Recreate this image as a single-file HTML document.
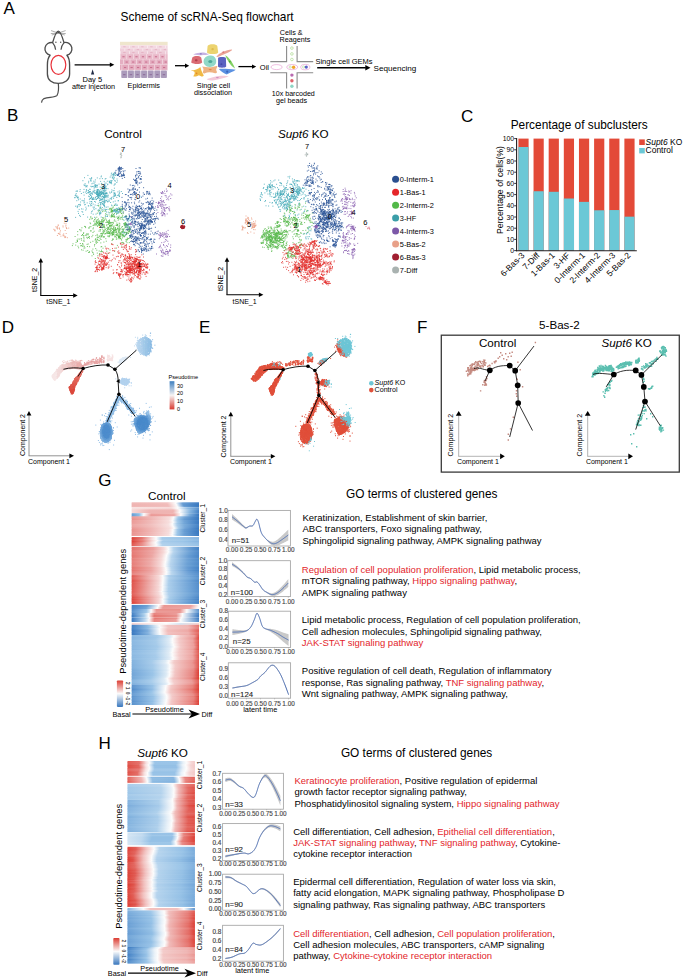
<!DOCTYPE html>
<html><head><meta charset="utf-8"><title>scRNA-Seq figure</title>
<style>html,body{margin:0;padding:0;background:#fff;overflow:hidden;}svg{display:block;}text{font-family:"Liberation Sans", sans-serif;}</style>
</head><body>
<svg width="685" height="980" viewBox="0 0 685 980" font-family='"Liberation Sans", sans-serif'>
<defs><clipPath id="epi"><rect x="120" y="41" width="47.8" height="38"/></clipPath><linearGradient id="h1"><stop offset="0.000" stop-color="#f0b8b6"/><stop offset="0.530" stop-color="#f1bfbe"/><stop offset="0.660" stop-color="#fcfcfc"/><stop offset="0.760" stop-color="#6da1d5"/><stop offset="1.000" stop-color="#3878c0"/></linearGradient><linearGradient id="h2"><stop offset="0.000" stop-color="#efb5b3"/><stop offset="0.523" stop-color="#f1bdbb"/><stop offset="0.653" stop-color="#fcfcfc"/><stop offset="0.753" stop-color="#679cd3"/><stop offset="1.000" stop-color="#3878c0"/></linearGradient><linearGradient id="h3"><stop offset="0.000" stop-color="#efb4b2"/><stop offset="0.533" stop-color="#f1bcba"/><stop offset="0.663" stop-color="#fcfcfc"/><stop offset="0.763" stop-color="#649bd2"/><stop offset="1.000" stop-color="#3878c0"/></linearGradient><linearGradient id="h4"><stop offset="0.000" stop-color="#efb3b1"/><stop offset="0.544" stop-color="#f0bbba"/><stop offset="0.674" stop-color="#fcfcfc"/><stop offset="0.774" stop-color="#639ad2"/><stop offset="1.000" stop-color="#3878c0"/></linearGradient><linearGradient id="h5"><stop offset="0.000" stop-color="#f1bcba"/><stop offset="0.554" stop-color="#f2c3c2"/><stop offset="0.684" stop-color="#fcfcfc"/><stop offset="0.784" stop-color="#76a8d9"/><stop offset="1.000" stop-color="#3e7cc2"/></linearGradient><linearGradient id="h6"><stop offset="0.000" stop-color="#f7e1e0"/><stop offset="0.584" stop-color="#f5d4d3"/><stop offset="0.684" stop-color="#fcfcfc"/><stop offset="0.834" stop-color="#8ebbe3"/><stop offset="1.000" stop-color="#5992ce"/></linearGradient><linearGradient id="h7"><stop offset="0.000" stop-color="#f7dfde"/><stop offset="0.584" stop-color="#f4d1d0"/><stop offset="0.684" stop-color="#fcfcfc"/><stop offset="0.834" stop-color="#86b5e0"/><stop offset="1.000" stop-color="#4d89c9"/></linearGradient><linearGradient id="h8"><stop offset="0.000" stop-color="#f6d9d8"/><stop offset="0.265" stop-color="#f0b7b5"/><stop offset="0.615" stop-color="#f0b7b5"/><stop offset="0.715" stop-color="#fcfcfc"/><stop offset="0.865" stop-color="#8bb9e2"/><stop offset="1.000" stop-color="#4b87c8"/></linearGradient><linearGradient id="h9"><stop offset="0.000" stop-color="#f6d8d7"/><stop offset="0.269" stop-color="#efb4b2"/><stop offset="0.619" stop-color="#efb4b2"/><stop offset="0.719" stop-color="#fcfcfc"/><stop offset="0.869" stop-color="#86b5e0"/><stop offset="1.000" stop-color="#4481c5"/></linearGradient><linearGradient id="h10"><stop offset="0.000" stop-color="#f6d8d7"/><stop offset="0.260" stop-color="#efb4b2"/><stop offset="0.610" stop-color="#efb4b2"/><stop offset="0.710" stop-color="#fcfcfc"/><stop offset="0.860" stop-color="#87b6e0"/><stop offset="1.000" stop-color="#4582c5"/></linearGradient><linearGradient id="h11"><stop offset="0.000" stop-color="#689ed4"/><stop offset="0.111" stop-color="#91bee4"/><stop offset="0.181" stop-color="#fcfcfc"/><stop offset="0.291" stop-color="#ec9e9b"/><stop offset="0.631" stop-color="#eeaba8"/><stop offset="0.731" stop-color="#fcfcfc"/><stop offset="0.861" stop-color="#7daedc"/><stop offset="1.000" stop-color="#3878c0"/></linearGradient><linearGradient id="h12"><stop offset="0.000" stop-color="#649bd2"/><stop offset="0.108" stop-color="#8ebce3"/><stop offset="0.178" stop-color="#fcfcfc"/><stop offset="0.288" stop-color="#eb9a97"/><stop offset="0.628" stop-color="#eda7a5"/><stop offset="0.728" stop-color="#fcfcfc"/><stop offset="0.858" stop-color="#79abdb"/><stop offset="1.000" stop-color="#3878c0"/></linearGradient><linearGradient id="h13"><stop offset="0.000" stop-color="#649ad2"/><stop offset="0.112" stop-color="#8ebbe3"/><stop offset="0.182" stop-color="#fcfcfc"/><stop offset="0.292" stop-color="#eb9a96"/><stop offset="0.632" stop-color="#eda7a4"/><stop offset="0.732" stop-color="#fcfcfc"/><stop offset="0.862" stop-color="#79abda"/><stop offset="1.000" stop-color="#3878c0"/></linearGradient><linearGradient id="h14"><stop offset="0.000" stop-color="#ea9793"/><stop offset="0.294" stop-color="#f0b8b6"/><stop offset="0.564" stop-color="#f7dedd"/><stop offset="0.624" stop-color="#fcfcfc"/><stop offset="0.694" stop-color="#9fc7e8"/><stop offset="0.794" stop-color="#6da1d6"/><stop offset="1.000" stop-color="#3878c0"/></linearGradient><linearGradient id="h15"><stop offset="0.000" stop-color="#eb9995"/><stop offset="0.291" stop-color="#f0b9b7"/><stop offset="0.561" stop-color="#f7dedd"/><stop offset="0.621" stop-color="#fcfcfc"/><stop offset="0.691" stop-color="#a0c8e9"/><stop offset="0.791" stop-color="#6fa3d6"/><stop offset="1.000" stop-color="#3878c0"/></linearGradient><linearGradient id="h16"><stop offset="0.000" stop-color="#e98e89"/><stop offset="0.284" stop-color="#efb4b2"/><stop offset="0.554" stop-color="#f6dcdb"/><stop offset="0.614" stop-color="#fcfcfc"/><stop offset="0.684" stop-color="#99c4e7"/><stop offset="0.784" stop-color="#649bd2"/><stop offset="1.000" stop-color="#3878c0"/></linearGradient><linearGradient id="h17"><stop offset="0.000" stop-color="#eb9995"/><stop offset="0.275" stop-color="#f0b9b7"/><stop offset="0.545" stop-color="#f7dedd"/><stop offset="0.605" stop-color="#fcfcfc"/><stop offset="0.675" stop-color="#a0c8e9"/><stop offset="0.775" stop-color="#6fa3d6"/><stop offset="1.000" stop-color="#3878c0"/></linearGradient><linearGradient id="h18"><stop offset="0.000" stop-color="#eb9995"/><stop offset="0.283" stop-color="#f0b9b7"/><stop offset="0.553" stop-color="#f7dedd"/><stop offset="0.613" stop-color="#fcfcfc"/><stop offset="0.683" stop-color="#a0c8e9"/><stop offset="0.783" stop-color="#6fa3d6"/><stop offset="1.000" stop-color="#3878c0"/></linearGradient><linearGradient id="h19"><stop offset="0.000" stop-color="#eb9c99"/><stop offset="0.286" stop-color="#f0bbb9"/><stop offset="0.556" stop-color="#f7dfde"/><stop offset="0.616" stop-color="#fcfcfc"/><stop offset="0.686" stop-color="#a2c9e9"/><stop offset="0.786" stop-color="#72a6d8"/><stop offset="1.000" stop-color="#3979c0"/></linearGradient><linearGradient id="h20"><stop offset="0.000" stop-color="#ec9e9a"/><stop offset="0.274" stop-color="#f0bbba"/><stop offset="0.544" stop-color="#f7dfde"/><stop offset="0.604" stop-color="#fcfcfc"/><stop offset="0.674" stop-color="#a3cae9"/><stop offset="0.774" stop-color="#74a7d8"/><stop offset="1.000" stop-color="#3b7ac1"/></linearGradient><linearGradient id="h21"><stop offset="0.000" stop-color="#eda6a3"/><stop offset="0.275" stop-color="#f1bfbd"/><stop offset="0.545" stop-color="#f7e1e0"/><stop offset="0.605" stop-color="#fcfcfc"/><stop offset="0.675" stop-color="#a9ccea"/><stop offset="0.775" stop-color="#7baddb"/><stop offset="1.000" stop-color="#4683c6"/></linearGradient><linearGradient id="h22"><stop offset="0.000" stop-color="#eca3a0"/><stop offset="0.287" stop-color="#f1bebc"/><stop offset="0.557" stop-color="#f7e0e0"/><stop offset="0.617" stop-color="#fcfcfc"/><stop offset="0.687" stop-color="#a7cbea"/><stop offset="0.787" stop-color="#78aada"/><stop offset="1.000" stop-color="#4280c4"/></linearGradient><linearGradient id="h23"><stop offset="0.000" stop-color="#ea9693"/><stop offset="0.300" stop-color="#f0b8b6"/><stop offset="0.570" stop-color="#f7dedd"/><stop offset="0.630" stop-color="#fcfcfc"/><stop offset="0.700" stop-color="#9fc7e8"/><stop offset="0.800" stop-color="#6da1d6"/><stop offset="1.000" stop-color="#3878c0"/></linearGradient><linearGradient id="h24"><stop offset="0.000" stop-color="#e98d88"/><stop offset="0.282" stop-color="#efb3b1"/><stop offset="0.552" stop-color="#f6dcdb"/><stop offset="0.612" stop-color="#fcfcfc"/><stop offset="0.682" stop-color="#99c3e7"/><stop offset="0.782" stop-color="#649ad2"/><stop offset="1.000" stop-color="#3878c0"/></linearGradient><linearGradient id="h25"><stop offset="0.000" stop-color="#e98f8a"/><stop offset="0.284" stop-color="#efb4b2"/><stop offset="0.554" stop-color="#f6dcdb"/><stop offset="0.614" stop-color="#fcfcfc"/><stop offset="0.684" stop-color="#9ac4e7"/><stop offset="0.784" stop-color="#669cd3"/><stop offset="1.000" stop-color="#3878c0"/></linearGradient><linearGradient id="h26"><stop offset="0.000" stop-color="#ea9692"/><stop offset="0.278" stop-color="#f0b8b6"/><stop offset="0.548" stop-color="#f7dedd"/><stop offset="0.608" stop-color="#fcfcfc"/><stop offset="0.678" stop-color="#9fc7e8"/><stop offset="0.778" stop-color="#6da1d5"/><stop offset="1.000" stop-color="#3878c0"/></linearGradient><linearGradient id="h27"><stop offset="0.000" stop-color="#ea938f"/><stop offset="0.280" stop-color="#f0b6b5"/><stop offset="0.550" stop-color="#f6dddc"/><stop offset="0.610" stop-color="#fcfcfc"/><stop offset="0.680" stop-color="#9dc6e8"/><stop offset="0.780" stop-color="#6a9fd4"/><stop offset="1.000" stop-color="#3878c0"/></linearGradient><linearGradient id="h28"><stop offset="0.000" stop-color="#ea928e"/><stop offset="0.271" stop-color="#f0b6b4"/><stop offset="0.541" stop-color="#f6dddc"/><stop offset="0.601" stop-color="#fcfcfc"/><stop offset="0.671" stop-color="#9cc5e8"/><stop offset="0.771" stop-color="#699ed4"/><stop offset="1.000" stop-color="#3878c0"/></linearGradient><linearGradient id="h29"><stop offset="0.000" stop-color="#eb9b97"/><stop offset="0.279" stop-color="#f0bab8"/><stop offset="0.549" stop-color="#f7dfde"/><stop offset="0.609" stop-color="#fcfcfc"/><stop offset="0.679" stop-color="#a2c9e9"/><stop offset="0.779" stop-color="#71a5d7"/><stop offset="1.000" stop-color="#3878c0"/></linearGradient><linearGradient id="h30"><stop offset="0.000" stop-color="#dc3d33"/><stop offset="0.154" stop-color="#e36b64"/><stop offset="0.304" stop-color="#f6dada"/><stop offset="0.364" stop-color="#fcfcfc"/><stop offset="0.454" stop-color="#a0c8e9"/><stop offset="0.754" stop-color="#95c0e6"/><stop offset="1.000" stop-color="#7fafdd"/></linearGradient><linearGradient id="h31"><stop offset="0.000" stop-color="#de473e"/><stop offset="0.152" stop-color="#e7827d"/><stop offset="0.302" stop-color="#f7dfde"/><stop offset="0.362" stop-color="#fcfcfc"/><stop offset="0.452" stop-color="#abceeb"/><stop offset="0.752" stop-color="#a1c8e9"/><stop offset="1.000" stop-color="#8ebbe3"/></linearGradient><linearGradient id="h32"><stop offset="0.000" stop-color="#de483f"/><stop offset="0.172" stop-color="#e7837e"/><stop offset="0.322" stop-color="#f7dfde"/><stop offset="0.382" stop-color="#fcfcfc"/><stop offset="0.472" stop-color="#acceeb"/><stop offset="0.772" stop-color="#a2c9e9"/><stop offset="1.000" stop-color="#8ebbe3"/></linearGradient><linearGradient id="h33"><stop offset="0.000" stop-color="#dc3d33"/><stop offset="0.156" stop-color="#e57771"/><stop offset="0.306" stop-color="#f6dddc"/><stop offset="0.366" stop-color="#fcfcfc"/><stop offset="0.456" stop-color="#a6cbea"/><stop offset="0.756" stop-color="#9bc5e8"/><stop offset="1.000" stop-color="#86b5e0"/></linearGradient><linearGradient id="h34"><stop offset="0.000" stop-color="#dd4339"/><stop offset="0.144" stop-color="#e77f7a"/><stop offset="0.294" stop-color="#f7dedd"/><stop offset="0.354" stop-color="#fcfcfc"/><stop offset="0.444" stop-color="#aacdeb"/><stop offset="0.744" stop-color="#a0c7e9"/><stop offset="1.000" stop-color="#8bb9e2"/></linearGradient><linearGradient id="h35"><stop offset="0.000" stop-color="#df4f46"/><stop offset="0.151" stop-color="#e88884"/><stop offset="0.301" stop-color="#f7e0df"/><stop offset="0.361" stop-color="#fcfcfc"/><stop offset="0.451" stop-color="#aed0ec"/><stop offset="0.751" stop-color="#a5caea"/><stop offset="1.000" stop-color="#91bee4"/></linearGradient><linearGradient id="h36"><stop offset="0.000" stop-color="#e15951"/><stop offset="0.160" stop-color="#e9908c"/><stop offset="0.310" stop-color="#f7e1e0"/><stop offset="0.370" stop-color="#fcfcfc"/><stop offset="0.460" stop-color="#b2d2ec"/><stop offset="0.760" stop-color="#a9cdeb"/><stop offset="1.000" stop-color="#96c2e6"/></linearGradient><linearGradient id="h37"><stop offset="0.000" stop-color="#df524a"/><stop offset="0.153" stop-color="#e98b86"/><stop offset="0.303" stop-color="#f7e0df"/><stop offset="0.363" stop-color="#fcfcfc"/><stop offset="0.453" stop-color="#afd0ec"/><stop offset="0.753" stop-color="#a6cbea"/><stop offset="1.000" stop-color="#93bfe5"/></linearGradient><linearGradient id="h38"><stop offset="0.000" stop-color="#e4716b"/><stop offset="0.320" stop-color="#eca29f"/><stop offset="0.470" stop-color="#f5d6d5"/><stop offset="0.540" stop-color="#fcfcfc"/><stop offset="0.620" stop-color="#b3d3ed"/><stop offset="0.870" stop-color="#6399d1"/><stop offset="1.000" stop-color="#4582c5"/></linearGradient><linearGradient id="h39"><stop offset="0.000" stop-color="#e4716a"/><stop offset="0.326" stop-color="#eca29f"/><stop offset="0.476" stop-color="#f5d6d5"/><stop offset="0.546" stop-color="#fcfcfc"/><stop offset="0.626" stop-color="#b3d2ed"/><stop offset="0.876" stop-color="#6299d1"/><stop offset="1.000" stop-color="#4482c5"/></linearGradient><linearGradient id="h40"><stop offset="0.000" stop-color="#e57771"/><stop offset="0.317" stop-color="#eda6a3"/><stop offset="0.467" stop-color="#f5d7d6"/><stop offset="0.537" stop-color="#fcfcfc"/><stop offset="0.617" stop-color="#b5d4ed"/><stop offset="0.867" stop-color="#679dd3"/><stop offset="1.000" stop-color="#4a86c7"/></linearGradient><linearGradient id="h41"><stop offset="0.000" stop-color="#e67a74"/><stop offset="0.324" stop-color="#eda8a6"/><stop offset="0.474" stop-color="#f6d8d7"/><stop offset="0.544" stop-color="#fcfcfc"/><stop offset="0.624" stop-color="#b7d4ed"/><stop offset="0.874" stop-color="#699ed4"/><stop offset="1.000" stop-color="#4d88c8"/></linearGradient><linearGradient id="h42"><stop offset="0.000" stop-color="#e67a74"/><stop offset="0.313" stop-color="#eda8a6"/><stop offset="0.463" stop-color="#f6d8d7"/><stop offset="0.533" stop-color="#fcfcfc"/><stop offset="0.613" stop-color="#b7d4ed"/><stop offset="0.863" stop-color="#699fd4"/><stop offset="1.000" stop-color="#4d88c8"/></linearGradient><linearGradient id="h43"><stop offset="0.000" stop-color="#e67a74"/><stop offset="0.297" stop-color="#eda9a6"/><stop offset="0.447" stop-color="#f6d8d7"/><stop offset="0.517" stop-color="#fcfcfc"/><stop offset="0.597" stop-color="#b7d5ed"/><stop offset="0.847" stop-color="#699fd4"/><stop offset="1.000" stop-color="#4d88c9"/></linearGradient><linearGradient id="h44"><stop offset="0.000" stop-color="#e5726c"/><stop offset="0.298" stop-color="#eca3a0"/><stop offset="0.448" stop-color="#f5d6d5"/><stop offset="0.518" stop-color="#fcfcfc"/><stop offset="0.598" stop-color="#b4d3ed"/><stop offset="0.848" stop-color="#639ad2"/><stop offset="1.000" stop-color="#4683c5"/></linearGradient><linearGradient id="h45"><stop offset="0.000" stop-color="#e67973"/><stop offset="0.292" stop-color="#eda8a5"/><stop offset="0.442" stop-color="#f6d8d7"/><stop offset="0.512" stop-color="#fcfcfc"/><stop offset="0.592" stop-color="#b6d4ed"/><stop offset="0.842" stop-color="#699ed4"/><stop offset="1.000" stop-color="#4c87c8"/></linearGradient><linearGradient id="h46"><stop offset="0.000" stop-color="#e7807a"/><stop offset="0.289" stop-color="#eeadaa"/><stop offset="0.439" stop-color="#f6d9d8"/><stop offset="0.509" stop-color="#fcfcfc"/><stop offset="0.589" stop-color="#b9d6ee"/><stop offset="0.839" stop-color="#6ea2d6"/><stop offset="1.000" stop-color="#538dcb"/></linearGradient><linearGradient id="h47"><stop offset="0.000" stop-color="#e67b75"/><stop offset="0.290" stop-color="#eda9a6"/><stop offset="0.440" stop-color="#f6d8d7"/><stop offset="0.510" stop-color="#fcfcfc"/><stop offset="0.590" stop-color="#b7d5ee"/><stop offset="0.840" stop-color="#6a9fd4"/><stop offset="1.000" stop-color="#4e89c9"/></linearGradient><linearGradient id="h48"><stop offset="0.000" stop-color="#e7837e"/><stop offset="0.282" stop-color="#eeb0ad"/><stop offset="0.432" stop-color="#f6dad9"/><stop offset="0.502" stop-color="#fcfcfc"/><stop offset="0.582" stop-color="#bad7ee"/><stop offset="0.832" stop-color="#71a5d7"/><stop offset="1.000" stop-color="#5690cc"/></linearGradient><linearGradient id="h49"><stop offset="0.000" stop-color="#e77f7a"/><stop offset="0.280" stop-color="#eeacaa"/><stop offset="0.430" stop-color="#f6d9d8"/><stop offset="0.500" stop-color="#fcfcfc"/><stop offset="0.580" stop-color="#b9d6ee"/><stop offset="0.830" stop-color="#6ea2d6"/><stop offset="1.000" stop-color="#528ccb"/></linearGradient><linearGradient id="h50"><stop offset="0.000" stop-color="#e67c76"/><stop offset="0.275" stop-color="#eeaaa8"/><stop offset="0.425" stop-color="#f6d8d7"/><stop offset="0.495" stop-color="#fcfcfc"/><stop offset="0.575" stop-color="#b8d5ee"/><stop offset="0.825" stop-color="#6ba0d5"/><stop offset="1.000" stop-color="#4f8ac9"/></linearGradient><linearGradient id="h51"><stop offset="0.000" stop-color="#e7827d"/><stop offset="0.277" stop-color="#eeafac"/><stop offset="0.427" stop-color="#f6dad9"/><stop offset="0.497" stop-color="#fcfcfc"/><stop offset="0.577" stop-color="#bad6ee"/><stop offset="0.827" stop-color="#70a4d7"/><stop offset="1.000" stop-color="#558fcc"/></linearGradient><linearGradient id="h52"><stop offset="0.000" stop-color="#e67e78"/><stop offset="0.274" stop-color="#eeaca9"/><stop offset="0.424" stop-color="#f6d9d8"/><stop offset="0.494" stop-color="#fcfcfc"/><stop offset="0.574" stop-color="#b8d5ee"/><stop offset="0.824" stop-color="#6da1d5"/><stop offset="1.000" stop-color="#518cca"/></linearGradient><linearGradient id="h53"><stop offset="0.000" stop-color="#e5736d"/><stop offset="0.288" stop-color="#eda4a0"/><stop offset="0.438" stop-color="#f5d6d5"/><stop offset="0.508" stop-color="#fcfcfc"/><stop offset="0.588" stop-color="#b4d3ed"/><stop offset="0.838" stop-color="#649ad2"/><stop offset="1.000" stop-color="#4683c6"/></linearGradient><linearGradient id="h54"><stop offset="0.000" stop-color="#e67c77"/><stop offset="0.294" stop-color="#eeaaa8"/><stop offset="0.444" stop-color="#f6d8d7"/><stop offset="0.514" stop-color="#fcfcfc"/><stop offset="0.594" stop-color="#b8d5ee"/><stop offset="0.844" stop-color="#6ca0d5"/><stop offset="1.000" stop-color="#508aca"/></linearGradient><linearGradient id="h55"><stop offset="0.000" stop-color="#e46f69"/><stop offset="0.287" stop-color="#eca19e"/><stop offset="0.437" stop-color="#f5d6d5"/><stop offset="0.507" stop-color="#fcfcfc"/><stop offset="0.587" stop-color="#b3d2ed"/><stop offset="0.837" stop-color="#6198d1"/><stop offset="1.000" stop-color="#4380c4"/></linearGradient><linearGradient id="h56"><stop offset="0.000" stop-color="#e67b75"/><stop offset="0.296" stop-color="#eda9a7"/><stop offset="0.446" stop-color="#f6d8d7"/><stop offset="0.516" stop-color="#fcfcfc"/><stop offset="0.596" stop-color="#b7d5ee"/><stop offset="0.846" stop-color="#6b9fd5"/><stop offset="1.000" stop-color="#4e89c9"/></linearGradient><linearGradient id="h57"><stop offset="0.000" stop-color="#e7847f"/><stop offset="0.291" stop-color="#efb0ae"/><stop offset="0.441" stop-color="#f6dad9"/><stop offset="0.511" stop-color="#fcfcfc"/><stop offset="0.591" stop-color="#bbd7ee"/><stop offset="0.841" stop-color="#72a5d8"/><stop offset="1.000" stop-color="#5790cd"/></linearGradient><linearGradient id="h58"><stop offset="0.000" stop-color="#e88883"/><stop offset="0.296" stop-color="#efb3b1"/><stop offset="0.446" stop-color="#f6dbda"/><stop offset="0.516" stop-color="#fcfcfc"/><stop offset="0.596" stop-color="#bcd8ef"/><stop offset="0.846" stop-color="#75a8d9"/><stop offset="1.000" stop-color="#5b93ce"/></linearGradient><linearGradient id="h59"><stop offset="0.000" stop-color="#e2615a"/><stop offset="0.249" stop-color="#eeafad"/><stop offset="0.399" stop-color="#f6dad9"/><stop offset="0.459" stop-color="#fcfcfc"/><stop offset="0.549" stop-color="#b1d1ec"/><stop offset="0.849" stop-color="#7aabdb"/><stop offset="1.000" stop-color="#5f96d0"/></linearGradient><linearGradient id="h60"><stop offset="0.000" stop-color="#e0574f"/><stop offset="0.250" stop-color="#eda9a6"/><stop offset="0.400" stop-color="#f6d8d7"/><stop offset="0.460" stop-color="#fcfcfc"/><stop offset="0.550" stop-color="#adcfeb"/><stop offset="0.850" stop-color="#73a6d8"/><stop offset="1.000" stop-color="#5790cc"/></linearGradient><linearGradient id="h61"><stop offset="0.000" stop-color="#e2615a"/><stop offset="0.257" stop-color="#eeafad"/><stop offset="0.407" stop-color="#f6dad9"/><stop offset="0.467" stop-color="#fcfcfc"/><stop offset="0.557" stop-color="#b1d1ec"/><stop offset="0.857" stop-color="#7aabdb"/><stop offset="1.000" stop-color="#5e96d0"/></linearGradient><linearGradient id="h62"><stop offset="0.000" stop-color="#e26058"/><stop offset="0.254" stop-color="#eeaeac"/><stop offset="0.404" stop-color="#f6d9d9"/><stop offset="0.464" stop-color="#fcfcfc"/><stop offset="0.554" stop-color="#b0d1ec"/><stop offset="0.854" stop-color="#79abda"/><stop offset="1.000" stop-color="#5e95cf"/></linearGradient><linearGradient id="h63"><stop offset="0.000" stop-color="#df4d44"/><stop offset="0.254" stop-color="#eca3a0"/><stop offset="0.404" stop-color="#f5d6d5"/><stop offset="0.464" stop-color="#fcfcfc"/><stop offset="0.554" stop-color="#a9cdeb"/><stop offset="0.854" stop-color="#6da1d6"/><stop offset="1.000" stop-color="#4f8ac9"/></linearGradient><linearGradient id="h64"><stop offset="0.000" stop-color="#df4e46"/><stop offset="0.253" stop-color="#eca3a0"/><stop offset="0.403" stop-color="#f5d6d5"/><stop offset="0.463" stop-color="#fcfcfc"/><stop offset="0.553" stop-color="#aacdeb"/><stop offset="0.853" stop-color="#6ea2d6"/><stop offset="1.000" stop-color="#508bca"/></linearGradient><linearGradient id="h65"><stop offset="0.000" stop-color="#df5249"/><stop offset="0.250" stop-color="#eda5a2"/><stop offset="0.400" stop-color="#f5d7d6"/><stop offset="0.460" stop-color="#fcfcfc"/><stop offset="0.550" stop-color="#abceeb"/><stop offset="0.850" stop-color="#70a4d7"/><stop offset="1.000" stop-color="#538dcb"/></linearGradient><linearGradient id="h66"><stop offset="0.000" stop-color="#e0554c"/><stop offset="0.249" stop-color="#eda7a4"/><stop offset="0.399" stop-color="#f6d8d7"/><stop offset="0.459" stop-color="#fcfcfc"/><stop offset="0.549" stop-color="#acceeb"/><stop offset="0.849" stop-color="#72a5d7"/><stop offset="1.000" stop-color="#558fcc"/></linearGradient><linearGradient id="h67"><stop offset="0.000" stop-color="#e0554d"/><stop offset="0.244" stop-color="#eda7a5"/><stop offset="0.394" stop-color="#f6d8d7"/><stop offset="0.454" stop-color="#fcfcfc"/><stop offset="0.544" stop-color="#acceeb"/><stop offset="0.844" stop-color="#72a5d7"/><stop offset="1.000" stop-color="#558fcc"/></linearGradient><linearGradient id="h68"><stop offset="0.000" stop-color="#e0554d"/><stop offset="0.252" stop-color="#eda8a5"/><stop offset="0.402" stop-color="#f6d8d7"/><stop offset="0.462" stop-color="#fcfcfc"/><stop offset="0.552" stop-color="#accfeb"/><stop offset="0.852" stop-color="#72a5d8"/><stop offset="1.000" stop-color="#558fcc"/></linearGradient><linearGradient id="h69"><stop offset="0.000" stop-color="#e0564d"/><stop offset="0.246" stop-color="#eda8a5"/><stop offset="0.396" stop-color="#f6d8d7"/><stop offset="0.456" stop-color="#fcfcfc"/><stop offset="0.546" stop-color="#accfeb"/><stop offset="0.846" stop-color="#72a6d8"/><stop offset="1.000" stop-color="#568fcc"/></linearGradient><linearGradient id="h70"><stop offset="0.000" stop-color="#e15951"/><stop offset="0.247" stop-color="#eeaaa7"/><stop offset="0.397" stop-color="#f6d8d7"/><stop offset="0.457" stop-color="#fcfcfc"/><stop offset="0.547" stop-color="#aecfec"/><stop offset="0.847" stop-color="#74a7d9"/><stop offset="1.000" stop-color="#5891cd"/></linearGradient><linearGradient id="h71"><stop offset="0.000" stop-color="#e0564e"/><stop offset="0.236" stop-color="#eda8a5"/><stop offset="0.386" stop-color="#f6d8d7"/><stop offset="0.446" stop-color="#fcfcfc"/><stop offset="0.536" stop-color="#adcfeb"/><stop offset="0.836" stop-color="#73a6d8"/><stop offset="1.000" stop-color="#568fcc"/></linearGradient><linearGradient id="h72"><stop offset="0.000" stop-color="#e0544b"/><stop offset="0.252" stop-color="#eda7a4"/><stop offset="0.402" stop-color="#f5d7d6"/><stop offset="0.462" stop-color="#fcfcfc"/><stop offset="0.552" stop-color="#acceeb"/><stop offset="0.852" stop-color="#71a5d7"/><stop offset="1.000" stop-color="#548ecb"/></linearGradient><linearGradient id="h73"><stop offset="0.000" stop-color="#e15c54"/><stop offset="0.249" stop-color="#eeaca9"/><stop offset="0.399" stop-color="#f6d9d8"/><stop offset="0.459" stop-color="#fcfcfc"/><stop offset="0.549" stop-color="#afd0ec"/><stop offset="0.849" stop-color="#76a9d9"/><stop offset="1.000" stop-color="#5b93ce"/></linearGradient><linearGradient id="h74"><stop offset="0.000" stop-color="#e05951"/><stop offset="0.257" stop-color="#eeaaa7"/><stop offset="0.407" stop-color="#f6d8d7"/><stop offset="0.467" stop-color="#fcfcfc"/><stop offset="0.557" stop-color="#aecfec"/><stop offset="0.857" stop-color="#74a7d8"/><stop offset="1.000" stop-color="#5891cd"/></linearGradient><linearGradient id="h75"><stop offset="0.000" stop-color="#de483f"/><stop offset="0.265" stop-color="#ec9f9c"/><stop offset="0.415" stop-color="#f5d5d4"/><stop offset="0.475" stop-color="#fcfcfc"/><stop offset="0.565" stop-color="#a7ccea"/><stop offset="0.865" stop-color="#6a9fd4"/><stop offset="1.000" stop-color="#4b87c8"/></linearGradient><linearGradient id="h76"><stop offset="0.000" stop-color="#de473e"/><stop offset="0.251" stop-color="#ec9f9c"/><stop offset="0.401" stop-color="#f5d5d4"/><stop offset="0.461" stop-color="#fcfcfc"/><stop offset="0.551" stop-color="#a7ccea"/><stop offset="0.851" stop-color="#699fd4"/><stop offset="1.000" stop-color="#4b87c8"/></linearGradient><linearGradient id="h77"><stop offset="0.000" stop-color="#dc3d33"/><stop offset="0.250" stop-color="#eb9794"/><stop offset="0.400" stop-color="#f5d3d2"/><stop offset="0.460" stop-color="#fcfcfc"/><stop offset="0.550" stop-color="#a2c9e9"/><stop offset="0.850" stop-color="#6198d1"/><stop offset="1.000" stop-color="#417fc4"/></linearGradient><linearGradient id="h78"><stop offset="0.000" stop-color="#de473e"/><stop offset="0.259" stop-color="#ec9f9b"/><stop offset="0.409" stop-color="#f5d5d4"/><stop offset="0.469" stop-color="#fcfcfc"/><stop offset="0.559" stop-color="#a7cbea"/><stop offset="0.859" stop-color="#699ed4"/><stop offset="1.000" stop-color="#4a86c7"/></linearGradient><linearGradient id="h79"><stop offset="0.000" stop-color="#dd4137"/><stop offset="0.253" stop-color="#eb9b98"/><stop offset="0.403" stop-color="#f5d4d3"/><stop offset="0.463" stop-color="#fcfcfc"/><stop offset="0.553" stop-color="#a5caea"/><stop offset="0.853" stop-color="#659bd2"/><stop offset="1.000" stop-color="#4683c6"/></linearGradient><linearGradient id="h80"><stop offset="0.000" stop-color="#de4c43"/><stop offset="0.258" stop-color="#eca29f"/><stop offset="0.408" stop-color="#f5d6d5"/><stop offset="0.468" stop-color="#fcfcfc"/><stop offset="0.558" stop-color="#a9ccea"/><stop offset="0.858" stop-color="#6ca1d5"/><stop offset="1.000" stop-color="#4e89c9"/></linearGradient><linearGradient id="h81"><stop offset="0.000" stop-color="#4582c5"/><stop offset="0.231" stop-color="#6ca1d5"/><stop offset="0.401" stop-color="#fcfcfc"/><stop offset="0.481" stop-color="#ea9692"/><stop offset="0.881" stop-color="#eca29f"/><stop offset="0.981" stop-color="#f9edec"/><stop offset="1.000" stop-color="#fcfcfc"/></linearGradient><linearGradient id="h82"><stop offset="0.000" stop-color="#4985c7"/><stop offset="0.214" stop-color="#70a4d7"/><stop offset="0.384" stop-color="#fcfcfc"/><stop offset="0.464" stop-color="#eb9a96"/><stop offset="0.864" stop-color="#eda6a3"/><stop offset="0.964" stop-color="#f9eded"/><stop offset="1.000" stop-color="#fcfcfc"/></linearGradient><linearGradient id="h83"><stop offset="0.000" stop-color="#508bca"/><stop offset="0.206" stop-color="#75a8d9"/><stop offset="0.376" stop-color="#fcfcfc"/><stop offset="0.456" stop-color="#ec9f9c"/><stop offset="0.856" stop-color="#eeaba8"/><stop offset="0.956" stop-color="#f9eeed"/><stop offset="1.000" stop-color="#fcfcfc"/></linearGradient><linearGradient id="h84"><stop offset="0.000" stop-color="#4d88c8"/><stop offset="0.219" stop-color="#99c3e7"/><stop offset="0.289" stop-color="#fcfcfc"/><stop offset="0.369" stop-color="#e9918c"/><stop offset="0.719" stop-color="#e9918c"/><stop offset="0.819" stop-color="#fcfcfc"/><stop offset="1.000" stop-color="#568fcc"/></linearGradient><linearGradient id="h85"><stop offset="0.000" stop-color="#5891cd"/><stop offset="0.219" stop-color="#9fc7e9"/><stop offset="0.289" stop-color="#fcfcfc"/><stop offset="0.369" stop-color="#eb9b97"/><stop offset="0.719" stop-color="#eb9b97"/><stop offset="0.819" stop-color="#fcfcfc"/><stop offset="1.000" stop-color="#6198d1"/></linearGradient><linearGradient id="h86"><stop offset="0.000" stop-color="#4f8ac9"/><stop offset="0.215" stop-color="#9ac4e7"/><stop offset="0.285" stop-color="#fcfcfc"/><stop offset="0.365" stop-color="#ea938f"/><stop offset="0.715" stop-color="#ea938f"/><stop offset="0.815" stop-color="#fcfcfc"/><stop offset="1.000" stop-color="#5891cd"/></linearGradient><linearGradient id="h87"><stop offset="0.000" stop-color="#4380c4"/><stop offset="0.183" stop-color="#accfeb"/><stop offset="0.253" stop-color="#fcfcfc"/><stop offset="0.333" stop-color="#e88580"/><stop offset="0.663" stop-color="#eb9c99"/><stop offset="0.753" stop-color="#fcfcfc"/><stop offset="1.000" stop-color="#4380c4"/></linearGradient><linearGradient id="h88"><stop offset="0.000" stop-color="#3878c0"/><stop offset="0.184" stop-color="#a5cbea"/><stop offset="0.254" stop-color="#fcfcfc"/><stop offset="0.334" stop-color="#e57670"/><stop offset="0.664" stop-color="#e9908b"/><stop offset="0.754" stop-color="#fcfcfc"/><stop offset="1.000" stop-color="#3878c0"/></linearGradient><linearGradient id="h89"><stop offset="0.000" stop-color="#3878c0"/><stop offset="0.182" stop-color="#a6cbea"/><stop offset="0.252" stop-color="#fcfcfc"/><stop offset="0.332" stop-color="#e57771"/><stop offset="0.662" stop-color="#e9918c"/><stop offset="0.752" stop-color="#fcfcfc"/><stop offset="1.000" stop-color="#3878c0"/></linearGradient><linearGradient id="h90"><stop offset="0.000" stop-color="#3878c0"/><stop offset="0.205" stop-color="#b5d4ed"/><stop offset="0.265" stop-color="#fcfcfc"/><stop offset="0.345" stop-color="#e5746e"/><stop offset="0.665" stop-color="#e9908c"/><stop offset="0.735" stop-color="#fcfcfc"/><stop offset="1.000" stop-color="#3878c0"/></linearGradient><linearGradient id="h91"><stop offset="0.000" stop-color="#3878c0"/><stop offset="0.196" stop-color="#bcd8ef"/><stop offset="0.256" stop-color="#fcfcfc"/><stop offset="0.336" stop-color="#e88580"/><stop offset="0.656" stop-color="#ec9e9b"/><stop offset="0.726" stop-color="#fcfcfc"/><stop offset="1.000" stop-color="#4a86c7"/></linearGradient><linearGradient id="h92"><stop offset="0.000" stop-color="#3878c0"/><stop offset="0.198" stop-color="#bdd8ef"/><stop offset="0.258" stop-color="#fcfcfc"/><stop offset="0.338" stop-color="#e88883"/><stop offset="0.658" stop-color="#eca19d"/><stop offset="0.728" stop-color="#fcfcfc"/><stop offset="1.000" stop-color="#4c88c8"/></linearGradient><linearGradient id="h93"><stop offset="0.000" stop-color="#f5d2d1"/><stop offset="0.319" stop-color="#faeeee"/><stop offset="0.519" stop-color="#fcfcfc"/><stop offset="0.719" stop-color="#d6e6f4"/><stop offset="1.000" stop-color="#f5d2d1"/></linearGradient><linearGradient id="h94"><stop offset="0.000" stop-color="#f5d7d6"/><stop offset="0.322" stop-color="#faf0ef"/><stop offset="0.522" stop-color="#fcfcfc"/><stop offset="0.722" stop-color="#dae9f5"/><stop offset="1.000" stop-color="#f5d7d6"/></linearGradient><linearGradient id="h95"><stop offset="0.000" stop-color="#417fc3"/><stop offset="0.231" stop-color="#8ab8e1"/><stop offset="0.411" stop-color="#fcfcfc"/><stop offset="0.531" stop-color="#f2c4c3"/><stop offset="0.831" stop-color="#f0b6b4"/><stop offset="1.000" stop-color="#e5756e"/></linearGradient><linearGradient id="h96"><stop offset="0.000" stop-color="#4582c5"/><stop offset="0.248" stop-color="#8cbae2"/><stop offset="0.428" stop-color="#fcfcfc"/><stop offset="0.548" stop-color="#f2c5c4"/><stop offset="0.848" stop-color="#f0b8b6"/><stop offset="1.000" stop-color="#e67973"/></linearGradient><linearGradient id="h97"><stop offset="0.000" stop-color="#3b7bc1"/><stop offset="0.230" stop-color="#87b6e0"/><stop offset="0.410" stop-color="#fcfcfc"/><stop offset="0.530" stop-color="#f2c3c1"/><stop offset="0.830" stop-color="#efb4b2"/><stop offset="1.000" stop-color="#e47069"/></linearGradient><linearGradient id="h98"><stop offset="0.000" stop-color="#3878c0"/><stop offset="0.233" stop-color="#7bacdb"/><stop offset="0.413" stop-color="#fcfcfc"/><stop offset="0.533" stop-color="#f1bdbb"/><stop offset="0.833" stop-color="#eda9a6"/><stop offset="1.000" stop-color="#e15c55"/></linearGradient><linearGradient id="h99"><stop offset="0.000" stop-color="#3878c0"/><stop offset="0.236" stop-color="#7caddc"/><stop offset="0.416" stop-color="#fcfcfc"/><stop offset="0.536" stop-color="#f1bdbb"/><stop offset="0.836" stop-color="#eeaaa7"/><stop offset="1.000" stop-color="#e15e56"/></linearGradient><linearGradient id="h100"><stop offset="0.000" stop-color="#3878c0"/><stop offset="0.240" stop-color="#84b3df"/><stop offset="0.420" stop-color="#fcfcfc"/><stop offset="0.540" stop-color="#f2c1c0"/><stop offset="0.840" stop-color="#efb2b0"/><stop offset="1.000" stop-color="#e36b64"/></linearGradient><linearGradient id="h101"><stop offset="0.000" stop-color="#3878c0"/><stop offset="0.244" stop-color="#7daedc"/><stop offset="0.424" stop-color="#fcfcfc"/><stop offset="0.544" stop-color="#f1bebc"/><stop offset="0.844" stop-color="#eeaba9"/><stop offset="1.000" stop-color="#e26058"/></linearGradient><linearGradient id="h102"><stop offset="0.000" stop-color="#8ab8e1"/><stop offset="0.377" stop-color="#a6cbea"/><stop offset="0.577" stop-color="#dfecf6"/><stop offset="0.627" stop-color="#fcfcfc"/><stop offset="0.727" stop-color="#f3cbca"/><stop offset="0.927" stop-color="#eca29f"/><stop offset="1.000" stop-color="#e0534a"/></linearGradient><linearGradient id="h103"><stop offset="0.000" stop-color="#84b3df"/><stop offset="0.375" stop-color="#a1c8e9"/><stop offset="0.575" stop-color="#deebf6"/><stop offset="0.625" stop-color="#fcfcfc"/><stop offset="0.725" stop-color="#f3c9c7"/><stop offset="0.925" stop-color="#eb9a97"/><stop offset="1.000" stop-color="#de473e"/></linearGradient><linearGradient id="h104"><stop offset="0.000" stop-color="#85b4df"/><stop offset="0.356" stop-color="#a2c9e9"/><stop offset="0.556" stop-color="#deebf6"/><stop offset="0.606" stop-color="#fcfcfc"/><stop offset="0.706" stop-color="#f3c9c7"/><stop offset="0.906" stop-color="#eb9b98"/><stop offset="1.000" stop-color="#de4940"/></linearGradient><linearGradient id="h105"><stop offset="0.000" stop-color="#87b6e0"/><stop offset="0.356" stop-color="#a4cae9"/><stop offset="0.556" stop-color="#dfebf6"/><stop offset="0.606" stop-color="#fcfcfc"/><stop offset="0.706" stop-color="#f3cac9"/><stop offset="0.906" stop-color="#ec9e9b"/><stop offset="1.000" stop-color="#df4d44"/></linearGradient><linearGradient id="h106"><stop offset="0.000" stop-color="#8dbae2"/><stop offset="0.356" stop-color="#a8ccea"/><stop offset="0.556" stop-color="#e0ecf6"/><stop offset="0.606" stop-color="#fcfcfc"/><stop offset="0.706" stop-color="#f4cccb"/><stop offset="0.906" stop-color="#eda5a2"/><stop offset="1.000" stop-color="#e05850"/></linearGradient><linearGradient id="h107"><stop offset="0.000" stop-color="#8cb9e2"/><stop offset="0.362" stop-color="#a7ccea"/><stop offset="0.562" stop-color="#e0ecf6"/><stop offset="0.612" stop-color="#fcfcfc"/><stop offset="0.712" stop-color="#f3cccb"/><stop offset="0.912" stop-color="#eda4a1"/><stop offset="1.000" stop-color="#e0564e"/></linearGradient><linearGradient id="h108"><stop offset="0.000" stop-color="#8ab8e1"/><stop offset="0.356" stop-color="#a6cbea"/><stop offset="0.556" stop-color="#dfecf6"/><stop offset="0.606" stop-color="#fcfcfc"/><stop offset="0.706" stop-color="#f3cbca"/><stop offset="0.906" stop-color="#eca19e"/><stop offset="1.000" stop-color="#df524a"/></linearGradient><linearGradient id="h109"><stop offset="0.000" stop-color="#86b5e0"/><stop offset="0.365" stop-color="#a3c9e9"/><stop offset="0.565" stop-color="#deebf6"/><stop offset="0.615" stop-color="#fcfcfc"/><stop offset="0.715" stop-color="#f3c9c8"/><stop offset="0.915" stop-color="#eb9d99"/><stop offset="1.000" stop-color="#de4b42"/></linearGradient><linearGradient id="h110"><stop offset="0.000" stop-color="#87b6e0"/><stop offset="0.369" stop-color="#a4cae9"/><stop offset="0.569" stop-color="#dfebf6"/><stop offset="0.619" stop-color="#fcfcfc"/><stop offset="0.719" stop-color="#f3cac9"/><stop offset="0.919" stop-color="#ec9e9b"/><stop offset="1.000" stop-color="#df4d45"/></linearGradient><linearGradient id="h111"><stop offset="0.000" stop-color="#88b6e0"/><stop offset="0.380" stop-color="#a4caea"/><stop offset="0.580" stop-color="#dfebf6"/><stop offset="0.630" stop-color="#fcfcfc"/><stop offset="0.730" stop-color="#f3cac9"/><stop offset="0.930" stop-color="#ec9f9c"/><stop offset="1.000" stop-color="#df4f46"/></linearGradient><linearGradient id="h112"><stop offset="0.000" stop-color="#8bb9e2"/><stop offset="0.364" stop-color="#a7ccea"/><stop offset="0.564" stop-color="#e0ecf6"/><stop offset="0.614" stop-color="#fcfcfc"/><stop offset="0.714" stop-color="#f3ccca"/><stop offset="0.914" stop-color="#eca3a0"/><stop offset="1.000" stop-color="#e0554d"/></linearGradient><linearGradient id="h113"><stop offset="0.000" stop-color="#85b4df"/><stop offset="0.361" stop-color="#a2c9e9"/><stop offset="0.561" stop-color="#deebf6"/><stop offset="0.611" stop-color="#fcfcfc"/><stop offset="0.711" stop-color="#f3c9c8"/><stop offset="0.911" stop-color="#eb9c98"/><stop offset="1.000" stop-color="#de4a40"/></linearGradient><linearGradient id="h114"><stop offset="0.000" stop-color="#8cb9e2"/><stop offset="0.358" stop-color="#a7ccea"/><stop offset="0.558" stop-color="#e0ecf6"/><stop offset="0.608" stop-color="#fcfcfc"/><stop offset="0.708" stop-color="#f3cccb"/><stop offset="0.908" stop-color="#eda4a1"/><stop offset="1.000" stop-color="#e0564e"/></linearGradient><linearGradient id="h115"><stop offset="0.000" stop-color="#8ebbe3"/><stop offset="0.347" stop-color="#a9cdeb"/><stop offset="0.547" stop-color="#e0ecf6"/><stop offset="0.597" stop-color="#fcfcfc"/><stop offset="0.697" stop-color="#f4cdcc"/><stop offset="0.897" stop-color="#eda7a4"/><stop offset="1.000" stop-color="#e15b53"/></linearGradient><linearGradient id="h116"><stop offset="0.000" stop-color="#92bee4"/><stop offset="0.359" stop-color="#acceeb"/><stop offset="0.559" stop-color="#e1edf6"/><stop offset="0.609" stop-color="#fcfcfc"/><stop offset="0.709" stop-color="#f4cfcd"/><stop offset="0.909" stop-color="#eeaba9"/><stop offset="1.000" stop-color="#e2625a"/></linearGradient><linearGradient id="h117"><stop offset="0.000" stop-color="#8ab8e1"/><stop offset="0.351" stop-color="#a6cbea"/><stop offset="0.551" stop-color="#dfecf6"/><stop offset="0.601" stop-color="#fcfcfc"/><stop offset="0.701" stop-color="#f3cbca"/><stop offset="0.901" stop-color="#eca29f"/><stop offset="1.000" stop-color="#e0534a"/></linearGradient><linearGradient id="h118"><stop offset="0.000" stop-color="#8cb9e2"/><stop offset="0.357" stop-color="#a7ccea"/><stop offset="0.557" stop-color="#e0ecf6"/><stop offset="0.607" stop-color="#fcfcfc"/><stop offset="0.707" stop-color="#f3cccb"/><stop offset="0.907" stop-color="#eda4a1"/><stop offset="1.000" stop-color="#e0564e"/></linearGradient><linearGradient id="h119"><stop offset="0.000" stop-color="#87b6e0"/><stop offset="0.365" stop-color="#a4caea"/><stop offset="0.565" stop-color="#dfebf6"/><stop offset="0.615" stop-color="#fcfcfc"/><stop offset="0.715" stop-color="#f3cac9"/><stop offset="0.915" stop-color="#ec9e9b"/><stop offset="1.000" stop-color="#df4e45"/></linearGradient><linearGradient id="h120"><stop offset="0.000" stop-color="#8cbae2"/><stop offset="0.359" stop-color="#a8ccea"/><stop offset="0.559" stop-color="#e0ecf6"/><stop offset="0.609" stop-color="#fcfcfc"/><stop offset="0.709" stop-color="#f3cccb"/><stop offset="0.909" stop-color="#eda4a1"/><stop offset="1.000" stop-color="#e0574f"/></linearGradient><linearGradient id="h121"><stop offset="0.000" stop-color="#87b6e0"/><stop offset="0.356" stop-color="#a4cae9"/><stop offset="0.556" stop-color="#dfebf6"/><stop offset="0.606" stop-color="#fcfcfc"/><stop offset="0.706" stop-color="#f3cac8"/><stop offset="0.906" stop-color="#ec9e9a"/><stop offset="1.000" stop-color="#df4d44"/></linearGradient><linearGradient id="h122"><stop offset="0.000" stop-color="#83b2de"/><stop offset="0.303" stop-color="#a7ccea"/><stop offset="0.503" stop-color="#e0ecf6"/><stop offset="0.553" stop-color="#fcfcfc"/><stop offset="0.633" stop-color="#f3cccb"/><stop offset="0.903" stop-color="#eb9995"/><stop offset="1.000" stop-color="#e0564e"/></linearGradient><linearGradient id="h123"><stop offset="0.000" stop-color="#82b2de"/><stop offset="0.295" stop-color="#a7cbea"/><stop offset="0.495" stop-color="#e0ecf6"/><stop offset="0.545" stop-color="#fcfcfc"/><stop offset="0.625" stop-color="#f3ccca"/><stop offset="0.895" stop-color="#eb9894"/><stop offset="1.000" stop-color="#e0554d"/></linearGradient><linearGradient id="h124"><stop offset="0.000" stop-color="#82b1de"/><stop offset="0.311" stop-color="#a7cbea"/><stop offset="0.511" stop-color="#e0ecf6"/><stop offset="0.561" stop-color="#fcfcfc"/><stop offset="0.641" stop-color="#f3ccca"/><stop offset="0.911" stop-color="#eb9794"/><stop offset="1.000" stop-color="#e0544c"/></linearGradient><linearGradient id="h125"><stop offset="0.000" stop-color="#80b0dd"/><stop offset="0.318" stop-color="#a5caea"/><stop offset="0.518" stop-color="#dfebf6"/><stop offset="0.568" stop-color="#fcfcfc"/><stop offset="0.648" stop-color="#f3cbc9"/><stop offset="0.918" stop-color="#ea9591"/><stop offset="1.000" stop-color="#df5148"/></linearGradient><linearGradient id="h126"><stop offset="0.000" stop-color="#81b1de"/><stop offset="0.318" stop-color="#a6cbea"/><stop offset="0.518" stop-color="#dfecf6"/><stop offset="0.568" stop-color="#fcfcfc"/><stop offset="0.648" stop-color="#f3cbca"/><stop offset="0.918" stop-color="#ea9793"/><stop offset="1.000" stop-color="#e0534b"/></linearGradient><linearGradient id="h127"><stop offset="0.000" stop-color="#7daedc"/><stop offset="0.311" stop-color="#a3cae9"/><stop offset="0.511" stop-color="#deebf6"/><stop offset="0.561" stop-color="#fcfcfc"/><stop offset="0.641" stop-color="#f3cac8"/><stop offset="0.911" stop-color="#ea928e"/><stop offset="1.000" stop-color="#de4c43"/></linearGradient><linearGradient id="h128"><stop offset="0.000" stop-color="#74a7d8"/><stop offset="0.319" stop-color="#9dc6e8"/><stop offset="0.519" stop-color="#dceaf5"/><stop offset="0.569" stop-color="#fcfcfc"/><stop offset="0.649" stop-color="#f2c6c4"/><stop offset="0.919" stop-color="#e88681"/><stop offset="1.000" stop-color="#dc3d33"/></linearGradient><linearGradient id="h129"><stop offset="0.000" stop-color="#73a6d8"/><stop offset="0.310" stop-color="#9cc5e8"/><stop offset="0.510" stop-color="#dceaf5"/><stop offset="0.560" stop-color="#fcfcfc"/><stop offset="0.640" stop-color="#f2c6c4"/><stop offset="0.910" stop-color="#e88681"/><stop offset="1.000" stop-color="#dc3d33"/></linearGradient><linearGradient id="h130"><stop offset="0.000" stop-color="#72a5d8"/><stop offset="0.316" stop-color="#9bc5e8"/><stop offset="0.516" stop-color="#dceaf5"/><stop offset="0.566" stop-color="#fcfcfc"/><stop offset="0.646" stop-color="#f2c5c4"/><stop offset="0.916" stop-color="#e7847f"/><stop offset="1.000" stop-color="#dc3d33"/></linearGradient><linearGradient id="h131"><stop offset="0.000" stop-color="#72a5d7"/><stop offset="0.310" stop-color="#9bc5e8"/><stop offset="0.510" stop-color="#dceaf5"/><stop offset="0.560" stop-color="#fcfcfc"/><stop offset="0.640" stop-color="#f2c5c3"/><stop offset="0.910" stop-color="#e7847f"/><stop offset="1.000" stop-color="#dc3d33"/></linearGradient><linearGradient id="h132"><stop offset="0.000" stop-color="#74a7d8"/><stop offset="0.303" stop-color="#9dc6e8"/><stop offset="0.503" stop-color="#dceaf5"/><stop offset="0.553" stop-color="#fcfcfc"/><stop offset="0.633" stop-color="#f2c6c5"/><stop offset="0.903" stop-color="#e88782"/><stop offset="1.000" stop-color="#dc3d33"/></linearGradient><linearGradient id="h133"><stop offset="0.000" stop-color="#74a7d8"/><stop offset="0.279" stop-color="#9dc6e8"/><stop offset="0.479" stop-color="#dceaf5"/><stop offset="0.529" stop-color="#fcfcfc"/><stop offset="0.609" stop-color="#f2c6c5"/><stop offset="0.879" stop-color="#e88782"/><stop offset="1.000" stop-color="#dc3d33"/></linearGradient><linearGradient id="h134"><stop offset="0.000" stop-color="#7caddc"/><stop offset="0.284" stop-color="#a3c9e9"/><stop offset="0.484" stop-color="#deebf6"/><stop offset="0.534" stop-color="#fcfcfc"/><stop offset="0.614" stop-color="#f3c9c8"/><stop offset="0.884" stop-color="#ea918d"/><stop offset="1.000" stop-color="#de4b42"/></linearGradient><linearGradient id="h135"><stop offset="0.000" stop-color="#85b4df"/><stop offset="0.289" stop-color="#a9cdeb"/><stop offset="0.489" stop-color="#e0ecf6"/><stop offset="0.539" stop-color="#fcfcfc"/><stop offset="0.619" stop-color="#f4cdcc"/><stop offset="0.889" stop-color="#eb9c99"/><stop offset="1.000" stop-color="#e15b53"/></linearGradient><linearGradient id="h136"><stop offset="0.000" stop-color="#88b6e0"/><stop offset="0.296" stop-color="#abceeb"/><stop offset="0.496" stop-color="#e1edf6"/><stop offset="0.546" stop-color="#fcfcfc"/><stop offset="0.626" stop-color="#f4cecd"/><stop offset="0.896" stop-color="#ec9f9c"/><stop offset="1.000" stop-color="#e26058"/></linearGradient><linearGradient id="h137"><stop offset="0.000" stop-color="#80b0dd"/><stop offset="0.308" stop-color="#a6cbea"/><stop offset="0.508" stop-color="#dfecf6"/><stop offset="0.558" stop-color="#fcfcfc"/><stop offset="0.638" stop-color="#f3cbca"/><stop offset="0.908" stop-color="#ea9692"/><stop offset="1.000" stop-color="#df5249"/></linearGradient><linearGradient id="h138"><stop offset="0.000" stop-color="#77a9da"/><stop offset="0.301" stop-color="#9fc7e9"/><stop offset="0.501" stop-color="#ddeaf6"/><stop offset="0.551" stop-color="#fcfcfc"/><stop offset="0.631" stop-color="#f3c7c6"/><stop offset="0.901" stop-color="#e98b86"/><stop offset="1.000" stop-color="#dd4238"/></linearGradient><linearGradient id="h139"><stop offset="0.000" stop-color="#5b93ce"/><stop offset="0.310" stop-color="#96c1e6"/><stop offset="0.470" stop-color="#e8f0f8"/><stop offset="0.510" stop-color="#fcfcfc"/><stop offset="0.590" stop-color="#f3c8c6"/><stop offset="0.910" stop-color="#e7807a"/><stop offset="1.000" stop-color="#dd433a"/></linearGradient><linearGradient id="h140"><stop offset="0.000" stop-color="#5d95cf"/><stop offset="0.305" stop-color="#97c2e7"/><stop offset="0.465" stop-color="#e8f1f8"/><stop offset="0.505" stop-color="#fcfcfc"/><stop offset="0.585" stop-color="#f3c9c7"/><stop offset="0.905" stop-color="#e7837d"/><stop offset="1.000" stop-color="#de473e"/></linearGradient><linearGradient id="h141"><stop offset="0.000" stop-color="#5b93ce"/><stop offset="0.303" stop-color="#96c1e6"/><stop offset="0.463" stop-color="#e8f0f8"/><stop offset="0.503" stop-color="#fcfcfc"/><stop offset="0.583" stop-color="#f3c8c6"/><stop offset="0.903" stop-color="#e7807a"/><stop offset="1.000" stop-color="#dd443a"/></linearGradient><linearGradient id="h142"><stop offset="0.000" stop-color="#4f8ac9"/><stop offset="0.301" stop-color="#8ebbe3"/><stop offset="0.461" stop-color="#e6eff7"/><stop offset="0.501" stop-color="#fcfcfc"/><stop offset="0.581" stop-color="#f2c4c2"/><stop offset="0.901" stop-color="#e5736c"/><stop offset="1.000" stop-color="#dc3d33"/></linearGradient><linearGradient id="h143"><stop offset="0.000" stop-color="#5d95cf"/><stop offset="0.295" stop-color="#97c2e7"/><stop offset="0.455" stop-color="#e8f1f8"/><stop offset="0.495" stop-color="#fcfcfc"/><stop offset="0.575" stop-color="#f3c9c7"/><stop offset="0.895" stop-color="#e7837d"/><stop offset="1.000" stop-color="#de473e"/></linearGradient><linearGradient id="h144"><stop offset="0.000" stop-color="#6097d0"/><stop offset="0.292" stop-color="#99c4e7"/><stop offset="0.452" stop-color="#e8f1f8"/><stop offset="0.492" stop-color="#fcfcfc"/><stop offset="0.572" stop-color="#f3c9c8"/><stop offset="0.892" stop-color="#e88580"/><stop offset="1.000" stop-color="#de4b42"/></linearGradient><linearGradient id="h145"><stop offset="0.000" stop-color="#679dd3"/><stop offset="0.305" stop-color="#9ec6e8"/><stop offset="0.465" stop-color="#e9f1f8"/><stop offset="0.505" stop-color="#fcfcfc"/><stop offset="0.585" stop-color="#f3ccca"/><stop offset="0.905" stop-color="#e98d88"/><stop offset="1.000" stop-color="#e0554d"/></linearGradient><linearGradient id="h146"><stop offset="0.000" stop-color="#689dd3"/><stop offset="0.317" stop-color="#9ec7e8"/><stop offset="0.477" stop-color="#e9f1f8"/><stop offset="0.517" stop-color="#fcfcfc"/><stop offset="0.597" stop-color="#f3cccb"/><stop offset="0.917" stop-color="#e98e8a"/><stop offset="1.000" stop-color="#e0574f"/></linearGradient><linearGradient id="h147"><stop offset="0.000" stop-color="#5690cc"/><stop offset="0.322" stop-color="#93bfe5"/><stop offset="0.482" stop-color="#e7f0f8"/><stop offset="0.522" stop-color="#fcfcfc"/><stop offset="0.602" stop-color="#f2c6c5"/><stop offset="0.922" stop-color="#e67b75"/><stop offset="1.000" stop-color="#dc3d33"/></linearGradient><linearGradient id="h148"><stop offset="0.000" stop-color="#5e96d0"/><stop offset="0.322" stop-color="#98c3e7"/><stop offset="0.482" stop-color="#e8f1f8"/><stop offset="0.522" stop-color="#fcfcfc"/><stop offset="0.602" stop-color="#f3c9c8"/><stop offset="0.922" stop-color="#e7847f"/><stop offset="1.000" stop-color="#de4940"/></linearGradient><linearGradient id="h149"><stop offset="0.000" stop-color="#5b93ce"/><stop offset="0.316" stop-color="#96c1e6"/><stop offset="0.476" stop-color="#e8f0f8"/><stop offset="0.516" stop-color="#fcfcfc"/><stop offset="0.596" stop-color="#f3c8c6"/><stop offset="0.916" stop-color="#e7807b"/><stop offset="1.000" stop-color="#dd443a"/></linearGradient><linearGradient id="h150"><stop offset="0.000" stop-color="#558fcc"/><stop offset="0.313" stop-color="#92bfe5"/><stop offset="0.473" stop-color="#e7f0f8"/><stop offset="0.513" stop-color="#fcfcfc"/><stop offset="0.593" stop-color="#f2c6c4"/><stop offset="0.913" stop-color="#e67a74"/><stop offset="1.000" stop-color="#dc3d33"/></linearGradient><linearGradient id="h151"><stop offset="0.000" stop-color="#5992cd"/><stop offset="0.307" stop-color="#94c0e6"/><stop offset="0.467" stop-color="#e7f0f8"/><stop offset="0.507" stop-color="#fcfcfc"/><stop offset="0.587" stop-color="#f3c7c6"/><stop offset="0.907" stop-color="#e67e78"/><stop offset="1.000" stop-color="#dd4037"/></linearGradient><linearGradient id="h152"><stop offset="0.000" stop-color="#5992cd"/><stop offset="0.304" stop-color="#95c0e6"/><stop offset="0.464" stop-color="#e7f0f8"/><stop offset="0.504" stop-color="#fcfcfc"/><stop offset="0.584" stop-color="#f3c7c6"/><stop offset="0.904" stop-color="#e67e79"/><stop offset="1.000" stop-color="#dd4137"/></linearGradient><linearGradient id="cl153" x1="0" y1="0" x2="0" y2="1"><stop offset="0" stop-color="#dc3d33"/><stop offset="0.5" stop-color="#fbfbfb"/><stop offset="1" stop-color="#3a78be"/></linearGradient><linearGradient id="h154"><stop offset="0.000" stop-color="#e15951"/><stop offset="0.170" stop-color="#e4706a"/><stop offset="0.270" stop-color="#f7dfdf"/><stop offset="0.320" stop-color="#fcfcfc"/><stop offset="0.400" stop-color="#9ac4e7"/><stop offset="0.720" stop-color="#9ac4e7"/><stop offset="0.820" stop-color="#e8f1f8"/><stop offset="0.870" stop-color="#fcfcfc"/><stop offset="0.940" stop-color="#f6d8d7"/><stop offset="1.000" stop-color="#f3cac9"/></linearGradient><linearGradient id="h155"><stop offset="0.000" stop-color="#e15a52"/><stop offset="0.179" stop-color="#e4716a"/><stop offset="0.279" stop-color="#f7e0df"/><stop offset="0.329" stop-color="#fcfcfc"/><stop offset="0.409" stop-color="#9ac4e8"/><stop offset="0.729" stop-color="#9ac4e8"/><stop offset="0.829" stop-color="#e8f1f8"/><stop offset="0.879" stop-color="#fcfcfc"/><stop offset="0.949" stop-color="#f6d8d7"/><stop offset="1.000" stop-color="#f3cac9"/></linearGradient><linearGradient id="h156"><stop offset="0.000" stop-color="#e05850"/><stop offset="0.165" stop-color="#e47069"/><stop offset="0.265" stop-color="#f7dfdf"/><stop offset="0.315" stop-color="#fcfcfc"/><stop offset="0.395" stop-color="#9ac4e7"/><stop offset="0.715" stop-color="#9ac4e7"/><stop offset="0.815" stop-color="#e8f1f8"/><stop offset="0.865" stop-color="#fcfcfc"/><stop offset="0.935" stop-color="#f6d8d7"/><stop offset="1.000" stop-color="#f3cac8"/></linearGradient><linearGradient id="h157"><stop offset="0.000" stop-color="#de4c43"/><stop offset="0.164" stop-color="#e2655d"/><stop offset="0.264" stop-color="#f7dedd"/><stop offset="0.314" stop-color="#fcfcfc"/><stop offset="0.394" stop-color="#94c0e5"/><stop offset="0.714" stop-color="#94c0e5"/><stop offset="0.814" stop-color="#e7f0f8"/><stop offset="0.864" stop-color="#fcfcfc"/><stop offset="0.934" stop-color="#f5d6d5"/><stop offset="1.000" stop-color="#f3c7c5"/></linearGradient><linearGradient id="h158"><stop offset="0.000" stop-color="#df4d44"/><stop offset="0.174" stop-color="#e3665f"/><stop offset="0.274" stop-color="#f7dedd"/><stop offset="0.324" stop-color="#fcfcfc"/><stop offset="0.404" stop-color="#95c0e6"/><stop offset="0.724" stop-color="#95c0e6"/><stop offset="0.824" stop-color="#e7f0f8"/><stop offset="0.874" stop-color="#fcfcfc"/><stop offset="0.944" stop-color="#f5d6d5"/><stop offset="1.000" stop-color="#f3c7c6"/></linearGradient><linearGradient id="h159"><stop offset="0.000" stop-color="#e05850"/><stop offset="0.173" stop-color="#e46f69"/><stop offset="0.273" stop-color="#f7dfdf"/><stop offset="0.323" stop-color="#fcfcfc"/><stop offset="0.403" stop-color="#9ac4e7"/><stop offset="0.723" stop-color="#9ac4e7"/><stop offset="0.823" stop-color="#e8f1f8"/><stop offset="0.873" stop-color="#fcfcfc"/><stop offset="0.943" stop-color="#f6d8d7"/><stop offset="1.000" stop-color="#f3cac8"/></linearGradient><linearGradient id="h160"><stop offset="0.000" stop-color="#e2655e"/><stop offset="0.169" stop-color="#e67b75"/><stop offset="0.269" stop-color="#f7e1e0"/><stop offset="0.319" stop-color="#fcfcfc"/><stop offset="0.399" stop-color="#a0c7e9"/><stop offset="0.719" stop-color="#a0c7e9"/><stop offset="0.819" stop-color="#eaf1f8"/><stop offset="0.869" stop-color="#fcfcfc"/><stop offset="0.939" stop-color="#f6dad9"/><stop offset="1.000" stop-color="#f4cdcc"/></linearGradient><linearGradient id="h161"><stop offset="0.000" stop-color="#e15c54"/><stop offset="0.163" stop-color="#e5736d"/><stop offset="0.263" stop-color="#f7e0df"/><stop offset="0.313" stop-color="#fcfcfc"/><stop offset="0.393" stop-color="#9cc5e8"/><stop offset="0.713" stop-color="#9cc5e8"/><stop offset="0.813" stop-color="#e9f1f8"/><stop offset="0.863" stop-color="#fcfcfc"/><stop offset="0.933" stop-color="#f6d9d8"/><stop offset="1.000" stop-color="#f3cbc9"/></linearGradient><linearGradient id="h162"><stop offset="0.000" stop-color="#df5047"/><stop offset="0.146" stop-color="#e36861"/><stop offset="0.246" stop-color="#f7dedd"/><stop offset="0.296" stop-color="#fcfcfc"/><stop offset="0.376" stop-color="#96c1e6"/><stop offset="0.696" stop-color="#96c1e6"/><stop offset="0.796" stop-color="#e8f0f8"/><stop offset="0.846" stop-color="#fcfcfc"/><stop offset="0.916" stop-color="#f5d7d6"/><stop offset="1.000" stop-color="#f3c8c6"/></linearGradient><linearGradient id="h163"><stop offset="0.000" stop-color="#e0564d"/><stop offset="0.147" stop-color="#e46d66"/><stop offset="0.247" stop-color="#f7dfde"/><stop offset="0.297" stop-color="#fcfcfc"/><stop offset="0.377" stop-color="#99c3e7"/><stop offset="0.697" stop-color="#99c3e7"/><stop offset="0.797" stop-color="#e8f1f8"/><stop offset="0.847" stop-color="#fcfcfc"/><stop offset="0.917" stop-color="#f6d8d7"/><stop offset="1.000" stop-color="#f3c9c8"/></linearGradient><linearGradient id="h164"><stop offset="0.000" stop-color="#e0554d"/><stop offset="0.151" stop-color="#e46d66"/><stop offset="0.251" stop-color="#f7dfde"/><stop offset="0.301" stop-color="#fcfcfc"/><stop offset="0.381" stop-color="#98c3e7"/><stop offset="0.701" stop-color="#98c3e7"/><stop offset="0.801" stop-color="#e8f1f8"/><stop offset="0.851" stop-color="#fcfcfc"/><stop offset="0.921" stop-color="#f6d8d7"/><stop offset="1.000" stop-color="#f3c9c8"/></linearGradient><linearGradient id="h165"><stop offset="0.000" stop-color="#e15f57"/><stop offset="0.198" stop-color="#efb2b0"/><stop offset="0.278" stop-color="#fcfcfc"/><stop offset="0.358" stop-color="#8dbbe3"/><stop offset="0.678" stop-color="#84b3df"/><stop offset="0.758" stop-color="#fcfcfc"/><stop offset="0.848" stop-color="#e7827d"/><stop offset="1.000" stop-color="#e15f57"/></linearGradient><linearGradient id="h166"><stop offset="0.000" stop-color="#e2625a"/><stop offset="0.207" stop-color="#efb3b1"/><stop offset="0.287" stop-color="#fcfcfc"/><stop offset="0.367" stop-color="#8fbce3"/><stop offset="0.687" stop-color="#85b5df"/><stop offset="0.767" stop-color="#fcfcfc"/><stop offset="0.857" stop-color="#e88580"/><stop offset="1.000" stop-color="#e2625a"/></linearGradient><linearGradient id="h167"><stop offset="0.000" stop-color="#e3665e"/><stop offset="0.213" stop-color="#efb5b3"/><stop offset="0.293" stop-color="#fcfcfc"/><stop offset="0.373" stop-color="#91bee4"/><stop offset="0.693" stop-color="#88b6e0"/><stop offset="0.773" stop-color="#fcfcfc"/><stop offset="0.863" stop-color="#e88883"/><stop offset="1.000" stop-color="#e3665e"/></linearGradient><linearGradient id="h168"><stop offset="0.000" stop-color="#e15c55"/><stop offset="0.215" stop-color="#efb1af"/><stop offset="0.295" stop-color="#fcfcfc"/><stop offset="0.375" stop-color="#8cbae2"/><stop offset="0.695" stop-color="#83b2de"/><stop offset="0.775" stop-color="#fcfcfc"/><stop offset="0.865" stop-color="#e7817b"/><stop offset="1.000" stop-color="#e15c55"/></linearGradient><linearGradient id="h169"><stop offset="0.000" stop-color="#e3665f"/><stop offset="0.201" stop-color="#efb5b3"/><stop offset="0.281" stop-color="#fcfcfc"/><stop offset="0.361" stop-color="#91bee4"/><stop offset="0.681" stop-color="#88b6e0"/><stop offset="0.761" stop-color="#fcfcfc"/><stop offset="0.851" stop-color="#e88883"/><stop offset="1.000" stop-color="#e3665f"/></linearGradient><linearGradient id="h170"><stop offset="0.000" stop-color="#aacdeb"/><stop offset="0.483" stop-color="#bcd7ef"/><stop offset="0.633" stop-color="#eaf2f8"/><stop offset="0.673" stop-color="#fcfcfc"/><stop offset="0.743" stop-color="#f1c0be"/><stop offset="0.883" stop-color="#e67c76"/><stop offset="1.000" stop-color="#e3665f"/></linearGradient><linearGradient id="h171"><stop offset="0.000" stop-color="#a9ccea"/><stop offset="0.483" stop-color="#bbd7ee"/><stop offset="0.633" stop-color="#e9f1f8"/><stop offset="0.673" stop-color="#fcfcfc"/><stop offset="0.743" stop-color="#f1bfbd"/><stop offset="0.883" stop-color="#e67a74"/><stop offset="1.000" stop-color="#e2645d"/></linearGradient><linearGradient id="h172"><stop offset="0.000" stop-color="#a1c8e9"/><stop offset="0.495" stop-color="#b5d4ed"/><stop offset="0.645" stop-color="#e8f0f8"/><stop offset="0.685" stop-color="#fcfcfc"/><stop offset="0.755" stop-color="#f0bab8"/><stop offset="0.895" stop-color="#e36a63"/><stop offset="1.000" stop-color="#df524a"/></linearGradient><linearGradient id="h173"><stop offset="0.000" stop-color="#a2c9e9"/><stop offset="0.501" stop-color="#b6d4ed"/><stop offset="0.651" stop-color="#e8f1f8"/><stop offset="0.691" stop-color="#fcfcfc"/><stop offset="0.761" stop-color="#f0bbb9"/><stop offset="0.901" stop-color="#e46d66"/><stop offset="1.000" stop-color="#e0564d"/></linearGradient><linearGradient id="h174"><stop offset="0.000" stop-color="#a2c9e9"/><stop offset="0.498" stop-color="#b6d4ed"/><stop offset="0.648" stop-color="#e8f1f8"/><stop offset="0.688" stop-color="#fcfcfc"/><stop offset="0.758" stop-color="#f0bab9"/><stop offset="0.898" stop-color="#e46c65"/><stop offset="1.000" stop-color="#e0554c"/></linearGradient><linearGradient id="h175"><stop offset="0.000" stop-color="#9cc5e8"/><stop offset="0.496" stop-color="#b1d1ec"/><stop offset="0.646" stop-color="#e7f0f8"/><stop offset="0.686" stop-color="#fcfcfc"/><stop offset="0.756" stop-color="#f0b6b4"/><stop offset="0.896" stop-color="#e25f58"/><stop offset="1.000" stop-color="#dd463d"/></linearGradient><linearGradient id="h176"><stop offset="0.000" stop-color="#a7ccea"/><stop offset="0.500" stop-color="#bad6ee"/><stop offset="0.650" stop-color="#e9f1f8"/><stop offset="0.690" stop-color="#fcfcfc"/><stop offset="0.760" stop-color="#f1bebc"/><stop offset="0.900" stop-color="#e57771"/><stop offset="1.000" stop-color="#e26159"/></linearGradient><linearGradient id="h177"><stop offset="0.000" stop-color="#a1c8e9"/><stop offset="0.497" stop-color="#b5d4ed"/><stop offset="0.647" stop-color="#e8f0f8"/><stop offset="0.687" stop-color="#fcfcfc"/><stop offset="0.757" stop-color="#f0b9b8"/><stop offset="0.897" stop-color="#e36962"/><stop offset="1.000" stop-color="#df5149"/></linearGradient><linearGradient id="h178"><stop offset="0.000" stop-color="#a0c7e9"/><stop offset="0.496" stop-color="#b4d3ed"/><stop offset="0.646" stop-color="#e8f0f8"/><stop offset="0.686" stop-color="#fcfcfc"/><stop offset="0.756" stop-color="#f0b9b7"/><stop offset="0.896" stop-color="#e36861"/><stop offset="1.000" stop-color="#df5047"/></linearGradient><linearGradient id="h179"><stop offset="0.000" stop-color="#9fc7e8"/><stop offset="0.480" stop-color="#b4d3ed"/><stop offset="0.630" stop-color="#e7f0f8"/><stop offset="0.670" stop-color="#fcfcfc"/><stop offset="0.740" stop-color="#f0b8b6"/><stop offset="0.880" stop-color="#e3665e"/><stop offset="1.000" stop-color="#df4d44"/></linearGradient><linearGradient id="h180"><stop offset="0.000" stop-color="#a6cbea"/><stop offset="0.478" stop-color="#b9d6ee"/><stop offset="0.628" stop-color="#e9f1f8"/><stop offset="0.668" stop-color="#fcfcfc"/><stop offset="0.738" stop-color="#f1bdbb"/><stop offset="0.878" stop-color="#e5746d"/><stop offset="1.000" stop-color="#e15d55"/></linearGradient><linearGradient id="h181"><stop offset="0.000" stop-color="#84b3df"/><stop offset="0.458" stop-color="#abceeb"/><stop offset="0.608" stop-color="#e8f1f8"/><stop offset="0.668" stop-color="#fcfcfc"/><stop offset="0.728" stop-color="#f0bab8"/><stop offset="0.908" stop-color="#e15f57"/><stop offset="1.000" stop-color="#e0534a"/></linearGradient><linearGradient id="h182"><stop offset="0.000" stop-color="#88b7e1"/><stop offset="0.463" stop-color="#aed0ec"/><stop offset="0.613" stop-color="#e9f1f8"/><stop offset="0.673" stop-color="#fcfcfc"/><stop offset="0.733" stop-color="#f1bcba"/><stop offset="0.913" stop-color="#e3665f"/><stop offset="1.000" stop-color="#e15b53"/></linearGradient><linearGradient id="h183"><stop offset="0.000" stop-color="#84b3df"/><stop offset="0.465" stop-color="#abceeb"/><stop offset="0.615" stop-color="#e8f0f8"/><stop offset="0.675" stop-color="#fcfcfc"/><stop offset="0.735" stop-color="#f0bab8"/><stop offset="0.915" stop-color="#e15e57"/><stop offset="1.000" stop-color="#df524a"/></linearGradient><linearGradient id="h184"><stop offset="0.000" stop-color="#7bacdb"/><stop offset="0.464" stop-color="#a5caea"/><stop offset="0.614" stop-color="#e6f0f7"/><stop offset="0.674" stop-color="#fcfcfc"/><stop offset="0.734" stop-color="#efb5b3"/><stop offset="0.914" stop-color="#df4f46"/><stop offset="1.000" stop-color="#dd4238"/></linearGradient><linearGradient id="h185"><stop offset="0.000" stop-color="#82b2de"/><stop offset="0.467" stop-color="#aacdeb"/><stop offset="0.617" stop-color="#e8f0f8"/><stop offset="0.677" stop-color="#fcfcfc"/><stop offset="0.737" stop-color="#f0b9b7"/><stop offset="0.917" stop-color="#e15c54"/><stop offset="1.000" stop-color="#df5047"/></linearGradient><linearGradient id="h186"><stop offset="0.000" stop-color="#84b3df"/><stop offset="0.464" stop-color="#abceeb"/><stop offset="0.614" stop-color="#e8f0f8"/><stop offset="0.674" stop-color="#fcfcfc"/><stop offset="0.734" stop-color="#f0bab8"/><stop offset="0.914" stop-color="#e15e57"/><stop offset="1.000" stop-color="#df524a"/></linearGradient><linearGradient id="h187"><stop offset="0.000" stop-color="#85b4df"/><stop offset="0.454" stop-color="#accfeb"/><stop offset="0.604" stop-color="#e8f1f8"/><stop offset="0.664" stop-color="#fcfcfc"/><stop offset="0.724" stop-color="#f0bbb9"/><stop offset="0.904" stop-color="#e2615a"/><stop offset="1.000" stop-color="#e0564d"/></linearGradient><linearGradient id="h188"><stop offset="0.000" stop-color="#88b6e0"/><stop offset="0.439" stop-color="#aed0ec"/><stop offset="0.589" stop-color="#e9f1f8"/><stop offset="0.649" stop-color="#fcfcfc"/><stop offset="0.709" stop-color="#f1bcba"/><stop offset="0.889" stop-color="#e3665e"/><stop offset="1.000" stop-color="#e15a52"/></linearGradient><linearGradient id="h189"><stop offset="0.000" stop-color="#90bde4"/><stop offset="0.423" stop-color="#b4d3ed"/><stop offset="0.573" stop-color="#eaf2f8"/><stop offset="0.633" stop-color="#fcfcfc"/><stop offset="0.693" stop-color="#f1c1bf"/><stop offset="0.873" stop-color="#e5746e"/><stop offset="1.000" stop-color="#e36962"/></linearGradient><linearGradient id="h190"><stop offset="0.000" stop-color="#8bb9e2"/><stop offset="0.438" stop-color="#b0d1ec"/><stop offset="0.588" stop-color="#e9f1f8"/><stop offset="0.648" stop-color="#fcfcfc"/><stop offset="0.708" stop-color="#f1bebc"/><stop offset="0.888" stop-color="#e36a64"/><stop offset="1.000" stop-color="#e25f58"/></linearGradient><linearGradient id="h191"><stop offset="0.000" stop-color="#80b1dd"/><stop offset="0.446" stop-color="#a9cdeb"/><stop offset="0.596" stop-color="#e7f0f8"/><stop offset="0.656" stop-color="#fcfcfc"/><stop offset="0.716" stop-color="#f0b8b6"/><stop offset="0.896" stop-color="#e05950"/><stop offset="1.000" stop-color="#de4c43"/></linearGradient><linearGradient id="h192"><stop offset="0.000" stop-color="#7eafdd"/><stop offset="0.447" stop-color="#a8ccea"/><stop offset="0.597" stop-color="#e7f0f8"/><stop offset="0.657" stop-color="#fcfcfc"/><stop offset="0.717" stop-color="#f0b7b5"/><stop offset="0.897" stop-color="#e0554d"/><stop offset="1.000" stop-color="#de4940"/></linearGradient><linearGradient id="h193"><stop offset="0.000" stop-color="#86b5e0"/><stop offset="0.447" stop-color="#adcfeb"/><stop offset="0.597" stop-color="#e8f1f8"/><stop offset="0.657" stop-color="#fcfcfc"/><stop offset="0.717" stop-color="#f0bbb9"/><stop offset="0.897" stop-color="#e2635c"/><stop offset="1.000" stop-color="#e05850"/></linearGradient><linearGradient id="h194"><stop offset="0.000" stop-color="#83b3df"/><stop offset="0.455" stop-color="#abceeb"/><stop offset="0.605" stop-color="#e8f0f8"/><stop offset="0.665" stop-color="#fcfcfc"/><stop offset="0.725" stop-color="#f0bab8"/><stop offset="0.905" stop-color="#e15e56"/><stop offset="1.000" stop-color="#df5249"/></linearGradient><linearGradient id="h195"><stop offset="0.000" stop-color="#88b7e1"/><stop offset="0.449" stop-color="#aed0ec"/><stop offset="0.599" stop-color="#e9f1f8"/><stop offset="0.659" stop-color="#fcfcfc"/><stop offset="0.719" stop-color="#f1bcbb"/><stop offset="0.899" stop-color="#e3675f"/><stop offset="1.000" stop-color="#e15b53"/></linearGradient><linearGradient id="h196"><stop offset="0.000" stop-color="#82b2de"/><stop offset="0.443" stop-color="#aacdeb"/><stop offset="0.593" stop-color="#e7f0f8"/><stop offset="0.653" stop-color="#fcfcfc"/><stop offset="0.713" stop-color="#f0b8b7"/><stop offset="0.893" stop-color="#e15b53"/><stop offset="1.000" stop-color="#df4f46"/></linearGradient><linearGradient id="h197"><stop offset="0.000" stop-color="#85b4df"/><stop offset="0.444" stop-color="#acceeb"/><stop offset="0.594" stop-color="#e8f1f8"/><stop offset="0.654" stop-color="#fcfcfc"/><stop offset="0.714" stop-color="#f0bab9"/><stop offset="0.894" stop-color="#e26159"/><stop offset="1.000" stop-color="#e0554c"/></linearGradient><linearGradient id="h198"><stop offset="0.000" stop-color="#8bb9e2"/><stop offset="0.443" stop-color="#b1d1ec"/><stop offset="0.593" stop-color="#e9f1f8"/><stop offset="0.653" stop-color="#fcfcfc"/><stop offset="0.713" stop-color="#f1bebc"/><stop offset="0.893" stop-color="#e46c65"/><stop offset="1.000" stop-color="#e26159"/></linearGradient><linearGradient id="h199"><stop offset="0.000" stop-color="#86b5e0"/><stop offset="0.438" stop-color="#adcfeb"/><stop offset="0.588" stop-color="#e8f1f8"/><stop offset="0.648" stop-color="#fcfcfc"/><stop offset="0.708" stop-color="#f0bbb9"/><stop offset="0.888" stop-color="#e2635b"/><stop offset="1.000" stop-color="#e0574f"/></linearGradient><linearGradient id="h200"><stop offset="0.000" stop-color="#87b5e0"/><stop offset="0.434" stop-color="#adcfeb"/><stop offset="0.584" stop-color="#e8f1f8"/><stop offset="0.644" stop-color="#fcfcfc"/><stop offset="0.704" stop-color="#f0bbba"/><stop offset="0.884" stop-color="#e2645c"/><stop offset="1.000" stop-color="#e05850"/></linearGradient><linearGradient id="h201"><stop offset="0.000" stop-color="#7eafdc"/><stop offset="0.433" stop-color="#a7ccea"/><stop offset="0.583" stop-color="#e7f0f8"/><stop offset="0.643" stop-color="#fcfcfc"/><stop offset="0.703" stop-color="#f0b7b5"/><stop offset="0.883" stop-color="#e0554c"/><stop offset="1.000" stop-color="#de483f"/></linearGradient><linearGradient id="h202"><stop offset="0.000" stop-color="#82b2de"/><stop offset="0.444" stop-color="#aacdeb"/><stop offset="0.594" stop-color="#e8f0f8"/><stop offset="0.654" stop-color="#fcfcfc"/><stop offset="0.714" stop-color="#f0b9b7"/><stop offset="0.894" stop-color="#e15c54"/><stop offset="1.000" stop-color="#df5047"/></linearGradient><linearGradient id="h203"><stop offset="0.000" stop-color="#d4e5f4"/><stop offset="0.213" stop-color="#c0daef"/><stop offset="0.363" stop-color="#99c3e7"/><stop offset="0.663" stop-color="#99c3e7"/><stop offset="0.743" stop-color="#fcfcfc"/><stop offset="0.833" stop-color="#e88580"/><stop offset="1.000" stop-color="#de4b41"/></linearGradient><linearGradient id="h204"><stop offset="0.000" stop-color="#d3e5f3"/><stop offset="0.216" stop-color="#bfd9ef"/><stop offset="0.366" stop-color="#96c1e6"/><stop offset="0.666" stop-color="#96c1e6"/><stop offset="0.746" stop-color="#fcfcfc"/><stop offset="0.836" stop-color="#e7807a"/><stop offset="1.000" stop-color="#dd433a"/></linearGradient><linearGradient id="h205"><stop offset="0.000" stop-color="#d6e6f4"/><stop offset="0.208" stop-color="#c3dbf0"/><stop offset="0.358" stop-color="#9dc6e8"/><stop offset="0.658" stop-color="#9dc6e8"/><stop offset="0.738" stop-color="#fcfcfc"/><stop offset="0.828" stop-color="#e98c87"/><stop offset="1.000" stop-color="#e0544b"/></linearGradient><linearGradient id="h206"><stop offset="0.000" stop-color="#d3e5f3"/><stop offset="0.220" stop-color="#bfd9ef"/><stop offset="0.370" stop-color="#97c2e6"/><stop offset="0.670" stop-color="#97c2e6"/><stop offset="0.750" stop-color="#fcfcfc"/><stop offset="0.840" stop-color="#e7817c"/><stop offset="1.000" stop-color="#dd453c"/></linearGradient><linearGradient id="h207"><stop offset="0.000" stop-color="#d2e4f3"/><stop offset="0.213" stop-color="#bdd8ef"/><stop offset="0.363" stop-color="#94c0e5"/><stop offset="0.663" stop-color="#94c0e5"/><stop offset="0.743" stop-color="#fcfcfc"/><stop offset="0.833" stop-color="#e67c76"/><stop offset="1.000" stop-color="#dc3e35"/></linearGradient><linearGradient id="h208"><stop offset="0.000" stop-color="#d3e4f3"/><stop offset="0.206" stop-color="#bed9ef"/><stop offset="0.356" stop-color="#94c0e6"/><stop offset="0.656" stop-color="#94c0e6"/><stop offset="0.736" stop-color="#fcfcfc"/><stop offset="0.826" stop-color="#e67e78"/><stop offset="1.000" stop-color="#dd4137"/></linearGradient><linearGradient id="h209"><stop offset="0.000" stop-color="#d3e5f3"/><stop offset="0.199" stop-color="#bed9ef"/><stop offset="0.349" stop-color="#95c1e6"/><stop offset="0.649" stop-color="#95c1e6"/><stop offset="0.729" stop-color="#fcfcfc"/><stop offset="0.819" stop-color="#e77f7a"/><stop offset="1.000" stop-color="#dd4339"/></linearGradient><linearGradient id="h210"><stop offset="0.000" stop-color="#d3e5f3"/><stop offset="0.185" stop-color="#bfd9ef"/><stop offset="0.335" stop-color="#96c1e6"/><stop offset="0.635" stop-color="#96c1e6"/><stop offset="0.715" stop-color="#fcfcfc"/><stop offset="0.805" stop-color="#e7807a"/><stop offset="1.000" stop-color="#dd433a"/></linearGradient><linearGradient id="h211"><stop offset="0.000" stop-color="#d6e6f4"/><stop offset="0.190" stop-color="#c3dcf0"/><stop offset="0.340" stop-color="#9dc6e8"/><stop offset="0.640" stop-color="#9dc6e8"/><stop offset="0.720" stop-color="#fcfcfc"/><stop offset="0.810" stop-color="#e98c87"/><stop offset="1.000" stop-color="#e0544c"/></linearGradient><linearGradient id="h212"><stop offset="0.000" stop-color="#d7e7f4"/><stop offset="0.193" stop-color="#c4dcf0"/><stop offset="0.343" stop-color="#9ec7e8"/><stop offset="0.643" stop-color="#9ec7e8"/><stop offset="0.723" stop-color="#fcfcfc"/><stop offset="0.813" stop-color="#e98e8a"/><stop offset="1.000" stop-color="#e0574f"/></linearGradient><linearGradient id="h213"><stop offset="0.000" stop-color="#de493f"/><stop offset="0.122" stop-color="#e26059"/><stop offset="0.272" stop-color="#f2c2c0"/><stop offset="0.392" stop-color="#fcfcfc"/><stop offset="0.472" stop-color="#b6d4ed"/><stop offset="0.822" stop-color="#98c3e7"/><stop offset="1.000" stop-color="#7bacdb"/></linearGradient><linearGradient id="h214"><stop offset="0.000" stop-color="#dd443b"/><stop offset="0.128" stop-color="#e15c54"/><stop offset="0.278" stop-color="#f1c0bf"/><stop offset="0.398" stop-color="#fcfcfc"/><stop offset="0.478" stop-color="#b5d3ed"/><stop offset="0.828" stop-color="#96c1e6"/><stop offset="1.000" stop-color="#79aada"/></linearGradient><linearGradient id="h215"><stop offset="0.000" stop-color="#de473d"/><stop offset="0.116" stop-color="#e15e57"/><stop offset="0.266" stop-color="#f1c1bf"/><stop offset="0.386" stop-color="#fcfcfc"/><stop offset="0.466" stop-color="#b5d4ed"/><stop offset="0.816" stop-color="#97c2e7"/><stop offset="1.000" stop-color="#7aacdb"/></linearGradient><linearGradient id="h216"><stop offset="0.000" stop-color="#de473e"/><stop offset="0.114" stop-color="#e15f57"/><stop offset="0.264" stop-color="#f2c1c0"/><stop offset="0.384" stop-color="#fcfcfc"/><stop offset="0.464" stop-color="#b6d4ed"/><stop offset="0.814" stop-color="#97c3e7"/><stop offset="1.000" stop-color="#7aacdb"/></linearGradient><linearGradient id="h217"><stop offset="0.000" stop-color="#de483e"/><stop offset="0.109" stop-color="#e25f58"/><stop offset="0.259" stop-color="#f2c1c0"/><stop offset="0.379" stop-color="#fcfcfc"/><stop offset="0.459" stop-color="#b6d4ed"/><stop offset="0.809" stop-color="#98c3e7"/><stop offset="1.000" stop-color="#7bacdb"/></linearGradient><linearGradient id="h218"><stop offset="0.000" stop-color="#df4d44"/><stop offset="0.099" stop-color="#e2645d"/><stop offset="0.249" stop-color="#f2c3c1"/><stop offset="0.369" stop-color="#fcfcfc"/><stop offset="0.449" stop-color="#b7d5ee"/><stop offset="0.799" stop-color="#9ac4e7"/><stop offset="1.000" stop-color="#7eaedc"/></linearGradient><linearGradient id="h219"><stop offset="0.000" stop-color="#df4f46"/><stop offset="0.088" stop-color="#e3665f"/><stop offset="0.238" stop-color="#f2c3c2"/><stop offset="0.358" stop-color="#fcfcfc"/><stop offset="0.438" stop-color="#b8d5ee"/><stop offset="0.788" stop-color="#9bc5e8"/><stop offset="1.000" stop-color="#7fafdd"/></linearGradient><linearGradient id="h220"><stop offset="0.000" stop-color="#dc3f35"/><stop offset="0.086" stop-color="#e0574f"/><stop offset="0.236" stop-color="#f1bfbd"/><stop offset="0.356" stop-color="#fcfcfc"/><stop offset="0.436" stop-color="#b3d2ed"/><stop offset="0.786" stop-color="#94c0e5"/><stop offset="1.000" stop-color="#75a8d9"/></linearGradient><linearGradient id="h221"><stop offset="0.000" stop-color="#dc3d33"/><stop offset="0.080" stop-color="#de4c43"/><stop offset="0.230" stop-color="#f1bcba"/><stop offset="0.350" stop-color="#fcfcfc"/><stop offset="0.430" stop-color="#afd0ec"/><stop offset="0.780" stop-color="#8ebbe3"/><stop offset="1.000" stop-color="#6ea2d6"/></linearGradient><linearGradient id="h222"><stop offset="0.000" stop-color="#dc3d33"/><stop offset="0.086" stop-color="#df524a"/><stop offset="0.236" stop-color="#f1bebc"/><stop offset="0.356" stop-color="#fcfcfc"/><stop offset="0.436" stop-color="#b1d1ec"/><stop offset="0.786" stop-color="#91bee4"/><stop offset="1.000" stop-color="#73a6d8"/></linearGradient><linearGradient id="h223"><stop offset="0.000" stop-color="#dc3d33"/><stop offset="0.079" stop-color="#de483f"/><stop offset="0.229" stop-color="#f0bbb9"/><stop offset="0.349" stop-color="#fcfcfc"/><stop offset="0.429" stop-color="#aecfec"/><stop offset="0.779" stop-color="#8cbae2"/><stop offset="1.000" stop-color="#6ca1d5"/></linearGradient><linearGradient id="h224"><stop offset="0.000" stop-color="#df4d44"/><stop offset="0.092" stop-color="#e2645d"/><stop offset="0.242" stop-color="#f2c3c1"/><stop offset="0.362" stop-color="#fcfcfc"/><stop offset="0.442" stop-color="#b7d5ee"/><stop offset="0.792" stop-color="#9ac4e7"/><stop offset="1.000" stop-color="#7daedc"/></linearGradient><linearGradient id="h225"><stop offset="0.000" stop-color="#df534a"/><stop offset="0.100" stop-color="#e36962"/><stop offset="0.250" stop-color="#f2c4c3"/><stop offset="0.370" stop-color="#fcfcfc"/><stop offset="0.450" stop-color="#b9d6ee"/><stop offset="0.800" stop-color="#9cc6e8"/><stop offset="1.000" stop-color="#81b1de"/></linearGradient><linearGradient id="h226"><stop offset="0.000" stop-color="#df4e46"/><stop offset="0.108" stop-color="#e3655e"/><stop offset="0.258" stop-color="#f2c3c1"/><stop offset="0.378" stop-color="#fcfcfc"/><stop offset="0.458" stop-color="#b8d5ee"/><stop offset="0.808" stop-color="#9ac4e8"/><stop offset="1.000" stop-color="#7eafdd"/></linearGradient><linearGradient id="h227"><stop offset="0.000" stop-color="#e0544c"/><stop offset="0.101" stop-color="#e36b64"/><stop offset="0.251" stop-color="#f2c5c3"/><stop offset="0.371" stop-color="#fcfcfc"/><stop offset="0.451" stop-color="#bad6ee"/><stop offset="0.801" stop-color="#9dc6e8"/><stop offset="1.000" stop-color="#82b1de"/></linearGradient><linearGradient id="h228"><stop offset="0.000" stop-color="#df4e45"/><stop offset="0.111" stop-color="#e2655e"/><stop offset="0.261" stop-color="#f2c3c1"/><stop offset="0.381" stop-color="#fcfcfc"/><stop offset="0.461" stop-color="#b8d5ee"/><stop offset="0.811" stop-color="#9ac4e7"/><stop offset="1.000" stop-color="#7eafdc"/></linearGradient><linearGradient id="h229"><stop offset="0.000" stop-color="#df4f46"/><stop offset="0.115" stop-color="#e3665f"/><stop offset="0.265" stop-color="#f2c3c2"/><stop offset="0.385" stop-color="#fcfcfc"/><stop offset="0.465" stop-color="#b8d5ee"/><stop offset="0.815" stop-color="#9bc5e8"/><stop offset="1.000" stop-color="#7fafdd"/></linearGradient><linearGradient id="h230"><stop offset="0.000" stop-color="#dc4036"/><stop offset="0.115" stop-color="#e05850"/><stop offset="0.265" stop-color="#f1bfbe"/><stop offset="0.385" stop-color="#fcfcfc"/><stop offset="0.465" stop-color="#b3d2ed"/><stop offset="0.815" stop-color="#94c0e5"/><stop offset="1.000" stop-color="#76a8d9"/></linearGradient><linearGradient id="h231"><stop offset="0.000" stop-color="#dd463c"/><stop offset="0.108" stop-color="#e15e56"/><stop offset="0.258" stop-color="#f1c1bf"/><stop offset="0.378" stop-color="#fcfcfc"/><stop offset="0.458" stop-color="#b5d4ed"/><stop offset="0.808" stop-color="#97c2e6"/><stop offset="1.000" stop-color="#79abdb"/></linearGradient><linearGradient id="h232"><stop offset="0.000" stop-color="#dc4036"/><stop offset="0.115" stop-color="#e05850"/><stop offset="0.265" stop-color="#f1bfbe"/><stop offset="0.385" stop-color="#fcfcfc"/><stop offset="0.465" stop-color="#b3d3ed"/><stop offset="0.815" stop-color="#94c0e5"/><stop offset="1.000" stop-color="#76a9d9"/></linearGradient><linearGradient id="h233"><stop offset="0.000" stop-color="#dc4036"/><stop offset="0.111" stop-color="#e05850"/><stop offset="0.261" stop-color="#f1bfbe"/><stop offset="0.381" stop-color="#fcfcfc"/><stop offset="0.461" stop-color="#b3d2ed"/><stop offset="0.811" stop-color="#94c0e5"/><stop offset="1.000" stop-color="#76a9d9"/></linearGradient><linearGradient id="h234"><stop offset="0.000" stop-color="#dd4238"/><stop offset="0.111" stop-color="#e15a52"/><stop offset="0.261" stop-color="#f1c0be"/><stop offset="0.381" stop-color="#fcfcfc"/><stop offset="0.461" stop-color="#b4d3ed"/><stop offset="0.811" stop-color="#95c1e6"/><stop offset="1.000" stop-color="#77aada"/></linearGradient><linearGradient id="h235"><stop offset="0.000" stop-color="#dd4339"/><stop offset="0.097" stop-color="#e15b53"/><stop offset="0.247" stop-color="#f1c0be"/><stop offset="0.367" stop-color="#fcfcfc"/><stop offset="0.447" stop-color="#b4d3ed"/><stop offset="0.797" stop-color="#95c1e6"/><stop offset="1.000" stop-color="#78aada"/></linearGradient><linearGradient id="h236"><stop offset="0.000" stop-color="#de483f"/><stop offset="0.105" stop-color="#e26058"/><stop offset="0.255" stop-color="#f2c1c0"/><stop offset="0.375" stop-color="#fcfcfc"/><stop offset="0.455" stop-color="#b6d4ed"/><stop offset="0.805" stop-color="#98c3e7"/><stop offset="1.000" stop-color="#7bacdb"/></linearGradient><linearGradient id="h237"><stop offset="0.000" stop-color="#dc3d33"/><stop offset="0.090" stop-color="#df5047"/><stop offset="0.240" stop-color="#f1bdbb"/><stop offset="0.360" stop-color="#fcfcfc"/><stop offset="0.440" stop-color="#b0d1ec"/><stop offset="0.790" stop-color="#90bde4"/><stop offset="1.000" stop-color="#71a5d7"/></linearGradient><linearGradient id="h238"><stop offset="0.000" stop-color="#df5149"/><stop offset="0.087" stop-color="#e36861"/><stop offset="0.237" stop-color="#f2c4c2"/><stop offset="0.357" stop-color="#fcfcfc"/><stop offset="0.437" stop-color="#b9d6ee"/><stop offset="0.787" stop-color="#9cc5e8"/><stop offset="1.000" stop-color="#80b0dd"/></linearGradient><linearGradient id="h239"><stop offset="0.000" stop-color="#dd463c"/><stop offset="0.097" stop-color="#e15d56"/><stop offset="0.247" stop-color="#f1c1bf"/><stop offset="0.367" stop-color="#fcfcfc"/><stop offset="0.447" stop-color="#b5d4ed"/><stop offset="0.797" stop-color="#97c2e6"/><stop offset="1.000" stop-color="#79abdb"/></linearGradient><linearGradient id="h240"><stop offset="0.000" stop-color="#df4e45"/><stop offset="0.099" stop-color="#e2655e"/><stop offset="0.249" stop-color="#f2c3c1"/><stop offset="0.369" stop-color="#fcfcfc"/><stop offset="0.449" stop-color="#b8d5ee"/><stop offset="0.799" stop-color="#9ac4e7"/><stop offset="1.000" stop-color="#7eafdc"/></linearGradient><linearGradient id="h241"><stop offset="0.000" stop-color="#dc3d33"/><stop offset="0.092" stop-color="#df5149"/><stop offset="0.242" stop-color="#f1bdbc"/><stop offset="0.362" stop-color="#fcfcfc"/><stop offset="0.442" stop-color="#b1d1ec"/><stop offset="0.792" stop-color="#91bde4"/><stop offset="1.000" stop-color="#72a5d8"/></linearGradient><linearGradient id="h242"><stop offset="0.000" stop-color="#dc3d33"/><stop offset="0.094" stop-color="#e0564d"/><stop offset="0.244" stop-color="#f1bebd"/><stop offset="0.364" stop-color="#fcfcfc"/><stop offset="0.444" stop-color="#b2d2ed"/><stop offset="0.794" stop-color="#93bfe5"/><stop offset="1.000" stop-color="#74a7d9"/></linearGradient><linearGradient id="h243"><stop offset="0.000" stop-color="#dd4239"/><stop offset="0.091" stop-color="#e15a52"/><stop offset="0.241" stop-color="#f1c0be"/><stop offset="0.361" stop-color="#fcfcfc"/><stop offset="0.441" stop-color="#b4d3ed"/><stop offset="0.791" stop-color="#95c1e6"/><stop offset="1.000" stop-color="#78aada"/></linearGradient><linearGradient id="h244"><stop offset="0.000" stop-color="#dd4339"/><stop offset="0.100" stop-color="#e15b53"/><stop offset="0.250" stop-color="#f1c0be"/><stop offset="0.370" stop-color="#fcfcfc"/><stop offset="0.450" stop-color="#b4d3ed"/><stop offset="0.800" stop-color="#95c1e6"/><stop offset="1.000" stop-color="#78aada"/></linearGradient><linearGradient id="h245"><stop offset="0.000" stop-color="#dc4036"/><stop offset="0.091" stop-color="#e05850"/><stop offset="0.241" stop-color="#f1bfbe"/><stop offset="0.361" stop-color="#fcfcfc"/><stop offset="0.441" stop-color="#b3d2ed"/><stop offset="0.791" stop-color="#94c0e5"/><stop offset="1.000" stop-color="#76a9d9"/></linearGradient><linearGradient id="h246"><stop offset="0.000" stop-color="#de483f"/><stop offset="0.104" stop-color="#e26058"/><stop offset="0.254" stop-color="#f2c1c0"/><stop offset="0.374" stop-color="#fcfcfc"/><stop offset="0.454" stop-color="#b6d4ed"/><stop offset="0.804" stop-color="#98c3e7"/><stop offset="1.000" stop-color="#7bacdb"/></linearGradient><linearGradient id="h247"><stop offset="0.000" stop-color="#df4d44"/><stop offset="0.111" stop-color="#e2645d"/><stop offset="0.261" stop-color="#f2c3c1"/><stop offset="0.381" stop-color="#fcfcfc"/><stop offset="0.461" stop-color="#b7d5ee"/><stop offset="0.811" stop-color="#9ac4e7"/><stop offset="1.000" stop-color="#7daedc"/></linearGradient><linearGradient id="h248"><stop offset="0.000" stop-color="#dd4339"/><stop offset="0.091" stop-color="#e15b53"/><stop offset="0.241" stop-color="#f1c0be"/><stop offset="0.361" stop-color="#fcfcfc"/><stop offset="0.441" stop-color="#b4d3ed"/><stop offset="0.791" stop-color="#95c1e6"/><stop offset="1.000" stop-color="#78aada"/></linearGradient><linearGradient id="h249"><stop offset="0.000" stop-color="#df4d44"/><stop offset="0.084" stop-color="#e2645d"/><stop offset="0.234" stop-color="#f2c3c1"/><stop offset="0.354" stop-color="#fcfcfc"/><stop offset="0.434" stop-color="#b7d5ee"/><stop offset="0.784" stop-color="#9ac4e7"/><stop offset="1.000" stop-color="#7eaedc"/></linearGradient><linearGradient id="h250"><stop offset="0.000" stop-color="#dd453b"/><stop offset="0.085" stop-color="#e15d55"/><stop offset="0.235" stop-color="#f1c1bf"/><stop offset="0.355" stop-color="#fcfcfc"/><stop offset="0.435" stop-color="#b5d3ed"/><stop offset="0.785" stop-color="#96c2e6"/><stop offset="1.000" stop-color="#79abda"/></linearGradient><linearGradient id="h251"><stop offset="0.000" stop-color="#dd433a"/><stop offset="0.085" stop-color="#e15b53"/><stop offset="0.235" stop-color="#f1c0bf"/><stop offset="0.355" stop-color="#fcfcfc"/><stop offset="0.435" stop-color="#b4d3ed"/><stop offset="0.785" stop-color="#96c1e6"/><stop offset="1.000" stop-color="#78aada"/></linearGradient><linearGradient id="h252"><stop offset="0.000" stop-color="#dd463c"/><stop offset="0.096" stop-color="#e15e56"/><stop offset="0.246" stop-color="#f1c1bf"/><stop offset="0.366" stop-color="#fcfcfc"/><stop offset="0.446" stop-color="#b5d4ed"/><stop offset="0.796" stop-color="#97c2e6"/><stop offset="1.000" stop-color="#79abdb"/></linearGradient><linearGradient id="h253"><stop offset="0.000" stop-color="#dc3d33"/><stop offset="0.111" stop-color="#e0544b"/><stop offset="0.261" stop-color="#f1bebc"/><stop offset="0.381" stop-color="#fcfcfc"/><stop offset="0.461" stop-color="#b2d2ec"/><stop offset="0.811" stop-color="#92bee4"/><stop offset="1.000" stop-color="#73a6d8"/></linearGradient><linearGradient id="h254"><stop offset="0.000" stop-color="#dd443b"/><stop offset="0.116" stop-color="#e15c54"/><stop offset="0.266" stop-color="#f1c0bf"/><stop offset="0.386" stop-color="#fcfcfc"/><stop offset="0.466" stop-color="#b5d3ed"/><stop offset="0.816" stop-color="#96c1e6"/><stop offset="1.000" stop-color="#79abda"/></linearGradient><linearGradient id="h255"><stop offset="0.000" stop-color="#dd453c"/><stop offset="0.118" stop-color="#e15d56"/><stop offset="0.268" stop-color="#f1c1bf"/><stop offset="0.388" stop-color="#fcfcfc"/><stop offset="0.468" stop-color="#b5d4ed"/><stop offset="0.818" stop-color="#97c2e6"/><stop offset="1.000" stop-color="#79abdb"/></linearGradient><linearGradient id="h256"><stop offset="0.000" stop-color="#dc3d33"/><stop offset="0.119" stop-color="#df524a"/><stop offset="0.269" stop-color="#f1bdbc"/><stop offset="0.389" stop-color="#fcfcfc"/><stop offset="0.469" stop-color="#b1d1ec"/><stop offset="0.819" stop-color="#91bee4"/><stop offset="1.000" stop-color="#72a6d8"/></linearGradient><linearGradient id="h257"><stop offset="0.000" stop-color="#dd4239"/><stop offset="0.112" stop-color="#e15b53"/><stop offset="0.262" stop-color="#f1c0be"/><stop offset="0.382" stop-color="#fcfcfc"/><stop offset="0.462" stop-color="#b4d3ed"/><stop offset="0.812" stop-color="#95c1e6"/><stop offset="1.000" stop-color="#78aada"/></linearGradient><linearGradient id="h258"><stop offset="0.000" stop-color="#de4940"/><stop offset="0.109" stop-color="#e26059"/><stop offset="0.259" stop-color="#f2c2c0"/><stop offset="0.379" stop-color="#fcfcfc"/><stop offset="0.459" stop-color="#b6d4ed"/><stop offset="0.809" stop-color="#98c3e7"/><stop offset="1.000" stop-color="#7baddb"/></linearGradient><linearGradient id="h259"><stop offset="0.000" stop-color="#84b3df"/><stop offset="0.235" stop-color="#fcfcfc"/><stop offset="0.335" stop-color="#f2c1bf"/><stop offset="0.735" stop-color="#f2c1bf"/><stop offset="0.835" stop-color="#fcfcfc"/><stop offset="1.000" stop-color="#5d95cf"/></linearGradient><linearGradient id="h260"><stop offset="0.000" stop-color="#83b2de"/><stop offset="0.243" stop-color="#fcfcfc"/><stop offset="0.343" stop-color="#f1c1bf"/><stop offset="0.743" stop-color="#f1c1bf"/><stop offset="0.843" stop-color="#fcfcfc"/><stop offset="1.000" stop-color="#5c94cf"/></linearGradient><linearGradient id="h261"><stop offset="0.000" stop-color="#7daedc"/><stop offset="0.344" stop-color="#a0c8e9"/><stop offset="0.494" stop-color="#eaf2f8"/><stop offset="0.544" stop-color="#fcfcfc"/><stop offset="0.614" stop-color="#f1c0be"/><stop offset="0.894" stop-color="#e88782"/><stop offset="1.000" stop-color="#e15b53"/></linearGradient><linearGradient id="h262"><stop offset="0.000" stop-color="#7caddc"/><stop offset="0.347" stop-color="#a0c7e9"/><stop offset="0.497" stop-color="#eaf1f8"/><stop offset="0.547" stop-color="#fcfcfc"/><stop offset="0.617" stop-color="#f1bfbe"/><stop offset="0.897" stop-color="#e88580"/><stop offset="1.000" stop-color="#e15a52"/></linearGradient><linearGradient id="h263"><stop offset="0.000" stop-color="#76a9d9"/><stop offset="0.345" stop-color="#9bc5e8"/><stop offset="0.495" stop-color="#e9f1f8"/><stop offset="0.545" stop-color="#fcfcfc"/><stop offset="0.615" stop-color="#f1bdbb"/><stop offset="0.895" stop-color="#e67e79"/><stop offset="1.000" stop-color="#df5148"/></linearGradient><linearGradient id="h264"><stop offset="0.000" stop-color="#72a6d8"/><stop offset="0.354" stop-color="#99c3e7"/><stop offset="0.504" stop-color="#e8f1f8"/><stop offset="0.554" stop-color="#fcfcfc"/><stop offset="0.624" stop-color="#f0bbb9"/><stop offset="0.904" stop-color="#e67973"/><stop offset="1.000" stop-color="#de4a41"/></linearGradient><linearGradient id="h265"><stop offset="0.000" stop-color="#71a4d7"/><stop offset="0.365" stop-color="#97c3e7"/><stop offset="0.515" stop-color="#e8f1f8"/><stop offset="0.565" stop-color="#fcfcfc"/><stop offset="0.635" stop-color="#f0bab8"/><stop offset="0.915" stop-color="#e57771"/><stop offset="1.000" stop-color="#de483e"/></linearGradient><linearGradient id="h266"><stop offset="0.000" stop-color="#74a7d8"/><stop offset="0.343" stop-color="#9ac4e7"/><stop offset="0.493" stop-color="#e8f1f8"/><stop offset="0.543" stop-color="#fcfcfc"/><stop offset="0.613" stop-color="#f0bbba"/><stop offset="0.893" stop-color="#e67b75"/><stop offset="1.000" stop-color="#df4d44"/></linearGradient><linearGradient id="h267"><stop offset="0.000" stop-color="#71a4d7"/><stop offset="0.351" stop-color="#97c2e7"/><stop offset="0.501" stop-color="#e8f1f8"/><stop offset="0.551" stop-color="#fcfcfc"/><stop offset="0.621" stop-color="#f0bab8"/><stop offset="0.901" stop-color="#e57771"/><stop offset="1.000" stop-color="#de473e"/></linearGradient><linearGradient id="h268"><stop offset="0.000" stop-color="#6da2d6"/><stop offset="0.354" stop-color="#95c1e6"/><stop offset="0.504" stop-color="#e7f0f8"/><stop offset="0.554" stop-color="#fcfcfc"/><stop offset="0.624" stop-color="#f0b8b6"/><stop offset="0.904" stop-color="#e5726c"/><stop offset="1.000" stop-color="#dd4138"/></linearGradient><linearGradient id="h269"><stop offset="0.000" stop-color="#74a6d8"/><stop offset="0.359" stop-color="#99c4e7"/><stop offset="0.509" stop-color="#e8f1f8"/><stop offset="0.559" stop-color="#fcfcfc"/><stop offset="0.629" stop-color="#f0bbb9"/><stop offset="0.909" stop-color="#e67b75"/><stop offset="1.000" stop-color="#de4c43"/></linearGradient><linearGradient id="h270"><stop offset="0.000" stop-color="#71a4d7"/><stop offset="0.356" stop-color="#97c2e7"/><stop offset="0.506" stop-color="#e8f1f8"/><stop offset="0.556" stop-color="#fcfcfc"/><stop offset="0.626" stop-color="#f0bab8"/><stop offset="0.906" stop-color="#e57771"/><stop offset="1.000" stop-color="#de473e"/></linearGradient><linearGradient id="h271"><stop offset="0.000" stop-color="#6a9fd4"/><stop offset="0.356" stop-color="#92bfe5"/><stop offset="0.506" stop-color="#e7f0f8"/><stop offset="0.556" stop-color="#fcfcfc"/><stop offset="0.626" stop-color="#f0b7b5"/><stop offset="0.906" stop-color="#e46e67"/><stop offset="1.000" stop-color="#dc3d33"/></linearGradient><linearGradient id="h272"><stop offset="0.000" stop-color="#6da1d6"/><stop offset="0.350" stop-color="#95c0e6"/><stop offset="0.500" stop-color="#e7f0f8"/><stop offset="0.550" stop-color="#fcfcfc"/><stop offset="0.620" stop-color="#f0b8b6"/><stop offset="0.900" stop-color="#e5726c"/><stop offset="1.000" stop-color="#dd4137"/></linearGradient><linearGradient id="h273"><stop offset="0.000" stop-color="#699ed4"/><stop offset="0.347" stop-color="#92bee4"/><stop offset="0.497" stop-color="#e7f0f8"/><stop offset="0.547" stop-color="#fcfcfc"/><stop offset="0.617" stop-color="#f0b6b4"/><stop offset="0.897" stop-color="#e46c65"/><stop offset="1.000" stop-color="#dc3d33"/></linearGradient><linearGradient id="h274"><stop offset="0.000" stop-color="#6fa3d6"/><stop offset="0.351" stop-color="#96c2e6"/><stop offset="0.501" stop-color="#e8f0f8"/><stop offset="0.551" stop-color="#fcfcfc"/><stop offset="0.621" stop-color="#f0b9b7"/><stop offset="0.901" stop-color="#e5756f"/><stop offset="1.000" stop-color="#dd453b"/></linearGradient><linearGradient id="h275"><stop offset="0.000" stop-color="#72a5d8"/><stop offset="0.354" stop-color="#98c3e7"/><stop offset="0.504" stop-color="#e8f1f8"/><stop offset="0.554" stop-color="#fcfcfc"/><stop offset="0.624" stop-color="#f0bab9"/><stop offset="0.904" stop-color="#e67872"/><stop offset="1.000" stop-color="#de4940"/></linearGradient><linearGradient id="h276"><stop offset="0.000" stop-color="#6ca0d5"/><stop offset="0.352" stop-color="#94c0e5"/><stop offset="0.502" stop-color="#e7f0f8"/><stop offset="0.552" stop-color="#fcfcfc"/><stop offset="0.622" stop-color="#f0b7b6"/><stop offset="0.902" stop-color="#e4706a"/><stop offset="1.000" stop-color="#dc3f35"/></linearGradient><linearGradient id="h277"><stop offset="0.000" stop-color="#699ed4"/><stop offset="0.365" stop-color="#92bee4"/><stop offset="0.515" stop-color="#e7f0f8"/><stop offset="0.565" stop-color="#fcfcfc"/><stop offset="0.635" stop-color="#f0b6b4"/><stop offset="0.915" stop-color="#e46c65"/><stop offset="1.000" stop-color="#dc3d33"/></linearGradient><linearGradient id="h278"><stop offset="0.000" stop-color="#669cd3"/><stop offset="0.365" stop-color="#8fbce4"/><stop offset="0.515" stop-color="#e6f0f7"/><stop offset="0.565" stop-color="#fcfcfc"/><stop offset="0.635" stop-color="#efb4b2"/><stop offset="0.915" stop-color="#e36861"/><stop offset="1.000" stop-color="#dc3d33"/></linearGradient><linearGradient id="h279"><stop offset="0.000" stop-color="#689ed4"/><stop offset="0.365" stop-color="#91bee4"/><stop offset="0.515" stop-color="#e7f0f8"/><stop offset="0.565" stop-color="#fcfcfc"/><stop offset="0.635" stop-color="#efb6b4"/><stop offset="0.915" stop-color="#e36c65"/><stop offset="1.000" stop-color="#dc3d33"/></linearGradient><linearGradient id="h280"><stop offset="0.000" stop-color="#73a6d8"/><stop offset="0.362" stop-color="#99c4e7"/><stop offset="0.512" stop-color="#e8f1f8"/><stop offset="0.562" stop-color="#fcfcfc"/><stop offset="0.632" stop-color="#f0bbb9"/><stop offset="0.912" stop-color="#e67a74"/><stop offset="1.000" stop-color="#de4b42"/></linearGradient><linearGradient id="h281"><stop offset="0.000" stop-color="#74a7d8"/><stop offset="0.351" stop-color="#9ac4e7"/><stop offset="0.501" stop-color="#e8f1f8"/><stop offset="0.551" stop-color="#fcfcfc"/><stop offset="0.621" stop-color="#f0bbba"/><stop offset="0.901" stop-color="#e67b75"/><stop offset="1.000" stop-color="#de4c43"/></linearGradient><linearGradient id="h282"><stop offset="0.000" stop-color="#73a6d8"/><stop offset="0.345" stop-color="#99c4e7"/><stop offset="0.495" stop-color="#e8f1f8"/><stop offset="0.545" stop-color="#fcfcfc"/><stop offset="0.615" stop-color="#f0bbb9"/><stop offset="0.895" stop-color="#e67a74"/><stop offset="1.000" stop-color="#de4b42"/></linearGradient><linearGradient id="h283"><stop offset="0.000" stop-color="#6ea2d6"/><stop offset="0.341" stop-color="#95c1e6"/><stop offset="0.491" stop-color="#e7f0f8"/><stop offset="0.541" stop-color="#fcfcfc"/><stop offset="0.611" stop-color="#f0b9b7"/><stop offset="0.891" stop-color="#e5736d"/><stop offset="1.000" stop-color="#dd4339"/></linearGradient><linearGradient id="h284"><stop offset="0.000" stop-color="#6ea2d6"/><stop offset="0.347" stop-color="#95c1e6"/><stop offset="0.497" stop-color="#e7f0f8"/><stop offset="0.547" stop-color="#fcfcfc"/><stop offset="0.617" stop-color="#f0b8b6"/><stop offset="0.897" stop-color="#e5736c"/><stop offset="1.000" stop-color="#dd4239"/></linearGradient><linearGradient id="h285"><stop offset="0.000" stop-color="#659bd2"/><stop offset="0.357" stop-color="#8fbce3"/><stop offset="0.507" stop-color="#e6f0f7"/><stop offset="0.557" stop-color="#fcfcfc"/><stop offset="0.627" stop-color="#efb4b2"/><stop offset="0.907" stop-color="#e36760"/><stop offset="1.000" stop-color="#dc3d33"/></linearGradient><linearGradient id="h286"><stop offset="0.000" stop-color="#6ea2d6"/><stop offset="0.358" stop-color="#95c1e6"/><stop offset="0.508" stop-color="#e7f0f8"/><stop offset="0.558" stop-color="#fcfcfc"/><stop offset="0.628" stop-color="#f0b9b7"/><stop offset="0.908" stop-color="#e5736d"/><stop offset="1.000" stop-color="#dd4339"/></linearGradient><linearGradient id="h287"><stop offset="0.000" stop-color="#73a6d8"/><stop offset="0.350" stop-color="#99c3e7"/><stop offset="0.500" stop-color="#e8f1f8"/><stop offset="0.550" stop-color="#fcfcfc"/><stop offset="0.620" stop-color="#f0bbb9"/><stop offset="0.900" stop-color="#e67973"/><stop offset="1.000" stop-color="#de4a41"/></linearGradient><linearGradient id="h288"><stop offset="0.000" stop-color="#72a5d7"/><stop offset="0.349" stop-color="#98c3e7"/><stop offset="0.499" stop-color="#e8f1f8"/><stop offset="0.549" stop-color="#fcfcfc"/><stop offset="0.619" stop-color="#f0bab9"/><stop offset="0.899" stop-color="#e67872"/><stop offset="1.000" stop-color="#de4940"/></linearGradient><linearGradient id="h289"><stop offset="0.000" stop-color="#72a5d7"/><stop offset="0.337" stop-color="#98c3e7"/><stop offset="0.487" stop-color="#e8f1f8"/><stop offset="0.537" stop-color="#fcfcfc"/><stop offset="0.607" stop-color="#f0bab9"/><stop offset="0.887" stop-color="#e67872"/><stop offset="1.000" stop-color="#de4940"/></linearGradient><linearGradient id="h290"><stop offset="0.000" stop-color="#3b7ac1"/><stop offset="0.304" stop-color="#8fbce3"/><stop offset="0.424" stop-color="#e6f0f7"/><stop offset="0.474" stop-color="#fcfcfc"/><stop offset="0.554" stop-color="#f2c4c3"/><stop offset="0.904" stop-color="#eda8a5"/><stop offset="1.000" stop-color="#e98e8a"/></linearGradient><linearGradient id="h291"><stop offset="0.000" stop-color="#4885c7"/><stop offset="0.291" stop-color="#96c2e6"/><stop offset="0.411" stop-color="#e8f0f8"/><stop offset="0.461" stop-color="#fcfcfc"/><stop offset="0.541" stop-color="#f3c8c7"/><stop offset="0.891" stop-color="#efb1af"/><stop offset="1.000" stop-color="#eb9995"/></linearGradient><linearGradient id="h292"><stop offset="0.000" stop-color="#4985c7"/><stop offset="0.274" stop-color="#97c2e7"/><stop offset="0.394" stop-color="#e8f0f8"/><stop offset="0.444" stop-color="#fcfcfc"/><stop offset="0.524" stop-color="#f3c8c7"/><stop offset="0.874" stop-color="#efb2af"/><stop offset="1.000" stop-color="#eb9a96"/></linearGradient><linearGradient id="h293"><stop offset="0.000" stop-color="#528cca"/><stop offset="0.278" stop-color="#9cc5e8"/><stop offset="0.398" stop-color="#e9f1f8"/><stop offset="0.448" stop-color="#fcfcfc"/><stop offset="0.528" stop-color="#f3cbca"/><stop offset="0.878" stop-color="#efb6b4"/><stop offset="1.000" stop-color="#eca19e"/></linearGradient><linearGradient id="h294"><stop offset="0.000" stop-color="#528cca"/><stop offset="0.282" stop-color="#9cc5e8"/><stop offset="0.402" stop-color="#e9f1f8"/><stop offset="0.452" stop-color="#fcfcfc"/><stop offset="0.532" stop-color="#f3cbc9"/><stop offset="0.882" stop-color="#efb6b4"/><stop offset="1.000" stop-color="#eca19d"/></linearGradient><linearGradient id="h295"><stop offset="0.000" stop-color="#4381c5"/><stop offset="0.275" stop-color="#94c0e5"/><stop offset="0.395" stop-color="#e7f0f8"/><stop offset="0.445" stop-color="#fcfcfc"/><stop offset="0.525" stop-color="#f2c7c5"/><stop offset="0.875" stop-color="#eeaeab"/><stop offset="1.000" stop-color="#ea9591"/></linearGradient><linearGradient id="h296"><stop offset="0.000" stop-color="#4a86c7"/><stop offset="0.279" stop-color="#97c2e7"/><stop offset="0.399" stop-color="#e8f1f8"/><stop offset="0.449" stop-color="#fcfcfc"/><stop offset="0.529" stop-color="#f3c8c7"/><stop offset="0.879" stop-color="#efb2b0"/><stop offset="1.000" stop-color="#eb9a97"/></linearGradient><linearGradient id="h297"><stop offset="0.000" stop-color="#528cca"/><stop offset="0.275" stop-color="#9cc5e8"/><stop offset="0.395" stop-color="#e9f1f8"/><stop offset="0.445" stop-color="#fcfcfc"/><stop offset="0.525" stop-color="#f3cbc9"/><stop offset="0.875" stop-color="#efb6b4"/><stop offset="1.000" stop-color="#eca19d"/></linearGradient><linearGradient id="h298"><stop offset="0.000" stop-color="#4280c4"/><stop offset="0.277" stop-color="#93bfe5"/><stop offset="0.397" stop-color="#e7f0f8"/><stop offset="0.447" stop-color="#fcfcfc"/><stop offset="0.527" stop-color="#f2c6c5"/><stop offset="0.877" stop-color="#eeadaa"/><stop offset="1.000" stop-color="#ea9490"/></linearGradient><linearGradient id="h299"><stop offset="0.000" stop-color="#4884c6"/><stop offset="0.277" stop-color="#96c2e6"/><stop offset="0.397" stop-color="#e8f0f8"/><stop offset="0.447" stop-color="#fcfcfc"/><stop offset="0.527" stop-color="#f3c8c7"/><stop offset="0.877" stop-color="#efb1af"/><stop offset="1.000" stop-color="#eb9995"/></linearGradient><linearGradient id="h300"><stop offset="0.000" stop-color="#548ecb"/><stop offset="0.287" stop-color="#9dc6e8"/><stop offset="0.407" stop-color="#e9f1f8"/><stop offset="0.457" stop-color="#fcfcfc"/><stop offset="0.537" stop-color="#f3ccca"/><stop offset="0.887" stop-color="#f0b7b5"/><stop offset="1.000" stop-color="#eca3a0"/></linearGradient><linearGradient id="h301"><stop offset="0.000" stop-color="#558fcc"/><stop offset="0.294" stop-color="#9ec6e8"/><stop offset="0.414" stop-color="#e9f1f8"/><stop offset="0.464" stop-color="#fcfcfc"/><stop offset="0.544" stop-color="#f3ccca"/><stop offset="0.894" stop-color="#f0b7b5"/><stop offset="1.000" stop-color="#eca3a0"/></linearGradient><linearGradient id="cl302" x1="0" y1="0" x2="0" y2="1"><stop offset="0" stop-color="#dc3d33"/><stop offset="0.5" stop-color="#fbfbfb"/><stop offset="1" stop-color="#3a78be"/></linearGradient></defs>
<rect width="685" height="980" fill="#fff"/>
<text x="3.60" y="14.00" font-size="17.0" fill="#000">A</text>
<text x="120.50" y="21.00" font-size="11.9">Scheme of scRNA-Seq flowchart</text>
<path d="M58.3 31.1 C56.6 31.1 53.8 38.5 52.6 42.6 A6.4 6.4 0 1 0 50.1 55.2 C48.5 57 47.4 60 47.4 65 L47.4 74 C47.4 80 52 83.4 58.3 83.4 C64.6 83.4 69.6 80 69.6 74 L69.6 65 C69.6 60 68.5 57 66.9 55.2 A6.4 6.4 0 1 0 64.0 42.6 C62.8 38.5 60.0 31.1 58.3 31.1 Z" fill="#fff" stroke="#4d4d4d" stroke-width="1.35" stroke-linejoin="round"/>
<path d="M52.6 42.6 C54.2 44.5 55.6 46.5 55.6 49.8 M64.0 42.6 C62.4 44.5 61.0 46.5 61.0 49.8" fill="none" stroke="#4d4d4d" stroke-width="1.2"/>
<path d="M58.3 83.4 C58.7 87 58.9 92 57.1 95.3 C55 97.5 49 97 44 98.6 C42.5 99.5 41.6 101 41.5 102.6" fill="none" stroke="#4d4d4d" stroke-width="1.2"/>
<g stroke="#4d4d4d" stroke-width="0.45" fill="none"><path d="M57 32.6 L51.0 30.6 M57 33.2 L50.8 33.6 M57.2 33.6 L51.8 35.0 M59.6 32.6 L65.6 30.6 M59.6 33.2 L65.8 33.6 M59.4 33.6 L64.8 35.0"/></g>
<path d="M56.6 33.6 C57 31.6 59.6 31.6 60.0 33.6 Z" fill="#4d4d4d"/>
<circle cx="55.9" cy="42.2" r="0.7" fill="#4d4d4d"/><circle cx="60.7" cy="42.2" r="0.7" fill="#4d4d4d"/>
<ellipse cx="58.4" cy="64.8" rx="7.4" ry="9.5" fill="none" stroke="#e8323a" stroke-width="1.2"/>
<line x1="74.60" y1="64.80" x2="110.30" y2="64.80" stroke="#000" stroke-width="1.3"/>
<path d="M114.30 64.80L109.80 62.50L109.80 67.10Z" fill="#000"/>
<path d="M92.6 69.2 L91.0 74.4 L94.2 74.4 Z" fill="#1f2a44"/>
<text x="92.30" y="81.50" font-size="7.5" text-anchor="middle">Day 5</text>
<text x="93.50" y="88.60" font-size="7.25" text-anchor="middle">after injection</text>
<g clip-path="url(#epi)">
<rect x="120.0" y="41.8" width="47.8" height="3.6" fill="#efe6cd"/>
<rect x="120.0" y="45.4" width="47.8" height="2.90" fill="#f3d8e1"/>
<rect x="120.00" y="45.60" width="0.7" height="2.50" fill="#fbf0f4"/>
<rect x="123.20" y="46.50" width="2.4" height="0.7" fill="#e2a9bd"/>
<rect x="129.00" y="45.60" width="0.7" height="2.50" fill="#fbf0f4"/>
<rect x="132.20" y="46.50" width="2.4" height="0.7" fill="#e2a9bd"/>
<rect x="138.00" y="45.60" width="0.7" height="2.50" fill="#fbf0f4"/>
<rect x="141.20" y="46.50" width="2.4" height="0.7" fill="#e2a9bd"/>
<rect x="147.00" y="45.60" width="0.7" height="2.50" fill="#fbf0f4"/>
<rect x="150.20" y="46.50" width="2.4" height="0.7" fill="#e2a9bd"/>
<rect x="156.00" y="45.60" width="0.7" height="2.50" fill="#fbf0f4"/>
<rect x="159.20" y="46.50" width="2.4" height="0.7" fill="#e2a9bd"/>
<rect x="165.00" y="45.60" width="0.7" height="2.50" fill="#fbf0f4"/>
<rect x="168.20" y="46.50" width="2.4" height="0.7" fill="#e2a9bd"/>
<rect x="120.0" y="48.3" width="47.8" height="2.80" fill="#f0d0dc"/>
<rect x="124.50" y="48.50" width="0.7" height="2.40" fill="#fbf0f4"/>
<rect x="127.70" y="49.35" width="2.4" height="0.7" fill="#e2a9bd"/>
<rect x="133.50" y="48.50" width="0.7" height="2.40" fill="#fbf0f4"/>
<rect x="136.70" y="49.35" width="2.4" height="0.7" fill="#e2a9bd"/>
<rect x="142.50" y="48.50" width="0.7" height="2.40" fill="#fbf0f4"/>
<rect x="145.70" y="49.35" width="2.4" height="0.7" fill="#e2a9bd"/>
<rect x="151.50" y="48.50" width="0.7" height="2.40" fill="#fbf0f4"/>
<rect x="154.70" y="49.35" width="2.4" height="0.7" fill="#e2a9bd"/>
<rect x="160.50" y="48.50" width="0.7" height="2.40" fill="#fbf0f4"/>
<rect x="163.70" y="49.35" width="2.4" height="0.7" fill="#e2a9bd"/>
<rect x="120.0" y="51.1" width="47.8" height="2.90" fill="#eecbd8"/>
<rect x="120.00" y="51.30" width="0.7" height="2.50" fill="#fbf0f4"/>
<rect x="123.20" y="52.20" width="2.4" height="0.7" fill="#e2a9bd"/>
<rect x="129.00" y="51.30" width="0.7" height="2.50" fill="#fbf0f4"/>
<rect x="132.20" y="52.20" width="2.4" height="0.7" fill="#e2a9bd"/>
<rect x="138.00" y="51.30" width="0.7" height="2.50" fill="#fbf0f4"/>
<rect x="141.20" y="52.20" width="2.4" height="0.7" fill="#e2a9bd"/>
<rect x="147.00" y="51.30" width="0.7" height="2.50" fill="#fbf0f4"/>
<rect x="150.20" y="52.20" width="2.4" height="0.7" fill="#e2a9bd"/>
<rect x="156.00" y="51.30" width="0.7" height="2.50" fill="#fbf0f4"/>
<rect x="159.20" y="52.20" width="2.4" height="0.7" fill="#e2a9bd"/>
<rect x="165.00" y="51.30" width="0.7" height="2.50" fill="#fbf0f4"/>
<rect x="168.20" y="52.20" width="2.4" height="0.7" fill="#e2a9bd"/>
<rect x="120.0" y="54.1" width="47.8" height="5.20" fill="#e9b8c9"/>
<rect x="120.00" y="54.10" width="0.6" height="5.20" fill="#f7e6ec"/>
<rect x="122.40" y="56.20" width="2.2" height="1.1" fill="#c9708e"/>
<rect x="126.50" y="54.10" width="0.6" height="5.20" fill="#f7e6ec"/>
<rect x="128.90" y="56.20" width="2.2" height="1.1" fill="#c9708e"/>
<rect x="133.00" y="54.10" width="0.6" height="5.20" fill="#f7e6ec"/>
<rect x="135.40" y="56.20" width="2.2" height="1.1" fill="#c9708e"/>
<rect x="139.50" y="54.10" width="0.6" height="5.20" fill="#f7e6ec"/>
<rect x="141.90" y="56.20" width="2.2" height="1.1" fill="#c9708e"/>
<rect x="146.00" y="54.10" width="0.6" height="5.20" fill="#f7e6ec"/>
<rect x="148.40" y="56.20" width="2.2" height="1.1" fill="#c9708e"/>
<rect x="152.50" y="54.10" width="0.6" height="5.20" fill="#f7e6ec"/>
<rect x="154.90" y="56.20" width="2.2" height="1.1" fill="#c9708e"/>
<rect x="159.00" y="54.10" width="0.6" height="5.20" fill="#f7e6ec"/>
<rect x="161.40" y="56.20" width="2.2" height="1.1" fill="#c9708e"/>
<rect x="165.50" y="54.10" width="0.6" height="5.20" fill="#f7e6ec"/>
<rect x="120.0" y="58.95" width="47.8" height="0.5" fill="#f5e4ea"/>
<rect x="120.0" y="59.3" width="47.8" height="5.40" fill="#e5afc2"/>
<rect x="123.20" y="59.30" width="0.6" height="5.40" fill="#f7e6ec"/>
<rect x="125.60" y="61.50" width="2.2" height="1.1" fill="#c9708e"/>
<rect x="129.70" y="59.30" width="0.6" height="5.40" fill="#f7e6ec"/>
<rect x="132.10" y="61.50" width="2.2" height="1.1" fill="#c9708e"/>
<rect x="136.20" y="59.30" width="0.6" height="5.40" fill="#f7e6ec"/>
<rect x="138.60" y="61.50" width="2.2" height="1.1" fill="#c9708e"/>
<rect x="142.70" y="59.30" width="0.6" height="5.40" fill="#f7e6ec"/>
<rect x="145.10" y="61.50" width="2.2" height="1.1" fill="#c9708e"/>
<rect x="149.20" y="59.30" width="0.6" height="5.40" fill="#f7e6ec"/>
<rect x="151.60" y="61.50" width="2.2" height="1.1" fill="#c9708e"/>
<rect x="155.70" y="59.30" width="0.6" height="5.40" fill="#f7e6ec"/>
<rect x="158.10" y="61.50" width="2.2" height="1.1" fill="#c9708e"/>
<rect x="162.20" y="59.30" width="0.6" height="5.40" fill="#f7e6ec"/>
<rect x="164.60" y="61.50" width="2.2" height="1.1" fill="#c9708e"/>
<rect x="120.0" y="64.35" width="47.8" height="0.5" fill="#f5e4ea"/>
<rect x="120.0" y="64.7" width="47.8" height="5.50" fill="#e3a9bd"/>
<rect x="121.60" y="64.70" width="0.6" height="5.50" fill="#f7e6ec"/>
<rect x="124.00" y="66.95" width="2.2" height="1.1" fill="#c9708e"/>
<rect x="128.10" y="64.70" width="0.6" height="5.50" fill="#f7e6ec"/>
<rect x="130.50" y="66.95" width="2.2" height="1.1" fill="#c9708e"/>
<rect x="134.60" y="64.70" width="0.6" height="5.50" fill="#f7e6ec"/>
<rect x="137.00" y="66.95" width="2.2" height="1.1" fill="#c9708e"/>
<rect x="141.10" y="64.70" width="0.6" height="5.50" fill="#f7e6ec"/>
<rect x="143.50" y="66.95" width="2.2" height="1.1" fill="#c9708e"/>
<rect x="147.60" y="64.70" width="0.6" height="5.50" fill="#f7e6ec"/>
<rect x="150.00" y="66.95" width="2.2" height="1.1" fill="#c9708e"/>
<rect x="154.10" y="64.70" width="0.6" height="5.50" fill="#f7e6ec"/>
<rect x="156.50" y="66.95" width="2.2" height="1.1" fill="#c9708e"/>
<rect x="160.60" y="64.70" width="0.6" height="5.50" fill="#f7e6ec"/>
<rect x="163.00" y="66.95" width="2.2" height="1.1" fill="#c9708e"/>
<rect x="167.10" y="64.70" width="0.6" height="5.50" fill="#f7e6ec"/>
<rect x="120.0" y="69.85" width="47.8" height="0.5" fill="#f5e4ea"/>
<rect x="121.30" y="70.6" width="6.0" height="7.5" rx="0.8" fill="#ab9bbb"/>
<rect x="123.10" y="74.2" width="2.4" height="1.0" fill="#8a6c98"/>
<rect x="127.90" y="70.6" width="6.0" height="7.5" rx="0.8" fill="#ab9bbb"/>
<rect x="129.70" y="74.2" width="2.4" height="1.0" fill="#8a6c98"/>
<rect x="134.50" y="70.6" width="6.0" height="7.5" rx="0.8" fill="#ab9bbb"/>
<rect x="136.30" y="74.2" width="2.4" height="1.0" fill="#8a6c98"/>
<rect x="141.10" y="70.6" width="6.0" height="7.5" rx="0.8" fill="#ab9bbb"/>
<rect x="142.90" y="74.2" width="2.4" height="1.0" fill="#8a6c98"/>
<rect x="147.70" y="70.6" width="6.0" height="7.5" rx="0.8" fill="#ab9bbb"/>
<rect x="149.50" y="74.2" width="2.4" height="1.0" fill="#8a6c98"/>
<rect x="154.30" y="70.6" width="6.0" height="7.5" rx="0.8" fill="#ab9bbb"/>
<rect x="156.10" y="74.2" width="2.4" height="1.0" fill="#8a6c98"/>
<rect x="160.90" y="70.6" width="6.0" height="7.5" rx="0.8" fill="#ab9bbb"/>
<rect x="162.70" y="74.2" width="2.4" height="1.0" fill="#8a6c98"/>
</g>
<text x="143.80" y="88.40" font-size="7.3" text-anchor="middle">Epidermis</text>
<line x1="175.00" y1="65.70" x2="185.50" y2="65.70" stroke="#000" stroke-width="1.3"/>
<path d="M189.20 65.70L185.00 63.50L185.00 67.90Z" fill="#000"/>
<path d="M207.6 46 C208.5 43.8 216.5 43.8 217.3 46 L218.2 52.5 C217.5 54.6 208 54.6 207 52.5 Z" fill="#ecd36f"/>
<ellipse cx="212.6" cy="49.2" rx="1.2" ry="1.1" fill="#dbb545" fill-opacity="0.8"/>
<path d="M216.3 57 C219 53 226 50 232 49.6 C232.8 50.6 228 53 223 54.8 C220 56 218 57.5 216.3 57 Z" fill="#eaa496"/>
<ellipse cx="223.3" cy="52.0" rx="1.0" ry="0.6" fill="#c84050" fill-opacity="0.8"/>
<path d="M193.2 54.4 C197 52.6 202 52 205 52.7 C207 53.2 208.8 54.3 208.8 54.6 C205 55.4 198 55.5 193.2 54.4 Z" fill="#c7b3e2"/>
<ellipse cx="200.8" cy="53.8" rx="1.1" ry="0.6" fill="#6c60b8" fill-opacity="0.8"/>
<path d="M192.3 57.5 C195 55.5 199 55.6 201.2 57.5 L202.2 62.5 C200 64.6 194 64.6 191.2 62.6 Z" fill="#da6b73"/>
<ellipse cx="196.2" cy="60.3" rx="1.4" ry="1.1" fill="#a93040" fill-opacity="0.8"/>
<path d="M203.6 61 C204 57 208 55.4 211 55.6 C214.5 55.8 216.4 58.6 216.2 61.8 C216 65.2 213 67.2 209.6 67 C205.6 66.8 203.4 64.2 203.6 61 Z" fill="#92d8c8"/>
<ellipse cx="210.3" cy="61.4" rx="2.0" ry="1.5" fill="#3a9c8c" fill-opacity="0.8"/>
<path d="M218.1 58 C218.3 56.8 225.3 56.6 225.9 58 L226.2 66.6 C225.4 68.2 218.6 68.2 218 66.6 Z" fill="#5a62c0"/>
<ellipse cx="221.4" cy="64.2" rx="1.0" ry="0.9" fill="#3d44a0" fill-opacity="0.8"/>
<path d="M225.2 55 C228.5 57 232.5 62 235 68.4 C231.5 66.5 227.8 62 225.2 55 Z" fill="#82d163"/>
<ellipse cx="229.8" cy="61.6" rx="0.9" ry="0.9" fill="#3d9a35" fill-opacity="0.8"/>
<path d="M202 66.5 C205 66.5 208 67.6 211 67.3 C214 67 216.2 65.6 217.5 66.3 C216.8 68 215.5 69.4 216.5 71 C217.5 72.4 216.8 73.6 215 73.2 C212 72.4 208 71.6 205 73.2 C203.4 74 202.2 72.6 203.2 71 C204 69.6 203.2 67.8 202 66.5 Z" fill="#eeb383"/>
<ellipse cx="210.2" cy="69.6" rx="1.6" ry="0.6" fill="#d97a3a" fill-opacity="0.8"/>
<path d="M200.4 67 C201 70 201.8 72 203.8 75.5 C202.6 77.6 200.6 76 199 75.2 C196.8 76.6 194.6 76.8 193.2 76.2 C194.6 74.8 195.2 73 194.2 71.6 C193 71.2 191.6 71.4 191.2 70.6 C194.5 70.2 198 69.4 200.4 67 Z" fill="#f0b944"/>
<ellipse cx="196.6" cy="73.4" rx="0.8" ry="0.8" fill="#e07a20" fill-opacity="0.8"/>
<path d="M218.8 69 C223 68.6 230 69.2 235.8 69.8 C233 71.8 229 73.2 226.6 74.4 C224 73.2 221 71.6 218.8 69 Z" fill="#5b91e1"/>
<ellipse cx="227.2" cy="71.6" rx="1.0" ry="1.2" fill="#2f58b0" fill-opacity="0.8"/>
<path d="M206.6 79.6 C210 77.8 215 76.4 221 75.8 C224.5 75.6 227.5 76 228.8 76.6 C225 78 219 79.4 214 80.2 C210.8 80.6 208 80.4 206.6 79.6 Z" fill="#f3cad9"/>
<ellipse cx="217.4" cy="77.6" rx="1.5" ry="0.6" fill="#c880b8" fill-opacity="0.8"/>
<text x="213.40" y="87.90" font-size="7.3" text-anchor="middle">Single cell</text>
<text x="213.00" y="95.30" font-size="7.3" text-anchor="middle">dissociation</text>
<line x1="238.40" y1="66.60" x2="252.50" y2="66.60" stroke="#000" stroke-width="1.3"/>
<path d="M256.20 66.60L252.00 64.40L252.00 68.80Z" fill="#000"/>
<text x="259.80" y="70.00" font-size="7.5">Oil</text>
<g stroke="#8a8a8a" stroke-width="1.1" fill="none">
<path d="M286.6 46 V61.6 H270.3 M297.1 46 V61.6 H313.2 M286.6 88.6 V72.8 H270.3 M297.1 88.6 V72.8 H313.2"/>
</g>
<circle cx="291.9" cy="48.1" r="1.3" fill="none" stroke="#9ed37e" stroke-width="0.6"/>
<circle cx="291.9" cy="53.9" r="1.3" fill="none" stroke="#9ed37e" stroke-width="0.6"/>
<circle cx="291.9" cy="59.5" r="1.3" fill="none" stroke="#9ed37e" stroke-width="0.6"/>
<ellipse cx="276.6" cy="67.1" rx="5.6" ry="2.5" fill="none" stroke="#e28ac8" stroke-width="0.55"/>
<ellipse cx="292.2" cy="67.1" rx="5.5" ry="2.6" fill="none" stroke="#e28ac8" stroke-width="0.55"/>
<ellipse cx="305.3" cy="67.1" rx="4.6" ry="2.7" fill="none" stroke="#e28ac8" stroke-width="0.55"/>
<circle cx="290.2" cy="67.1" r="1.1" fill="none" stroke="#9ed37e" stroke-width="0.5"/>
<circle cx="293.6" cy="67.2" r="1.7" fill="#f0a62a"/>
<circle cx="303.6" cy="67.0" r="1.1" fill="none" stroke="#9ed37e" stroke-width="0.5"/>
<circle cx="306.3" cy="67.1" r="1.6" fill="#5a62c8"/>
<circle cx="291.9" cy="75.1" r="1.7" fill="#b96ab0"/>
<circle cx="291.9" cy="80.7" r="1.7" fill="#e06068"/>
<circle cx="291.9" cy="86.2" r="1.7" fill="#8fd5c4"/>
<text x="291.20" y="35.00" font-size="7.2" text-anchor="middle">Cells &amp;</text>
<text x="294.90" y="42.40" font-size="7.2" text-anchor="middle">Reagents</text>
<text x="293.30" y="96.30" font-size="7.1" text-anchor="middle">10x barcoded</text>
<text x="291.60" y="103.20" font-size="7.2" text-anchor="middle">gel beads</text>
<text x="315.40" y="64.00" font-size="7.5">Single cell GEMs</text>
<line x1="317.20" y1="67.70" x2="365.80" y2="67.70" stroke="#000" stroke-width="1.4"/>
<path d="M370.50 67.70L365.30 64.90L365.30 70.50Z" fill="#000"/>
<text x="373.60" y="71.30" font-size="8.1">Sequencing</text>
<text x="7.00" y="121.40" font-size="17.0" fill="#000">B</text>
<text x="123.00" y="138.20" font-size="11.7" text-anchor="middle">Control</text>
<text x="303.30" y="137.50" font-size="11.7" text-anchor="middle"><tspan font-style="italic">Supt6</tspan><tspan> KO</tspan></text>
<path transform="scale(.1)" stroke="#a8b2b0" stroke-width="8.5" stroke-linecap="square" d="M1204 1541h0m0 6h0m4 31h0m1-50h0m2 39h0m1-31h0m0 7h0m1 29h0m4-71h0m0 54h0"/>
<path transform="scale(.1)" stroke="#eb9f85" stroke-width="8.5" stroke-linecap="square" d="M538 2293h0m7 8h0m5 8h0m2-8h0m6-33h0m11 7h0m2 10h0m1-19h0m2 89h0m1-66h0m2-17h0m3-21h0m3 85h0m2-84h0m1 82h0m4 3h0m2-52h0m3-5h0m1 12h0m3 50h0m0 1h0m1-22h0m5-13h0m4 54h0m21-103h0m0 91h0m1-80h0m1 89h0m5-20h0m0 14h0m6-121h0m1-53h0m3 182h0m1 8h0m1-175h0m0 182h0m3-71h0m4 65h0m0 1h0m2-110h0m1-10h0m1-17h0m2 101h0m1-60h0m2 9h0m3 2h0m6 91h0m13-96h0"/>
<path transform="scale(.1)" stroke="#49acbb" stroke-width="8.5" stroke-linecap="square" d="M748 1977h0m2-1h0m2-20h0m4 106h0m0 112h0m1-225h0m2 9h0m2-45h0m1 23h0m5 27h0m1 44h0m1-97h0m2 51h0m1 13h0m1 88h0m0 14h0m1-14h0m1-151h0m0 64h0m5 11h0m1 128h0m4-142h0m0 26h0m0 136h0m2-88h0m4 16h0m1-16h0m0 48h0m4 60h0m4-240h0m2-18h0m0 94h0m0 53h0m2 121h0m1-112h0m1-32h0m8-85h0m1 154h0m5 27h0m1-112h0m6 117h0m2-314h0m1 284h0m2-82h0m1 136h0m1-222h0m6-29h0m0 135h0m1-181h0m0 103h0m0 56h0m3-151h0m1-79h0m0 212h0m1 32h0m1 27h0m4-211h0m2 84h0m0 123h0m4-191h0m0 15h0m0 233h0m2-29h0m5-173h0m0 13h0m0 22h0m0 155h0m1-226h0m0 36h0m5-31h0m1-13h0m1 174h0m4-101h0m0 243h0m3-417h0m4 150h0m0 2h0m0 152h0m2-130h0m1-100h0m0 134h0m1-149h0m0 109h0m0 137h0m3-140h0m2 8h0m2 40h0m0 29h0m2-81h0m0 28h0m2-51h0m0 141h0m1-247h0m0 198h0m1-89h0m1 121h0m2-97h0m0 28h0m1-31h0m1 70h0m1-31h0m0 93h0m1-114h0m1-133h0m0 2h0m0 255h0m1-268h0m0 73h0m0 92h0m1-143h0m1 170h0m1-5h0m1 154h0m2-116h0m1-238h0m0 6h0m0 182h0m0 71h0m1-168h0m0 62h0m0 45h0m0 79h0m0 62h0m2-278h0m0 94h0m1 8h0m0 81h0m2-26h0m1 1h0m1 113h0m1-115h0m1-53h0m1-76h0m0 122h0m2-2h0m1-153h0m0 81h0m1 11h0m0 147h0m1-208h0m0 178h0m0 101h0m1-166h0m1-63h0m1 79h0m3-180h0m0 181h0m0 89h0m3 14h0m1-265h0m0 50h0m0 20h0m1-30h0m1 200h0m2-219h0m0 68h0m0 9h0m0 86h0m0 158h0m3-267h0m1 86h0m1-172h0m0 230h0m1-70h0m1-133h0m0 17h0m0 67h0m1-132h0m0 65h0m1-6h0m0 116h0m0 47h0m4-146h0m0 57h0m0 155h0m1-236h0m0 9h0m0 281h0m1-211h0m1 66h0m1-31h0m2 28h0m2-69h0m0 20h0m0 2h0m2-47h0m0 18h0m0 16h0m0 10h0m1-89h0m0 5h0m0 72h0m1-22h0m0 5h0m0 8h0m1-51h0m0 43h0m0 27h0m0 114h0m1-276h0m0 73h0m0 61h0m0 14h0m0 1h0m0 21h0m0 35h0m1-19h0m0 19h0m1-86h0m0 28h0m0 20h0m1-46h0m0 26h0m0 32h0m2-27h0m0 22h0m1-58h0m0 16h0m0 71h0m1-36h0m0 3h0m0 1h0m1-55h0m0 36h0m0 173h0m1-186h0m0 59h0m1-12h0m0 73h0m1-136h0m0 31h0m0 19h0m0 147h0m1-150h0m0 26h0m2-23h0m0 5h0m1-18h0m0 37h0m1-40h0m0 11h0m0 1h0m1-107h0m1 84h0m0 33h0m0 4h0m1 166h0m1-182h0m0 10h0m1-43h0m0 109h0m1-112h0m0 22h0m0 1h0m0 72h0m1-22h0m0 118h0m1 47h0m1-11h0m1-350h0m0 124h0m0 16h0m0 6h0m0 21h0m1 132h0m0 40h0m0 10h0m0 1h0m1-204h0m0 21h0m0 44h0m1-127h0m0 207h0m0 38h0m1-220h0m0 71h0m0 105h0m0 6h0m1-156h0m0 35h0m0 87h0m2-230h0m0 107h0m0 69h0m0 36h0m0 14h0m1-115h0m0 22h0m0 113h0m0 71h0m1-126h0m1-84h0m0 18h0m0 92h0m1-89h0m0 50h0m0 137h0m1-360h0m0 175h0m1 227h0m1-226h0m0 52h0m0 29h0m1-266h0m0 78h0m0 79h0m1 14h0m0 7h0m0 55h0m1-120h0m0 97h0m1-136h0m1 84h0m0 16h0m2-35h0m0 205h0m1-171h0m0 86h0m1-109h0m0 14h0m0 120h0m0 50h0m1-216h0m0 53h0m0 144h0m1-289h0m0 174h0m1-89h0m0 12h0m0 113h0m0 39h0m1-51h0m1-97h0m0 39h0m0 39h0m1-83h0m0 6h0m0 124h0m1-144h0m1 75h0m0 73h0m1-140h0m0 52h0m0 6h0m0 33h0m2-32h0m1-63h0m0 174h0m1-144h0m0 26h0m1-19h0m0 24h0m0 42h0m0 63h0m0 16h0m1-123h0m0 12h0m0 26h0m1-117h0m0 60h0m0 33h0m0 77h0m1 69h0m1-142h0m0 24h0m1-106h0m0 108h0m0 16h0m0 27h0m0 28h0m1-232h0m0 168h0m0 15h0m1 8h0m0 10h0m1-38h0m0 87h0m1-172h0m0 17h0m0 123h0m0 23h0m1-100h0m0 7h0m1 3h0m0 61h0m1-155h0m0 11h0m0 30h0m0 17h0m0 21h0m0 3h0m1-122h0m0 239h0m1-221h0m0 86h0m1-46h0m0 19h0m0 185h0m0 20h0m1-323h0m0 230h0m1-141h0m0 55h0m1-3h0m0 6h0m0 39h0m0 190h0m1-202h0m2 39h0m1-137h0m1-81h0m0 75h0m0 47h0m0 31h0m0 14h0m0 1h0m1 58h0m0 85h0m1-265h0m0 51h0m0 7h0m1 44h0m0 30h0m0 132h0m1-209h0m0 47h0m1 139h0m1-143h0m0 31h0m0 44h0m0 116h0m1-187h0m1 213h0m2-169h0m1 187h0m3-352h0m0 120h0m0 31h0m1 202h0m2-318h0m0 169h0m2-175h0m0 178h0m1-66h0m1-66h0m0 113h0m0 69h0m0 25h0m1-142h0m1 18h0m1 152h0m7-107h0m2-204h0m0 192h0m0 137h0m2-316h0m1-8h0m2 105h0m3 68h0m1-164h0m0 106h0m1-160h0m0 61h0m4 193h0m2-217h0m0 17h0m2-6h0m0 167h0m1-228h0m0 224h0m1-175h0m0 20h0m1-87h0m1 80h0m2 17h0m0 82h0m0 3h0m0 70h0m0 59h0m0 105h0m1-425h0m0 243h0m1-75h0m2 159h0m1-251h0m2 312h0m1-343h0m0 4h0m4-32h0m2 18h0m0 339h0m1-198h0m0 62h0m1-225h0m0 4h0m1 271h0m1-266h0m0 36h0m0 327h0m2-133h0m1-248h0m0 11h0m0 194h0m0 168h0m1-317h0m0 354h0m1-187h0m0 136h0m1 14h0m1-336h0m0 80h0m0 54h0m0 19h0m1-146h0m0 185h0m2-240h0m0 158h0m0 227h0m1-368h0m0 194h0m0 170h0m1-147h0m1 96h0m0 53h0m1-301h0m0 36h0m1 100h0m0 162h0m1-350h0m0 177h0m0 20h0m0 100h0m1 44h0m0 11h0m1-267h0m0 172h0m0 81h0m1-281h0m0 230h0m0 77h0m0 2h0m1-178h0m1 11h0m2-200h0m0 367h0m1-161h0m3 82h0m1 70h0m1-368h0m0 360h0m1-19h0m1 59h0m1-21h0m1-68h0m0 59h0m1-288h0m0 150h0m2-185h0m1-40h0m1 348h0m1-14h0m1-275h0m1 242h0m0 50h0m1-147h0m0 154h0m1-12h0m1-3h0m0 34h0m1-208h0m0 196h0m0 20h0m1-127h0m1 90h0m1 23h0m0 50h0m1-76h0m2-88h0m1 112h0m1-177h0m0 10h0m0 126h0m2 49h0m2-171h0m2-46h0m1 53h0m0 3h0m1-28h0m1-11h0m2 174h0m0 14h0m9-26h0m3-24h0m3-150h0m1 183h0m5 15h0m6-178h0m0 392h0m3-32h0m2-120h0m2 139h0m6 13h0m1 23h0m1-147h0m0 35h0m0 93h0m4-160h0m4 149h0m1-155h0m1 7h0m4 61h0m0 43h0m0 80h0m4-57h0m1-108h0m1 72h0m2 9h0m0 54h0m2 19h0m1-161h0m0 63h0m3-80h0m0 72h0m3-30h0m0 39h0m1-57h0m3 58h0m0 3h0m0 26h0m1-23h0m3 12h0m1-70h0m1 94h0m1-74h0m1 17h0m1 17h0m1-6h0m2-48h0m1-8h0m1 87h0m0 7h0m3-18h0m1-98h0m0 8h0m1 109h0m6-77h0m1 59h0m4-64h0m3 89h0m7-96h0"/>
<path transform="scale(.1)" stroke="#59b94d" stroke-width="8.5" stroke-linecap="square" d="M724 2456h0m6-18h0m21-73h0m6 86h0m4-27h0m11-22h0m2 6h0m0 5h0m1 3h0m2-100h0m0 32h0m3 42h0m0 72h0m6 16h0m9-181h0m2 94h0m6 44h0m6-136h0m0 160h0m1-150h0m1 145h0m2-69h0m2 16h0m0 97h0m2-143h0m2-77h0m0 178h0m6-110h0m1 2h0m0 90h0m1-1h0m1 28h0m3 37h0m1-52h0m2-41h0m1-76h0m2-5h0m0 32h0m1-4h0m0 20h0m2 13h0m0 92h0m3-70h0m0 52h0m3-199h0m3 215h0m5-213h0m2 10h0m0 76h0m5 160h0m3-161h0m4-12h0m0 34h0m3 71h0m1-103h0m2 41h0m0 83h0m3 41h0m4-157h0m1 91h0m1-101h0m1 36h0m2-3h0m1 152h0m2-245h0m1 2h0m1 244h0m4-159h0m0 16h0m0 135h0m1-50h0m1-274h0m0 76h0m4-40h0m4 80h0m1-72h0m0 186h0m2-256h0m0 11h0m1 88h0m4 43h0m5-120h0m1 178h0m1 143h0m0 48h0m5-375h0m0 340h0m3-170h0m1 60h0m0 78h0m1-202h0m0 36h0m1-70h0m2 275h0m1-251h0m1-68h0m1 333h0m5-295h0m0 2h0m0 62h0m4-115h0m0 261h0m2-14h0m2-249h0m0 23h0m2 14h0m0 3h0m1 9h0m0 155h0m1 185h0m1-403h0m2 206h0m1 8h0m0 90h0m2-130h0m1-100h0m0 166h0m2-4h0m1-209h0m0 224h0m1-189h0m0 165h0m3-192h0m0 2h0m0 3h0m0 15h0m1-65h0m0 330h0m1-301h0m0 21h0m3 122h0m0 32h0m0 15h0m1-259h0m0 399h0m1-295h0m1-10h0m0 171h0m1-199h0m0 66h0m0 159h0m1-65h0m1-104h0m0 304h0m1-186h0m3-139h0m1 170h0m1-346h0m0 55h0m1 78h0m1 29h0m0 28h0m1 129h0m1-317h0m0 190h0m1-33h0m1 95h0m1-106h0m0 22h0m0 4h0m0 16h0m1 263h0m2-292h0m0 37h0m0 109h0m0 42h0m1-151h0m0 283h0m2-434h0m0 125h0m0 4h0m1-1h0m0 13h0m0 294h0m2-182h0m1 30h0m1-91h0m0 1h0m1 13h0m3 28h0m1-121h0m0 42h0m0 111h0m1 59h0m0 87h0m2-272h0m0 151h0m1-175h0m0 249h0m1-381h0m1 153h0m1 93h0m0 25h0m1-148h0m0 20h0m0 271h0m0 14h0m1-150h0m1 99h0m1-264h0m2-5h0m0 25h0m0 47h0m0 71h0m0 14h0m0 15h0m1-156h0m0 122h0m0 19h0m2-61h0m1-176h0m0 102h0m0 298h0m2-339h0m0 164h0m1-94h0m1 65h0m1-38h0m1-84h0m0 62h0m0 230h0m1-255h0m0 101h0m1-118h0m0 53h0m1-55h0m2-28h0m1 123h0m0 63h0m1-153h0m0 35h0m0 81h0m1-220h0m0 205h0m0 16h0m0 43h0m1-101h0m0 149h0m1-218h0m1 59h0m0 9h0m1-3h0m2-18h0m1-50h0m0 168h0m1-56h0m2-36h0m0 32h0m0 32h0m3-160h0m0 110h0m1 5h0m0 168h0m2-311h0m2-45h0m0 227h0m1-197h0m1 54h0m0 146h0m0 50h0m2-162h0m3 187h0m2-210h0m2 55h0m0 50h0m0 23h0m1-46h0m0 37h0m0 191h0m1-290h0m1 24h0m1-27h0m2 92h0m1 16h0m3-176h0m0 144h0m0 66h0m1-148h0m0 78h0m0 45h0m1-111h0m1 47h0m0 6h0m0 55h0m2-108h0m0 49h0m1 10h0m0 8h0m0 23h0m1-71h0m0 290h0m2-206h0m0 33h0m1-149h0m0 123h0m1-102h0m0 79h0m1-86h0m0 52h0m1-73h0m1 30h0m0 133h0m2-138h0m0 95h0m2-125h0m0 12h0m0 8h0m0 32h0m0 84h0m0 26h0m1-105h0m0 9h0m0 71h0m1-240h0m0 196h0m0 35h0m1-6h0m0 13h0m0 19h0m1-269h0m0 40h0m0 132h0m1-97h0m0 63h0m0 12h0m0 57h0m0 208h0m1-417h0m0 239h0m2-71h0m0 18h0m1 44h0m1 27h0m1-113h0m1 64h0m2-35h0m0 4h0m0 24h0m0 20h0m1-209h0m0 133h0m0 25h0m1-169h0m0 24h0m1 6h0m0 4h0m0 54h0m0 131h0m2-75h0m0 42h0m1-127h0m1-49h0m0 25h0m1-19h0m0 64h0m0 89h0m1-92h0m0 91h0m0 79h0m0 9h0m1-236h0m0 10h0m0 46h0m0 125h0m0 46h0m0 108h0m1-356h0m0 76h0m1 161h0m0 3h0m0 7h0m0 26h0m0 49h0m1-294h0m1 46h0m0 67h0m1-120h0m0 13h0m0 130h0m0 96h0m1-52h0m0 52h0m1-238h0m0 60h0m0 154h0m0 29h0m1-210h0m1 202h0m0 4h0m1-266h0m0 264h0m0 49h0m0 3h0m1-226h0m0 223h0m1-128h0m0 30h0m1-148h0m0 80h0m0 11h0m0 81h0m0 26h0m1-273h0m0 219h0m0 58h0m1-57h0m0 35h0m1-51h0m1 33h0m0 4h0m1 33h0m1-37h0m0 20h0m1-168h0m0 2h0m0 172h0m1-29h0m1 19h0m1-153h0m0 40h0m0 51h0m0 45h0m1-252h0m0 109h0m2-27h0m0 376h0m1-313h0m0 169h0m1-67h0m1-1h0m0 12h0m0 39h0m1-254h0m0 75h0m2 107h0m1 5h0m0 5h0m1-13h0m0 21h0m3 69h0m2-154h0m0 86h0m0 8h0m0 42h0m1-54h0m0 30h0m1-71h0m1 40h0m0 28h0m2 7h0m0 45h0m0 19h0m1-79h0m0 168h0m1-133h0m0 2h0m2-245h0m0 148h0m1-118h0m0 117h0m0 45h0m1-128h0m0 62h0m0 158h0m2-294h0m1 257h0m1-105h0m0 86h0m0 16h0m1 105h0m1-203h0m0 35h0m2-101h0m0 60h0m0 9h0m1 33h0m1-104h0m0 89h0m2 82h0m0 7h0m1-159h0m0 96h0m0 44h0m1-169h0m1 3h0m0 131h0m0 10h0m2-140h0m0 188h0m1-38h0m0 43h0m0 3h0m0 3h0m1-14h0m1-170h0m0 96h0m1 83h0m0 9h0m1-116h0m0 124h0m1-227h0m0 71h0m0 52h0m0 11h0m0 19h0m0 52h0m1-40h0m0 37h0m0 1h0m1-279h0m0 187h0m0 89h0m0 13h0m1-74h0m0 69h0m2-115h0m0 49h0m0 46h0m0 15h0m1-125h0m0 129h0m1-187h0m0 197h0m1-298h0m0 17h0m0 234h0m0 4h0m1-213h0m0 224h0m1-233h0m1 175h0m1-188h0m0 282h0m1-21h0m0 25h0m2-265h0m0 70h0m0 150h0m1-168h0m1 157h0m0 6h0m0 7h0m0 17h0m1-37h0m1-218h0m0 186h0m2-208h0m0 50h0m0 259h0m1-120h0m1-136h0m0 293h0m1-28h0m0 60h0m1-286h0m1 143h0m3 2h0m1-234h0m0 258h0m0 8h0m1-189h0m0 27h0m1 121h0m0 33h0m0 15h0m0 20h0m0 45h0m1-158h0m1-188h0m1 17h0m0 6h0m0 51h0m0 138h0m2 65h0m1-159h0m0 119h0m2-182h0m0 163h0m0 51h0m0 14h0m1-56h0m0 122h0m1-136h0m2-173h0m0 239h0m2 77h0m1-199h0m0 132h0m2-118h0m0 78h0m2-38h0m1 78h0m1-135h0m0 16h0m0 76h0m2-70h0m0 106h0m3-89h0m1-31h0m1 5h0m0 14h0m2-34h0m0 16h0m1 7h0m3-83h0m0 73h0m0 106h0m1-20h0m1-92h0m0 115h0m1-190h0m0 119h0m0 120h0m0 19h0m1-15h0m1-70h0m4-71h0m1-12h0m1 154h0m1-155h0m0 50h0m0 33h0m0 8h0m0 90h0m1-104h0m2 58h0m1 14h0m2-92h0m4-41h0m1 123h0m2-66h0m0 68h0m2-52h0m1-36h0m0 19h0m5-35h0m0 11h0m2 9h0m0 123h0m1-111h0m1-40h0m0 27h0m2-12h0m1 93h0m1-66h0m2-29h0m0 9h0m2 28h0"/>
<path transform="scale(.1)" stroke="#8c63b2" stroke-width="8.5" stroke-linecap="square" d="M1271 2198h0m5 80h0m5-29h0m4-6h0m6 49h0m7-49h0m6-7h0m1-3h0m2 14h0m3-8h0m1-9h0m1-58h0m0 72h0m6-77h0m237-99h0m7-43h0m3 515h0m6-223h0m4-246h0m2-15h0m2 69h0m3-91h0m0 36h0m0 4h0m3-44h0m1 9h0m1-19h0m0 3h0m0 8h0m1 313h0m2 133h0m2-125h0m1 35h0m2 82h0m1-444h0m3 11h0m0 19h0m0 298h0m1-28h0m2 140h0m1-128h0m0 30h0m0 7h0m1-369h0m0 57h0m0 390h0m2-468h0m0 62h0m2 304h0m0 154h0m1-577h0m0 410h0m0 23h0m2-334h0m0 110h0m0 219h0m1-1h0m0 125h0m1-419h0m0 497h0m1-541h0m0 500h0m1-581h0m0 67h0m1 78h0m0 446h0m1-597h0m0 38h0m0 460h0m0 84h0m1-428h0m0 44h0m1-18h0m0 233h0m1-303h0m0 5h0m0 107h0m1 7h0m0 405h0m1-500h0m0 57h0m3-205h0m0 413h0m0 36h0m2-210h0m0 339h0m1-568h0m0 12h0m0 211h0m0 195h0m1-331h0m0 9h0m0 484h0m1-458h0m0 493h0m0 21h0m1-631h0m0 84h0m0 84h0m0 426h0m1-466h0m0 301h0m1-228h0m0 219h0m0 172h0m2-398h0m0 321h0m1-439h0m0 68h0m0 64h0m2 317h0m2-371h0m0 247h0m0 92h0m1-45h0m0 151h0m0 6h0m2-509h0m0 305h0m1-194h0m0 210h0m1-436h0m0 167h0m0 20h0m0 37h0m2-34h0m1 9h0m0 429h0m1-395h0m1-208h0m0 115h0m0 59h0m0 49h0m1 312h0m1-515h0m0 457h0m0 117h0m2-181h0m2-11h0m0 28h0m0 29h0m0 118h0m0 33h0m1-464h0m2-35h0m2-90h0m1 417h0m0 143h0m1-546h0m0 348h0m1-429h0m0 461h0m0 143h0m1-413h0m1 321h0m1-486h0m0 539h0m0 60h0m1-519h0m1 80h0m0 259h0m1 33h0m0 172h0m1-632h0m1 231h0m0 222h0m1-286h0m0 292h0m1 98h0m1-98h0m0 145h0m0 4h0m3-532h0m0 429h0m0 122h0m3-231h0m0 220h0m0 6h0m1-184h0m0 206h0m2-582h0m1 470h0m1-353h0m1-89h0m2 517h0m3-446h0m0 31h0m4-10h0m0 275h0m0 138h0m1-542h0m1 147h0m1 390h0m0 16h0m4-8h0m3-33h0m1-534h0m0 46h0m0 465h0m12-500h0"/>
<path transform="scale(.1)" stroke="#2c5597" stroke-width="8.5" stroke-linecap="square" d="M1153 1734h0m3-12h0m4-18h0m15 51h0m2-7h0m5-59h0m1-6h0m0 8h0m0 9h0m0 44h0m0 6h0m1-9h0m2 11h0m1-31h0m0 13h0m1-54h0m0 21h0m2 390h0m1-373h0m1-39h0m2-3h0m0 10h0m0 79h0m1-97h0m0 31h0m0 39h0m2-35h0m0 395h0m1-386h0m1-27h0m0 4h0m0 4h0m1 405h0m1-422h0m1 6h0m4 42h0m1 12h0m1-45h0m2 71h0m1-47h0m1-36h0m0 11h0m1 0h0m1-16h0m1 73h0m2 13h0m1 0h0m2 214h0m2-224h0m0 4h0m0 341h0m1-311h0m0 259h0m0 18h0m1-44h0m0 46h0m1 17h0m3-395h0m1 74h0m2-50h0m0 47h0m0 372h0m1-43h0m1-336h0m2-16h0m1 20h0m1-36h0m1 27h0m2 5h0m1 5h0m1 328h0m1-324h0m0 333h0m1-65h0m2-251h0m2 241h0m2-309h0m1 314h0m0 37h0m1 41h0m2-153h0m0 123h0m2-43h0m3 77h0m0 66h0m0 90h0m1-219h0m0 120h0m1-215h0m0 113h0m0 112h0m1-134h0m0 11h0m2 40h0m0 155h0m2-195h0m1-17h0m1 307h0m1-44h0m2-105h0m0 110h0m1-110h0m5-188h0m0 203h0m2-313h0m0 134h0m1 274h0m2-342h0m2-34h0m0 38h0m0 226h0m1-188h0m0 188h0m2-135h0m0 21h0m3-154h0m0 264h0m1-154h0m0 85h0m0 28h0m0 157h0m2-399h0m0 170h0m1 87h0m1-91h0m0 30h0m0 145h0m1 118h0m1-455h0m0 192h0m1-195h0m0 265h0m1-191h0m0 191h0m0 193h0m0 16h0m1-303h0m1 15h0m1 269h0m1-505h0m1 96h0m0 152h0m0 183h0m1 85h0m1-390h0m1 99h0m0 224h0m0 69h0m1 47h0m1-65h0m0 21h0m1-428h0m0 424h0m1-467h0m0 45h0m0 396h0m0 14h0m2-85h0m1-279h0m0 132h0m1 197h0m0 89h0m1-381h0m0 146h0m0 211h0m1-411h0m0 163h0m0 181h0m1-99h0m0 7h0m1 133h0m1-15h0m1-260h0m1 96h0m0 9h0m0 52h0m0 63h0m1-138h0m0 36h0m0 26h0m0 141h0m0 46h0m1-559h0m0 36h0m0 324h0m0 145h0m1-57h0m1-365h0m0 476h0m2-286h0m0 15h0m0 106h0m1-300h0m0 113h0m0 311h0m1-492h0m0 16h0m1 289h0m0 131h0m0 93h0m1-529h0m0 17h0m0 195h0m0 36h0m0 130h0m0 62h0m0 42h0m0 35h0m1-545h0m0 569h0m1-315h0m0 197h0m0 34h0m1-546h0m0 602h0m0 21h0m2 30h0m1-567h0m0 46h0m1-3h0m0 18h0m0 217h0m0 73h0m1-49h0m0 53h0m0 207h0m1-328h0m0 84h0m0 71h0m0 8h0m0 59h0m0 52h0m1-462h0m1 293h0m0 196h0m0 32h0m1-531h0m0 107h0m0 189h0m0 48h0m1 127h0m1-580h0m0 113h0m0 23h0m0 95h0m0 334h0m1-511h0m0 82h0m0 289h0m0 184h0m1-422h0m0 165h0m0 31h0m0 105h0m1-492h0m0 136h0m1-138h0m0 313h0m0 101h0m0 17h0m0 81h0m0 75h0m0 21h0m1-514h0m0 28h0m0 176h0m0 49h0m0 160h0m0 150h0m1-329h0m1-236h0m0 179h0m1-181h0m0 83h0m0 187h0m0 87h0m0 122h0m1-560h0m0 132h0m0 271h0m0 4h0m0 3h0m0 202h0m1-668h0m0 16h0m0 328h0m0 57h0m0 171h0m1-567h0m0 69h0m0 125h0m0 45h0m0 101h0m0 21h0m0 124h0m0 74h0m0 83h0m1-592h0m0 274h0m0 283h0m0 39h0m1-607h0m0 583h0m0 50h0m1-745h0m0 414h0m0 120h0m0 29h0m1-412h0m0 94h0m0 3h0m0 144h0m0 10h0m0 287h0m0 21h0m1-590h0m0 8h0m0 294h0m0 187h0m0 104h0m0 3h0m1-610h0m0 36h0m0 226h0m0 18h0m0 332h0m1-470h0m1-149h0m0 47h0m0 322h0m1-368h0m1-66h0m0 22h0m0 82h0m0 323h0m0 40h0m0 106h0m0 223h0m1-439h0m0 332h0m1-219h0m1-438h0m0 622h0m0 12h0m0 35h0m1-516h0m0 408h0m0 72h0m1-555h0m0 392h0m0 109h0m1-28h0m0 29h0m0 104h0m1-623h0m0 252h0m0 1h0m0 18h0m0 45h0m0 8h0m0 112h0m0 142h0m1-216h0m0 214h0m1-490h0m0 256h0m1-305h0m0 134h0m0 181h0m1 64h0m0 150h0m1-597h0m0 324h0m0 236h0m1-625h0m0 377h0m0 15h0m0 36h0m0 121h0m1-136h0m0 114h0m0 40h0m0 119h0m1-314h0m0 24h0m0 387h0m1-396h0m0 19h0m0 63h0m0 185h0m0 70h0m0 60h0m1-365h0m0 84h0m1-486h0m1 34h0m0 6h0m1 463h0m0 91h0m0 60h0m1-672h0m0 437h0m1-438h0m0 307h0m0 42h0m0 30h0m0 26h0m0 199h0m1-220h0m0 28h0m0 26h0m0 10h0m0 232h0m1-716h0m0 614h0m0 151h0m1-613h0m0 233h0m0 62h0m0 29h0m0 19h0m0 11h0m0 48h0m0 241h0m1-718h0m0 121h0m0 276h0m0 230h0m0 135h0m1-457h0m0 7h0m0 260h0m0 187h0m1-593h0m0 321h0m0 64h0m1-179h0m0 278h0m1-668h0m0 271h0m0 52h0m0 58h0m0 136h0m0 49h0m0 37h0m1-200h0m0 29h0m0 87h0m0 26h0m0 171h0m1-774h0m0 152h0m0 313h0m0 108h0m0 38h0m1 8h0m0 3h0m1-581h0m0 603h0m0 28h0m1-620h0m0 56h0m0 6h0m0 273h0m0 216h0m1-21h0m0 164h0m0 6h0m1-345h0m0 300h0m0 81h0m1-786h0m0 105h0m0 349h0m0 151h0m0 60h0m0 9h0m0 3h0m1-618h0m0 494h0m1-116h0m0 313h0m1-350h0m0 56h0m0 32h0m0 92h0m0 15h0m1-483h0m0 470h0m0 13h0m0 87h0m0 126h0m1-405h0m0 60h0m0 33h0m0 93h0m0 20h0m1-28h0m0 11h0m1-140h0m0 223h0m0 73h0m1-664h0m0 57h0m0 264h0m0 35h0m0 6h0m0 148h0m0 82h0m0 135h0m1-460h0m0 67h0m0 119h0m0 17h0m0 10h0m0 37h0m0 6h0m0 202h0m1-700h0m0 182h0m0 107h0m0 401h0m0 17h0m0 29h0m1-259h0m0 15h0m0 53h0m0 171h0m1-348h0m0 97h0m0 259h0m1-456h0m0 197h0m0 24h0m0 56h0m0 54h0m1-142h0m0 15h0m0 67h0m1 98h0m1-308h0m0 39h0m0 305h0m0 40h0m1-374h0m0 262h0m1-295h0m0 25h0m0 74h0m0 57h0m0 252h0m1-127h0m0 126h0m1-341h0m0 81h0m0 14h0m1-25h0m1 37h0m1 59h0m1-367h0m0 82h0m0 286h0m1-214h0m0 17h0m0 119h0m0 129h0m0 105h0m1-205h0m1-244h0m0 100h0m0 4h0m0 1h0m0 157h0m0 132h0m0 76h0m1-577h0m0 152h0m0 27h0m0 222h0m0 210h0m1-419h0m0 30h0m0 24h0m1 78h0m0 18h0m0 5h0m0 9h0m0 42h0m0 27h0m1-477h0m0 410h0m0 85h0m1 40h0m0 12h0m0 69h0m1-367h0m0 43h0m0 48h0m1-57h0m0 108h0m0 92h0m1-243h0m0 52h0m0 81h0m0 246h0m1-553h0m0 397h0m0 55h0m0 21h0m0 59h0m1-188h0m1-129h0m0 93h0m0 239h0m1-205h0m0 30h0m0 191h0m1-562h0m0 184h0m0 129h0m0 6h0m0 103h0m0 89h0m1-295h0m0 60h0m0 47h0m0 15h0m0 157h0m1-305h0m0 258h0m0 14h0m1-306h0m0 103h0m0 47h0m0 80h0m0 10h0m1-188h0m0 30h0m0 33h0m0 100h0m0 10h0m1 168h0m1-349h0m0 114h0m1-108h0m0 43h0m0 16h0m0 99h0m0 7h0m1-230h0m0 100h0m0 182h0m0 117h0m1-291h0m0 64h0m0 183h0m1-166h0m1-7h0m0 61h0m0 122h0m1-290h0m0 142h0m0 48h0m0 137h0m1-401h0m0 51h0m0 26h0m0 46h0m0 9h0m0 184h0m1-412h0m0 143h0m0 15h0m1-18h0m0 30h0m0 88h0m1-224h0m0 116h0m0 197h0m0 132h0m0 1h0m0 22h0m0 19h0m1-422h0m0 120h0m0 73h0m0 38h0m1-85h0m0 225h0m1 6h0m1-546h0m0 20h0m0 238h0m0 197h0m1-243h0m0 285h0m1-172h0m0 4h0m0 145h0m0 98h0m1-465h0m0 475h0m0 10h0m1-598h0m0 277h0m0 197h0m1-200h0m0 256h0m1-308h0m0 65h0m1-125h0m0 94h0m0 213h0m0 3h0m1-455h0m0 285h0m0 4h0m0 159h0m0 53h0m2-449h0m0 200h0m1-267h0m0 297h0m1-199h0m0 93h0m0 22h0m0 43h0m0 60h0m1-312h0m0 308h0m1-111h0m0 17h0m0 40h0m1-151h0m0 119h0m0 13h0m1 21h0m0 54h0m0 57h0m1 84h0m0 119h0m1-403h0m0 53h0m0 65h0m0 137h0m0 161h0m1-560h0m0 264h0m0 254h0m1-414h0m0 392h0m1-373h0m0 148h0m0 5h0m0 24h0m0 6h0m1-174h0m0 13h0m1-67h0m0 208h0m0 66h0m1-362h0m0 96h0m0 67h0m0 175h0m0 236h0m1-309h0m0 16h0m1-74h0m0 10h0m0 17h0m0 229h0m1-351h0m0 33h0m0 214h0m1-259h0m0 8h0m0 39h0m0 12h0m0 59h0m0 79h0m1-310h0m0 14h0m0 99h0m0 254h0m1 146h0m1-303h0m0 21h0m1-66h0m1 397h0m1-544h0m0 266h0m1-257h0m0 290h0m1-153h0m0 90h0m0 33h0m0 4h0m0 11h0m0 20h0m1-158h0m0 127h0m0 189h0m1-361h0m0 43h0m0 20h0m0 47h0m0 46h0m0 292h0m1-474h0m0 9h0m0 178h0m0 141h0m1-223h0m0 45h0m0 54h0m0 174h0m1-343h0m1 121h0m0 225h0m1-227h0m0 119h0m0 213h0m1-457h0m0 104h0m1-47h0m1-4h0m0 120h0m0 12h0m0 84h0m0 85h0m1-248h0m1-64h0m0 104h0m0 203h0m0 27h0m1-339h0m0 99h0m0 212h0m1-356h0m0 27h0m0 22h0m0 124h0m0 7h0m0 251h0m0 20h0m1-425h0m0 10h0m0 140h0m0 72h0m0 188h0m0 13h0m2-421h0m1 160h0m1-218h0m0 73h0m0 386h0m1-423h0m0 20h0m0 378h0m1-457h0m0 180h0m0 54h0m0 4h0m0 1h0m1-149h0m0 152h0m1-84h0m2-66h0m0 257h0m1-288h0m1-7h0m0 48h0m0 399h0m1-455h0m0 165h0m1-125h0m1 9h0m0 119h0m1-55h0m0 6h0m1-15h0m0 57h0m1 233h0m2-409h0m0 79h0m0 319h0m1-271h0m0 104h0m3 103h0m1 46h0m3-267h0m0 299h0m1-236h0m0 29h0m1-52h0m0 45h0m1-105h0m1 226h0m1-248h0m0 311h0m1-209h0m2 16h0m0 29h0m2 43h0m0 51h0m1-135h0m2-1h0m5-6h0m0 156h0m2-200h0m1 25h0m3-63h0m3 84h0m1 152h0m6-154h0m4 129h0m1-119h0"/>
<path transform="scale(.1)" stroke="#e3312f" stroke-width="8.5" stroke-linecap="square" d="M950 2716h0m1-75h0m1-24h0m3-9h0m2 68h0m0 40h0m2-92h0m0 80h0m1-79h0m6 47h0m0 5h0m1-2h0m0 20h0m1-4h0m1-28h0m1 19h0m0 8h0m2-16h0m2-16h0m0 58h0m1-16h0m2-3h0m2-120h0m5 54h0m0 17h0m1 47h0m2-112h0m1 31h0m2 78h0m2-48h0m0 30h0m2-126h0m0 63h0m1 91h0m1-29h0m2-113h0m0 53h0m0 33h0m0 1h0m1-33h0m0 39h0m2-54h0m2 64h0m2-76h0m2 32h0m0 41h0m2-22h0m2-90h0m0 82h0m0 63h0m1-153h0m2 80h0m0 51h0m1-72h0m1 22h0m1 53h0m0 17h0m0 9h0m1-103h0m0 2h0m0 60h0m0 32h0m2-125h0m0 75h0m0 60h0m2-96h0m0 13h0m0 63h0m0 5h0m0 1h0m1-140h0m1 94h0m1-23h0m2 75h0m1-17h0m0 13h0m1-126h0m0 112h0m2 9h0m1-38h0m0 38h0m0 6h0m1-168h0m0 44h0m0 24h0m0 18h0m1 77h0m1-111h0m0 91h0m1-57h0m0 3h0m1 26h0m0 21h0m0 17h0m0 6h0m0 1h0m1-12h0m1-139h0m0 25h0m0 94h0m1 12h0m0 30h0m1-32h0m0 1h0m1-38h0m1-62h0m0 65h0m0 13h0m1-70h0m0 50h0m1 22h0m2-83h0m1 50h0m0 25h0m2-46h0m1-14h0m0 39h0m1-32h0m0 10h0m1 18h0m1 24h0m1-101h0m0 53h0m1-12h0m0 5h0m2-96h0m0 164h0m0 3h0m1-79h0m0 13h0m0 71h0m1-84h0m0 12h0m1-48h0m0 45h0m0 4h0m0 3h0m0 67h0m0 24h0m1-106h0m0 12h0m1-18h0m0 7h0m0 19h0m1-99h0m0 84h0m0 4h0m1 71h0m2-75h0m1-4h0m0 57h0m1-87h0m1 40h0m0 62h0m1-160h0m0 78h0m0 77h0m1-85h0m0 84h0m2-55h0m1-10h0m0 4h0m7-45h0m1 91h0m0 48h0m0 12h0m3-194h0m3 96h0m1 65h0m1 22h0m6-143h0m2 78h0m14 57h0m1-54h0m2-170h0m5 6h0m2 152h0m2-111h0m3 21h0m2-60h0m0 104h0m2-45h0m0 194h0m1 36h0m5-10h0m2-145h0m7-72h0m3-27h0m4 108h0m10-23h0m0 158h0m3-26h0m2 35h0m1-8h0m1-30h0m4-48h0m2-1h0m1-129h0m2 44h0m2 4h0m1-38h0m1-57h0m0 273h0m1 5h0m2-240h0m0 116h0m0 107h0m1 22h0m1-219h0m0 73h0m2 127h0m2-68h0m1 80h0m1 18h0m1-14h0m1 28h0m1-251h0m1 229h0m1-150h0m1 136h0m1-65h0m0 67h0m1 4h0m1-316h0m2 0h0m0 121h0m0 22h0m0 140h0m0 23h0m2 45h0m2-339h0m0 120h0m0 65h0m1 67h0m2 13h0m1-161h0m0 192h0m1-81h0m1-29h0m0 66h0m1-47h0m0 67h0m2-242h0m1 62h0m0 166h0m1 12h0m1 6h0m4-279h0m2 105h0m1 206h0m1-205h0m1-79h0m0 231h0m0 69h0m1-157h0m0 134h0m1 0h0m1-252h0m1 71h0m0 34h0m3-159h0m2 246h0m2-61h0m1-149h0m1 183h0m1-79h0m0 73h0m1-192h0m0 162h0m0 63h0m1-90h0m0 77h0m1-73h0m0 83h0m0 33h0m1-131h0m0 100h0m0 54h0m1-180h0m0 118h0m0 7h0m2-202h0m1 65h0m0 52h0m1-142h0m0 170h0m1 119h0m1-192h0m0 4h0m1 102h0m1-31h0m0 1h0m1-58h0m0 19h0m0 133h0m1 13h0m0 6h0m1-292h0m0 190h0m0 40h0m0 12h0m0 35h0m0 14h0m0 10h0m1-146h0m0 70h0m0 22h0m1-222h0m0 18h0m0 245h0m1-277h0m0 122h0m0 28h0m0 69h0m0 3h0m0 1h0m1-236h0m0 244h0m0 31h0m0 1h0m1-32h0m1-194h0m0 148h0m1 154h0m1-136h0m1 43h0m0 35h0m1-55h0m0 32h0m0 1h0m1-212h0m0 139h0m0 57h0m1-138h0m0 24h0m0 25h0m0 63h0m0 81h0m1-243h0m0 194h0m1-138h0m0 39h0m0 26h0m0 32h0m0 72h0m0 2h0m1-177h0m1 55h0m1-15h0m0 102h0m0 10h0m1-34h0m2-98h0m0 92h0m0 6h0m0 23h0m0 13h0m1 26h0m1-143h0m0 105h0m1-195h0m0 65h0m0 49h0m0 23h0m0 68h0m0 72h0m1-145h0m0 100h0m1-72h0m1-136h0m0 126h0m1-31h0m0 50h0m0 9h0m0 9h0m0 19h0m1-76h0m0 126h0m1-185h0m0 68h0m0 20h0m0 49h0m1-139h0m0 93h0m0 9h0m1-121h0m1-73h0m0 90h0m0 81h0m1-197h0m0 78h0m0 19h0m0 77h0m0 43h0m0 23h0m0 102h0m1-326h0m0 76h0m0 16h0m0 16h0m0 25h0m0 79h0m0 33h0m1-160h0m1 33h0m0 46h0m0 28h0m0 24h0m0 21h0m0 5h0m1-154h0m0 152h0m0 19h0m1-113h0m0 71h0m1-18h0m0 23h0m1-2h0m0 24h0m0 26h0m0 39h0m0 12h0m1-226h0m0 91h0m0 13h0m0 14h0m0 7h0m0 2h0m0 10h0m0 5h0m1-136h0m0 6h0m0 77h0m0 2h0m0 23h0m0 16h0m1-71h0m0 55h0m0 11h0m1-21h0m0 3h0m1-98h0m0 115h0m1-49h0m0 138h0m0 31h0m1-328h0m0 112h0m0 109h0m0 100h0m1-251h0m0 13h0m0 69h0m0 62h0m0 27h0m0 59h0m1-164h0m0 68h0m0 28h0m1-127h0m0 90h0m1-141h0m0 62h0m0 186h0m1-317h0m0 180h0m0 152h0m1-143h0m0 59h0m0 93h0m1-131h0m1-115h0m0 133h0m0 86h0m1-158h0m0 13h0m0 57h0m0 70h0m1-76h0m0 3h0m1-58h0m0 37h0m1 19h0m0 109h0m1-153h0m0 24h0m0 45h0m0 55h0m1-197h0m0 102h0m1-68h0m0 51h0m1-92h0m0 154h0m1-64h0m1-88h0m0 113h0m1-73h0m0 89h0m0 23h0m1-140h0m0 45h0m0 16h0m0 15h0m0 5h0m0 41h0m1-97h0m0 74h0m0 54h0m1-111h0m0 4h0m0 12h0m1 17h0m0 11h0m0 5h0m0 39h0m2-82h0m0 57h0m0 95h0m1-191h0m1 24h0m1 73h0m0 3h0m0 40h0m1-46h0m2-69h0m1-9h0m0 3h0m1-4h0m0 99h0m0 59h0m1-198h0m0 40h0m0 6h0m0 1h0m0 14h0m0 57h0m0 41h0m1-88h0m1 55h0m0 11h0m1-64h0m0 6h0m0 11h0m0 6h0m0 38h0m0 3h0m0 31h0m0 10h0m1-123h0m0 56h0m1-87h0m0 11h0m0 24h0m0 84h0m0 9h0m1-143h0m0 80h0m0 71h0m3-145h0m0 19h0m0 48h0m1-70h0m0 60h0m1-28h0m0 26h0m1-55h0m0 36h0m0 58h0m1-185h0m0 89h0m0 1h0m0 141h0m0 27h0m1-208h0m0 95h0m0 47h0m1-166h0m0 99h0m1-15h0m0 7h0m0 17h0m0 42h0m0 18h0m3-175h0m0 76h0m0 99h0m1-93h0m0 8h0m0 5h0m0 5h0m0 41h0m0 2h0m0 19h0m0 46h0m1-154h0m0 22h0m0 21h0m0 3h0m1-113h0m0 149h0m0 62h0m1 3h0m0 7h0m1-129h0m0 54h0m0 60h0m1-27h0m0 36h0m0 10h0m0 40h0m1-179h0m0 6h0m0 19h0m1-23h0m0 2h0m0 48h0m0 2h0m0 17h0m0 7h0m0 22h0m1-42h0m0 2h0m1-57h0m0 68h0m0 12h0m1 37h0m0 30h0m0 38h0m1-127h0m0 24h0m0 5h0m0 22h0m2-104h0m0 51h0m0 23h0m1-99h0m0 63h0m0 37h0m1-3h0m0 95h0m1-104h0m0 49h0m0 40h0m1-120h0m0 39h0m0 8h0m0 13h0m1-56h0m0 44h0m0 7h0m0 93h0m0 2h0m1-108h0m0 14h0m0 59h0m1-105h0m0 7h0m0 10h0m0 110h0m1-165h0m0 7h0m0 61h0m0 14h0m1-38h0m0 7h0m0 13h0m0 1h0m0 5h0m0 32h0m1-61h0m0 26h0m0 93h0m1-128h0m0 16h0m0 8h0m0 8h0m0 1h0m0 59h0m0 5h0m1-132h0m0 50h0m0 14h0m0 1h0m0 84h0m1-109h0m0 16h0m0 11h0m0 46h0m0 3h0m0 26h0m0 6h0m1-170h0m0 67h0m0 37h0m0 104h0m1-168h0m0 17h0m0 14h0m0 24h0m0 7h0m1-104h0m0 77h0m0 16h0m0 15h0m0 27h0m0 17h0m0 30h0m1-104h0m0 11h0m0 54h0m0 11h0m1-74h0m0 13h0m0 49h0m0 5h0m1-109h0m0 52h0m1-26h0m0 7h0m0 46h0m0 28h0m0 71h0m1-138h0m1-34h0m0 17h0m0 17h0m0 24h0m0 12h0m0 9h0m0 10h0m0 2h0m1-62h0m1-52h0m0 11h0m0 39h0m0 25h0m0 70h0m1-96h0m0 41h0m0 24h0m0 5h0m1-143h0m0 71h0m0 13h0m1-20h0m0 2h0m0 50h0m0 7h0m0 3h0m1-55h0m0 27h0m0 67h0m1-28h0m0 31h0m0 21h0m0 30h0m1-179h0m0 4h0m0 48h0m1-21h0m0 27h0m0 5h0m0 17h0m0 30h0m1-119h0m0 94h0m0 21h0m1-81h0m0 5h0m0 6h0m0 18h0m1-28h0m0 75h0m0 12h0m0 49h0m2-125h0m2-46h0m0 79h0m1-45h0m0 55h0m1 10h0m1-37h0m1 7h0m1-122h0m0 124h0m1-21h0m1-12h0m0 6h0m0 19h0m1 77h0m2-111h0m2-26h0m0 101h0m5-57h0m0 16h0m2 57h0m3-151h0m0 37h0m1 27h0m0 57h0m1 4h0m0 7h0m1-63h0m1 23h0m1 38h0m0 27h0m1-61h0m2-20h0m1-30h0m0 44h0m2-8h0m1 89h0m2-77h0m6 13h0m1-45h0m0 109h0m3-92h0m0 23h0m1 46h0m1-74h0m0 120h0m1-102h0m0 64h0m1-10h0m0 11h0m3-51h0m0 2h0m1-24h0m3-10h0m2 27h0m0 49h0m1-37h0m3-13h0m1-31h0m0 32h0m1 60h0m1-88h0m16 56h0"/>
<path transform="scale(.1)" stroke="#a3202e" stroke-width="10" stroke-linecap="square" d="M1806 2271h0m1 1h0m3 4h0m1-13h0m1-6h0m0 10h0m0 7h0m1-5h0m2-12h0m2 5h0m0 10h0m1 1h0m1 6h0m1-3h0m0 5h0m0 1h0m1-3h0m0 2h0m1-21h0m0 4h0m0 9h0m0 3h0m0 1h0m0 8h0m0 2h0m1-35h0m1 16h0m0 6h0m0 1h0m0 6h0m1-19h0m0 8h0m1-1h0m0 3h0m0 8h0m0 3h0m1-29h0m0 25h0m1-13h0m3 2h0m1-16h0m0 13h0m2 12h0m0 8h0m1-14h0m0 4h0m1 7h0m1-3h0m0 2h0m1-6h0m2-5h0m1-2h0m0 12h0m1-20h0m0 6h0m2 11h0m1-15h0m0 2h0m2 1h0m0 4h0"/>
<text x="123.00" y="152.00" font-size="7.5" text-anchor="middle">7</text>
<text x="103.00" y="188.50" font-size="7.5" text-anchor="middle">3</text>
<text x="138.00" y="199.00" font-size="7.5" text-anchor="middle">0</text>
<text x="169.60" y="187.50" font-size="7.5" text-anchor="middle">4</text>
<text x="66.00" y="222.00" font-size="7.5" text-anchor="middle">5</text>
<text x="101.00" y="228.00" font-size="7.5" text-anchor="middle">2</text>
<text x="183.00" y="223.50" font-size="7.5" text-anchor="middle">6</text>
<text x="139.30" y="267.00" font-size="7.5" text-anchor="middle">1</text>
<path transform="scale(.1)" stroke="#a8b2b0" stroke-width="8.5" stroke-linecap="square" d="M3052 1548h0m11-11h0m0 11h0m1-21h0m0 34h0m2-3h0m4-19h0m4 5h0m2 3h0m2-6h0"/>
<path transform="scale(.1)" stroke="#eb9f85" stroke-width="8.5" stroke-linecap="square" d="M2419 2299h0m2-37h0m3 0h0m1 30h0m2-17h0m0 6h0m1 2h0m1 16h0m3-24h0m4-4h0m13 10h0m3-5h0m1-47h0m0 1h0m2-28h0m0 1h0m2 17h0m1-30h0m2-30h0m0 59h0m3-26h0m1 15h0m0 36h0m4-36h0m1 3h0m2 8h0m2-33h0m2 51h0m0 89h0m1-110h0m1-43h0m0 37h0m1 3h0m1 3h0m1 119h0m5-157h0m0 13h0m1 34h0m1-34h0m2 30h0m8-16h0m1 26h0m10 89h0m4-69h0m3-71h0m3 48h0m0 57h0m1-93h0m0 45h0m0 8h0m2 27h0m1-3h0m3-19h0m0 22h0m3-10h0m3-29h0m0 36h0m1-18h0m0 21h0m2 5h0m1-36h0m1-25h0m0 80h0m3-57h0m1 16h0m1-2h0m0 78h0m2-66h0m1 1h0m1 9h0m1-33h0m1-9h0m1 22h0m2 11h0m1-35h0m0 66h0m5-87h0m0 48h0m2-9h0m0 7h0"/>
<path transform="scale(.1)" stroke="#49acbb" stroke-width="8.5" stroke-linecap="square" d="M2600 1989h0m3-27h0m2 37h0m0 6h0m4-42h0m1-19h0m4-19h0m1 13h0m4 38h0m6-27h0m8-64h0m4-10h0m6-33h0m6 87h0m0 86h0m6-10h0m3-110h0m2 163h0m3-163h0m2 5h0m4 16h0m4-41h0m1-15h0m2 9h0m0 6h0m0 14h0m1 13h0m1-15h0m1 53h0m7 120h0m2-191h0m1-25h0m2 17h0m3 48h0m2 4h0m1-54h0m0 70h0m0 10h0m1-91h0m0 6h0m0 21h0m1-31h0m0 180h0m1-123h0m0 4h0m1-35h0m0 4h0m0 86h0m1-16h0m1-80h0m1 4h0m1-37h0m1-24h0m0 72h0m3 43h0m1 5h0m2-54h0m6 18h0m0 76h0m1-110h0m1-37h0m0 33h0m0 178h0m2-185h0m2 12h0m1 168h0m1-157h0m3 193h0m2-172h0m2-25h0m1 74h0m2 35h0m2-165h0m5 164h0m0 29h0m3-134h0m0 141h0m1-35h0m0 33h0m3-207h0m1 171h0m2-94h0m1 63h0m1 19h0m1-12h0m1-17h0m0 93h0m1-56h0m1 29h0m0 32h0m1 10h0m3-79h0m2 69h0m1-185h0m0 168h0m5-76h0m2-16h0m0 18h0m1-4h0m0 60h0m1-116h0m0 51h0m1 12h0m0 61h0m1 47h0m0 1h0m1-110h0m0 9h0m1-6h0m0 14h0m1-45h0m4 64h0m0 93h0m2-174h0m1-93h0m0 92h0m0 97h0m1-23h0m0 109h0m1-145h0m0 61h0m0 28h0m1 17h0m5-84h0m2 143h0m1-269h0m0 95h0m0 84h0m0 6h0m1-156h0m0 78h0m0 36h0m2 95h0m1-116h0m0 25h0m0 141h0m1-172h0m0 10h0m0 28h0m1-34h0m0 45h0m1-45h0m0 69h0m1-108h0m0 12h0m0 31h0m0 148h0m1-270h0m0 108h0m0 3h0m0 95h0m0 16h0m1-219h0m0 78h0m0 19h0m2 90h0m0 17h0m1-116h0m0 19h0m1-20h0m0 18h0m1 8h0m2-110h0m0 109h0m0 103h0m1-66h0m0 13h0m1-143h0m0 113h0m0 63h0m0 24h0m4-53h0m2-93h0m0 26h0m1-17h0m0 120h0m1-83h0m0 69h0m0 58h0m2-135h0m3-24h0m1 28h0m0 118h0m3-128h0m0 3h0m0 1h0m1 84h0m0 3h0m1-132h0m1-35h0m0 76h0m0 2h0m0 73h0m0 32h0m3-70h0m0 90h0m0 25h0m1-217h0m0 31h0m0 151h0m1-135h0m0 135h0m1-137h0m1 160h0m0 77h0m1-266h0m0 127h0m1-116h0m0 27h0m1 26h0m0 48h0m1 48h0m1-7h0m1-24h0m0 145h0m1-82h0m0 10h0m1-110h0m0 15h0m0 48h0m0 3h0m1-162h0m2 127h0m1-135h0m1 22h0m0 108h0m3-93h0m0 95h0m0 23h0m2 27h0m0 12h0m1-97h0m1 41h0m0 61h0m0 9h0m1-208h0m0 57h0m0 32h0m0 142h0m1-253h0m1 197h0m1-215h0m0 57h0m2 58h0m0 98h0m0 22h0m1-97h0m0 118h0m1-63h0m0 16h0m1-66h0m0 25h0m1-182h0m0 214h0m0 49h0m1-134h0m0 141h0m1-195h0m0 51h0m0 37h0m0 76h0m1-100h0m0 134h0m1-287h0m1 189h0m1 72h0m1-301h0m0 125h0m1 149h0m1-95h0m1 9h0m1-23h0m0 15h0m0 53h0m0 18h0m3 1h0m0 29h0m1 10h0m2 126h0m1-32h0m0 20h0m1-180h0m0 21h0m0 47h0m2-281h0m0 185h0m0 124h0m0 76h0m1-197h0m0 60h0m0 46h0m1-66h0m1-245h0m0 79h0m0 146h0m0 64h0m1-58h0m0 48h0m1-166h0m0 116h0m0 27h0m0 12h0m4-158h0m0 114h0m0 150h0m3-295h0m0 151h0m0 29h0m0 31h0m2-97h0m1-40h0m0 55h0m1 9h0m0 6h0m1-91h0m0 4h0m1-56h0m0 123h0m1-17h0m0 20h0m0 117h0m1-134h0m1-107h0m0 180h0m1-179h0m0 70h0m4 147h0m1-44h0m1-133h0m0 80h0m1-177h0m0 179h0m2-8h0m1-102h0m0 101h0m1-75h0m0 102h0m1-176h0m0 117h0m0 11h0m0 30h0m1-101h0m0 18h0m0 62h0m1-131h0m0 108h0m1-98h0m2 143h0m2-3h0m0 13h0m1-104h0m0 117h0m0 11h0m1-171h0m0 59h0m0 27h0m2 23h0m0 42h0m1-78h0m1 209h0m2-318h0m0 54h0m0 102h0m0 35h0m1-177h0m0 28h0m0 116h0m1-113h0m0 52h0m0 75h0m0 32h0m2-103h0m1 16h0m1 52h0m0 25h0m1-137h0m0 84h0m1 45h0m0 167h0m1-340h0m0 161h0m0 180h0m1-236h0m0 74h0m2-106h0m0 169h0m1-76h0m2-144h0m1 39h0m1 89h0m1-45h0m0 6h0m1-12h0m1 83h0m1-181h0m0 111h0m0 46h0m1-70h0m0 16h0m2-107h0m1 103h0m1-34h0m0 51h0m0 44h0m1-27h0m0 156h0m1-246h0m0 75h0m0 21h0m1-104h0m0 85h0m1-39h0m2-83h0m0 86h0m0 18h0m0 6h0m1-109h0m0 124h0m0 43h0m0 30h0m0 145h0m1-288h0m0 24h0m0 45h0m1 2h0m1-28h0m0 43h0m2-140h0m0 87h0m0 57h0m1-31h0m0 11h0m0 242h0m2-257h0m0 25h0m1-61h0m0 33h0m3-47h0m0 82h0m0 93h0m0 98h0m1-104h0m0 23h0m1-161h0m1-28h0m1 20h0m0 114h0m0 25h0m1-219h0m0 93h0m0 7h0m0 16h0m0 7h0m1-13h0m1-20h0m3-24h0m1 8h0m0 19h0m0 29h0m4-24h0m1 87h0m3-101h0m1-3h0m2 10h0m0 48h0m2-36h0m0 179h0m3-108h0m5 147h0m2-210h0m3-47h0m1 10h0m1 57h0m5-57h0m0 456h0m2-412h0m2 133h0m2-80h0m1 9h0m2-15h0m0 139h0m1-235h0m0 32h0m0 422h0m3-225h0m5-162h0m6 67h0m0 365h0m1-416h0m0 104h0m2-175h0m0 476h0m1-412h0m1 433h0m1-52h0m3 2h0m11-14h0m1-323h0m0 105h0m1-121h0m0 121h0m0 221h0m0 40h0m3-79h0m1 99h0m4-482h0m0 365h0m0 18h0m6 77h0m4-25h0m2-73h0m0 35h0m3-34h0m7 39h0m1 80h0m7 3h0"/>
<path transform="scale(.1)" stroke="#59b94d" stroke-width="8.5" stroke-linecap="square" d="M2608 2380h0m1 49h0m6 5h0m1-71h0m1 61h0m0 11h0m2-59h0m2-21h0m0 14h0m0 2h0m4 100h0m1-42h0m1-66h0m0 18h0m1-10h0m1-7h0m1 68h0m1-109h0m0 26h0m0 60h0m0 15h0m1-82h0m1 87h0m1-120h0m0 33h0m1-33h0m2 36h0m0 64h0m2-75h0m1 39h0m0 23h0m1-39h0m1-5h0m0 122h0m2-182h0m1 46h0m1 9h0m0 12h0m1 3h0m1-35h0m1 65h0m3-69h0m1-36h0m1 76h0m0 18h0m2-42h0m1 59h0m0 48h0m1-97h0m1-15h0m0 68h0m1-92h0m0 30h0m1-35h0m2 71h0m0 19h0m3-70h0m0 33h0m0 3h0m0 26h0m0 4h0m0 13h0m1-63h0m0 45h0m0 38h0m0 13h0m0 18h0m1-147h0m0 65h0m0 43h0m1-119h0m1 84h0m1-46h0m0 100h0m1-116h0m1 67h0m0 90h0m1-11h0m2-153h0m0 95h0m1-84h0m0 7h0m0 37h0m0 4h0m2 37h0m1-36h0m1-36h0m0 60h0m0 56h0m1-182h0m0 198h0m0 11h0m1-165h0m0 76h0m0 104h0m1-145h0m0 53h0m0 76h0m1-194h0m1 92h0m1 7h0m0 9h0m0 53h0m1-123h0m0 35h0m1-37h0m1 26h0m1-1h0m0 19h0m0 3h0m0 3h0m0 13h0m1-44h0m0 10h0m0 27h0m1-8h0m0 1h0m0 7h0m0 80h0m1-97h0m1-53h0m0 8h0m0 8h0m0 138h0m1-141h0m0 74h0m0 11h0m2-38h0m0 19h0m0 43h0m1-118h0m0 86h0m0 54h0m1-139h0m0 105h0m0 8h0m1-57h0m0 32h0m0 33h0m0 43h0m2-205h0m0 10h0m1 75h0m0 40h0m0 6h0m0 14h0m0 41h0m0 1h0m1-121h0m0 30h0m0 2h0m0 4h0m1 92h0m1-106h0m0 35h0m0 11h0m0 13h0m0 3h0m0 23h0m0 23h0m1-70h0m0 15h0m1-109h0m0 24h0m0 12h0m1 94h0m0 30h0m1-60h0m0 5h0m1-2h0m1-64h0m0 26h0m0 20h0m0 63h0m1-121h0m0 24h0m0 60h0m0 24h0m0 51h0m1-216h0m0 104h0m0 34h0m1-122h0m0 80h0m0 30h0m0 13h0m0 103h0m1-228h0m0 83h0m1-42h0m1 79h0m0 14h0m0 23h0m0 65h0m1-156h0m0 28h0m0 1h0m0 87h0m1-98h0m0 50h0m3-19h0m0 24h0m1-39h0m0 7h0m1 54h0m0 32h0m1-152h0m0 58h0m0 41h0m0 22h0m1-79h0m0 8h0m1-78h0m0 32h0m0 51h0m0 36h0m1 10h0m0 15h0m0 9h0m1-143h0m0 111h0m1 31h0m1-129h0m0 104h0m0 38h0m2-122h0m1 70h0m0 7h0m1-97h0m1-14h0m0 163h0m1-124h0m0 20h0m0 2h0m0 8h0m0 25h0m1-73h0m0 41h0m0 51h0m1-142h0m1 66h0m1 25h0m1-80h0m1 52h0m0 47h0m0 40h0m1-105h0m2-17h0m0 9h0m0 18h0m0 22h0m0 62h0m0 41h0m1-157h0m0 102h0m0 21h0m1-154h0m0 114h0m0 4h0m0 87h0m1-97h0m0 2h0m0 10h0m0 32h0m0 45h0m2 0h0m1-231h0m0 160h0m0 24h0m1-43h0m0 24h0m1-63h0m0 7h0m0 11h0m0 33h0m0 78h0m1-112h0m0 3h0m0 12h0m0 23h0m0 77h0m1-136h0m0 4h0m0 6h0m0 39h0m1-108h0m0 52h0m1 36h0m0 13h0m0 31h0m0 27h0m1-90h0m0 29h0m0 7h0m0 5h0m0 11h0m2-63h0m0 27h0m0 47h0m0 18h0m1-93h0m1-75h0m0 220h0m1-151h0m0 31h0m1-137h0m0 184h0m1-62h0m0 14h0m0 8h0m0 52h0m1-75h0m0 15h0m0 16h0m0 95h0m0 4h0m1-178h0m0 135h0m0 37h0m1-190h0m0 46h0m0 85h0m0 11h0m0 71h0m1-253h0m0 22h0m0 16h0m0 59h0m0 53h0m0 15h0m1-168h0m0 31h0m0 219h0m1-265h0m0 119h0m0 106h0m1-185h0m0 46h0m0 29h0m0 34h0m1-138h0m0 119h0m0 45h0m0 13h0m1-184h0m0 83h0m0 52h0m0 48h0m0 61h0m1-88h0m0 91h0m1-244h0m0 105h0m1-116h0m0 152h0m0 86h0m1-116h0m0 21h0m0 28h0m0 49h0m1-113h0m0 60h0m1-61h0m1-56h0m0 50h0m0 139h0m0 25h0m1-210h0m0 57h0m1-2h0m0 8h0m0 9h0m0 2h0m0 114h0m1-42h0m1-193h0m0 107h0m0 54h0m0 32h0m1-164h0m0 78h0m1-60h0m0 52h0m0 62h0m0 24h0m1-23h0m1-10h0m0 70h0m1-194h0m0 7h0m0 148h0m0 15h0m1-43h0m0 2h0m0 29h0m1-145h0m0 129h0m2-26h0m1-42h0m0 20h0m1-83h0m0 76h0m0 9h0m0 2h0m0 35h0m0 16h0m0 44h0m1-100h0m1 1h0m0 119h0m1-276h0m0 145h0m0 94h0m1-171h0m0 168h0m1-29h0m1-4h0m1-56h0m0 93h0m1-36h0m1-165h0m1 158h0m0 21h0m1-84h0m0 77h0m1-107h0m1 85h0m0 25h0m1-205h0m0 112h0m0 32h0m0 60h0m1 27h0m1-83h0m2-9h0m0 125h0m1-90h0m0 94h0m1-11h0m1-113h0m0 54h0m1-8h0m1-63h0m0 40h0m0 26h0m0 68h0m1-107h0m1-15h0m0 137h0m2-109h0m0 43h0m0 20h0m1 44h0m1-143h0m0 99h0m2-73h0m2-190h0m0 148h0m1 140h0m1-128h0m0 109h0m0 49h0m1-263h0m0 165h0m0 32h0m0 5h0m1-257h0m1 21h0m0 2h0m0 165h0m0 27h0m0 65h0m0 9h0m1-250h0m0 211h0m1-98h0m0 72h0m1-169h0m0 288h0m1-304h0m0 212h0m2-282h0m0 194h0m1-130h0m0 18h0m1 159h0m0 104h0m1-171h0m0 40h0m0 121h0m2-327h0m0 79h0m0 88h0m2-122h0m0 216h0m1-201h0m0 52h0m0 50h0m1-126h0m0 59h0m1-61h0m0 145h0m1-107h0m0 287h0m1-181h0m0 158h0m1-273h0m0 149h0m0 13h0m1 124h0m1-107h0m0 73h0m1-107h0m1-124h0m2 234h0m1-25h0m1-180h0m0 10h0m0 57h0m0 26h0m0 88h0m1-254h0m0 39h0m0 85h0m1-194h0m0 423h0m2-216h0m0 38h0m1-136h0m0 230h0m1-223h0m0 91h0m0 104h0m0 68h0m1-277h0m0 2h0m0 115h0m0 41h0m1-270h0m0 118h0m0 326h0m3-315h0m0 31h0m0 295h0m1-3h0m1-23h0m0 2h0m0 28h0m1-238h0m0 242h0m0 15h0m1-387h0m0 67h0m0 311h0m1-359h0m2 343h0m1-337h0m0 33h0m0 94h0m0 187h0m2-290h0m0 2h0m0 310h0m1-374h0m0 45h0m0 342h0m1-328h0m0 292h0m1-488h0m0 475h0m1 63h0m1-508h0m0 178h0m0 254h0m1-195h0m1-112h0m0 376h0m2-448h0m1 103h0m4-148h0m0 457h0m2-431h0m0 9h0m0 96h0m0 307h0m1-420h0m0 9h0m0 201h0m1-249h0m0 41h0m0 454h0m2-312h0m2-145h0m0 176h0m0 263h0m1-343h0m0 373h0m1-55h0m1-320h0m2-111h0m0 412h0m1-382h0m0 465h0m1-398h0m1 382h0m3-329h0m0 250h0m0 67h0m1-52h0m0 58h0m3-330h0m0 98h0m0 225h0m1-460h0m0 403h0m0 95h0m1-467h0m2 448h0m1-380h0m0 16h0m0 3h0m0 323h0m1-157h0m1-253h0m0 86h0m0 40h0m0 282h0m1-96h0m0 124h0m3-74h0m1-89h0m2-216h0m0 390h0m1-425h0m0 36h0m0 3h0m0 25h0m0 51h0m1 58h0m1-61h0m1 94h0m0 213h0m1-366h0m0 57h0m1-73h0m0 382h0m1-432h0m0 57h0m1 71h0m0 312h0m1-386h0m0 301h0m1-285h0m0 296h0m1-251h0m0 61h0m1-175h0m0 89h0m0 337h0m1-308h0m1-196h0m0 24h0m0 266h0m0 230h0m1-485h0m0 454h0m1-293h0m1-66h0m1 23h0m0 8h0m0 31h0m1 53h0m0 70h0m1-203h0m0 44h0m0 50h0m1-173h0m0 102h0m1 69h0m1 12h0m1-77h0m0 51h0m0 218h0m0 63h0m1-290h0m0 9h0m0 34h0m1-72h0m0 3h0m0 40h0m1-13h0m0 9h0m0 10h0m0 190h0m2-182h0m0 80h0m1 3h0m1-150h0m0 80h0m0 22h0m1-97h0m0 45h0m0 111h0m1-118h0m0 338h0m1-378h0m0 25h0m1 56h0m0 90h0m2-50h0m0 23h0m3-248h0m0 109h0m0 11h0m0 53h0m0 41h0m1-65h0m0 111h0m1 196h0m1-249h0m0 11h0m1-244h0m0 247h0m0 217h0m2-452h0m0 189h0m0 45h0m1-55h0m1 49h0m0 125h0m1-188h0m2 68h0m2 65h0m1-27h0m0 126h0m3-431h0m1 34h0m0 396h0m1-77h0m3-339h0m0 142h0m1 18h0m0 212h0m2-384h0m0 57h0m0 311h0m0 50h0m1-97h0m6-125h0m0 88h0m1-83h0m0 199h0m2-107h0m0 60h0m0 52h0m1-208h0m0 167h0m1-182h0m2 223h0m2-297h0m0 32h0m0 41h0m4-154h0m1 175h0m1 209h0m7-148h0m4-149h0m0 23h0m4-50h0m0 2h0m3 208h0m5-113h0m2-34h0m2-99h0m2 77h0m1 6h0m2-145h0m2 112h0m1 160h0m2-136h0m1 19h0m2-17h0m1-2h0m1-14h0m2-37h0m0 38h0m0 44h0m3-94h0m0 70h0m2 149h0m2-165h0m0 119h0m4-124h0m0 23h0m0 107h0m1-133h0m0 25h0m3-15h0m1 4h0m0 19h0m4 128h0m1-157h0m1 43h0m3-38h0m0 114h0m1-68h0m2-53h0m3-8h0m3 69h0m2-30h0m0 43h0m4-25h0m5 89h0m5-68h0m3 34h0m3-126h0m0 93h0m9 12h0"/>
<path transform="scale(.1)" stroke="#2c5597" stroke-width="8.5" stroke-linecap="square" d="M3033 1852h0m12-15h0m5-39h0m2 59h0m1-31h0m4 14h0m1-19h0m4 15h0m2 16h0m2-71h0m2 16h0m1 10h0m0 19h0m1-16h0m0 45h0m0 156h0m2-192h0m1-109h0m1 99h0m1-38h0m0 44h0m0 15h0m3-62h0m2-111h0m1 157h0m0 140h0m1-102h0m1 162h0m0 12h0m1-355h0m2 122h0m1-91h0m0 305h0m1-195h0m1-43h0m2 96h0m0 71h0m2-11h0m1-72h0m1-198h0m1-21h0m0 302h0m0 92h0m3-225h0m0 59h0m1-12h0m1-49h0m0 60h0m0 64h0m1 22h0m2-190h0m0 238h0m1-280h0m0 77h0m1 142h0m1-111h0m1-66h0m0 310h0m1-262h0m1-140h0m0 111h0m2 84h0m1 65h0m1-93h0m0 211h0m1-391h0m0 272h0m1-27h0m1-63h0m1-165h0m0 377h0m2-239h0m1 296h0m1-387h0m0 78h0m0 23h0m1-136h0m0 100h0m0 46h0m0 8h0m1-16h0m0 4h0m1 134h0m1-185h0m0 235h0m1-297h0m0 460h0m1-362h0m0 319h0m0 61h0m2-222h0m2-141h0m0 161h0m0 92h0m1-247h0m0 211h0m0 82h0m1-470h0m0 128h0m0 214h0m1-247h0m1-43h0m0 32h0m0 73h0m0 30h0m1-160h0m0 29h0m1 339h0m0 184h0m1-281h0m1 92h0m0 90h0m0 30h0m0 31h0m1-518h0m0 208h0m0 63h0m0 149h0m0 26h0m1-172h0m1-234h0m0 241h0m0 2h0m0 14h0m1-342h0m0 7h0m1 68h0m0 217h0m0 189h0m0 179h0m0 10h0m1-302h0m1-303h0m1-14h0m0 46h0m0 434h0m1 58h0m0 91h0m2-219h0m1 143h0m1-216h0m1 272h0m0 35h0m1-389h0m1-197h0m0 81h0m0 164h0m0 141h0m0 56h0m1 99h0m0 24h0m1-205h0m0 156h0m1-191h0m0 246h0m1-521h0m0 198h0m1-263h0m0 532h0m0 92h0m1-267h0m0 3h0m0 132h0m0 74h0m0 18h0m1-47h0m0 4h0m2-220h0m0 45h0m0 41h0m1 113h0m0 76h0m1-231h0m0 8h0m0 173h0m0 54h0m0 34h0m1-681h0m0 6h0m0 239h0m0 72h0m0 331h0m1-657h0m1 307h0m0 2h0m0 258h0m1-544h0m0 115h0m0 475h0m3-49h0m0 81h0m1-555h0m0 589h0m0 27h0m2-470h0m0 147h0m0 56h0m0 146h0m0 55h0m0 2h0m1-654h0m0 329h0m0 269h0m0 39h0m1-569h0m0 129h0m0 8h0m0 319h0m0 58h0m1-320h0m0 199h0m0 253h0m1-503h0m0 385h0m1-335h0m0 430h0m0 9h0m2-159h0m0 37h0m0 17h0m0 59h0m1-63h0m0 63h0m1-130h0m0 9h0m1-422h0m0 379h0m0 108h0m0 27h0m0 43h0m1-358h0m0 113h0m0 77h0m0 103h0m0 26h0m1-122h0m0 142h0m0 17h0m1-558h0m0 297h0m0 99h0m0 65h0m0 6h0m1-525h0m1 463h0m0 20h0m1 232h0m1-421h0m0 166h0m0 61h0m1-286h0m0 94h0m0 138h0m0 1h0m0 37h0m0 214h0m1-428h0m0 232h0m0 83h0m0 12h0m1-459h0m1-86h0m0 305h0m0 167h0m0 20h0m0 11h0m0 5h0m0 79h0m1-285h0m0 42h0m0 19h0m0 106h0m0 90h0m0 15h0m1-127h0m1-45h0m0 28h0m0 151h0m1-169h0m0 69h0m1-462h0m0 267h0m0 1h0m0 100h0m1-30h0m0 77h0m0 51h0m1-175h0m0 77h0m0 18h0m0 18h0m1-125h0m0 135h0m0 204h0m1-363h0m0 130h0m0 30h0m0 153h0m1-623h0m0 347h0m0 18h0m0 4h0m0 154h0m1-173h0m0 33h0m0 67h0m1-140h0m0 259h0m1-211h0m0 69h0m0 29h0m1-376h0m0 368h0m1-474h0m0 155h0m0 240h0m0 102h0m0 119h0m1-542h0m0 228h0m0 408h0m1-316h0m0 98h0m0 170h0m1-433h0m0 12h0m0 148h0m0 172h0m1 0h0m0 60h0m0 50h0m1-196h0m0 14h0m0 98h0m1-176h0m0 19h0m1-110h0m0 93h0m0 15h0m1-41h0m0 20h0m0 16h0m0 48h0m0 35h0m0 34h0m0 53h0m1-215h0m0 3h0m0 101h0m1-467h0m0 326h0m0 15h0m0 110h0m0 58h0m0 69h0m1-495h0m0 326h0m0 77h0m0 70h0m1-294h0m0 247h0m0 45h0m1-149h0m0 42h0m0 7h0m1-96h0m0 45h0m0 35h0m0 131h0m0 22h0m1-507h0m0 126h0m0 328h0m1-122h0m0 281h0m1-316h0m0 10h0m0 52h0m0 10h0m0 58h0m1-133h0m0 161h0m1-341h0m0 382h0m0 54h0m0 26h0m1-360h0m0 17h0m0 177h0m0 89h0m0 36h0m1-235h0m0 12h0m0 29h0m0 65h0m0 18h0m0 10h0m1-205h0m0 88h0m0 78h0m0 20h0m0 60h0m1-263h0m0 130h0m0 108h0m0 9h0m0 21h0m1-203h0m0 4h0m0 20h0m0 19h0m0 56h0m0 49h0m0 35h0m1-222h0m0 83h0m0 2h0m0 7h0m0 10h0m0 90h0m0 31h0m1-305h0m0 193h0m0 188h0m0 67h0m1-289h0m0 116h0m1-211h0m0 142h0m0 11h0m1-76h0m0 15h0m0 11h0m0 51h0m0 44h0m0 8h0m1-212h0m0 91h0m0 51h0m0 31h0m1-277h0m0 114h0m0 243h0m0 122h0m1-294h0m0 10h0m0 35h0m0 40h0m0 24h0m0 180h0m1-511h0m0 310h0m1-318h0m0 80h0m0 473h0m1-395h0m0 64h0m0 34h0m0 59h0m0 31h0m0 25h0m0 37h0m1-177h0m0 39h0m0 51h0m0 19h0m1-149h0m0 1h0m0 61h0m0 46h0m0 71h0m0 27h0m1-155h0m0 51h0m1-218h0m1 1h0m0 98h0m0 124h0m0 50h0m1-96h0m0 92h0m0 61h0m0 3h0m1-466h0m0 161h0m0 9h0m0 115h0m0 33h0m0 55h0m0 36h0m1-55h0m0 136h0m1-165h0m0 88h0m0 1h0m0 56h0m1-434h0m0 73h0m0 331h0m1-303h0m0 168h0m1-299h0m0 70h0m0 236h0m0 22h0m0 156h0m1-370h0m0 242h0m0 117h0m0 128h0m1-587h0m0 311h0m0 22h0m0 20h0m0 61h0m0 20h0m1-248h0m0 87h0m0 58h0m0 3h0m0 121h0m1-173h0m0 45h0m0 11h0m0 5h0m1-184h0m0 9h0m0 29h0m0 118h0m0 54h0m1-209h0m0 173h0m0 11h0m0 39h0m0 41h0m0 135h0m1-373h0m0 23h0m0 178h0m1-205h0m0 198h0m0 38h0m0 7h0m1-440h0m0 189h0m0 162h0m0 61h0m0 30h0m0 4h0m0 104h0m0 17h0m1-528h0m0 159h0m0 119h0m0 69h0m0 4h0m0 92h0m1-352h0m0 90h0m1-160h0m0 273h0m0 112h0m1-248h0m0 93h0m0 56h0m0 59h0m1-103h0m0 64h0m0 209h0m0 3h0m1-220h0m0 57h0m0 16h0m0 151h0m1-539h0m0 276h0m0 52h0m1-299h0m0 272h0m0 1h0m0 4h0m0 46h0m0 5h0m0 8h0m1-120h0m0 108h0m0 37h0m1-167h0m0 154h0m1-84h0m0 56h0m1-355h0m0 145h0m1-131h0m0 8h0m0 119h0m0 177h0m0 11h0m0 56h0m1-247h0m0 19h0m0 84h0m0 17h0m0 288h0m1-275h0m0 34h0m0 17h0m1-295h0m0 61h0m0 237h0m0 117h0m0 25h0m1-447h0m0 126h0m0 24h0m0 30h0m0 67h0m0 23h0m0 112h0m1-264h0m0 24h0m0 43h0m0 95h0m0 7h0m0 1h0m0 13h0m0 170h0m1-490h0m0 129h0m0 61h0m0 71h0m0 79h0m0 9h0m0 26h0m1-99h0m1-300h0m0 1h0m0 192h0m0 19h0m0 92h0m0 4h0m0 110h0m0 18h0m0 132h0m1-273h0m0 20h0m0 9h0m1-290h0m0 132h0m0 13h0m0 130h0m0 66h0m1-308h0m0 277h0m0 180h0m1-274h0m0 96h0m1-346h0m0 22h0m0 52h0m0 227h0m1-168h0m0 162h0m0 30h0m0 6h0m0 23h0m0 90h0m1-302h0m0 12h0m0 115h0m0 7h0m0 207h0m1-111h0m1-321h0m0 33h0m0 5h0m0 76h0m0 106h0m0 7h0m0 21h0m1-113h0m0 92h0m0 39h0m1-222h0m0 529h0m1-577h0m0 27h0m0 57h0m0 35h0m0 10h0m0 152h0m0 215h0m1-539h0m0 330h0m0 86h0m0 22h0m1-164h0m1-213h0m0 17h0m0 7h0m0 196h0m0 36h0m0 74h0m1-126h0m0 64h0m1-285h0m0 331h0m0 13h0m1-84h0m0 106h0m1-389h0m0 71h0m0 113h0m1 88h0m0 11h0m1-154h0m0 245h0m1-318h0m0 97h0m0 160h0m0 70h0m0 23h0m1-266h0m0 28h0m0 206h0m0 34h0m1-418h0m0 322h0m1-41h0m0 13h0m0 12h0m2 27h0m0 2h0m0 7h0m1-95h0m0 117h0m1-325h0m0 157h0m0 194h0m1-391h0m0 50h0m0 51h0m0 280h0m1-105h0m0 92h0m0 14h0m0 136h0m1-474h0m0 92h0m0 115h0m0 17h0m0 14h0m0 49h0m1-16h0m0 146h0m1-80h0m0 23h0m1-357h0m0 93h0m0 139h0m0 262h0m1-354h0m0 125h0m0 125h0m0 106h0m1-401h0m0 92h0m0 55h0m0 27h0m0 93h0m0 42h0m0 24h0m1-299h0m0 77h0m0 39h0m1-83h0m0 335h0m0 14h0m1-476h0m0 59h0m0 95h0m0 172h0m0 183h0m0 7h0m0 1h0m1-571h0m0 175h0m0 222h0m0 123h0m1-362h0m0 169h0m0 199h0m1-306h0m0 3h0m0 145h0m0 10h0m1-325h0m0 248h0m0 264h0m1-346h0m0 62h0m1-46h0m0 17h0m0 64h0m0 210h0m0 34h0m0 14h0m1-316h0m0 101h0m0 28h0m1-156h0m0 47h0m1 275h0m1-202h0m0 56h0m1-167h0m0 15h0m0 23h0m0 3h0m0 249h0m0 27h0m1-522h0m0 29h0m0 2h0m0 205h0m0 289h0m1-196h0m0 6h0m1-58h0m0 28h0m0 2h0m1-260h0m0 191h0m0 57h0m0 86h0m1 147h0m1-219h0m0 6h0m0 1h0m0 205h0m0 11h0m0 14h0m1-80h0m1-414h0m0 45h0m0 113h0m0 104h0m0 17h0m1-3h0m0 185h0m1-346h0m0 207h0m1-174h0m0 27h0m0 94h0m0 212h0m1-508h0m0 350h0m0 119h0m0 40h0m0 16h0m1-353h0m0 59h0m0 21h0m0 49h0m0 29h0m0 154h0m2-221h0m0 54h0m0 130h0m1-219h0m0 267h0m0 18h0m1-204h0m1-150h0m0 123h0m0 62h0m0 130h0m1-367h0m0 83h0m0 24h0m0 120h0m1-44h0m0 167h0m0 17h0m0 6h0m0 32h0m1-218h0m1-300h0m0 71h0m0 127h0m0 81h0m0 90h0m0 20h0m0 94h0m1-28h0m0 57h0m1-323h0m0 313h0m1-327h0m0 150h0m1 16h0m1-177h0m1-55h0m0 159h0m0 56h0m1-143h0m2 141h0m1-169h0m0 160h0m0 160h0m1-10h0m1-11h0m2-130h0m1-175h0m2 153h0m0 70h0m1-232h0m0 52h0m0 139h0m0 9h0m0 112h0m1-272h0m2 12h0m0 232h0m0 28h0m1-89h0m1-67h0m0 28h0m0 31h0m2-76h0m0 80h0m0 62h0m1-263h0m0 84h0m0 84h0m1-45h0m1-146h0m1 211h0m0 49h0m1-227h0m0 163h0m1-159h0m0 73h0m0 35h0m1 36h0m1 109h0m1-252h0m1 129h0m1-138h0m1 153h0m0 43h0m1-66h0m1 25h0m1 2h0m0 112h0m2-173h0m3 56h0m0 24h0m3-170h0m0 17h0m0 141h0m0 6h0m0 31h0m2-74h0m0 73h0m4-71h0m0 12h0m0 22h0m3 0h0m1-5h0m2-144h0m4 113h0m5 48h0"/>
<path transform="scale(.1)" stroke="#8c63b2" stroke-width="8.5" stroke-linecap="square" d="M3401 2361h0m7-350h0m7-14h0m2 5h0m0 430h0m2 28h0m3-449h0m0 396h0m1-417h0m1-5h0m0 49h0m0 35h0m2 336h0m1-33h0m1-279h0m0 308h0m2-32h0m0 47h0m1-501h0m0 421h0m1-441h0m0 168h0m1-120h0m0 427h0m1-44h0m0 24h0m0 2h0m1-264h0m0 283h0m0 156h0m1-443h0m0 321h0m0 24h0m0 89h0m2-435h0m2 299h0m1-389h0m1-58h0m0 208h0m0 218h0m1-290h0m0 337h0m1-326h0m0 396h0m1 27h0m1-556h0m1 93h0m0 76h0m2-104h0m0 4h0m0 27h0m0 380h0m1 30h0m1-573h0m0 32h0m0 458h0m0 85h0m1-545h0m0 478h0m0 38h0m1-460h0m0 147h0m0 284h0m0 62h0m3-562h0m0 46h0m0 36h0m0 1h0m0 103h0m0 58h0m0 225h0m0 7h0m0 131h0m1-433h0m0 297h0m1 43h0m0 38h0m1-486h0m0 26h0m1 50h0m1-17h0m0 23h0m1 346h0m0 109h0m1-505h0m0 345h0m0 163h0m1-509h0m0 3h0m0 279h0m0 65h0m1-257h0m0 250h0m1-358h0m0 11h0m0 89h0m0 189h0m1-352h0m3 108h0m0 47h0m0 18h0m0 278h0m0 65h0m1-442h0m0 143h0m0 207h0m0 137h0m2-497h0m1 283h0m0 195h0m0 58h0m2-520h0m0 123h0m0 342h0m0 75h0m1-483h0m0 272h0m0 81h0m0 44h0m1-419h0m1-82h0m0 31h0m1 279h0m0 46h0m2-139h0m0 177h0m2-393h0m0 557h0m1 32h0m2-628h0m1 105h0m0 238h0m0 210h0m1 48h0m1-588h0m0 161h0m0 237h0m0 120h0m0 11h0m1-300h0m0 93h0m0 65h0m2 65h0m0 16h0m1-405h0m0 158h0m1-188h0m1 40h0m0 433h0m1-515h0m0 627h0m3-549h0m0 445h0m2-322h0m0 151h0m4 174h0m2-417h0m1-91h0m0 64h0m0 90h0m0 60h0m0 19h0m0 123h0m1-229h0m0 230h0m0 52h0m1-434h0m0 341h0m0 38h0m0 98h0m1-252h0m1 10h0m0 127h0m2-91h0m0 363h0m1-431h0m0 161h0m2-156h0m0 21h0m1-11h0m0 182h0m0 190h0m1-368h0m0 1h0m0 14h0m0 125h0m0 253h0m1 6h0m1-263h0m0 1h0m0 283h0m1-49h0m1-517h0m0 277h0m1 12h0m0 63h0m0 159h0m1 34h0m1-469h0m0 61h0m0 162h0m1-286h0m0 139h0m0 378h0m1-227h0m0 1h0m0 3h0m0 218h0m0 78h0m1-558h0m0 6h0m0 19h0m0 68h0m0 431h0m0 6h0m0 12h0m0 2h0m1-46h0m1-245h0m0 212h0m1-360h0m0 48h0m0 88h0m2 12h0m0 218h0m1-229h0m0 26h0m1-2h0m1-271h0m0 44h0m0 193h0m0 180h0m0 47h0m1-420h0m0 427h0m0 58h0m1-257h0m1-234h0m0 330h0m0 108h0m1-203h0m1 189h0m1-561h0m0 379h0m0 46h0m0 106h0m1-408h0m0 249h0m0 94h0m0 103h0m0 21h0m1-496h0m0 278h0m0 84h0m0 3h0m1-445h0m0 345h0m1-285h0m0 56h0m0 487h0m2-491h0m0 402h0m1-141h0m1-279h0m0 333h0m0 135h0m1-540h0m1 314h0m9-296h0m14 456h0"/>
<path transform="scale(.1)" stroke="#e3312f" stroke-width="8.5" stroke-linecap="square" d="M2815 2627h0m9-39h0m1 28h0m4 15h0m1-105h0m2 47h0m4 100h0m4-124h0m6-42h0m1 87h0m3-54h0m5 33h0m2 97h0m3-139h0m3 2h0m0 56h0m1 25h0m2 79h0m2-194h0m2 87h0m2-50h0m4 138h0m4-60h0m2-125h0m4 151h0m0 66h0m2-224h0m1-4h0m3 147h0m1-122h0m1-5h0m1-40h0m1 17h0m4 4h0m1 185h0m1 63h0m1-244h0m1 8h0m0 4h0m0 4h0m4-27h0m1 8h0m0 13h0m0 75h0m1-61h0m2-25h0m2 13h0m1-20h0m0 65h0m2-51h0m0 29h0m0 195h0m1-234h0m0 1h0m1 21h0m0 122h0m2 103h0m2-237h0m0 224h0m1-239h0m2 217h0m0 14h0m2-185h0m1-36h0m0 60h0m0 109h0m2-180h0m1-27h0m0 134h0m2-113h0m0 8h0m0 45h0m1 228h0m1-49h0m3-228h0m1 169h0m1-203h0m0 255h0m2-12h0m0 17h0m1-203h0m1 151h0m1-27h0m1 55h0m1-225h0m0 87h0m0 111h0m1-160h0m0 176h0m0 21h0m2-183h0m0 45h0m0 110h0m1-207h0m0 21h0m0 196h0m1 58h0m1-220h0m0 181h0m1-180h0m0 68h0m0 58h0m0 40h0m1-146h0m0 134h0m2-171h0m0 75h0m0 65h0m0 19h0m1-196h0m0 137h0m0 72h0m0 37h0m0 23h0m1-96h0m0 50h0m1-207h0m0 67h0m0 169h0m1-160h0m0 41h0m0 84h0m0 9h0m1-198h0m1 29h0m1-36h0m0 29h0m0 32h0m0 152h0m0 15h0m1-87h0m0 73h0m0 43h0m0 1h0m1-195h0m0 147h0m0 18h0m1-213h0m0 54h0m1-25h0m0 135h0m0 28h0m0 46h0m1-261h0m0 63h0m0 147h0m0 13h0m0 2h0m0 22h0m1-201h0m0 171h0m2-192h0m0 53h0m0 129h0m1-208h0m0 227h0m0 66h0m1-248h0m0 30h0m1 165h0m1-231h0m0 69h0m0 159h0m1-16h0m1-39h0m0 26h0m0 17h0m1-211h0m0 16h0m0 16h0m1-7h0m0 127h0m1-88h0m1 225h0m1-299h0m0 35h0m0 8h0m0 81h0m1-114h0m0 61h0m0 97h0m1-153h0m0 289h0m1-112h0m1 17h0m0 36h0m1-179h0m0 37h0m1-62h0m0 23h0m0 107h0m0 10h0m0 63h0m2-165h0m1-39h0m0 101h0m0 53h0m0 6h0m1-106h0m1-65h0m0 20h0m0 207h0m1-189h0m0 106h0m0 66h0m1-251h0m0 221h0m1-96h0m1-127h0m0 243h0m1-176h0m0 176h0m1-241h0m0 197h0m1-47h0m0 66h0m0 39h0m1-260h0m0 206h0m2-176h0m0 209h0m0 40h0m1-193h0m0 26h0m2 55h0m0 11h0m0 177h0m1-251h0m0 144h0m0 28h0m1-249h0m0 116h0m0 7h0m1-74h0m0 134h0m0 30h0m1-70h0m0 121h0m0 15h0m1 0h0m1-184h0m0 26h0m0 26h0m0 134h0m1-204h0m0 116h0m1-107h0m0 6h0m0 10h0m0 16h0m1-156h0m0 210h0m0 56h0m1-39h0m0 47h0m0 71h0m1-157h0m0 24h0m1-36h0m0 18h0m0 36h0m1-69h0m0 72h0m0 8h0m0 17h0m1-169h0m0 47h0m0 88h0m1-210h0m0 163h0m0 10h0m1-22h0m0 57h0m1-16h0m0 6h0m0 30h0m1-119h0m0 8h0m0 15h0m0 10h0m0 1h0m0 171h0m1-224h0m0 89h0m0 61h0m1-22h0m2-35h0m1-182h0m0 7h0m0 40h0m0 77h0m0 29h0m1-55h0m0 26h0m0 21h0m1 59h0m0 135h0m1-209h0m0 2h0m0 63h0m1-62h0m1-45h0m0 56h0m2 126h0m0 47h0m1-142h0m0 32h0m1-213h0m0 16h0m0 130h0m0 2h0m0 33h0m0 7h0m0 12h0m0 44h0m0 55h0m0 24h0m1-214h0m1-72h0m0 112h0m0 27h0m0 41h0m1-226h0m0 115h0m0 22h0m0 21h0m0 48h0m0 24h0m0 6h0m1-107h0m0 96h0m0 29h0m2-24h0m1-137h0m0 31h0m0 52h0m0 37h0m0 14h0m0 42h0m0 59h0m0 13h0m1-230h0m0 55h0m0 78h0m1-191h0m0 50h0m0 43h0m0 116h0m1-48h0m0 5h0m0 3h0m1-187h0m0 142h0m0 10h0m0 158h0m1-173h0m0 44h0m0 30h0m0 11h0m1-161h0m0 108h0m1-133h0m0 92h0m0 56h0m0 113h0m1-201h0m0 34h0m0 103h0m0 74h0m1-104h0m0 146h0m1-248h0m0 5h0m0 51h0m1-18h0m0 40h0m0 75h0m1-270h0m0 68h0m0 126h0m0 23h0m0 9h0m0 39h0m1-273h0m0 41h0m0 117h0m0 42h0m1-133h0m0 162h0m0 4h0m0 122h0m1-178h0m0 37h0m0 28h0m1-132h0m0 8h0m0 41h0m0 18h0m0 40h0m1-100h0m0 35h0m0 45h0m1-138h0m0 71h0m0 112h0m1-72h0m0 59h0m0 26h0m1-122h0m0 35h0m0 36h0m1-191h0m0 114h0m0 15h0m0 96h0m0 59h0m0 32h0m1-181h0m0 27h0m0 118h0m0 60h0m1-234h0m0 23h0m0 31h0m1-157h0m0 164h0m0 114h0m0 39h0m1-288h0m1 45h0m0 139h0m0 9h0m1-117h0m0 57h0m0 104h0m0 63h0m1-218h0m0 36h0m1-78h0m1-22h0m0 33h0m0 60h0m0 106h0m1-198h0m0 4h0m0 58h0m0 93h0m0 76h0m0 73h0m1-305h0m0 216h0m0 7h0m0 32h0m1-334h0m0 215h0m0 5h0m0 16h0m1-143h0m0 44h0m0 40h0m1-66h0m0 36h0m0 17h0m0 31h0m0 51h0m1-159h0m0 26h0m1-47h0m1-52h0m0 83h0m0 14h0m0 33h0m1 1h0m0 83h0m0 16h0m0 114h0m1-218h0m0 71h0m0 22h0m1-76h0m0 154h0m1-217h0m0 175h0m1-147h0m1-64h0m0 12h0m0 112h0m0 12h0m0 78h0m1-141h0m0 34h0m0 22h0m0 51h0m0 45h0m1-138h0m0 66h0m0 78h0m0 39h0m1-239h0m0 53h0m0 9h0m0 3h0m1-106h0m0 11h0m0 59h0m0 38h0m0 51h0m1-179h0m0 65h0m0 140h0m1-243h0m0 44h0m0 114h0m0 46h0m0 18h0m0 69h0m0 14h0m0 24h0m1-305h0m0 226h0m0 139h0m1-301h0m0 155h0m0 14h0m0 88h0m1-191h0m0 35h0m1-174h0m0 12h0m1 95h0m0 30h0m0 50h0m0 67h0m1-169h0m0 45h0m0 5h0m0 28h0m0 20h0m0 27h0m0 51h0m1-130h0m0 2h0m0 12h0m0 13h0m0 8h0m0 13h0m0 18h0m0 24h0m0 2h0m0 68h0m0 11h0m1-202h0m0 78h0m0 111h0m1-206h0m0 67h0m0 119h0m0 19h0m1-301h0m0 11h0m0 138h0m0 85h0m0 77h0m1-297h0m0 146h0m0 58h0m0 83h0m1-129h0m0 10h0m0 3h0m0 6h0m0 66h0m0 45h0m1-219h0m0 11h0m0 45h0m0 99h0m0 66h0m1-288h0m0 170h0m0 74h0m0 99h0m1-200h0m0 11h0m0 62h0m0 5h0m0 47h0m1-28h0m1-156h0m0 77h0m0 2h0m0 98h0m1-270h0m0 100h0m0 49h0m0 70h0m0 5h0m1-78h0m0 23h0m0 15h0m0 19h0m0 84h0m1-135h0m0 32h0m0 36h0m0 122h0m1-345h0m0 159h0m0 144h0m1-319h0m1 9h0m0 148h0m0 38h0m0 108h0m1-83h0m0 1h0m1-84h0m0 46h0m0 7h0m0 34h0m1-213h0m0 69h0m0 58h0m0 174h0m0 18h0m1-241h0m0 223h0m2-157h0m0 5h0m0 60h0m0 9h0m1-225h0m0 135h0m0 54h0m0 122h0m0 21h0m1-337h0m0 35h0m0 70h0m0 8h0m0 46h0m0 1h0m0 68h0m0 47h0m0 16h0m1-151h0m0 24h0m0 60h0m1-166h0m1-48h0m0 38h0m0 66h0m0 79h0m0 2h0m0 11h0m0 69h0m0 44h0m0 45h0m1-326h0m0 154h0m0 1h0m1-1h0m0 9h0m0 32h0m0 65h0m1-296h0m0 268h0m0 28h0m1-238h0m0 217h0m0 56h0m1-326h0m0 68h0m0 275h0m1-44h0m1-248h0m1-17h0m0 8h0m0 94h0m0 82h0m1-224h0m0 18h0m0 215h0m1 29h0m1-257h0m0 169h0m0 14h0m0 46h0m0 7h0m0 60h0m1-285h0m0 52h0m0 72h0m1-138h0m0 155h0m0 49h0m1-178h0m0 156h0m0 107h0m1-269h0m0 169h0m0 197h0m1-386h0m0 272h0m0 82h0m0 32h0m1-396h0m0 50h0m0 126h0m0 8h0m0 36h0m0 14h0m0 72h0m0 39h0m1-345h0m0 20h0m0 19h0m0 110h0m1 27h0m0 119h0m1-262h0m0 158h0m1-27h0m1-104h0m0 215h0m1-243h0m0 313h0m0 14h0m1-166h0m0 47h0m0 160h0m1-144h0m0 57h0m1-93h0m0 24h0m1-152h0m0 132h0m0 19h0m0 7h0m2-244h0m1 238h0m0 44h0m1-278h0m0 320h0m1-168h0m0 13h0m0 66h0m0 146h0m1-335h0m0 95h0m0 17h0m0 41h0m1-157h0m0 117h0m0 89h0m1-210h0m1 120h0m0 48h0m0 157h0m1-200h0m0 106h0m1-158h0m0 11h0m0 69h0m0 104h0m1-300h0m0 172h0m0 25h0m1-115h0m0 134h0m0 68h0m0 45h0m0 4h0m1-240h0m0 82h0m0 7h0m1 19h0m1-37h0m0 97h0m0 9h0m1-85h0m0 15h0m0 9h0m0 10h0m0 30h0m1-56h0m0 23h0m0 16h0m0 28h0m0 63h0m1-231h0m0 62h0m0 85h0m0 45h0m2-230h0m0 177h0m1-85h0m0 7h0m0 47h0m0 183h0m1-216h0m0 40h0m0 38h0m0 46h0m1-72h0m0 33h0m0 12h0m3-205h0m0 176h0m0 6h0m2-123h0m0 57h0m1 43h0m0 1h0m0 48h0m0 106h0m1-231h0m0 240h0m1-190h0m0 54h0m0 7h0m0 73h0m1-173h0m1-97h0m0 152h0m0 163h0m1-206h0m0 17h0m0 5h0m0 50h0m1-119h0m0 27h0m0 54h0m0 188h0m1-228h0m0 20h0m0 10h0m0 190h0m1-329h0m0 194h0m0 132h0m2-251h0m0 120h0m0 6h0m0 9h0m0 123h0m1-194h0m0 47h0m0 156h0m1-202h0m0 37h0m0 29h0m0 11h0m0 44h0m1-74h0m0 126h0m0 8h0m1-294h0m0 125h0m0 93h0m0 86h0m1-140h0m0 138h0m1-173h0m0 58h0m0 98h0m1-136h0m0 21h0m0 119h0m1-285h0m0 75h0m0 233h0m2-288h0m0 271h0m1-125h0m4 3h0m0 89h0m1-186h0m0 218h0m1-221h0m0 39h0m0 147h0m0 1h0m0 31h0m1 8h0m0 12h0m1-225h0m0 49h0m0 42h0m1-139h0m0 196h0m1 13h0m1-192h0m0 45h0m0 191h0m0 3h0m0 16h0m1-272h0m1 29h0m0 229h0m1-136h0m0 5h0m0 101h0m1-41h0m0 68h0m0 25h0m0 35h0m2-119h0m0 40h0m1-68h0m1-44h0m1 66h0m1-181h0m0 256h0m0 55h0m2-205h0m0 113h0m0 7h0m0 31h0m1-287h0m0 22h0m0 95h0m1-121h0m0 105h0m2 40h0m0 67h0m1 89h0m1-313h0m0 141h0m0 95h0m0 57h0m0 44h0m1-190h0m1-118h0m0 5h0m0 225h0m0 44h0m1-159h0m0 175h0m1-291h0m0 61h0m2 118h0m1-65h0m0 197h0m1-190h0m1-86h0m0 2h0m0 198h0m2-28h0m0 97h0m1-203h0m0 212h0m1-297h0m1-39h0m0 175h0m0 150h0m0 10h0m2-337h0m0 78h0m0 64h0m0 177h0m1 5h0m0 11h0m1-272h0m1 100h0m0 177h0m0 5h0m3-265h0m0 70h0m0 191h0m3-2h0m1-268h0m0 259h0m0 16h0m1-341h0m0 224h0m1-159h0m0 63h0m1-79h0m0 200h0m0 101h0m1-191h0m0 148h0m1-251h0m1 280h0m1-138h0m0 15h0m1 21h0m1-94h0m0 204h0m1-123h0m1-224h0m0 72h0m1-46h0m0 299h0m1-177h0m0 199h0m1-124h0m0 9h0m1-149h0m2 55h0m1 22h0m0 186h0m0 15h0m2-223h0m3 190h0m2 11h0m1-128h0m1-166h0m0 114h0m0 21h0m0 166h0m1-267h0m0 108h0m0 160h0m1-275h0m0 256h0m1-254h0m1 159h0m1-12h0m2-202h0m0 111h0m0 68h0m0 5h0m2-5h0m1-53h0m0 31h0m1-17h0m1-21h0m1-119h0m0 326h0m1-199h0m1-85h0m1 123h0m1-144h0m1 105h0m0 51h0m0 4h0m1 17h0m2-88h0m2-76h0m2 105h0m2-88h0m3 0h0m1 129h0m2-12h0m1-138h0m0 127h0m7-125h0m9 79h0m2-10h0"/>
<path transform="scale(.1)" stroke="#e08090" stroke-width="8.5" stroke-linecap="square" d="M3660 2265h0m15 22h0m5-9h0m10-7h0m0 11h0m2 2h0m2-2h0m3 10h0"/>
<path transform="scale(.1)" stroke="#8c63b2" stroke-width="10" stroke-linecap="square" d="M3142 2264h0m0 5h0m9-2h0m3-11h0m1 16h0m2-14h0m0 18h0m1-10h0m0 7h0m1 0h0m1-11h0m0 13h0m0 2h0m1-14h0m2 10h0m1 3h0m0 1h0m1-21h0m0 22h0m1-2h0m2-14h0m2 0h0m0 2h0m3 7h0m2-9h0"/>
<text x="307.00" y="148.50" font-size="7.5" text-anchor="middle">7</text>
<text x="292.00" y="193.00" font-size="7.5" text-anchor="middle">3</text>
<text x="329.80" y="218.50" font-size="7.5" text-anchor="middle">0</text>
<text x="353.60" y="214.50" font-size="7.5" text-anchor="middle">4</text>
<text x="365.30" y="224.50" font-size="7.5" text-anchor="middle">6</text>
<text x="249.20" y="227.00" font-size="7.5" text-anchor="middle">5</text>
<text x="295.50" y="228.00" font-size="7.5" text-anchor="middle">2</text>
<text x="299.00" y="272.00" font-size="7.5" text-anchor="middle">1</text>
<line x1="40.80" y1="295.50" x2="40.80" y2="262.00" stroke="#000" stroke-width="1.1"/>
<path d="M40.80 258.00L38.50 262.50L43.10 262.50Z" fill="#000"/>
<line x1="40.25" y1="295.50" x2="73.70" y2="295.50" stroke="#000" stroke-width="1.1"/>
<path d="M77.70 295.50L73.20 293.20L73.20 297.80Z" fill="#000"/>
<line x1="227.00" y1="294.80" x2="227.00" y2="261.30" stroke="#000" stroke-width="1.1"/>
<path d="M227.00 257.30L224.70 261.80L229.30 261.80Z" fill="#000"/>
<line x1="226.45" y1="294.80" x2="259.40" y2="294.80" stroke="#000" stroke-width="1.1"/>
<path d="M263.40 294.80L258.90 292.50L258.90 297.10Z" fill="#000"/>
<text x="37.20" y="279.80" font-size="7.0" text-anchor="middle" transform="rotate(-90 37.20 279.80)">tSNE_2</text>
<text x="58.30" y="304.30" font-size="7.0" text-anchor="middle">tSNE_1</text>
<text x="223.40" y="279.00" font-size="7.0" text-anchor="middle" transform="rotate(-90 223.40 279.00)">tSNE_2</text>
<text x="244.60" y="303.60" font-size="7.0" text-anchor="middle">tSNE_1</text>
<circle cx="395.6" cy="179.30" r="3.5" fill="#2a4f8f"/>
<text x="399.80" y="182.00" font-size="7.4">0-Interm-1</text>
<circle cx="395.6" cy="192.24" r="3.5" fill="#e5262a"/>
<text x="399.80" y="194.94" font-size="7.4">1-Bas-1</text>
<circle cx="395.6" cy="205.18" r="3.5" fill="#52b848"/>
<text x="399.80" y="207.88" font-size="7.4">2-Interm-2</text>
<circle cx="395.6" cy="218.12" r="3.5" fill="#3b9ea8"/>
<text x="399.80" y="220.82" font-size="7.4">3-HF</text>
<circle cx="395.6" cy="231.06" r="3.5" fill="#7c58a8"/>
<text x="399.80" y="233.76" font-size="7.4">4-Interm-3</text>
<circle cx="395.6" cy="244.00" r="3.5" fill="#e8a088"/>
<text x="399.80" y="246.70" font-size="7.4">5-Bas-2</text>
<circle cx="395.6" cy="256.94" r="3.5" fill="#a01e30"/>
<text x="399.80" y="259.64" font-size="7.4">6-Bas-3</text>
<circle cx="395.6" cy="269.88" r="3.5" fill="#a9b2b0"/>
<text x="399.80" y="272.58" font-size="7.4">7-Diff</text>
<text x="460.90" y="121.50" font-size="17.0" fill="#000">C</text>
<text x="510.70" y="128.90" font-size="11.85">Percentage of subclusters</text>
<rect x="518.40" y="138.60" width="10.2" height="112.00" fill="#e34a38"/>
<rect x="518.40" y="147.00" width="10.2" height="103.60" fill="#6bc8d6"/>
<text x="525.00" y="256.00" font-size="8.5" text-anchor="end" transform="rotate(-45 525.00 256.00)">6-Bas-3</text>
<rect x="533.54" y="138.60" width="10.2" height="112.00" fill="#e34a38"/>
<rect x="533.54" y="191.24" width="10.2" height="59.36" fill="#6bc8d6"/>
<text x="540.14" y="256.00" font-size="8.5" text-anchor="end" transform="rotate(-45 540.14 256.00)">7-Diff</text>
<rect x="548.68" y="138.60" width="10.2" height="112.00" fill="#e34a38"/>
<rect x="548.68" y="191.80" width="10.2" height="58.80" fill="#6bc8d6"/>
<text x="555.28" y="256.00" font-size="8.5" text-anchor="end" transform="rotate(-45 555.28 256.00)">1-Bas-1</text>
<rect x="563.82" y="138.60" width="10.2" height="112.00" fill="#e34a38"/>
<rect x="563.82" y="198.52" width="10.2" height="52.08" fill="#6bc8d6"/>
<text x="570.42" y="256.00" font-size="8.5" text-anchor="end" transform="rotate(-45 570.42 256.00)">3-HF</text>
<rect x="578.96" y="138.60" width="10.2" height="112.00" fill="#e34a38"/>
<rect x="578.96" y="201.88" width="10.2" height="48.72" fill="#6bc8d6"/>
<text x="585.56" y="256.00" font-size="8.5" text-anchor="end" transform="rotate(-45 585.56 256.00)">0-Interm-1</text>
<rect x="594.10" y="138.60" width="10.2" height="112.00" fill="#e34a38"/>
<rect x="594.10" y="210.28" width="10.2" height="40.32" fill="#6bc8d6"/>
<text x="600.70" y="256.00" font-size="8.5" text-anchor="end" transform="rotate(-45 600.70 256.00)">2-Interm-2</text>
<rect x="609.24" y="138.60" width="10.2" height="112.00" fill="#e34a38"/>
<rect x="609.24" y="210.06" width="10.2" height="40.54" fill="#6bc8d6"/>
<text x="615.84" y="256.00" font-size="8.5" text-anchor="end" transform="rotate(-45 615.84 256.00)">4-Interm-3</text>
<rect x="624.38" y="138.60" width="10.2" height="112.00" fill="#e34a38"/>
<rect x="624.38" y="216.66" width="10.2" height="33.94" fill="#6bc8d6"/>
<text x="630.98" y="256.00" font-size="8.5" text-anchor="end" transform="rotate(-45 630.98 256.00)">5-Bas-2</text>
<line x1="516.60" y1="138.10" x2="516.60" y2="251.20" stroke="#231f20" stroke-width="1.1"/>
<line x1="516.10" y1="250.70" x2="636.80" y2="250.70" stroke="#231f20" stroke-width="1.1"/>
<line x1="514.20" y1="250.60" x2="516.60" y2="250.60" stroke="#231f20" stroke-width="0.9"/>
<text x="514.00" y="253.10" font-size="6.8" text-anchor="end">0</text>
<line x1="514.20" y1="239.40" x2="516.60" y2="239.40" stroke="#231f20" stroke-width="0.9"/>
<text x="514.00" y="241.90" font-size="6.8" text-anchor="end">10</text>
<line x1="514.20" y1="228.20" x2="516.60" y2="228.20" stroke="#231f20" stroke-width="0.9"/>
<text x="514.00" y="230.70" font-size="6.8" text-anchor="end">20</text>
<line x1="514.20" y1="217.00" x2="516.60" y2="217.00" stroke="#231f20" stroke-width="0.9"/>
<text x="514.00" y="219.50" font-size="6.8" text-anchor="end">30</text>
<line x1="514.20" y1="205.80" x2="516.60" y2="205.80" stroke="#231f20" stroke-width="0.9"/>
<text x="514.00" y="208.30" font-size="6.8" text-anchor="end">40</text>
<line x1="514.20" y1="194.60" x2="516.60" y2="194.60" stroke="#231f20" stroke-width="0.9"/>
<text x="514.00" y="197.10" font-size="6.8" text-anchor="end">50</text>
<line x1="514.20" y1="183.40" x2="516.60" y2="183.40" stroke="#231f20" stroke-width="0.9"/>
<text x="514.00" y="185.90" font-size="6.8" text-anchor="end">60</text>
<line x1="514.20" y1="172.20" x2="516.60" y2="172.20" stroke="#231f20" stroke-width="0.9"/>
<text x="514.00" y="174.70" font-size="6.8" text-anchor="end">70</text>
<line x1="514.20" y1="161.00" x2="516.60" y2="161.00" stroke="#231f20" stroke-width="0.9"/>
<text x="514.00" y="163.50" font-size="6.8" text-anchor="end">80</text>
<line x1="514.20" y1="149.80" x2="516.60" y2="149.80" stroke="#231f20" stroke-width="0.9"/>
<text x="514.00" y="152.30" font-size="6.8" text-anchor="end">90</text>
<line x1="514.20" y1="138.60" x2="516.60" y2="138.60" stroke="#231f20" stroke-width="0.9"/>
<text x="514.00" y="141.10" font-size="6.8" text-anchor="end">100</text>
<text x="502.70" y="190.00" font-size="8.75" text-anchor="middle" transform="rotate(-90 502.70 190.00)">Percentage of cells(%)</text>
<rect x="639.2" y="139.4" width="5.6" height="5.6" fill="#e34a38"/>
<rect x="639.2" y="148.0" width="5.6" height="5.4" fill="#6bc8d6"/>
<text x="645.60" y="145.00" font-size="8.45"><tspan font-style="italic">Supt6</tspan><tspan> KO</tspan></text>
<text x="645.60" y="153.40" font-size="8.45">Control</text>
<text x="1.80" y="332.60" font-size="17.0" fill="#000">D</text>
<text x="198.90" y="332.70" font-size="17.0" fill="#000">E</text>
<text x="416.90" y="332.70" font-size="17.0" fill="#000">F</text>
<path transform="scale(.1)" stroke="#f6e6e6" stroke-width="10" stroke-linecap="square" d="M521 3760h0m1-3h0m1 7h0m0 3h0m1 5h0m0 2h0m1-13h0m0 14h0m1-21h0m0 18h0m0 4h0m2-30h0m0 7h0m0 1h0m0 6h0m0 18h0m1-2h0m2-17h0m0 14h0m1 7h0m1-31h0m0 19h0m0 14h0m1-35h0m0 38h0m0 7h0m1-26h0m0 8h0m1 14h0m1-48h0m0 5h0m0 22h0m0 12h0m0 3h0m1-38h0m0 1h0m0 31h0m0 11h0m1-46h0m0 11h0m0 35h0m1-38h0m0 22h0m0 8h0m0 9h0m1-35h0m0 31h0m1-5h0m0 14h0m1-57h0m0 1h0m0 7h0m0 6h0m0 51h0m1-70h0m0 20h0m0 24h0m1-36h0m0 1h0m0 6h0m0 21h0m0 33h0m1-72h0m0 5h0m0 49h0m0 11h0m1-12h0m0 13h0m1-68h0m0 2h0m0 1h0m0 18h0m0 8h0m1-31h0m0 38h0m2 2h0m0 31h0m0 6h0m1-65h0m0 64h0m1-32h0m1 7h0m0 4h0m1-59h0m0 7h0m0 15h0m0 20h0m0 10h0m0 8h0m0 10h0m1-73h0m0 71h0m1-58h0m0 7h0m0 7h0m0 49h0m1-67h0m0 31h0m1-28h0m0 8h0m0 27h0m1-37h0m0 1h0m0 5h0m0 12h0m0 15h0m0 5h0m1-50h0m0 13h0m1-19h0m0 77h0m0 2h0m1-77h0m0 1h0m0 2h0m0 24h0m1-37h0m0 23h0m0 61h0m1-69h0m0 52h0m1-67h0m0 18h0m0 44h0m1-48h0m0 3h0m0 4h0m1 20h0m0 15h0m0 14h0m0 10h0m1-13h0m0 4h0m1-75h0m0 22h0m0 6h0m0 36h0"/>
<path transform="scale(.1)" stroke="#f3dbdb" stroke-width="10" stroke-linecap="square" d="M571 3691h0m0 7h0m0 16h0m0 56h0m1-60h0m0 33h0m0 23h0m1-71h0m0 5h0m0 11h0m0 38h0m0 35h0m1-70h0m0 49h0m0 12h0m1-56h0m0 16h0m0 6h0m1 21h0m1-19h0m1-22h0m0 20h0m0 1h0m1-17h0m0 30h0m0 5h0m1-65h0m0 50h0m0 22h0m0 6h0m1-74h0m0 6h0m0 36h0m1-1h0m1 2h0m0 11h0m1-74h0m1 4h0m0 28h0m1-4h0m0 61h0m1-86h0m0 37h0m0 1h0m0 3h0m0 8h0m0 19h0m0 2h0m0 10h0m1-80h0m0 12h0m0 7h0m0 40h0m0 5h0m1-36h0m0 8h0m0 12h0m0 13h0m0 9h0m0 8h0m0 2h0m1-69h0m0 4h0m0 5h0m1 9h0m0 44h0m1-64h0m0 12h0m0 34h0m0 2h0m1-57h0m0 14h0m0 24h0m0 14h0m0 2h0m0 8h0m0 8h0m2-78h0m0 7h0m0 43h0m1-33h0m0 39h0m0 7h0m1-66h0m0 24h0m0 12h0m0 5h0m1-40h0m0 47h0m0 4h0m0 20h0m1-36h0m0 3h0m0 2h0m1-28h0m0 4h0m0 4h0m0 5h0m0 34h0m1-68h0m0 58h0m1-45h0m1-18h0m0 12h0m0 18h0m1-24h0m0 7h0m0 57h0m1-27h0m0 10h0m0 1h0m1 4h0m0 5h0m1-43h0m0 4h0m0 4h0m0 40h0m1 3h0m1-73h0m0 12h0m0 5h0m0 18h0m0 8h0m0 1h0m0 14h0m0 4h0m1-19h0m0 26h0m1-38h0m0 27h0m0 1h0m0 2h0m1-16h0m1-49h0m0 43h0m0 22h0m1-64h0m0 32h0m0 4h0m0 23h0m1-55h0m0 38h0m0 22h0m1-51h0m0 12h0m0 11h0m0 15h0m1-19h0m1-17h0m0 34h0m0 12h0m1-63h0m0 2h0m1 30h0"/>
<path transform="scale(.1)" stroke="#f1d0cf" stroke-width="10" stroke-linecap="square" d="M620 3667h0m0 23h0m1-40h0m0 22h0m0 6h0m0 10h0m0 1h0m0 3h0m0 18h0m1-56h0m0 34h0m1-13h0m0 1h0m1-1h0m0 17h0m1-2h0m0 18h0m1-94h0m0 36h0m0 2h0m0 8h0m0 27h0m0 16h0m1-52h0m0 14h0m0 21h0m0 20h0m1-22h0m0 17h0m2-50h0m0 4h0m0 42h0m1-32h0m0 5h0m0 6h0m1-47h0m0 18h0m0 3h0m0 13h0m0 7h0m0 15h0m1 12h0m1-42h0m0 26h0m0 2h0m0 6h0m1-62h0m1 49h0m1-17h0m0 38h0m2-91h0m0 48h0m0 35h0m0 8h0m1-72h0m1 51h0m0 7h0m0 5h0m2-11h0m0 7h0m1-6h0m0 17h0m0 1h0m1-41h0m1 32h0m1-43h0m1 39h0m0 5h0m0 5h0m1-39h0m0 12h0m1-46h0m0 38h0m1 1h0m0 3h0m0 4h0m0 21h0m1-42h0m0 19h0m0 4h0m0 3h0m0 3h0m0 9h0m1-63h0m0 29h0m0 42h0m1-48h0m0 16h0m2 17h0m0 1h0m1 11h0m1 3h0m1 0h0m1-53h0m0 7h0m0 2h0m0 6h0m0 11h0m0 4h0m0 14h0m0 5h0m2-35h0m0 22h0m1-28h0m0 7h0m0 11h0m0 1h0m0 17h0m3-47h0m0 24h0m0 5h0m1-36h0m0 54h0m1-37h0m0 5h0m0 28h0m0 13h0m1-51h0m0 17h0m0 2h0m0 11h0m0 1h0m1-19h0"/>
<path transform="scale(.1)" stroke="#eec5c4" stroke-width="10" stroke-linecap="square" d="M670 3634h0m0 54h0m1-73h0m0 13h0m1 8h0m0 5h0m1 22h0m1 3h0m1-30h0m0 30h0m1-29h0m0 31h0m0 14h0m1-70h0m1 70h0m1-28h0m0 30h0m1-39h0m0 20h0m0 7h0m0 11h0m0 1h0m1-52h0m1 10h0m0 47h0m1-15h0m1-17h0m0 18h0m0 5h0m1-48h0m0 28h0m0 6h0m0 2h0m0 15h0m1-51h0m0 7h0m1 36h0m1-32h0m1-4h0m1 4h0m0 12h0m0 20h0m1-40h0m0 18h0m2-45h0m0 34h0m0 38h0m0 8h0m1-17h0m0 4h0m1-11h0m0 11h0m0 5h0m1-20h0m1-18h0m0 2h0m0 31h0m0 5h0m1-11h0m1-9h0m0 17h0m0 3h0m1-51h0m0 2h0m0 3h0m0 53h0m1-51h0m1-3h0m0 17h0m0 18h0m0 11h0m0 4h0m1-2h0m1-41h0m0 19h0m0 8h0m0 10h0m1-47h0m0 3h0m1 54h0m1-62h0m0 21h0m0 18h0m0 3h0m0 19h0m1-51h0m0 11h0m0 16h0m0 7h0m0 3h0m0 13h0m1-60h0m0 18h0m0 35h0m1-72h0m0 49h0m0 7h0m1-61h0m0 21h0m0 2h0m0 48h0m1-18h0m1-19h0m1-13h0m0 4h0m0 10h0m0 12h0m1 10h0m0 23h0m1 0h0m1-53h0m0 20h0m0 16h0m0 5h0m1-3h0m1-61h0m0 19h0m0 13h0m0 13h0m1-46h0m0 61h0"/>
<path transform="scale(.1)" stroke="#ebbab9" stroke-width="10" stroke-linecap="square" d="M720 3685h0m1-60h0m0 7h0m0 10h0m1-18h0m0 15h0m1-39h0m0 30h0m0 6h0m0 11h0m1-7h0m0 1h0m0 13h0m0 21h0m1-49h0m0 43h0m0 10h0m1-54h0m0 16h0m0 4h0m0 20h0m1-43h0m0 4h0m0 4h0m0 13h0m0 3h0m0 19h0m1-46h0m0 45h0m0 16h0m1-49h0m1-26h0m0 21h0m0 12h0m0 1h0m0 6h0m0 18h0m1 20h0m1-65h0m0 2h0m0 37h0m0 13h0m0 10h0m0 2h0m1-15h0m0 2h0m0 1h0m1-54h0m0 3h0m0 41h0m0 14h0m1-57h0m0 4h0m0 33h0m1 5h0m0 15h0m1-51h0m0 3h0m0 10h0m1-6h0m0 41h0m0 5h0m0 5h0m1-69h0m0 57h0m1-47h0m0 2h0m0 57h0m1-10h0m0 11h0m1-61h0m0 5h0m0 24h0m0 19h0m1-47h0m0 10h0m0 46h0m1-29h0m0 30h0m1-62h0m0 37h0m0 3h0m0 6h0m1-15h0m0 16h0m1 3h0m1-44h0m0 19h0m0 1h0m0 12h0m0 4h0m1-27h0m0 7h0m0 7h0m1 4h0m0 29h0m1-59h0m1 13h0m0 45h0m0 3h0m1-61h0m0 33h0m0 9h0m0 4h0m0 17h0m1-81h0m0 68h0m1 14h0m2-55h0m0 26h0m0 29h0m1-54h0m0 52h0m1-11h0m1-54h0m0 4h0m0 57h0m0 2h0m1-56h0m0 16h0m0 17h0m1-53h0m0 78h0m0 4h0m1-17h0m0 6h0m1-41h0m0 32h0m0 9h0m0 6h0m1-19h0m0 24h0m1-62h0m0 16h0m0 42h0m1-17h0m0 8h0m1-39h0m0 21h0m1-9h0m0 38h0m1-37h0"/>
<path transform="scale(.1)" stroke="#e9afad" stroke-width="10" stroke-linecap="square" d="M770 3655h0m1-29h0m0 1h0m0 15h0m0 18h0m1-46h0m0 31h0m0 41h0m2-47h0m0 13h0m0 19h0m1 0h0m0 6h0m1-31h0m0 20h0m1-26h0m0 11h0m0 7h0m1-15h0m0 36h0m1-45h0m0 17h0m0 30h0m0 5h0m1-49h0m0 40h0m1-48h0m0 11h0m1-28h0m0 41h0m0 12h0m0 22h0m0 1h0m1-57h0m0 21h0m0 17h0m0 18h0m1-51h0m1 3h0m0 14h0m0 4h0m1-18h0m0 25h0m1-18h0m0 11h0m0 1h0m1-37h0m0 13h0m0 10h0m1 4h0m0 6h0m0 7h0m1-29h0m0 38h0m1-15h0m0 9h0m1-31h0m0 52h0m1-56h0m0 26h0m1-26h0m0 1h0m1 1h0m0 11h0m1-31h0m0 35h0m0 42h0m1-1h0m1-30h0m1-3h0m0 35h0m1-52h0m0 4h0m0 4h0m0 7h0m1-28h0m0 17h0m0 2h0m1-2h0m0 3h0m0 16h0m1-22h0m0 9h0m0 5h0m0 5h0m0 4h0m0 10h0m0 5h0m1-70h0m0 6h0m0 26h0m0 27h0m0 5h0m3-43h0m0 12h0m1 0h0m0 22h0m0 2h0m0 16h0m1-27h0m1-10h0m0 32h0m0 13h0m1-22h0m0 5h0m0 18h0m1-84h0m0 41h0m1 7h0m1-9h0m1 29h0m1-1h0m0 12h0m1-29h0m1 28h0m0 8h0m1-83h0m0 62h0m1-13h0m0 5h0m0 8h0"/>
<path transform="scale(.1)" stroke="#e6a4a2" stroke-width="10" stroke-linecap="square" d="M820 3677h0m1-23h0m1 6h0m1 28h0m1-16h0m0 17h0m1-27h0m0 18h0m1 9h0m1-15h0m0 8h0m0 4h0m1 0h0m0 3h0m1-13h0m0 1h0m3-23h0m2 4h0m0 18h0m1-10h0m0 17h0m0 5h0m0 6h0m1-33h0m0 12h0m1-5h0m0 14h0m3 5h0m0 3h0"/>
<path transform="scale(.1)" stroke="#dc4a3e" stroke-width="10" stroke-linecap="square" d="M695 3890h0m4 2h0m0 7h0m1 3h0m1 2h0m1-6h0m2 11h0m0 3h0m1-20h0m0 20h0m0 3h0m1-2h0m1 4h0m0 3h0m1-28h0m0 1h0m0 2h0m0 20h0m0 4h0m2-24h0m0 8h0m0 1h0m0 1h0m1 19h0m1-28h0m0 2h0m0 7h0m0 1h0m0 6h0m0 28h0m1-38h0m0 10h0m0 16h0m0 4h0m1-9h0m1-16h0m0 2h0m1-12h0m0 2h0m0 4h0m0 15h0m0 9h0m0 6h0m1-33h0m0 14h0m0 13h0m1-31h0m0 6h0m0 29h0m0 5h0m1-44h0m0 25h0m0 3h0m0 11h0m0 2h0m1-37h0m0 9h0m0 2h0m1-6h0m1 10h0m0 4h0m0 1h0m0 6h0m0 19h0m2-51h0m0 17h0m0 10h0m0 14h0m1-39h0m0 8h0m0 10h0m0 16h0m0 12h0m1-46h0m0 16h0m2-15h0m0 28h0m0 4h0m0 2h0m0 2h0m1-32h0m1 20h0m1-23h0m0 13h0m0 23h0m0 4h0m1-20h0m0 16h0m1-35h0m0 3h0m0 10h0m0 14h0m1-7h0m0 10h0m1-32h0m0 5h0m1-7h0m0 9h0m0 17h0m1-28h0m0 22h0m0 2h0m1-17h0m0 23h0m3-29h0m1-2h0m0 2h0m0 1h0m0 10h0m1 2h0m0 6h0m1-19h0m0 2h0m0 5h0m2-6h0"/>
<path transform="scale(.1)" stroke="#dd5246" stroke-width="10" stroke-linecap="square" d="M692 3872h0m0 2h0m1 0h0m0 8h0m0 1h0m1-12h0m1-3h0m1 0h0m1 1h0m1-3h0m1 2h0m0 8h0m0 12h0m2-1h0m0 1h0m1-7h0m2-20h0m0 6h0m0 3h0m0 13h0m0 5h0m1-27h0m0 10h0m1-11h0m1 23h0m1 0h0m1-23h0m0 4h0m0 19h0m2-27h0m0 19h0m1-3h0m1-16h0m0 20h0m0 2h0m0 9h0m1-27h0m0 25h0m0 1h0m1-30h0m0 4h0m0 21h0m5-21h0m0 23h0m0 4h0m1-2h0m1-23h0m0 1h0m1-1h0m0 4h0m2 3h0m0 12h0m1-9h0m0 16h0m2-13h0m0 8h0m2-16h0m0 3h0m0 4h0m1-14h0m1 7h0m1-11h0m1 2h0m0 7h0m0 19h0m2-16h0m1-7h0m0 22h0m1-21h0m0 9h0m0 5h0m0 3h0m1-20h0m0 20h0m2-8h0m0 8h0m0 1h0m1-12h0m0 10h0m1-21h0m0 4h0m0 11h0m1-13h0m0 6h0m0 11h0m0 2h0m2-12h0m1-5h0m1 9h0m2 0h0m2-11h0"/>
<path transform="scale(.1)" stroke="#df594e" stroke-width="10" stroke-linecap="square" d="M709 3851h0m0 3h0m1-6h0m2 6h0m2-4h0m0 2h0m1-8h0m1 1h0m2 2h0m0 6h0m2-3h0m3-3h0m0 4h0m0 3h0m1-12h0m0 5h0m1-12h0m0 13h0m1 2h0m0 1h0m1-8h0m2-8h0m0 14h0m0 5h0m1-26h0m0 1h0m0 4h0m0 12h0m1 5h0m1-15h0m0 2h0m0 11h0m1-26h0m0 11h0m0 13h0m1-24h0m0 8h0m1-5h0m0 3h0m0 1h0m0 6h0m0 1h0m0 9h0m0 6h0m3-5h0m1 7h0m1-26h0m0 17h0m1-16h0m0 23h0m1-4h0m1-24h0m0 5h0m0 14h0m0 4h0m0 6h0m0 2h0m1-20h0m0 17h0m1-25h0m0 17h0m1 0h0m0 11h0m1-7h0m2-24h0m1 7h0m0 1h0m0 22h0m2-27h0m0 25h0m2-24h0m1 0h0m0 27h0m1-17h0m0 8h0m0 4h0m0 2h0m1-14h0m0 13h0m1-25h0m0 2h0m0 10h0m0 4h0m1-10h0m0 6h0m1-12h0m0 10h0m0 11h0m1-14h0m0 8h0m0 4h0m1-11h0m1-11h0m0 7h0m0 1h0m1-7h0m0 16h0m1-16h0m0 6h0m2-2h0m1 3h0m1-2h0"/>
<path transform="scale(.1)" stroke="#e06156" stroke-width="10" stroke-linecap="square" d="M731 3818h0m0 4h0m4-11h0m1 5h0m0 5h0m3-12h0m0 12h0m2-14h0m1 9h0m1 3h0m1-29h0m1 16h0m0 9h0m0 1h0m1-23h0m0 24h0m1-23h0m0 25h0m3-2h0m1-13h0m0 13h0m1-23h0m0 22h0m2-19h0m0 14h0m0 2h0m1-13h0m0 6h0m1-17h0m0 8h0m0 9h0m1-5h0m0 13h0m0 8h0m1-32h0m1 8h0m0 16h0m1-24h0m0 3h0m0 16h0m0 11h0m1-16h0m0 1h0m0 4h0m0 2h0m1-12h0m0 4h0m0 10h0m0 7h0m1-2h0m1-22h0m1-4h0m0 9h0m0 12h0m1-15h0m0 20h0m1-24h0m0 4h0m0 6h0m3-5h0m0 11h0m1-20h0m0 25h0m1-1h0m1-18h0m0 12h0m2-17h0m1-2h0m1 7h0m0 22h0m2-16h0m0 9h0m1 0h0m1-8h0m3-6h0m0 5h0m6-10h0"/>
<path transform="scale(.1)" stroke="#e1695e" stroke-width="10" stroke-linecap="square" d="M748 3785h0m1 3h0m3-3h0m2-3h0m4-6h0m0 6h0m0 5h0m1-10h0m0 10h0m1-12h0m1 6h0m1-7h0m1-2h0m1 8h0m1 0h0m3-3h0m0 11h0m1-19h0m0 3h0m2-7h0m0 12h0m2 3h0m0 2h0m1-8h0m1 4h0m1-6h0m1-16h0m0 27h0m1-13h0m1 10h0m0 4h0m1 3h0m2-16h0m1 17h0m1-30h0m0 7h0m1 21h0m2-5h0m1-8h0m1-11h0m0 9h0m0 17h0m1-12h0m0 5h0m1-16h0m1 9h0m1-18h0m0 11h0m0 10h0m1-2h0m1-5h0m0 4h0m4-13h0m1 2h0m2-3h0m1-2h0m0 1h0m0 6h0m2-9h0"/>
<path transform="scale(.1)" stroke="#e37066" stroke-width="10" stroke-linecap="square" d="M781 3752h0m0 2h0m5-9h0m4-6h0m0 3h0m4-1h0m0 10h0m0 1h0m1-5h0m1-10h0m1 5h0m0 1h0m1-14h0m0 4h0m0 3h0m0 5h0m1-8h0m0 1h0m0 2h0m0 10h0m3-18h0m0 19h0m1-18h0m0 14h0m0 8h0m1-9h0m1-19h0m0 9h0m0 11h0m2-21h0m0 14h0m0 14h0m1-19h0m0 19h0m1-12h0m2 10h0m1-9h0m0 2h0m0 1h0m1-8h0m2 2h0m5-14h0m3 1h0"/>
<path transform="scale(.1)" stroke="#e4786e" stroke-width="10" stroke-linecap="square" d="M807 3718h0m1-1h0m1 1h0m1 3h0m3-10h0m1 7h0m1-3h0m2-5h0m1-4h0m0 10h0m1 1h0m2-2h0m0 1h0m1-13h0m2 8h0m0 6h0m0 4h0m1-11h0m1 0h0m3 0h0"/>
<path transform="scale(.1)" stroke="#e6a0a0" stroke-width="8" stroke-linecap="square" d="M843 3644h0m0 2h0m1 4h0m1-25h0m0 22h0m0 1h0m1-18h0m1 4h0m1 20h0m8-12h0m0 10h0m1-13h0m0 8h0m1 5h0m1-2h0m1-6h0m2-9h0m0 3h0m6 11h0m1-24h0m0 17h0m1 9h0m1-31h0m0 17h0m0 7h0m1-20h0m5 7h0m3 11h0m1-8h0m1-14h0m0 8h0m0 1h0m0 8h0m0 7h0m0 5h0m1-14h0m1-30h0m0 19h0m1 0h0m12 0h0m1 14h0m1-1h0m1-12h0m0 18h0m0 4h0m1-36h0m0 2h0m1 0h0m0 8h0m1 4h0m10 8h0m1 7h0m1-29h0m0 6h0m1 1h0m1-5h0m0 7h0m0 7h0m1-29h0m0 13h0m1 7h0m0 23h0m2-31h0m7 6h0m1 17h0m1-38h0m0 20h0m0 3h0m0 15h0m1-40h0m0 8h0m1-4h0m0 25h0m1-30h0m0 2h0m0 26h0m1-25h0m0 23h0m12 9h0m1-5h0m0 7h0m0 7h0m1-20h0m0 3h0m0 5h0m0 4h0m1-8h0m0 15h0m0 1h0m1-42h0m3 7h0m6-4h0m0 9h0m0 14h0m1-6h0m0 1h0m0 11h0m0 6h0m1 3h0m1-25h0m0 19h0m0 3h0m1-49h0m0 34h0m0 9h0m1-48h0m0 34h0m2-35h0m0 5h0m5 47h0m1-13h0m0 19h0m1-32h0m0 20h0m0 10h0m0 3h0m1-23h0m1-15h0m0 19h0m0 14h0m2-34h0m1-1h0m10 32h0m1 0h0m1-11h0m0 4h0m0 4h0m0 3h0m1-32h0m0 18h0m1-4h0m1-17h0m0 9h0m0 3h0m0 9h0m0 7h0m0 12h0m1-49h0m0 24h0m1-29h0m9 42h0m1-10h0m0 6h0m1-30h0m1-2h0m0 2h0m0 1h0m0 1h0m0 10h0m0 6h0m0 3h0m1-11h0m0 15h0m0 3h0m1-14h0m1 8h0m1-22h0m1-8h0m2 41h0m0 8h0m2-27h0m0 15h0m0 10h0m1-57h0m0 47h0m1-55h0m0 9h0m0 3h0m0 20h0m1-35h0m0 7h0m0 45h0m0 14h0m1-66h0m0 15h0m0 23h0m0 2h0m2-24h0m8 45h0m3 5h0m1-8h0m2-12h0m1 11h0m1-41h0m0 7h0m0 35h0m0 4h0m0 4h0m0 3h0m1-56h0m0 11h0m0 4h0m0 18h0m1-14h0m0 22h0"/>
<path transform="scale(.1)" stroke="#f6e2e2" stroke-width="10" stroke-linecap="square" d="M1072 3594h0m2-33h0m0 7h0m0 23h0m0 7h0m0 1h0m1 8h0m2-57h0m0 10h0m0 16h0m0 22h0m1-17h0m1-24h0m0 44h0m0 8h0m0 1h0m1-43h0m0 22h0m5-31h0m1 18h0m0 28h0m1-48h0m0 47h0m0 4h0m1-49h0m0 1h0m0 15h0m0 22h0m0 8h0m2-36h0m0 21h0m0 5h0m1-25h0m1 20h0m1-36h0m0 12h0m6 16h0m0 6h0m0 3h0m0 2h0m0 8h0m1 1h0m1-14h0m0 1h0m1 15h0m2-13h0m1 0h0m0 12h0m2-32h0m7 14h0m0 5h0m0 6h0m1-15h0m1 2h0m0 20h0m1 4h0m1-23h0m0 20h0m2-22h0m1-32h0m0 50h0m0 9h0m2-43h0m0 18h0m1 18h0m0 3h0m1-31h0m0 12h0m1-24h0m0 1h0m0 17h0m0 8h0m0 12h0m0 3h0m1-51h0m0 10h0m1 3h0m1 10h0"/>
<path transform="scale(.1)" stroke="#dfeaf5" stroke-width="10" stroke-linecap="square" d="M1179 3622h0m9 5h0m3-5h0m1-8h0m0 10h0m2-13h0m0 1h0m2-2h0m0 5h0m1 15h0m1-17h0m0 12h0m2-23h0m1-5h0m0 3h0m0 6h0m0 23h0m1-15h0m0 11h0m1-21h0m0 4h0m0 3h0m1 12h0m0 2h0m0 3h0m1-32h0m0 19h0m3-19h0m0 11h0m1-1h0m0 21h0m1 9h0m1-35h0m0 30h0m1-45h0m2 20h0m0 33h0m1-45h0m0 27h0m0 11h0m1-37h0m0 28h0m1-21h0m0 5h0m0 10h0m1-23h0m0 4h0m1 19h0m1-11h0m1-22h0m1 31h0m0 5h0m1-26h0m3-11h0m0 5h0m1-4h0m0 12h0m0 12h0m0 17h0m1-31h0m1-17h0m0 7h0m0 7h0m0 3h0m0 17h0m2-12h0m1-22h0m0 37h0m1-34h0m1 15h0m1-8h0m0 17h0m1-19h0m0 9h0m1-15h0m1 5h0m0 24h0m0 10h0m1-31h0m2-5h0m0 5h0m0 20h0m1-17h0m1 1h0m1 2h0m0 16h0m0 4h0m1-16h0m0 13h0m1-36h0m0 16h0m1-9h0m0 9h0m3-16h0m0 17h0m1-1h0m1-16h0m0 29h0m2-21h0m1-10h0m0 1h0m0 20h0m0 3h0m1-2h0m0 3h0m1-18h0m0 13h0m0 10h0m1-28h0m1 24h0m1-2h0m1-1h0m1-19h0m2 15h0m2-14h0m1 8h0m4-15h0m0 1h0"/>
<path transform="scale(.1)" stroke="#bcd8ef" stroke-width="10" stroke-linecap="square" d="M1306 3573h0m40-114h0m8-86h0m1 127h0m1-58h0m11 17h0m1-2h0m1-7h0m1-25h0m0 16h0m1 11h0m1-26h0m0 14h0m0 13h0m0 12h0m0 12h0m1-70h0m0 20h0m0 1h0m0 21h0m1-15h0m0 4h0m0 16h0m0 4h0m0 24h0m1-16h0m1-19h0m0 35h0m1-109h0m0 13h0m0 16h0m0 29h0m0 5h0m0 1h0m0 1h0m0 16h0m1-19h0m0 6h0m0 2h0m0 2h0m0 33h0m0 7h0m0 4h0m1-39h0m0 12h0m0 7h0m0 10h0m1-72h0m0 39h0m0 3h0m0 16h0m0 11h0m0 1h0m0 23h0m1-85h0m0 11h0m0 12h0m0 6h0m0 17h0m0 19h0m1-51h0m0 27h0m0 1h0m0 11h0m1-59h0m0 34h0m0 1h0m0 21h0m1-36h0m0 25h0m0 13h0m0 33h0m1-68h0m1-24h0m0 11h0m0 59h0m0 17h0m1-88h0"/>
<path transform="scale(.1)" stroke="#b4d3ed" stroke-width="10" stroke-linecap="square" d="M1387 3489h0m0 4h0m0 7h0m1-93h0m0 15h0m0 2h0m0 5h0m1 25h0m0 8h0m0 7h0m0 17h0m0 14h0m1-79h0m0 21h0m0 11h0m0 5h0m0 22h0m0 5h0m0 5h0m0 7h0m0 9h0m1-79h0m0 29h0m0 5h0m0 19h0m0 33h0m1-103h0m0 6h0m0 12h0m0 49h0m0 17h0m1-97h0m0 17h0m0 61h0m0 14h0m0 7h0m0 12h0m1-89h0m0 57h0m0 35h0m0 2h0m1-118h0m0 4h0m0 53h0m0 17h0m0 17h0m1-83h0m0 4h0m0 1h0m0 27h0m0 45h0m0 23h0m1-107h0m0 10h0m0 30h0m0 18h0m0 17h0m0 58h0m1-81h0m0 3h0m0 14h0m0 30h0m0 10h0m1-104h0m0 42h0m0 41h0m0 7h0m0 30h0m1-119h0m0 55h0m0 40h0m0 16h0m1-121h0m0 70h0m1-38h0m0 9h0m0 29h0m0 1h0m0 50h0m1-119h0m0 12h0m0 17h0m0 43h0m0 4h0m0 31h0m0 2h0m0 5h0m0 12h0m0 2h0m0 2h0m1-51h0m0 1h0m0 20h0m0 5h0m0 7h0m1-110h0m0 30h0m0 39h0m0 4h0m0 19h0m0 31h0m0 26h0m1-145h0m0 68h0m0 8h0m0 45h0m0 6h0m1-120h0m0 16h0m0 63h0m0 12h0m0 6h0m1-122h0m0 42h0m0 7h0m0 20h0m0 4h0m1-2h0m0 38h0m0 8h0m0 34h0m1-142h0m0 102h0m0 19h0"/>
<path transform="scale(.1)" stroke="#acceeb" stroke-width="10" stroke-linecap="square" d="M1411 3385h0m0 10h0m0 10h0m0 15h0m0 65h0m0 24h0m1-79h0m0 48h0m0 31h0m0 12h0m1-123h0m0 40h0m1-39h0m0 20h0m0 20h0m0 31h0m1-55h0m0 89h0m0 13h0m0 15h0m1-92h0m0 23h0m1-41h0m0 14h0m0 30h0m0 23h0m0 7h0m0 6h0m1-113h0m0 38h0m0 35h0m0 1h0m0 2h0m0 41h0m0 1h0m1-89h0m0 21h0m0 40h0m0 9h0m0 48h0m1-145h0m0 21h0m0 24h0m0 35h0m0 56h0m1-132h0m0 54h0m0 8h0m0 78h0m0 10h0m1-116h0m0 7h0m0 13h0m0 71h0m0 17h0m1-144h0m0 4h0m0 39h0m0 64h0m0 8h0m0 3h0m1-110h0m0 9h0m0 12h0m0 35h0m0 2h0m0 5h0m0 60h0m0 3h0m1-124h0m0 14h0m0 40h0m0 42h0m0 7h0m0 1h0m1-128h0m0 1h0m0 56h0m0 13h0m0 16h0m0 19h0m0 49h0m1-182h0m0 26h0m0 19h0m0 2h0m0 17h0m0 64h0m0 29h0m0 32h0m1-158h0m0 6h0m0 49h0m0 13h0m0 1h0m0 81h0m0 1h0m1-154h0m0 42h0m0 60h0m0 2h0m0 8h0m0 8h0m0 17h0m1-86h0m0 10h0m0 12h0m0 20h0m0 71h0m1-107h0m0 11h0m0 7h0m0 4h0m0 9h0m0 7h0m0 28h0m0 2h0m0 21h0m0 8h0m1-143h0m0 3h0m0 13h0m0 9h0m0 8h0m0 17h0m0 24h0m0 22h0m0 21h0m0 24h0m1-124h0m0 15h0m0 4h0m0 4h0m0 18h0m0 4h0m0 13h0m0 14h0m0 9h0m0 10h0m0 29h0"/>
<path transform="scale(.1)" stroke="#a4cae9" stroke-width="10" stroke-linecap="square" d="M1434 3379h0m0 2h0m0 15h0m0 7h0m0 5h0m0 3h0m0 21h0m0 25h0m0 26h0m0 8h0m1-79h0m0 13h0m0 12h0m0 2h0m0 35h0m0 9h0m0 12h0m0 20h0m0 12h0m1-103h0m0 12h0m0 44h0m0 13h0m0 33h0m1-54h0m0 55h0m1-129h0m0 21h0m0 31h0m0 3h0m0 30h0m0 12h0m0 4h0m0 1h0m0 29h0m0 16h0m0 6h0m1-148h0m0 32h0m0 49h0m0 25h0m0 18h0m0 7h0m1-119h0m0 29h0m0 1h0m0 4h0m0 12h0m0 3h0m0 17h0m0 43h0m1-135h0m0 17h0m0 19h0m0 24h0m0 6h0m0 13h0m0 9h0m0 72h0m1-134h0m0 9h0m0 2h0m0 44h0m0 1h0m0 2h0m0 20h0m0 8h0m0 26h0m1-147h0m0 32h0m0 5h0m0 34h0m0 8h0m0 1h0m0 18h0m0 3h0m0 53h0m0 10h0m1-167h0m0 38h0m0 26h0m0 10h0m0 34h0m0 2h0m1-111h0m0 37h0m0 6h0m0 7h0m0 15h0m0 4h0m0 24h0m0 18h0m0 45h0m0 4h0m0 9h0m1-174h0m0 3h0m0 92h0m0 1h0m0 6h0m0 9h0m0 1h0m0 1h0m0 8h0m0 6h0m0 22h0m0 4h0m0 12h0m1-154h0m0 3h0m0 3h0m0 28h0m0 33h0m0 4h0m0 3h0m0 1h0m0 34h0m0 5h0m0 2h0m0 1h0m0 10h0m0 11h0m0 16h0m0 10h0m1-169h0m0 64h0m0 19h0m0 13h0m0 2h0m0 13h0m0 6h0m0 8h0m0 11h0m0 2h0m1-62h0m0 11h0m0 13h0m0 5h0m0 1h0m0 1h0m0 1h0m0 12h0m0 35h0m1-126h0m0 2h0m0 48h0m0 6h0m0 7h0m0 1h0m0 2h0m0 21h0m0 3h0m0 16h0m0 1h0m0 8h0m1-149h0m0 12h0m0 39h0m0 26h0m0 5h0m0 4h0m0 24h0m0 18h0m0 9h0m0 15h0m1-158h0m0 22h0m0 66h0m0 21h0m0 46h0m1-172h0m0 73h0m0 1h0m0 19h0m0 52h0m0 3h0m0 36h0m0 5h0m0 6h0m0 6h0m1-160h0m0 21h0m0 3h0m0 3h0m0 5h0m0 20h0m0 23h0m0 20h0m0 22h0m0 46h0m1-154h0m0 35h0m0 9h0m0 1h0m0 6h0m0 12h0m0 25h0m0 10h0m0 24h0m1-149h0m0 20h0m0 29h0m0 4h0m0 26h0m0 3h0m0 34h0m0 5h0m0 4h0m0 58h0m1-74h0"/>
<path transform="scale(.1)" stroke="#9cc5e7" stroke-width="10" stroke-linecap="square" d="M1457 3434h0m0 2h0m0 14h0m0 34h0m0 8h0m0 39h0m1-153h0m0 49h0m0 8h0m0 44h0m0 65h0m0 8h0m1-175h0m0 4h0m0 18h0m0 2h0m0 17h0m0 20h0m0 95h0m0 9h0m1-118h0m0 2h0m0 1h0m0 4h0m0 50h0m0 2h0m0 17h0m0 11h0m0 8h0m0 1h0m0 23h0m0 2h0m1-188h0m0 19h0m0 17h0m0 20h0m0 13h0m0 12h0m0 21h0m0 6h0m0 32h0m0 21h0m0 27h0m0 14h0m1-151h0m0 10h0m0 15h0m0 2h0m0 24h0m0 31h0m0 14h0m0 21h0m0 4h0m0 20h0m1-167h0m0 78h0m0 15h0m0 33h0m0 2h0m0 3h0m0 5h0m0 3h0m0 15h0m1-162h0m0 8h0m0 11h0m0 23h0m0 38h0m0 1h0m0 10h0m0 9h0m0 10h0m0 29h0m1-119h0m0 59h0m0 4h0m0 6h0m0 18h0m1-107h0m0 19h0m0 13h0m0 27h0m0 8h0m0 13h0m0 28h0m0 28h0m0 19h0m1-144h0m0 16h0m0 4h0m0 2h0m0 5h0m0 21h0m0 13h0m0 1h0m0 2h0m0 6h0m0 11h0m0 79h0m0 14h0m1-183h0m0 31h0m0 8h0m0 74h0m0 64h0m1-167h0m0 65h0m0 8h0m0 33h0m0 8h0m1-100h0m0 18h0m0 12h0m0 41h0m0 51h0m1-146h0m0 14h0m0 12h0m0 4h0m0 7h0m0 31h0m0 9h0m0 13h0m0 12h0m0 12h0m0 43h0m0 10h0m1-146h0m0 45h0m0 19h0m0 5h0m0 46h0m0 33h0m1-158h0m0 16h0m0 34h0m0 2h0m0 3h0m0 33h0m0 51h0m1-132h0m0 38h0m0 12h0m0 8h0m0 18h0m0 43h0m1-75h0m0 7h0m0 29h0m0 8h0m0 2h0m0 2h0m0 26h0m0 14h0m0 4h0m1-117h0m0 32h0m0 20h0m0 6h0m0 22h0m0 13h0m0 18h0m0 11h0m1-123h0m0 15h0m0 14h0m0 6h0m0 17h0m0 25h0m0 58h0m1-127h0m0 32h0m0 16h0m0 11h0m0 16h0m0 4h0m1-106h0m0 9h0m0 2h0m0 9h0m0 23h0m0 18h0m0 14h0m0 16h0m0 5h0m0 16h0m0 7h0m0 1h0m0 31h0m1-131h0m0 42h0m0 3h0m0 33h0"/>
<path transform="scale(.1)" stroke="#94c0e5" stroke-width="10" stroke-linecap="square" d="M1480 3393h0m0 18h0m1 21h0m0 24h0m0 14h0m0 19h0m0 23h0m0 1h0m1-83h0m0 7h0m0 15h0m0 16h0m0 26h0m0 50h0m1-108h0m0 5h0m0 1h0m0 26h0m0 5h0m0 2h0m0 9h0m0 52h0m0 7h0m1-155h0m0 3h0m0 7h0m0 15h0m0 33h0m0 7h0m0 6h0m0 3h0m0 19h0m1-96h0m0 6h0m0 23h0m0 5h0m0 20h0m0 2h0m0 4h0m0 12h0m0 49h0m0 7h0m0 26h0m1-152h0m0 21h0m0 21h0m0 9h0m0 29h0m0 4h0m0 7h0m1-86h0m0 54h0m0 1h0m0 21h0m0 5h0m0 36h0m0 29h0m1-145h0m0 1h0m0 15h0m0 14h0m0 66h0m0 2h0m0 8h0m0 6h0m0 3h0m0 2h0m0 1h0m1-122h0m0 37h0m0 33h0m0 13h0m0 34h0m0 1h0m0 12h0m1-90h0m0 15h0m0 86h0m1-129h0m0 45h0m0 4h0m0 21h0m0 25h0m0 1h0m0 32h0m1-120h0m0 12h0m0 14h0m0 3h0m0 2h0m0 11h0m0 11h0m1-64h0m0 14h0m0 3h0m0 6h0m0 17h0m0 26h0m0 3h0m0 26h0m0 24h0m0 33h0m1-99h0m0 2h0m0 8h0m0 24h0m0 11h0m0 22h0m0 16h0m1-93h0m0 7h0m0 6h0m0 33h0m0 6h0m0 5h0m0 32h0m1-109h0m0 10h0m0 57h0m0 5h0m0 16h0m0 8h0m0 9h0m0 3h0m1-126h0m0 12h0m0 3h0m0 7h0m1-30h0m0 25h0m0 24h0m0 1h0m0 3h0m0 13h0m0 4h0m0 4h0m0 22h0m1-72h0m0 63h0m0 11h0m0 9h0m0 10h0m0 3h0m0 4h0m1-82h0m0 9h0m0 19h0m0 9h0m0 33h0m1-110h0m0 5h0m0 8h0m0 9h0m0 14h0m0 22h0m0 38h0m0 17h0m1-152h0m0 107h0m0 18h0m0 6h0m0 11h0m0 15h0m0 2h0m1-29h0m0 19h0"/>
<path transform="scale(.1)" stroke="#8cbbe3" stroke-width="10" stroke-linecap="square" d="M1504 3332h0m0 84h0m0 14h0m0 2h0m0 13h0m0 36h0m1-49h0m0 28h0m0 9h0m1-137h0m0 148h0m0 11h0m0 9h0m0 2h0m1-97h0m0 34h0m0 1h0m0 46h0m1-51h0m1 48h0m0 23h0m1-82h0m0 18h0m0 8h0m0 2h0m0 13h0m0 3h0m1-46h0m1 18h0m0 31h0m1 4h0m0 43h0m1-47h0m2-60h0m0 35h0m0 10h0m1-41h0m7 65h0m2-83h0m1 87h0m22-32h0"/>
<path transform="scale(.1)" stroke="#b3d2ee" stroke-width="10" stroke-linecap="square" d="M1158 3789h0m29 24h0m3-12h0m8 29h0m3-18h0m3 16h0m1-5h0m1-19h0m0 13h0m1 9h0m2-3h0m1-8h0m0 1h0m0 7h0m1-19h0m0 5h0m0 19h0m0 6h0m1-19h0m0 12h0m1-23h0m0 27h0m1-30h0m1-2h0m0 34h0m1-18h0m0 9h0m0 8h0m1-43h0m0 13h0m0 21h0m1-25h0m0 18h0m0 4h0m0 2h0m0 9h0m1-40h0m0 29h0m0 6h0m0 13h0m1-47h0m1 6h0m0 13h0m0 10h0m0 16h0m0 1h0m1-21h0m0 6h0m0 8h0m1-34h0m1-1h0m0 14h0m0 13h0m0 1h0m0 6h0m0 11h0m1-58h0m0 18h0m0 11h0m0 6h0m0 18h0m1-54h0m0 47h0m0 3h0m1-45h0m0 8h0m0 4h0m0 10h0m1-9h0m0 2h0m1-9h0m0 7h0m0 5h0m0 7h0m0 20h0m1-20h0m0 20h0m0 13h0m1-39h0m0 13h0m0 7h0m1-23h0m0 11h0m0 2h0m0 5h0m0 2h0m1-32h0m0 4h0m0 28h0m0 22h0m1-49h0m0 14h0m0 9h0m1-30h0m0 19h0m0 3h0m0 12h0m0 4h0m0 3h0m1-40h0m0 25h0m0 4h0m2-20h0m0 3h0m0 1h0m0 17h0m0 6h0m0 17h0m1-53h0m0 8h0m0 2h0m1 23h0m1-17h0m0 2h0m0 2h0m0 9h0m0 13h0m0 1h0m0 4h0m0 4h0m1-23h0m0 24h0m1-35h0m0 9h0m0 14h0m0 14h0m1-31h0m0 17h0m0 15h0m0 8h0m1-68h0m0 15h0m0 24h0m0 7h0m1-32h0m0 10h0m0 10h0m0 23h0m1-53h0m0 1h0m0 40h0m0 48h0m1-81h0m0 18h0m0 19h0m0 7h0m1-38h0m0 10h0m0 1h0m0 17h0m0 6h0m1-24h0m0 15h0m0 20h0m1-57h0m0 4h0m0 10h0m1 11h0m0 15h0m0 13h0m1-51h0m0 9h0m0 18h0m0 13h0m0 13h0m0 1h0m1-46h0m0 28h0m0 9h0m0 4h0m1-35h0m0 3h0m0 3h0m0 4h0m0 7h0m0 4h0m0 19h0m1-51h0m0 21h0m0 4h0m1-26h0m0 17h0m0 33h0m1-55h0m0 12h0m0 25h0m1-7h0m0 14h0m1-11h0m0 13h0m1-14h0m0 32h0m1-62h0m0 22h0m0 10h0m0 9h0m1-40h0m0 10h0m0 10h0m0 1h0m1-31h0m0 48h0m0 16h0m1-45h0m0 17h0m0 7h0m0 6h0m0 8h0m1-48h0m0 32h0m0 3h0m0 5h0m0 1h0m0 21h0m1-37h0m0 25h0m1-49h0m0 10h0m0 1h0m0 23h0m1-28h0m0 18h0m0 24h0m1-40h0m1 5h0m0 20h0m1-28h0m0 8h0m0 3h0m1-16h0m0 16h0m0 3h0m0 7h0m0 5h0m0 3h0m0 13h0m1-44h0m0 4h0m0 6h0m0 33h0m1-15h0m0 5h0m1-34h0m0 43h0m1-43h0m0 10h0m0 11h0m0 1h0m1-18h0m1 5h0m0 23h0m0 13h0m1-36h0m0 10h0m0 11h0m0 3h0m0 12h0m1-37h0m1-6h0m0 1h0m1 0h0m0 9h0m0 12h0m0 4h0m1-2h0m0 8h0m1-26h0m0 2h0m0 20h0m1-22h0m0 7h0m0 2h0m0 1h0m0 5h0m1-21h0m0 22h0m0 8h0m1-20h0m0 2h0m0 10h0m0 5h0m1-33h0m0 37h0m1-32h0m0 19h0m0 9h0m1 34h0m1-41h0m2 2h0m1-22h0m2-6h0m15 34h0m0 33h0m1-25h0"/>
<path transform="scale(.1)" stroke="#8dbbe4" stroke-width="10" stroke-linecap="square" d="M1065 4207h0m1 1h0m1-21h0m1 10h0m1 10h0m1 3h0m1-44h0m1 25h0m0 16h0m1-34h0m0 18h0m0 13h0m1 5h0m0 4h0m1-43h0m0 16h0m0 9h0m2-2h0m0 11h0m1-20h0m0 4h0m0 13h0m2-7h0m0 2h0m0 5h0m1-19h0m0 20h0m1-56h0m0 29h0m2 10h0m0 29h0m1-20h0m0 9h0m1-31h0m0 36h0m1-60h0m0 9h0m0 26h0m1-56h0m0 75h0m0 3h0m0 13h0m1-77h0m0 13h0m0 36h0m0 18h0m0 6h0m1-59h0m0 5h0m0 9h0m0 8h0m1-7h0m1 15h0m0 4h0m1-85h0m0 56h0m0 17h0m0 10h0m0 24h0m0 2h0m1-70h0m0 29h0m0 15h0m0 9h0m1-58h0m0 23h0m0 25h0m0 18h0m1-28h0m1-33h0m0 7h0m0 3h0m0 4h0m1 26h0m1-60h0m0 40h0m1-26h0m0 49h0m2 2h0m0 27h0m1-49h0m0 2h0m1-23h0m1-31h0m1 55h0m2-88h0m0 59h0m1-38h0m0 48h0m0 2h0m0 1h0m0 23h0m1-51h0m0 35h0m1-19h0m0 7h0m0 13h0m1-93h0m0 55h0m0 20h0m1-29h0m1 0h0m0 20h0m0 8h0m0 18h0m1-56h0m0 13h0m0 8h0m0 11h0m0 26h0m1-90h0m0 28h0m1 5h0m0 45h0m0 6h0m1-47h0m0 4h0m0 13h0m0 17h0m0 17h0m1-53h0m0 4h0m0 14h0m1-48h0m1 17h0m0 11h0m0 7h0m0 30h0m1-52h0m0 45h0m1 5h0m1-60h0m0 20h0m0 80h0m1-116h0m0 31h0m1 3h0m1 18h0m1-12h0m0 20h0m0 13h0m1-62h0m0 7h0m0 1h0m0 8h0m0 5h0m1-4h0m1-11h0m0 56h0m1-48h0m0 26h0m1-45h0m0 3h0m0 8h0m0 8h0m0 2h0m0 15h0m0 18h0m1-76h0m0 19h0m0 72h0m0 1h0m2-103h0m0 18h0m0 63h0m1-7h0m0 19h0m1-106h0m0 27h0m0 28h0m0 9h0m0 8h0m0 21h0m1-82h0m0 25h0m0 6h0m0 29h0m0 3h0m2-43h0m1 35h0m0 1h0m0 6h0m1-53h0m0 13h0m0 39h0m0 1h0m1-70h0m0 24h0m0 57h0m1-86h0m0 36h0m0 12h0m0 22h0m0 16h0m1-46h0m1-18h0m0 3h0m1 0h0m0 26h0m1-51h0m0 8h0m0 61h0m1-36h0m0 1h0m0 26h0m1-28h0m0 5h0m0 22h0m0 5h0m1-47h0m0 23h0m0 10h0m0 3h0m0 12h0m1-84h0m0 14h0m0 16h0m0 5h0m0 65h0m1-63h0m0 13h0m1-57h0m0 10h0m0 29h0m1-15h0m0 45h0m1-68h0m0 7h0m0 1h0m0 52h0m1-45h0m0 40h0m0 6h0m1-7h0m1-31h0m0 3h0m0 1h0m0 20h0m0 61h0m1-79h0m0 17h0m0 12h0m0 2h0m0 29h0m1-44h0m0 43h0m1-64h0m0 13h0m0 37h0m1-88h0m0 25h0m1 8h0m0 10h0m0 12h0m1-75h0m0 66h0m1-41h0m1 36h0m0 24h0m2-66h0m0 1h0m0 15h0m0 40h0m1-38h0m0 10h0m0 2h0m1-24h0m0 6h0m0 58h0m1-77h0m0 13h0m0 9h0m1 54h0m1-66h0m0 9h0m1-22h0m0 5h0m0 20h0m1 5h0m0 24h0m0 4h0m1-65h0m0 5h0m0 48h0m1-36h0m0 17h0m1 10h0m1-44h0m0 4h0m0 30h0m0 3h0m0 4h0m0 14h0m1-44h0m0 46h0m1-3h0m1-49h0m0 1h0m1 19h0m0 9h0m1-21h0m1-14h0m0 6h0m1 82h0m1-57h0m1-15h0m0 17h0m0 33h0m1-57h0m0 2h0m1 24h0m1-32h0m1 28h0m1-5h0m2-18h0m2 17h0m3-9h0m4 15h0m8 22h0"/>
<path transform="scale(.1)" stroke="#88b7e2" stroke-width="10" stroke-linecap="square" d="M1195 3985h0m4-2h0m1 20h0m1-24h0m0 15h0m2-12h0m0 30h0m2-11h0m1-20h0m1 14h0m1-18h0m0 6h0m3-11h0m0 16h0m0 16h0m1 7h0m1-20h0m1-7h0m0 10h0m1-17h0m0 15h0m1-13h0m0 40h0m1-29h0m1 7h0m1 1h0m0 31h0m1-4h0m1-53h0m2 35h0m1-30h0m0 6h0m2-26h0m0 10h0m1 24h0m0 15h0m1 9h0m1-27h0m0 9h0m2-1h0m0 2h0m1-6h0m0 12h0m2-19h0m0 20h0m1-8h0m0 27h0m0 5h0m1-46h0m0 31h0m0 3h0m1-21h0m0 38h0m6-7h0m1 0h0m1-7h0m0 1h0m0 20h0m1-4h0m1-24h0m2-39h0m0 47h0m1-19h0m1 41h0m1-40h0m0 22h0m0 2h0m0 7h0m0 6h0m1-18h0m2 8h0m0 23h0m1-34h0m1-9h0m1 26h0m1-5h0m1-20h0m0 12h0m0 7h0m0 18h0m0 16h0m1-37h0m1 9h0m0 29h0m1-8h0m0 4h0m1-22h0m0 5h0m1-3h0m0 37h0m1-25h0m0 10h0m1-61h0m0 33h0m1-14h0m0 15h0m0 7h0m1 6h0m1-19h0m1-8h0m0 40h0m1-23h0m0 1h0m0 7h0m0 36h0m1-27h0m0 18h0m0 6h0m1-65h0m0 78h0m1-16h0m2 16h0m1-18h0m2-3h0m0 3h0m1-19h0m1 19h0m1-11h0m0 2h0m2-14h0m0 32h0m1-27h0m0 14h0m0 19h0m1-28h0m0 22h0m0 3h0m0 8h0m1-37h0m0 34h0m2-50h0m0 27h0m0 7h0m1 12h0m1-29h0m2-12h0m0 2h0m0 13h0m1 11h0m0 2h0m0 9h0m2-28h0m0 18h0m0 8h0m0 25h0m1-43h0m1-6h0m0 15h0m0 28h0m2-24h0m0 1h0m2 3h0m0 12h0m1-14h0m0 9h0m1-29h0m0 19h0m0 20h0m1 1h0m0 25h0m1-88h0m0 85h0m1-28h0m0 4h0m0 25h0m2-34h0m0 29h0m2-9h0m1-36h0m0 7h0m0 26h0m1-4h0m1-19h0m0 18h0m0 34h0m1-50h0m3 35h0m0 8h0m1-10h0m2-18h0m1 11h0m1-19h0m1 39h0m1-25h0m1 20h0m0 9h0m2-55h0m0 6h0m0 21h0m0 21h0m1-31h0m0 6h0m0 4h0m0 4h0m0 22h0m0 1h0m1-26h0m0 28h0m1-2h0m1-17h0m1-31h0m0 19h0m1 17h0m1-29h0m1 23h0m0 7h0m0 9h0m2-19h0m0 23h0m2 0h0m1-26h0m4 15h0m1-17h0m0 25h0m4-6h0m3-1h0m3-2h0m6-15h0"/>
<path transform="scale(.1)" stroke="#4f8ecd" stroke-width="10" stroke-linecap="square" d="M1020 4315h0m1 1h0m1-21h0m0 26h0m0 6h0m0 4h0m1-41h0m0 3h0m0 6h0m0 13h0m0 4h0m0 22h0m1-39h0m0 17h0m0 9h0m1-3h0m0 20h0m1-43h0m0 25h0m0 21h0m0 3h0m1-40h0m1-31h0m0 19h0m0 34h0m0 5h0m0 4h0m0 13h0m0 5h0m1-28h0m0 12h0m0 8h0m0 5h0m1-16h0m0 16h0m0 7h0m1-80h0m0 10h0m0 14h0m0 12h0m0 1h0m0 4h0m0 13h0m1-59h0m0 8h0m0 7h0m0 63h0m1-82h0m0 9h0m0 2h0m0 9h0m0 4h0m0 11h0m0 2h0m0 1h0m0 3h0m1-6h0m0 18h0m0 41h0m1-101h0m0 1h0m0 5h0m0 39h0m0 4h0m0 8h0m0 4h0m0 6h0m1-73h0m0 59h0m0 5h0m1-66h0m0 19h0m0 18h0m0 1h0m0 17h0m0 17h0m1-25h0m0 10h0m0 11h0m0 7h0m0 4h0m0 22h0m1-91h0m0 8h0m0 37h0m0 30h0m0 14h0m1-93h0m0 17h0m0 23h0m0 35h0m0 11h0m0 9h0m0 3h0m0 11h0m1-115h0m0 11h0m0 23h0m0 7h0m0 29h0m0 6h0m0 14h0m0 3h0m0 9h0m0 2h0m0 14h0m1-120h0m0 1h0m0 6h0m0 1h0m0 27h0m0 25h0m0 19h0m0 12h0m0 17h0m1-94h0m0 1h0m0 4h0m0 9h0m0 32h0m0 10h0m0 16h0m0 2h0m0 34h0m1-125h0m0 100h0m0 11h0m1-112h0m0 8h0m0 20h0m0 10h0m0 26h0m0 10h0m0 7h0m0 1h0m0 5h0m0 7h0m0 5h0m0 12h0m0 18h0m1-117h0m0 9h0m0 9h0m0 3h0m0 1h0m0 21h0m0 23h0m0 25h0m0 2h0m0 23h0m1-104h0m0 9h0m0 26h0m0 7h0m0 2h0m0 1h0m0 10h0m1-80h0m0 39h0m0 3h0m0 31h0m0 27h0m0 14h0m1-81h0m0 16h0m0 8h0m0 2h0m0 5h0m0 16h0m0 16h0m0 20h0m0 19h0m1-132h0m0 2h0m0 32h0m0 7h0m0 6h0m0 31h0m0 1h0m0 3h0m0 10h0m0 41h0m1-135h0m0 10h0m0 10h0m0 7h0m0 7h0m0 1h0m0 12h0m0 6h0m0 18h0m0 22h0m0 3h0m0 4h0m0 22h0m1-101h0m0 6h0m0 14h0m0 27h0m0 12h0m0 6h0m0 7h0m0 15h0m0 9h0m0 1h0m1-111h0m0 3h0m0 18h0m0 17h0m0 12h0m0 5h0m0 5h0m0 10h0m0 16h0m0 12h0m0 8h0m0 1h0m0 9h0m1-124h0m0 2h0m0 52h0m0 11h0m0 9h0m0 13h0m1-93h0m0 9h0m0 44h0m0 40h0m0 5h0m0 4h0m0 14h0m0 10h0m0 3h0m1-87h0m0 26h0m0 5h0m0 16h0m0 4h0m0 13h0m0 22h0m0 2h0m1-112h0m0 6h0m0 10h0m0 44h0m0 5h0m0 6h0m0 26h0m0 16h0m1-88h0m0 6h0m0 7h0m0 18h0m0 1h0m0 9h0m0 10h0m0 5h0m0 11h0m0 17h0m1-90h0m0 29h0m0 6h0m0 11h0m0 51h0m1-116h0m0 2h0m0 12h0m0 3h0m0 24h0m0 6h0m0 2h0m0 9h0m0 22h0m0 4h0m1-101h0m0 4h0m0 5h0m0 11h0m0 14h0m0 3h0m0 3h0m0 43h0m0 24h0m0 14h0m0 3h0m1-124h0m0 2h0m0 22h0m0 13h0m0 6h0m0 11h0m0 1h0m0 5h0m0 2h0m0 4h0m0 14h0m0 28h0m0 14h0m0 12h0m1-50h0m0 14h0m0 10h0m0 27h0m1-97h0m0 11h0m0 7h0m0 4h0m0 9h0m0 18h0m0 21h0m0 20h0m1-126h0m0 4h0m0 7h0m0 2h0m0 6h0m0 1h0m0 21h0m0 59h0m1-102h0m0 21h0m0 8h0m0 16h0m0 22h0m0 18h0m0 51h0m0 7h0m1-120h0m0 2h0m0 22h0m0 6h0m0 9h0m0 6h0m0 12h0m0 4h0m0 3h0m0 1h0m0 5h0m1-48h0m0 10h0m0 29h0m0 15h0m0 8h0m0 33h0m1-131h0m0 26h0m0 16h0m0 11h0m0 19h0m0 4h0m0 11h0m0 16h0m0 24h0m0 3h0m1-141h0m0 22h0m0 25h0m0 36h0m0 1h0m0 2h0m0 6h0m0 27h0m0 2h0m0 3h0m1-106h0m0 38h0m0 3h0m0 5h0m0 9h0m0 18h0m0 8h0m0 17h0m1-81h0m0 10h0m0 7h0m0 21h0m0 5h0m0 3h0m0 4h0m0 6h0m0 45h0m1-137h0m0 11h0m0 24h0m0 24h0m0 13h0m0 6h0m0 28h0m1-103h0m0 1h0m0 3h0m0 2h0m0 23h0m0 3h0m0 5h0m0 3h0m0 3h0m0 5h0m0 10h0m0 13h0m0 3h0m0 16h0m0 22h0m0 9h0m0 7h0m0 4h0m0 2h0m1-111h0m0 12h0m0 54h0m0 28h0m0 21h0m1-138h0m0 13h0m0 4h0m0 9h0m0 10h0m0 18h0m0 21h0m0 29h0m0 8h0m0 15h0m1-114h0m0 1h0m0 5h0m0 27h0m0 4h0m0 8h0m0 39h0m0 9h0m0 5h0m1-104h0m0 18h0m0 21h0m0 9h0m0 7h0m0 31h0m0 21h0m0 10h0m0 3h0m0 2h0m0 2h0m0 1h0m1-113h0m0 14h0m0 20h0m0 11h0m0 4h0m0 12h0m0 1h0m0 25h0m1-92h0m0 10h0m0 14h0m0 8h0m0 22h0m0 23h0m0 10h0m1-97h0m0 8h0m0 4h0m0 5h0m0 6h0m0 14h0m0 8h0m0 37h0m0 28h0m0 23h0m1-125h0m0 11h0m0 1h0m0 4h0m0 4h0m0 27h0m0 17h0m0 24h0m0 3h0m0 21h0m1-119h0m0 8h0m0 43h0m0 15h0m0 43h0m1-65h0m0 9h0m0 3h0m0 3h0m0 15h0m0 1h0m0 30h0m1-93h0m0 15h0m0 24h0m0 32h0m0 15h0m0 1h0m0 24h0m0 8h0m1-117h0m0 8h0m0 44h0m0 3h0m0 26h0m0 34h0m1-115h0m0 28h0m0 3h0m0 1h0m0 31h0m0 4h0m0 24h0m0 10h0m0 6h0m0 7h0m1-114h0m0 14h0m0 14h0m0 14h0m0 17h0m0 1h0m0 48h0m1-110h0m0 8h0m0 38h0m0 6h0m1-56h0m0 2h0m0 6h0m0 2h0m0 19h0m0 12h0m0 6h0m0 13h0m0 1h0m0 12h0m0 9h0m0 14h0m0 17h0m1-109h0m0 23h0m0 14h0m0 5h0m0 51h0m0 8h0m0 8h0m0 2h0m1-107h0m0 62h0m1-46h0m0 6h0m0 4h0m0 15h0m0 9h0m0 1h0m0 33h0m0 15h0m0 6h0m1-68h0m0 39h0m0 27h0m1-89h0m0 26h0m0 7h0m0 2h0m0 3h0m0 12h0m0 19h0m0 19h0m0 1h0m1-105h0m0 2h0m0 5h0m0 8h0m0 15h0m1 4h0m0 4h0m0 9h0m0 6h0m0 27h0m0 1h0m1-51h0m0 3h0m0 2h0m0 3h0m0 4h0m0 2h0m0 1h0m0 41h0m1-84h0m0 17h0m0 28h0m0 11h0m0 6h0m1-33h0m0 17h0m0 18h0m0 3h0m1-49h0m0 15h0m0 20h0m0 6h0m1-22h0m0 4h0m0 9h0m0 9h0m0 24h0m1-66h0m0 2h0m0 16h0m0 36h0m0 10h0m1-26h0m0 7h0m0 3h0m0 9h0m2-53h0m0 36h0m1-20h0m0 4h0m2-8h0m1 19h0m0 3h0"/>
<path transform="scale(.1)" stroke="#5a96d1" stroke-width="10" stroke-linecap="square" d="M1014 4311h0m0 2h0m0 5h0m0 3h0m1 11h0m1-36h0m0 8h0m0 8h0m0 27h0m1-55h0m0 29h0m0 12h0m1-30h0m0 23h0m0 19h0m1 7h0m0 4h0m0 2h0m1-53h0m0 44h0m0 3h0m0 7h0m1-8h0m0 5h0m0 3h0m0 9h0m2-85h0m0 81h0m0 4h0m1-14h0m1-83h0m0 90h0m0 3h0m1-83h0m1-10h0m0 11h0m0 91h0m2 10h0m1-6h0m0 7h0m1-121h0m1 124h0m1-120h0m0 112h0m1-113h0m2-8h0m1-5h0m0 4h0m0 126h0m0 7h0m2-134h0m2-1h0m1 136h0m1 3h0m1-147h0m0 149h0m1-148h0m0 154h0m2-157h0m0 149h0m1 0h0m1-150h0m0 160h0m2-153h0m0 150h0m0 4h0m1-7h0m1-151h0m3-1h0m0 3h0m0 157h0m2-162h0m0 154h0m0 1h0m0 2h0m2-159h0m2 1h0m0 2h0m0 1h0m1-2h0m4 162h0m1 1h0m1-169h0m1 0h0m1 3h0m1-1h0m1 159h0m1-2h0m2-155h0m0 2h0m1 162h0m2-156h0m2 0h0m0 2h0m0 147h0m1-152h0m0 4h0m4 0h0m0 142h0m0 3h0m0 4h0m2-149h0m2 138h0m1-136h0m0 3h0m0 4h0m2-8h0m1 0h0m1 128h0m0 2h0m1-113h0m0 120h0m1-132h0m0 122h0m0 9h0m2-121h0m1 108h0m1-5h0m1-107h0m0 7h0m0 97h0m1 13h0m1-104h0m2-3h0m0 9h0m0 90h0m1-9h0m0 7h0m1-93h0m0 4h0m1 6h0m0 62h0m1-57h0m0 1h0m0 8h0m0 11h0m0 29h0m0 5h0m0 11h0m1-37h0m0 8h0m0 22h0m0 5h0m1-56h0m0 21h0m0 5h0m0 1h0m0 8h0m0 16h0m1-35h0m0 37h0m1-30h0m0 1h0m1-3h0m0 12h0"/>
<path transform="scale(.1)" stroke="#669ed5" stroke-width="10" stroke-linecap="square" d="M1008 4304h0m0 24h0m1-38h0m0 23h0m0 17h0m1-1h0m0 9h0m0 3h0m1-33h0m0 1h0m0 4h0m0 9h0m1-42h0m0 12h0m1-16h0m0 25h0m0 2h0m0 3h0m0 7h0m0 19h0m0 25h0m1-83h0m0 15h0m0 63h0m1-74h0m0 14h0m0 68h0m1-86h0m0 73h0m1-73h0m0 3h0m1-8h0m0 89h0m0 10h0m2-100h0m0 104h0m1-108h0m2-11h0m4-4h0m0 126h0m1 2h0m1 7h0m1-133h0m1-4h0m0 1h0m0 138h0m1-147h0m0 8h0m0 143h0m1 1h0m1-1h0m2-151h0m0 147h0m1-144h0m1-8h0m0 4h0m1 151h0m0 7h0m1-157h0m0 157h0m1-3h0m0 4h0m0 5h0m4-2h0m3 1h0m0 1h0m4-1h0m1 6h0m1-178h0m5 177h0m1-4h0m1-175h0m5-1h0m2 184h0m2-8h0m1-2h0m0 10h0m1-181h0m3 179h0m1-177h0m0 172h0m0 3h0m2-3h0m1-4h0m0 8h0m0 1h0m1-179h0m2 167h0m2-164h0m0 168h0m2-1h0m3 3h0m1-6h0m1-161h0m0 157h0m1 0h0m3-154h0m0 147h0m1 4h0m0 2h0m1-148h0m1 5h0m0 138h0m0 3h0m1-145h0m0 6h0m0 133h0m1-5h0m3-124h0m1 2h0m1-10h0m0 10h0m0 117h0m1-118h0m0 123h0m1-7h0m0 1h0m0 3h0m0 4h0m1-17h0m0 7h0m1-101h0m0 91h0m0 5h0m0 2h0m2-106h0m0 9h0m0 84h0m0 4h0m1 7h0m1-95h0m0 10h0m0 69h0m2-73h0m0 20h0m0 46h0m0 10h0m1-69h0m0 8h0m0 2h0m0 21h0m0 19h0m1-37h0m0 3h0m0 20h0m0 17h0m1-23h0m0 3h0m1-17h0m0 15h0m1-8h0m0 36h0m1-30h0m1 0h0m0 16h0"/>
<path transform="scale(.1)" stroke="#71a6da" stroke-width="10" stroke-linecap="square" d="M1003 4326h0m0 5h0m0 1h0m1-19h0m0 26h0m1-12h0m1-30h0m1-2h0m1 54h0m0 9h0m1-13h0m0 8h0m2-76h0m0 83h0m0 3h0m3 1h0m1-105h0m1 4h0m1-8h0m0 2h0m0 3h0m3 126h0m1-135h0m1-2h0m6 152h0m3-5h0m0 2h0m3-2h0m0 4h0m1 8h0m2-6h0m2 9h0m2 1h0m1-6h0m2 4h0m2 6h0m1-9h0m2 1h0m0 1h0m0 3h0m4 1h0m1 3h0m3 1h0m6 3h0m2-6h0m0 4h0m2-4h0m0 6h0m1-2h0m3-209h0m0 7h0m0 202h0m6-203h0m2 201h0m2-3h0m1-192h0m0 190h0m1-2h0m0 1h0m0 1h0m2-2h0m3-2h0m0 5h0m3-7h0m2-2h0m1-172h0m3 168h0m2-2h0m1 2h0m2-3h0m1-5h0m0 6h0m1-8h0m2-1h0m1 4h0m1-1h0m1-14h0m1 4h0m1 2h0m1-2h0m2-1h0m1-11h0m0 9h0m6-33h0m2-25h0m0 5h0m0 9h0m0 1h0"/>
<path transform="scale(.1)" stroke="#7cafde" stroke-width="10" stroke-linecap="square" d="M999 4315h0m4 43h0m3 13h0m1-3h0m0 5h0m1 0h0m1 10h0m2-4h0m2 5h0m0 6h0m3-3h0m2 11h0m2 5h0m1-1h0m2 2h0m4 6h0m1-1h0m2 6h0m3 0h0m3-2h0m0 3h0m1-196h0m6 199h0m5 2h0m1 2h0m1 1h0m7-2h0m0 1h0m1-215h0m0 218h0m4-5h0m3 4h0m1-2h0m14 5h0m26-30h0m2-169h0m21 95h0m2 10h0"/>
<path transform="scale(.1)" stroke="#88b7e2" stroke-width="10" stroke-linecap="square" d="M993 4316h0m15 69h0m1-141h0m73 186h0m5-233h0m13 225h0m1-215h0m4 7h0m29 62h0m0 5h0m1 25h0"/>
<path transform="scale(.1)" stroke="#93bfe6" stroke-width="10" stroke-linecap="square" d="M958 4251h0m26 154h0m4-66h0m6 85h0m10-223h0m2 248h0m4-15h0m11 7h0m1-291h0m1 1h0m1 279h0m5 26h0m9-2h0m7-297h0m12-22h0m4 30h0m32 331h0m25-287h0m2-141h0m16 382h0m9-47h0m8-176h0m19 43h0"/>
<path transform="scale(.1)" stroke="#4b8bcb" stroke-width="10" stroke-linecap="square" d="M1362 4233h0m0 11h0m0 2h0m1-2h0m0 7h0m2-7h0m0 6h0m1-39h0m0 30h0m0 9h0m0 9h0m1-51h0m0 2h0m0 4h0m0 5h0m0 18h0m0 1h0m0 6h0m0 9h0m1-44h0m0 2h0m0 12h0m0 10h0m0 1h0m0 33h0m1-47h0m1-17h0m0 4h0m0 6h0m1 11h0m0 17h0m0 1h0m0 15h0m0 7h0m0 9h0m1-70h0m0 2h0m0 40h0m0 6h0m1-53h0m0 3h0m0 22h0m0 9h0m0 6h0m0 9h0m0 13h0m0 13h0m1-46h0m0 6h0m1-40h0m0 16h0m0 9h0m0 13h0m0 3h0m0 7h0m0 15h0m0 1h0m0 1h0m0 18h0m1-78h0m0 15h0m0 29h0m0 2h0m1-50h0m0 15h0m0 13h0m0 4h0m0 26h0m0 27h0m1-67h0m0 7h0m0 6h0m0 43h0m0 1h0m0 2h0m1-83h0m0 14h0m0 12h0m0 3h0m1-28h0m0 48h0m0 40h0m1-83h0m0 16h0m0 16h0m0 14h0m0 29h0m1-66h0m0 40h0m0 23h0m0 2h0m0 5h0m0 2h0m0 4h0m1-96h0m0 17h0m0 5h0m0 9h0m1-15h0m0 29h0m0 1h0m0 3h0m0 2h0m0 2h0m0 2h0m0 42h0m1-98h0m0 16h0m0 9h0m0 8h0m0 25h0m0 27h0m0 9h0m1-95h0m0 14h0m0 34h0m0 50h0m1-96h0m0 1h0m0 10h0m0 5h0m0 6h0m0 2h0m0 33h0m0 49h0m1-44h0m0 16h0m0 9h0m1-85h0m0 15h0m0 20h0m0 6h0m0 1h0m0 2h0m0 26h0m0 6h0m1-79h0m0 32h0m0 17h0m0 6h0m0 5h0m0 3h0m0 15h0m0 3h0m0 4h0m0 9h0m1-91h0m0 37h0m0 36h0m0 12h0m0 22h0m1-109h0m0 2h0m0 7h0m0 21h0m0 3h0m0 6h0m0 6h0m0 47h0m0 7h0m1-103h0m0 6h0m0 16h0m0 1h0m0 18h0m0 17h0m0 5h0m0 6h0m0 2h0m0 3h0m1-77h0m0 30h0m0 13h0m0 3h0m0 8h0m0 17h0m0 44h0m0 4h0m1-121h0m0 12h0m0 8h0m0 2h0m0 7h0m0 15h0m0 1h0m0 2h0m0 4h0m0 9h0m0 24h0m0 5h0m0 4h0m0 26h0m1-87h0m0 35h0m0 2h0m0 27h0m0 10h0m0 1h0m1-109h0m0 7h0m0 9h0m0 27h0m0 3h0m0 4h0m0 1h0m0 18h0m0 16h0m0 13h0m1-92h0m0 8h0m0 10h0m0 9h0m0 18h0m0 18h0m0 8h0m0 8h0m0 5h0m0 2h0m0 34h0m1-82h0m0 2h0m0 4h0m0 6h0m0 10h0m0 6h0m0 23h0m0 17h0m0 4h0m0 7h0m0 3h0m1-121h0m0 4h0m0 32h0m0 1h0m0 14h0m0 19h0m0 6h0m0 4h0m0 10h0m0 11h0m0 17h0m1-118h0m0 6h0m0 16h0m0 4h0m0 7h0m0 7h0m0 3h0m0 6h0m0 3h0m0 2h0m0 7h0m0 32h0m1-74h0m0 3h0m0 1h0m0 19h0m0 31h0m0 13h0m0 27h0m1-105h0m0 16h0m0 1h0m0 17h0m0 30h0m0 29h0m0 7h0m0 3h0m1-119h0m0 31h0m0 18h0m0 5h0m0 5h0m0 8h0m0 2h0m0 1h0m0 24h0m0 24h0m1-87h0m0 10h0m0 4h0m0 14h0m0 5h0m0 14h0m0 3h0m1-71h0m0 10h0m0 10h0m0 5h0m0 11h0m0 43h0m0 20h0m0 17h0m0 3h0m1-126h0m0 32h0m0 2h0m0 37h0m0 19h0m1-94h0m0 28h0m0 14h0m0 54h0m0 34h0m1-119h0m0 1h0m0 24h0m0 10h0m0 2h0m0 28h0m0 57h0m1-132h0m0 6h0m0 11h0m0 2h0m0 11h0m0 3h0m0 3h0m0 1h0m0 4h0m0 21h0m0 10h0m0 8h0m0 15h0m1-52h0m0 8h0m0 15h0m0 26h0m0 9h0m0 22h0m0 6h0m1-125h0m0 9h0m0 25h0m0 5h0m0 8h0m0 15h0m0 1h0m0 18h0m1-49h0m0 8h0m0 18h0m0 7h0m0 42h0m0 23h0m1-118h0m0 13h0m0 16h0m0 3h0m0 3h0m0 3h0m0 10h0m0 7h0m0 2h0m0 57h0m1-133h0m0 3h0m0 46h0m0 64h0m0 16h0m1-125h0m0 3h0m0 1h0m0 29h0m0 6h0m0 1h0m0 11h0m0 7h0m0 2h0m0 11h0m0 35h0m1-86h0m0 31h0m0 21h0m0 7h0m0 48h0m0 4h0m1-133h0m0 14h0m0 11h0m0 42h0m0 8h0m0 4h0m0 1h0m0 35h0m1-117h0m0 1h0m0 15h0m0 11h0m0 10h0m0 7h0m0 24h0m0 12h0m0 1h0m0 14h0m0 2h0m0 9h0m0 8h0m1-99h0m0 19h0m0 19h0m0 7h0m0 59h0m0 3h0m1-97h0m0 2h0m0 3h0m0 3h0m0 17h0m0 5h0m0 1h0m0 6h0m0 25h0m0 17h0m0 1h0m0 2h0m0 21h0m1-118h0m0 3h0m0 10h0m0 19h0m0 8h0m0 2h0m0 15h0m0 2h0m0 28h0m0 5h0m0 26h0m1-105h0m0 4h0m0 36h0m0 6h0m0 11h0m0 39h0m1-107h0m0 25h0m0 6h0m0 13h0m0 7h0m0 21h0m0 6h0m0 26h0m0 8h0m0 6h0m1-131h0m0 20h0m0 20h0m0 7h0m0 2h0m0 1h0m0 4h0m0 8h0m0 3h0m0 21h0m0 1h0m0 23h0m0 2h0m0 22h0m0 5h0m1-129h0m0 11h0m0 57h0m0 18h0m0 16h0m0 29h0m1-112h0m0 2h0m0 48h0m0 18h0m0 24h0m0 2h0m0 4h0m1-116h0m0 28h0m0 4h0m0 12h0m0 10h0m0 16h0m1-30h0m0 2h0m0 22h0m0 7h0m0 10h0m0 18h0m0 12h0m0 7h0m0 11h0m1-129h0m0 66h0m0 17h0m0 11h0m0 13h0m1-106h0m0 8h0m0 30h0m0 15h0m0 8h0m0 3h0m0 7h0m0 12h0m0 6h0m0 29h0m0 5h0m0 6h0m1-137h0m0 66h0m0 17h0m0 12h0m0 21h0m0 16h0m0 3h0m0 2h0m1-129h0m0 6h0m0 4h0m0 6h0m0 7h0m0 101h0m1-130h0m0 12h0m0 5h0m0 22h0m0 8h0m0 1h0m0 24h0m0 15h0m0 45h0m0 2h0m1-137h0m0 65h0m0 2h0m0 5h0m0 21h0m0 15h0m0 9h0m1-84h0m0 31h0m0 21h0m0 46h0m0 5h0m1-133h0m0 17h0m0 10h0m0 6h0m0 1h0m0 19h0m0 1h0m0 17h0m0 34h0m1-102h0m0 10h0m0 4h0m0 10h0m0 14h0m0 17h0m0 30h0m0 11h0m0 8h0m0 1h0m1-97h0m0 16h0m0 12h0m0 2h0m0 12h0m0 10h0m0 6h0m0 5h0m0 28h0m0 6h0m1-111h0m0 16h0m0 13h0m0 36h0m0 38h0m1-94h0m0 5h0m0 53h0m0 35h0m0 22h0m0 3h0m0 5h0m1-133h0m0 2h0m0 7h0m0 21h0m0 20h0m0 11h0m0 4h0m0 20h0m0 1h0m0 10h0m0 3h0m0 16h0m0 5h0m1-113h0m0 9h0m0 33h0m0 3h0m0 23h0m0 3h0m0 5h0m0 28h0m0 15h0m1-61h0m0 11h0m0 17h0m0 5h0m0 16h0m0 2h0m1-104h0m0 2h0m0 5h0m0 32h0m0 15h0m0 8h0m0 7h0m0 1h0m0 4h0m0 23h0m0 16h0m0 2h0m1-120h0m0 51h0m0 32h0m0 20h0m0 18h0m1-109h0m0 39h0m0 3h0m0 2h0m0 22h0m0 17h0m0 16h0m0 9h0m1-124h0m0 17h0m0 25h0m0 13h0m0 7h0m0 53h0m0 10h0m1-121h0m0 20h0m0 3h0m0 2h0m0 4h0m0 1h0m0 3h0m0 12h0m0 18h0m0 27h0m0 6h0m0 13h0m1-109h0m0 1h0m0 42h0m0 45h0m0 7h0m0 3h0m0 10h0m1-109h0m0 4h0m0 8h0m0 20h0m0 19h0m0 4h0m0 9h0m0 14h0m0 6h0m0 41h0m1-122h0m0 30h0m0 34h0m0 26h0m0 5h0m0 16h0m0 7h0m0 2h0m1-120h0m0 29h0m0 11h0m0 1h0m0 15h0m0 30h0m0 21h0m0 13h0m1-112h0m0 1h0m0 21h0m0 5h0m0 35h0m0 25h0m0 27h0m1-126h0m0 14h0m0 3h0m0 10h0m0 11h0m0 13h0m0 10h0m1-45h0m0 4h0m0 35h0m0 23h0m1-2h0m0 39h0m1-90h0m0 17h0m0 14h0m0 12h0m0 4h0m0 17h0m0 12h0m1-91h0m0 7h0m0 8h0m0 12h0m0 5h0m0 67h0m1-101h0m0 2h0m0 4h0m0 44h0m0 7h0m0 49h0m1-108h0m0 10h0m0 40h0m0 40h0m1-81h0m0 52h0m0 20h0m0 5h0m1-35h0m0 24h0m1-71h0m0 25h0m0 8h0m0 71h0m1-92h0m0 12h0m0 13h0m0 43h0m1-46h0m0 13h0m0 3h0m0 14h0m0 20h0m0 10h0m0 1h0m0 12h0m1-92h0m0 3h0m0 71h0m0 4h0m0 8h0m1-101h0m0 5h0m0 5h0m0 18h0m0 18h0m0 10h0m0 5h0m0 22h0m0 22h0m1-79h0m0 16h0m0 20h0m0 10h0m0 3h0m0 3h0m0 5h0m0 22h0m1-62h0m0 2h0m0 10h0m0 33h0m0 4h0m1-46h0m0 25h0m0 14h0m0 6h0m1-79h0m0 5h0m0 5h0m0 10h0m0 4h0m0 54h0m1-79h0m1 2h0m0 18h0m0 15h0m1-2h0m0 7h0m0 40h0m1-80h0m0 14h0m0 34h0m1-34h0m0 13h0m0 23h0m0 31h0m1-60h0m0 13h0m0 7h0m0 15h0m0 16h0m1-26h0m0 1h0m0 11h0m1-42h0m0 21h0m0 7h0m0 6h0m0 11h0m1-18h0m0 24h0m0 3h0m0 6h0m1-40h0m1-21h0m0 5h0m0 29h0m0 4h0m0 3h0m1-22h0m0 9h0m0 20h0m1-28h0m0 18h0m0 10h0m2-22h0"/>
<path transform="scale(.1)" stroke="#5794d0" stroke-width="10" stroke-linecap="square" d="M1354 4232h0m0 6h0m2-10h0m0 2h0m0 21h0m0 1h0m0 9h0m1-53h0m0 33h0m0 19h0m0 5h0m1-18h0m1-45h0m0 3h0m0 48h0m1-25h0m0 15h0m0 14h0m0 6h0m1-51h0m0 15h0m0 25h0m1-51h0m0 7h0m0 12h0m0 3h0m1-20h0m0 3h0m0 4h0m0 1h0m0 7h0m0 46h0m0 9h0m1-74h0m0 67h0m0 12h0m1-84h0m1 70h0m1 2h0m0 5h0m0 2h0m0 8h0m1-82h0m0 79h0m0 5h0m1-1h0m2-89h0m1-12h0m0 96h0m1-89h0m1 1h0m0 1h0m1 91h0m1-96h0m0 108h0m0 1h0m2-114h0m0 111h0m1-107h0m3 105h0m0 1h0m0 7h0m1-123h0m1-1h0m2 5h0m1 116h0m0 4h0m0 2h0m2-133h0m1 2h0m1 3h0m0 129h0m0 2h0m1 3h0m1-143h0m0 5h0m0 1h0m0 1h0m0 129h0m0 5h0m2-138h0m0 140h0m2-1h0m1-141h0m1 141h0m0 5h0m2-2h0m0 4h0m2-10h0m2-144h0m0 1h0m0 1h0m0 147h0m1-145h0m0 2h0m1-3h0m0 145h0m0 8h0m1-157h0m0 4h0m0 4h0m0 143h0m1-152h0m2 8h0m0 1h0m0 149h0m2-154h0m0 149h0m0 5h0m1-1h0m1-152h0m0 153h0m1-4h0m1-2h0m1-149h0m0 149h0m1 2h0m1 1h0m2-153h0m0 149h0m1 3h0m1-3h0m4-149h0m0 149h0m0 1h0m2 5h0m4-152h0m1-1h0m0 1h0m2 147h0m3-145h0m1-3h0m0 148h0m0 4h0m1-1h0m0 1h0m0 2h0m1-5h0m2-149h0m1 151h0m4-148h0m0 144h0m1-141h0m0 142h0m1-139h0m1-8h0m1 7h0m1-4h0m0 7h0m0 129h0m2-129h0m0 129h0m1-136h0m1 1h0m1 2h0m0 131h0m1-1h0m3-128h0m2 2h0m1 5h0m4-3h0m1 6h0m1-3h0m0 1h0m1 10h0m1-8h0m0 9h0m1-9h0m1 6h0m0 92h0m1 8h0m1-96h0m1-5h0m1 13h0m2 4h0m2 7h0m1-1h0m0 5h0m0 51h0m1-53h0m0 50h0m0 3h0m3-59h0m0 15h0m0 8h0m0 1h0m0 1h0m1-18h0m0 30h0m1-37h0m0 1h0m0 16h0m0 2h0m1-1h0m0 9h0m1-17h0m0 12h0m0 12h0m0 7h0m0 2h0m1-32h0m1 8h0m0 16h0m1-10h0"/>
<path transform="scale(.1)" stroke="#639cd4" stroke-width="10" stroke-linecap="square" d="M1344 4233h0m0 1h0m1 3h0m1-5h0m1-20h0m0 9h0m0 21h0m1-10h0m0 17h0m1-41h0m0 5h0m0 34h0m1-42h0m0 10h0m0 27h0m1-34h0m0 15h0m1-24h0m0 21h0m1-27h0m0 2h0m0 1h0m0 11h0m0 44h0m1 10h0m1-58h0m1-5h0m1 7h0m1-11h0m0 8h0m0 2h0m1-14h0m1 83h0m1 2h0m1 8h0m1-103h0m0 107h0m0 4h0m2-109h0m0 6h0m1 103h0m1-113h0m0 2h0m0 117h0m1-113h0m0 115h0m1-122h0m1 125h0m3-9h0m1 0h0m2-123h0m0 2h0m0 129h0m3 8h0m2-149h0m2 152h0m4-150h0m0 149h0m3-1h0m0 6h0m1-156h0m5 151h0m5-155h0m0 159h0m3 1h0m0 4h0m5-4h0m0 8h0m2-177h0m0 169h0m1 3h0m1 4h0m1-7h0m1 6h0m1-2h0m2-3h0m0 9h0m1-3h0m2 3h0m2-7h0m0 1h0m5-166h0m2 163h0m0 3h0m4-3h0m29-152h0m2-3h0m1-2h0m2 4h0m0 1h0m3-3h0m0 2h0m2 7h0m1-7h0m1 7h0m0 3h0m1 124h0m1 0h0m2-124h0m0 1h0m2-2h0m4 10h0m1 107h0m1-102h0m0 1h0m3-6h0m0 12h0m1-10h0m0 9h0m2 7h0m2-9h0m0 5h0m0 5h0m0 6h0m3 3h0m0 30h0m2-42h0m0 10h0m1 15h0m1-3h0m1-2h0"/>
<path transform="scale(.1)" stroke="#6fa5d8" stroke-width="10" stroke-linecap="square" d="M1339 4259h0m1-47h0m0 4h0m1-6h0m2-12h0m1-4h0m0 6h0m0 18h0m1-27h0m0 3h0m2 8h0m0 7h0m1-9h0m1-9h0m1-2h0m1-4h0m0 3h0m0 1h0m1 0h0m1-4h0m2-3h0m4-4h0m7-6h0m1 131h0m8 5h0m1-151h0m0 153h0m1 7h0m3-5h0m1 11h0m4-3h0m7-169h0m2 177h0m2-5h0m0 3h0m2 1h0m1-1h0m1 0h0m0 2h0m2-4h0m0 1h0m0 2h0m2-3h0m0 2h0m1-2h0m1 4h0m0 1h0m1-5h0m1 3h0m4 0h0m2-1h0m3 0h0m23-187h0m13 188h0m17-171h0m4-1h0m3-1h0m0 2h0m5 13h0m3-5h0m0 143h0m2-137h0m0 4h0m2-9h0m2 5h0m2 10h0m0 3h0m1 1h0m0 102h0m1-99h0m1-13h0m0 4h0m0 1h0m1 7h0m0 2h0m0 4h0m1-12h0m0 11h0m1-13h0m0 14h0m1-10h0m1 5h0m0 15h0m1-3h0m4 56h0"/>
<path transform="scale(.1)" stroke="#7baedd" stroke-width="10" stroke-linecap="square" d="M1331 4245h0m1-10h0m13-49h0m7-19h0m13-18h0m14 176h0m5 2h0m2 1h0m4 3h0m0 2h0m4 6h0m1-8h0m6-196h0m56-3h0m6 9h0m1-8h0m0 10h0m6-1h0m1-4h0m7 8h0m5 3h0m2 0h0m3 2h0m1 6h0m0 5h0m1-6h0m0 5h0m0 2h0m1-7h0m1 10h0m0 1h0m1 136h0m2-143h0m1 12h0m2-1h0m0 4h0m1-12h0m0 4h0m3 6h0m0 7h0m0 2h0m1-8h0m2 9h0m0 1h0m8 5h0m2 30h0"/>
<path transform="scale(.1)" stroke="#87b6e2" stroke-width="10" stroke-linecap="square" d="M1324 4217h0m4 42h0m20-99h0m33 185h0m54 8h0m1-230h0m31 1h0m1 7h0m6-4h0m7 9h0m8 7h0m5 10h0m3-2h0m5 8h0m5 5h0"/>
<path transform="scale(.1)" stroke="#93bfe6" stroke-width="10" stroke-linecap="square" d="M1288 4150h0m19 161h0m5-93h0m2-56h0m0 80h0m3 57h0m35 27h0m3 19h0m21 24h0m19-286h0m35 298h0m11-267h0m21-80h0m4 76h0m8 15h0m2-9h0m2 1h0m5-11h0m1 19h0m1 8h0m1-13h0m1-7h0m0 18h0m3-10h0m1 16h0m3-64h0m5 275h0m1 51h0m2-51h0m4-209h0m6-70h0m11 250h0m3-140h0m5-15h0m21 49h0"/>
<path d="M63.40 369.30 C70.00 367.40 77.00 367.60 83.10 368.50 C92.00 366.00 100.00 364.60 108.00 365.00 L114.90 369.30 L136.50 350.10 M114.90 369.30 C117.50 373.00 118.20 377.00 118.10 381.10 L118.90 394.20 L107.20 421.80 M118.90 394.20 L135.00 416.20 M83.10 368.50 L77.90 376.60" fill="none" stroke="#000" stroke-width="0.9"/>
<circle cx="83.10" cy="368.50" r="1.8" fill="#000"/>
<circle cx="108.00" cy="365.00" r="1.8" fill="#000"/>
<circle cx="114.90" cy="369.30" r="1.8" fill="#000"/>
<circle cx="118.90" cy="394.20" r="1.8" fill="#000"/>
<path d="M116.20 381.20 L119.60 379.00 L119.60 383.20 Z" fill="#000"/>
<text x="168.50" y="379.00" font-size="5.6">Pseudotime</text>
<linearGradient id="pt" x1="0" y1="1" x2="0" y2="0"><stop offset="0" stop-color="#d83a30"/><stop offset="0.5" stop-color="#f7f4f4"/><stop offset="1" stop-color="#3d7fc0"/></linearGradient>
<rect x="169.6" y="381.2" width="4.8" height="28.2" fill="url(#pt)"/>
<text x="177.00" y="387.50" font-size="5.4">30</text>
<text x="177.00" y="395.10" font-size="5.4">20</text>
<text x="177.00" y="402.70" font-size="5.4">10</text>
<text x="177.00" y="410.50" font-size="5.4">0</text>
<line x1="29.00" y1="455.80" x2="29.00" y2="415.10" stroke="#777" stroke-width="0.8"/>
<path d="M29.00 411.00L26.60 415.60L31.40 415.60Z" fill="#000"/>
<line x1="28.60" y1="455.80" x2="69.90" y2="455.80" stroke="#777" stroke-width="0.8"/>
<path d="M74.00 455.80L69.40 453.40L69.40 458.20Z" fill="#000"/>
<text x="24.80" y="435.00" font-size="7.0" text-anchor="middle" transform="rotate(-90 24.80 435.00)">Component 2</text>
<text x="49.00" y="464.30" font-size="7.0" text-anchor="middle">Component 1</text>
<path transform="scale(.1)" stroke="#e0513c" stroke-width="10" stroke-linecap="square" d="M2692 3884h0m0 2h0m1 0h0m0 8h0m0 1h0m1-12h0m1-3h0m0 22h0m1-22h0m1 1h0m1-3h0m1 2h0m0 8h0m0 12h0m0 4h0m0 7h0m1 3h0m1-15h0m0 1h0m0 16h0m1-23h0m0 17h0m2-37h0m0 6h0m0 3h0m0 13h0m0 5h0m0 21h0m0 3h0m1-51h0m0 10h0m0 21h0m0 20h0m0 3h0m1-55h0m0 53h0m1-30h0m0 34h0m0 3h0m1-37h0m0 9h0m0 1h0m0 2h0m0 20h0m0 4h0m1-68h0m0 3h0m0 6h0m0 4h0m0 19h0m1-35h0m0 47h0m0 8h0m0 1h0m0 1h0m1-49h0m0 19h0m0 49h0m1-70h0m0 18h0m0 24h0m0 2h0m0 7h0m0 1h0m0 6h0m0 28h0m1-84h0m0 20h0m0 2h0m0 9h0m0 15h0m0 10h0m0 16h0m0 4h0m1-82h0m0 2h0m0 8h0m0 25h0m0 1h0m0 37h0m1-79h0m0 12h0m0 4h0m0 21h0m0 26h0m0 2h0m1-64h0m0 52h0m0 2h0m0 4h0m0 15h0m0 9h0m0 6h0m1-33h0m0 14h0m0 13h0m1-80h0m0 6h0m0 43h0m0 6h0m0 29h0m0 5h0m1-44h0m0 25h0m0 3h0m0 11h0m0 2h0m1-83h0m0 10h0m0 23h0m0 4h0m0 9h0m0 9h0m0 2h0m1-22h0m0 16h0m1-39h0m0 1h0m0 48h0m0 4h0m0 1h0m0 6h0m0 19h0m1-94h0m0 4h0m0 3h0m0 8h0m0 4h0m1-24h0m0 5h0m0 43h0m0 17h0m0 10h0m0 14h0m1-96h0m0 13h0m0 21h0m0 12h0m0 11h0m0 8h0m0 10h0m0 16h0m0 12h0m1-88h0m0 1h0m0 21h0m0 16h0m0 4h0m0 16h0m1-65h0m1 32h0m0 8h0m0 10h0m0 28h0m0 4h0m0 2h0m0 2h0m1-94h0m0 14h0m0 5h0m0 43h0m1-69h0m0 1h0m0 4h0m0 12h0m0 22h0m0 3h0m0 4h0m0 43h0m1-99h0m0 4h0m0 28h0m0 10h0m0 34h0m0 13h0m0 23h0m0 4h0m1-99h0m0 2h0m0 11h0m0 19h0m0 47h0m0 16h0m1-108h0m0 11h0m0 13h0m0 10h0m0 39h0m0 3h0m0 10h0m0 14h0m1-100h0m0 8h0m0 28h0m0 7h0m0 19h0m0 31h0m0 10h0m1-114h0m0 14h0m0 3h0m0 1h0m0 6h0m0 1h0m0 9h0m0 6h0m0 42h0m0 5h0m1-82h0m0 5h0m0 47h0m0 23h0m0 9h0m0 17h0m1-56h0m0 22h0m0 6h0m0 22h0m0 2h0m1-67h0m0 16h0m0 9h0m0 5h0m0 3h0m0 17h0m0 23h0m1-110h0m0 12h0m0 32h0m0 6h0m0 20h0m1-52h0m0 17h0m1-37h0m0 21h0m0 23h0m0 20h0m0 8h0m0 1h0m0 10h0m1-74h0m0 31h0m0 21h0m0 10h0m0 10h0m0 2h0m0 1h0m0 10h0m1-82h0m0 4h0m0 5h0m0 14h0m0 4h0m0 6h0m0 2h0m0 3h0m0 4h0m0 11h0m0 31h0m0 6h0m1-119h0m0 44h0m0 17h0m0 8h0m0 6h0m0 11h0m0 2h0m0 12h0m0 2h0m0 5h0m1-91h0m0 9h0m0 1h0m0 10h0m0 17h0m1-50h0m0 24h0m0 26h0m0 11h0m0 12h0m0 25h0m1-97h0m0 25h0m0 28h0m0 14h0m1-76h0m0 85h0m1-82h0m0 35h0m1-6h0m0 13h0m0 1h0m0 22h0m0 17h0m1-66h0m0 13h0m1-32h0m0 9h0m0 22h0m0 10h0m0 25h0m0 8h0m2-77h0m0 15h0m0 14h0m0 2h0m0 14h0m1-27h0m0 6h0m0 21h0m0 27h0m1-65h0m0 8h0m0 9h0m0 31h0m0 8h0m0 4h0m0 2h0m1-50h0m0 13h0m0 8h0m0 15h0m0 13h0m1-74h0m0 6h0m0 5h0m0 3h0m0 35h0m0 2h0m0 10h0m0 4h0m1-64h0m0 10h0m0 11h0m0 16h0m0 17h0m0 6h0m1-62h0m0 15h0m0 3h0m0 16h0m0 11h0m0 5h0m0 10h0m0 11h0m1-65h0m0 23h0m0 1h0m0 4h0m0 2h0m0 21h0m0 8h0m0 4h0m1-70h0m0 25h0m0 4h0m0 10h0m0 7h0m0 13h0m1-61h0m0 46h0m0 4h0m0 7h0m0 1h0m1-50h0m0 16h0m0 27h0m0 16h0m1-59h0m0 12h0m0 9h0m0 12h0m0 10h0m0 6h0m1-31h0m0 20h0m1-24h0m0 4h0m0 6h0m0 23h0m1-50h0m0 11h0m0 42h0m1-61h0m0 3h0m0 56h0m1-29h0m0 11h0m1-45h0m0 12h0m0 13h0m0 25h0m1-1h0m1-34h0m0 2h0m0 14h0m0 12h0m1-34h0m1 4h0m0 13h0m1-19h0m0 17h0m1-33h0m0 27h0m0 13h0m0 22h0m1-48h0m1 10h0m0 4h0m0 18h0m0 9h0m1-24h0m0 24h0m1-59h0m0 2h0m0 49h0m1-32h0m1 17h0m1-30h0m0 7h0m0 32h0m0 5h0m1-16h0m1-41h0m1 36h0m1-8h0m1-11h0m0 9h0m0 17h0m1-49h0m0 3h0m0 34h0m0 5h0m0 11h0m1-27h0m1 9h0m1-18h0m0 11h0m0 10h0m1-36h0m0 10h0m0 1h0m0 23h0m1-28h0m0 23h0m0 4h0m1-37h0m1 5h0m0 1h0m1-14h0m0 4h0m0 3h0m0 5h0m1-8h0m0 1h0m0 2h0m0 10h0m0 15h0m1 2h0m2-35h0m0 19h0m0 13h0m1-31h0m0 14h0m0 8h0m0 7h0m0 1h0m0 6h0m1-23h0m1-19h0m0 9h0m0 11h0m0 13h0m2-38h0m0 4h0m0 14h0m0 14h0m1-33h0m0 14h0m0 19h0m1-32h0m0 20h0m1-17h0m1 27h0m1-9h0m0 2h0m0 1h0m1-31h0m0 23h0m1-16h0m1-3h0m0 21h0m2-26h0m1-4h0m0 10h0m1 1h0m1 5h0m1-7h0m0 1h0m1-13h0m1 20h0m1-12h0m0 6h0m0 4h0m1-11h0m1 0h0m3 0h0"/>
<path transform="scale(.1)" stroke="#e0513c" stroke-width="10" stroke-linecap="square" d="M3149 3741h0m0 30h0m2 16h0m4-7h0m1-43h0m0 12h0m1-17h0m1 3h0m0 11h0m0 55h0m1 30h0m1-59h0m1 27h0m2-67h0m0 14h0m1-16h0m0 25h0m1 21h0m0 40h0m0 20h0m1-64h0m1 33h0m2-61h0m0 23h0m0 66h0m1-69h0m0 6h0m0 16h0m0 35h0m0 70h0m0 18h0m1-165h0m0 46h0m0 19h0m0 34h0m0 47h0m0 35h0m1-101h0m1-76h0m0 15h0m0 62h0m1-81h0m0 37h0m0 120h0m1-117h0m0 96h0m0 2h0m1 41h0m0 17h0m1-107h0m0 2h0m0 26h0m0 67h0m1-117h0m0 118h0m1-123h0m0 8h0m0 21h0m0 9h0m0 13h0m0 33h0m0 47h0m1-72h0m1-51h0m0 12h0m0 49h0m0 46h0m0 18h0m1-46h0m0 2h0m1-41h0m0 49h0m1-79h0m0 20h0m0 93h0m1-79h0m1-69h0m0 5h0m0 85h0m0 30h0m2-55h0m0 9h0m0 76h0m0 5h0m1-92h0m1 61h0m0 15h0m1 18h0m1-73h0m1-22h0m1-21h0m0 18h0m2 49h0m0 15h0m1-6h0m3-47h0m0 72h0m1-36h0m0 36h0m2 6h0"/>
<path transform="scale(.1)" stroke="#e0513c" stroke-width="10" stroke-linecap="square" d="M3065 4219h0m1 1h0m1-21h0m1 10h0m1 10h0m1 3h0m1-44h0m1 25h0m0 16h0m1-34h0m0 18h0m0 13h0m1 5h0m0 4h0m1-43h0m0 16h0m0 9h0m2-2h0m0 11h0m1-20h0m0 4h0m0 13h0m2-7h0m0 2h0m0 5h0m1-19h0m0 20h0m1-56h0m0 29h0m2 10h0m0 29h0m1-20h0m0 9h0m1-31h0m0 36h0m1-60h0m0 9h0m0 26h0m1-56h0m0 75h0m0 3h0m0 13h0m1-77h0m0 13h0m0 36h0m0 18h0m0 6h0m1-59h0m0 5h0m0 9h0m0 8h0m1-7h0m1 15h0m0 4h0m1-85h0m0 56h0m0 17h0m0 10h0m0 24h0m0 2h0m1-70h0m0 29h0m0 15h0m0 9h0m1-58h0m0 23h0m0 25h0m0 18h0m1-28h0m1-33h0m0 7h0m0 3h0m0 4h0m1 26h0m1-60h0m0 40h0m1-26h0m0 49h0m2 2h0m0 27h0m1-49h0m0 2h0m1-23h0m1-31h0m1 55h0m2-88h0m0 59h0m1-38h0m0 48h0m0 2h0m0 1h0m0 23h0m1-51h0m0 35h0m1-19h0m0 7h0m0 13h0m1-93h0m0 55h0m0 20h0m1-29h0m1 0h0m0 20h0m0 8h0m0 18h0m1-56h0m0 13h0m0 8h0m0 11h0m0 26h0m1-90h0m0 28h0m1 5h0m0 45h0m0 6h0m1-47h0m0 4h0m0 13h0m0 17h0m0 17h0m1-53h0m0 4h0m0 14h0m1-48h0m1 17h0m0 11h0m0 7h0m0 30h0m1-52h0m0 45h0m1 5h0m1-60h0m0 20h0m0 80h0m1-116h0m0 31h0m1 3h0m1 18h0m1-12h0m0 20h0m0 13h0m1-62h0m0 7h0m0 1h0m0 8h0m0 5h0m1-4h0m1-11h0m0 56h0m1-48h0m0 26h0m1-45h0m0 3h0m0 8h0m0 8h0m0 2h0m0 15h0m0 18h0m1-76h0m0 19h0m0 72h0m0 1h0m2-103h0m0 18h0m0 63h0m1-7h0m0 19h0m1-106h0m0 27h0m0 28h0m0 9h0m0 8h0m0 21h0m1-82h0m0 25h0m0 6h0m0 29h0m0 3h0m2-43h0m1 35h0m0 1h0m0 6h0m1-53h0m0 13h0m0 39h0m0 1h0m1-70h0m0 24h0m0 57h0m1-86h0m0 36h0m0 12h0m0 22h0m0 16h0m1-46h0m1-18h0m0 3h0m1 0h0m0 26h0m1-51h0m0 8h0m0 61h0m1-36h0m0 1h0m0 26h0m1-28h0m0 5h0m0 22h0m0 5h0m1-47h0m0 23h0m0 10h0m0 3h0m0 12h0m1-84h0m0 14h0m0 16h0m0 5h0m0 65h0m1-63h0m0 13h0m1-57h0m0 10h0m0 29h0m1-15h0m0 45h0m1-68h0m0 7h0m0 1h0m0 52h0m1-45h0m0 40h0m0 6h0m1-7h0m1-31h0m0 3h0m0 1h0m0 20h0m0 61h0m1-79h0m0 17h0m0 12h0m0 2h0m0 29h0m1-44h0m0 43h0m1-64h0m0 13h0m0 37h0m1-88h0m0 25h0m1 8h0m0 10h0m0 12h0m1-75h0m0 66h0m1-41h0m1 36h0m0 24h0m2-66h0m0 1h0m0 15h0m0 40h0m1-38h0m0 10h0m0 2h0m1-24h0m0 6h0m0 58h0m1-77h0m0 13h0m0 9h0m1 54h0m1-66h0m0 9h0m1-22h0m0 5h0m0 20h0m1 5h0m0 24h0m0 4h0m1-65h0m0 5h0m0 48h0m1-36h0m0 17h0m1 10h0m1-44h0m0 4h0m0 30h0m0 3h0m0 4h0m0 14h0m1-44h0m0 46h0m1-3h0m1-49h0m0 1h0m1 19h0m0 9h0m1-21h0m1-14h0m0 6h0m1 82h0m1-57h0m1-15h0m0 17h0m0 33h0m1-57h0m0 2h0m1 24h0m1-32h0m1 28h0m1-5h0m2-18h0m2 17h0m3-9h0m4 15h0m8 22h0"/>
<path transform="scale(.1)" stroke="#e0513c" stroke-width="10" stroke-linecap="square" d="M3195 3997h0m4-2h0m1 20h0m1-24h0m0 15h0m2-12h0m0 30h0m2-11h0m1-20h0m1 14h0m1-18h0m0 6h0m3-11h0m0 16h0m0 16h0m1 7h0m1-20h0m1-7h0m0 10h0m1-17h0m0 15h0m1-13h0m0 40h0m1-29h0m1 7h0m1 1h0m0 31h0m1-4h0m1-53h0m2 35h0m1-30h0m0 6h0m2-26h0m0 10h0m1 24h0m0 15h0m1 9h0m1-27h0m0 9h0m2-1h0m0 2h0m1-6h0m0 12h0m2-19h0m0 20h0m1-8h0m0 27h0m0 5h0m1-46h0m0 31h0m0 3h0m1-21h0m0 38h0m6-7h0m1 0h0m1-7h0m0 1h0m0 20h0m1-4h0m1-24h0m2-39h0m0 47h0m1-19h0m1 41h0m1-40h0m0 22h0m0 2h0m0 7h0m0 6h0m1-18h0m2 8h0m0 23h0m1-34h0m1-9h0m1 26h0m1-5h0m1-20h0m0 12h0m0 7h0m0 18h0m0 16h0m1-37h0m1 9h0m0 29h0m1-8h0m0 4h0m1-22h0m0 5h0m1-3h0m0 37h0m1-25h0m0 10h0m1-61h0m0 33h0m1-14h0m0 15h0m0 7h0m1 6h0m1-19h0m1-8h0m0 40h0m1-23h0m0 1h0m0 7h0m0 36h0m1-27h0m0 18h0m0 6h0m1-65h0m0 78h0m1-16h0m2 16h0m1-18h0m2-3h0m0 3h0m1-19h0m1 19h0m1-11h0m0 2h0m2-14h0m0 32h0m1-27h0m0 14h0m0 19h0m1-28h0m0 22h0m0 3h0m0 8h0m1-37h0m0 34h0m2-50h0m0 27h0m0 7h0m1 12h0m1-29h0m2-12h0m0 2h0m0 13h0m1 11h0m0 2h0m0 9h0m2-28h0m0 18h0m0 8h0m0 25h0m1-43h0m1-6h0m0 15h0m0 28h0m2-24h0m0 1h0m2 3h0m0 12h0m1-14h0m0 9h0m1-29h0m0 19h0m0 20h0m1 1h0m0 25h0m1-88h0m0 85h0m1-28h0m0 4h0m0 25h0m2-34h0m0 29h0m2-9h0m1-36h0m0 7h0m0 26h0m1-4h0m1-19h0m0 18h0m0 34h0m1-50h0m3 35h0m0 8h0m1-10h0m2-18h0m1 11h0m1-19h0m1 39h0m1-25h0m1 20h0m0 9h0m2-55h0m0 6h0m0 21h0m0 21h0m1-31h0m0 6h0m0 4h0m0 4h0m0 22h0m0 1h0m1-26h0m0 28h0m1-2h0m1-17h0m1-31h0m0 19h0m1 17h0m1-29h0m1 23h0m0 7h0m0 9h0m2-19h0m0 23h0m2 0h0m1-26h0m4 15h0m1-17h0m0 25h0m4-6h0m3-1h0m3-2h0m6-15h0"/>
<path transform="scale(.1)" stroke="#e0513c" stroke-width="10" stroke-linecap="square" d="M2513 3785h0m0 4h0m2-3h0m1-1h0m1-4h0m0 6h0m1 1h0m1-2h0m2 2h0m1 7h0m1 0h0m1-7h0m1-4h0m0 9h0m1-16h0m0 4h0m1 2h0m0 3h0m1-23h0m0 5h0m0 10h0m0 17h0m1-9h0m1-22h0m0 8h0m0 12h0m1-22h0m0 14h0m0 29h0m1-40h0m1 8h0m0 30h0m1-48h0m0 7h0m0 1h0m0 33h0m0 8h0m0 3h0m1-34h0m0 20h0m1-28h0m0 29h0m0 18h0m1-15h0m0 1h0m1-33h0m0 24h0m0 1h0m2-32h0m0 43h0m0 4h0m1-3h0m1-38h0m1 14h0m2-9h0m0 3h0m0 4h0m1-14h0m1-5h0m0 29h0m1-6h0m1-41h0m0 64h0m0 5h0m1-75h0m0 61h0m0 21h0m1-72h0m0 18h0m0 20h0m0 7h0m0 9h0m1-20h0m0 1h0m0 26h0m1-49h0m0 1h0m0 29h0m1-14h0m0 2h0m0 11h0m1-41h0m0 5h0m0 64h0m1-67h0m0 11h0m0 47h0m1-53h0m0 11h0m0 1h0m1 0h0m0 14h0m1-44h0m0 9h0m0 16h0m0 23h0m0 25h0m1-57h0m0 20h0m0 21h0m0 5h0m0 18h0m1-93h0m0 43h0m0 27h0m1-69h0m0 7h0m0 33h0m0 1h0m0 1h0m0 7h0m0 1h0m0 9h0m1-58h0m0 46h0m0 1h0m0 35h0m1-66h0m0 4h0m0 4h0m1-29h0m0 13h0m0 2h0m0 6h0m0 49h0m0 7h0m1-50h0m0 8h0m0 15h0m0 17h0m1-54h0m0 58h0m1-78h0m0 23h0m0 38h0m0 3h0m0 12h0m0 1h0m0 6h0m0 5h0m2-83h0m1 12h0m0 45h0m0 10h0m0 1h0m0 3h0m0 15h0m1-81h0m0 20h0m0 45h0m1-59h0m0 4h0m0 31h0m0 1h0m0 22h0m0 2h0m0 15h0m1-79h0m0 2h0m0 22h0m0 17h0m0 10h0m1-53h0m0 8h0m0 22h0m0 2h0m0 35h0m0 2h0m1-86h0m0 19h0m0 1h0m0 1h0m0 20h0m0 3h0m0 2h0m0 4h0m0 16h0m1-42h0m0 25h0m0 6h0m0 25h0m1-74h0m0 26h0m1-28h0m0 14h0m0 9h0m0 32h0m1-56h0m0 4h0m0 12h0m0 30h0m0 3h0m0 8h0m0 4h0m0 9h0m1-80h0m0 72h0m0 26h0m1-83h0m0 53h0m0 31h0m1-44h0m0 14h0m0 20h0m1-31h0m0 15h0m0 8h0m1-70h0m0 27h0m0 31h0m0 14h0m1-47h0m0 6h0m0 6h0m0 13h0m1-45h0m0 6h0m0 9h0m0 24h0m1-49h0m0 4h0m0 9h0m0 23h0m0 6h0m0 25h0m0 16h0m1-103h0m0 11h0m0 37h0m0 19h0m0 22h0m0 5h0m1-87h0m0 18h0m0 4h0m0 23h0m0 2h0m0 53h0m1-98h0m0 2h0m0 2h0m0 4h0m0 8h0m0 25h0m0 23h0m0 3h0m1 13h0m1-91h0m0 13h0m0 3h0m0 9h0m0 11h0m0 12h0m0 13h0m0 40h0m1-88h0m0 14h0m0 29h0m0 11h0m0 20h0m1-83h0m0 10h0m0 26h0m0 21h0m0 14h0m1-43h0m0 9h0m0 1h0m0 3h0m0 8h0m0 18h0m0 9h0m1-83h0m0 34h0m0 11h0m0 32h0m0 22h0m1-89h0m0 1h0m0 41h0m0 4h0m0 5h0m0 4h0m0 10h0m0 11h0m0 6h0m1-93h0m0 16h0m0 18h0m1-42h0m0 16h0m0 66h0m1-49h0m0 43h0m0 19h0m1-93h0m0 8h0m0 35h0m0 18h0m0 4h0m0 5h0m0 29h0m0 4h0m1-81h0m0 9h0m0 10h0m0 2h0m0 19h0m0 34h0m1-91h0m0 24h0m0 50h0m1-76h0m0 26h0m0 4h0m0 1h0m0 36h0m1 31h0m1-91h0m0 1h0m0 12h0m0 26h0m0 12h0m0 6h0m1-44h0m0 15h0m0 4h0m0 1h0m1-40h0m0 86h0m1-69h0m0 35h0m0 14h0m1-69h0m0 7h0m0 43h0m0 11h0m0 2h0m0 6h0m0 17h0m0 2h0m1-59h0m0 30h0m0 8h0m0 12h0m0 1h0m1-31h0m0 10h0m1-22h0m0 23h0m0 15h0m1-35h0m1-45h0m0 20h0m0 20h0m0 19h0m1-59h0m0 5h0m0 11h0m0 8h0m0 12h0m0 13h0m0 6h0m0 19h0m1-12h0m1-38h0m0 23h0m1-48h0m0 25h0m0 2h0m0 13h0m0 43h0m1-68h0m0 16h0m0 7h0m0 39h0m0 10h0m0 2h0m1-85h0m0 40h0m1-46h0m0 55h0m0 10h0m0 20h0m1-78h0m0 47h0m0 6h0m1-54h0m0 22h0m0 33h0m0 25h0m1-65h0m1-2h0m1 10h0m0 3h0m0 47h0m1-68h0m0 3h0m0 21h0m0 15h0m0 13h0m1-58h0m0 2h0m0 26h0m0 38h0m1-57h0m0 10h0m0 50h0m1-37h0m0 13h0m0 16h0m0 5h0m1-73h0m0 14h0m0 9h0m0 42h0m1-26h0m1-22h0m0 30h0m0 1h0m0 16h0m2-61h0m0 48h0m0 5h0m0 1h0m0 13h0m0 2h0m1-30h0m0 18h0m0 10h0m1-5h0m1-66h0m0 2h0m0 34h0m0 9h0m0 7h0m1-21h0m1-10h0m0 20h0m1-42h0m0 35h0m0 3h0m0 12h0m1-52h0m0 5h0m0 33h0m0 9h0m0 4h0m0 3h0m1-47h0m0 15h0m0 8h0m0 8h0m1-18h0m0 8h0m0 33h0m1-60h0m0 33h0m0 1h0m0 23h0m0 6h0m0 4h0m1-61h0m0 8h0m0 2h0m0 2h0m0 1h0m1-19h0m0 18h0m1-19h0m0 34h0m0 24h0m2-40h0m0 8h0m1-4h0m0 32h0m0 8h0m0 1h0m1-17h0m1 10h0m1-30h0m0 5h0m1-32h0m0 9h0m0 1h0m0 21h0m0 12h0m0 2h0m0 2h0m0 13h0m1-23h0m0 13h0m0 9h0m1-26h0m0 6h0m0 11h0m0 7h0m1-21h0m1-36h0m0 16h0m0 5h0m1 0h0m1 21h0m1-16h0m1 5h0m0 3h0m1-12h0m0 5h0m0 8h0m1 19h0m1-37h0m0 17h0m1-3h0m0 7h0m2-26h0m0 1h0m1-11h0m0 7h0m0 4h0m0 14h0m0 9h0m1 5h0m0 7h0m1-49h0m0 23h0m1-28h0m0 16h0m0 2h0m0 5h0m1-19h0m0 21h0m0 11h0m1-16h0m0 20h0m2-42h0m0 3h0m0 41h0m1-34h0m0 3h0m0 8h0m1-12h0m0 32h0m1-35h0m2 4h0m0 21h0m1-13h0m1 0h0m0 1h0m0 12h0m1-6h0m0 4h0m0 14h0m1-28h0m0 20h0m1 8h0m1-34h0m0 12h0m0 6h0m0 20h0m1-23h0m0 12h0m1-33h0m1 23h0m0 5h0m0 16h0m1-22h0m1-25h0m0 19h0m0 15h0m0 6h0m1-38h0m0 17h0m0 28h0m1-48h0m0 14h0m0 20h0m1-9h0m0 14h0m1-10h0m1-26h0m0 29h0m0 1h0m1-39h0m0 27h0m0 1h0m0 16h0m0 10h0m1-16h0m0 7h0m1-15h0m0 15h0m0 1h0m0 3h0m1-33h0m1 1h0m0 6h0m0 20h0m0 6h0m1-50h0m0 4h0m0 22h0m1-11h0m1-6h0m0 40h0m0 1h0m0 8h0m1-50h0m0 39h0m1-46h0m0 37h0m0 19h0m1-18h0m0 18h0m1-14h0m1-7h0m0 8h0m0 4h0m2-34h0m0 30h0m0 12h0m0 1h0m1-36h0m0 14h0m1-22h0m0 6h0m0 16h0m1-30h0m0 17h0m0 33h0m1-8h0m1-37h0m0 46h0m2-59h0m0 4h0m0 2h0m0 27h0m0 4h0m0 7h0m1-22h0m0 32h0m2-22h0m0 15h0m0 8h0m1-19h0m1-28h0m0 1h0m0 18h0m0 7h0m0 21h0m1-21h0m1 7h0m1-33h0m0 4h0m0 48h0m1-52h0m0 5h0m0 44h0m0 3h0m1-55h0m0 55h0m2-33h0m0 16h0m2 11h0m0 1h0m0 4h0m1-46h0m0 3h0m0 11h0m0 13h0m1-34h0m0 41h0m1-37h0m0 38h0m0 7h0m0 4h0m1-47h0m0 6h0m0 26h0m0 10h0m1-52h0m0 33h0m0 4h0m0 16h0m1-42h0m0 2h0m0 8h0m0 15h0m0 5h0m1-38h0m0 48h0m1-45h0m0 1h0m0 2h0m0 7h0m0 12h0m1-20h0m0 10h0m0 38h0m1-53h0m0 27h0m0 4h0m1-14h0m0 34h0m1-55h0m0 4h0m0 13h0m1 14h0m0 3h0m0 2h0m0 6h0m0 14h0m1-44h0m0 3h0m0 1h0m0 25h0m2 5h0m0 2h0m1-34h0m0 3h0m0 6h0m0 13h0m1 6h0m1-36h0m0 37h0m0 10h0m1-53h0m0 17h0m0 9h0m0 5h0m1 1h0m2-30h0m0 41h0m0 13h0m1-23h0m0 4h0m0 9h0m1-36h0m0 14h0m0 8h0m1-12h0m0 7h0m0 3h0m0 27h0m1-42h0m0 21h0m0 15h0m1-17h0m1-6h0m0 2h0m0 8h0m2-21h0m0 32h0m1-43h0m0 10h0m0 12h0m0 13h0m0 11h0m1-22h0m0 7h0m1-28h0m1 30h0m0 9h0m0 6h0m1-48h0m0 12h0m0 9h0m0 22h0m0 7h0m1-1h0m1-46h0m0 21h0m0 11h0m1-28h0m1 34h0m0 1h0m1-21h0m1-1h0m1-10h0m0 32h0m1-14h0m0 7h0m0 7h0m1 6h0m1-41h0m1 11h0m2-7h0m0 22h0m0 2h0m0 10h0m2-23h0m0 2h0m0 22h0m2-32h0m0 32h0m2-13h0m1-14h0m0 2h0m1 14h0m0 3h0m2-18h0m0 7h0m0 21h0m0 2h0m2-35h0m0 32h0m1-1h0m1-29h0m1 4h0m0 1h0m0 10h0m0 6h0m0 14h0m3-30h0m0 31h0m1-12h0m0 12h0m1-34h0m0 28h0m1-19h0m0 1h0m0 4h0m0 13h0m0 4h0m0 3h0m1-8h0m0 5h0m1-26h0m1 5h0m0 9h0m0 3h0m1 9h0m2-5h0m1-19h0m0 10h0m2-3h0m0 1h0m1 4h0m0 8h0m1-21h0m0 6h0m1 12h0m0 8h0m2 2h0m1-17h0m1 7h0m0 10h0m2-25h0m0 1h0m1 8h0m0 13h0m1-20h0m0 2h0m1 8h0m1-9h0m0 8h0m0 13h0m0 2h0m1-19h0m2-2h0m2 4h0m0 16h0m1-16h0m1 3h0m0 5h0m1 10h0m1-9h0m0 6h0m0 1h0m2-15h0m0 4h0m1-2h0m1 11h0"/>
<path transform="scale(.1)" stroke="#e0513c" stroke-width="10" stroke-linecap="square" d="M2716 3634h0m0 2h0m0 7h0m7-13h0m1-13h0m6 23h0m7-11h0m7 1h0m2 7h0m11 6h0m1-10h0m5-5h0m4 11h0m1-14h0m3 11h0m7-16h0m5 3h0m0 22h0m14-28h0m4 24h0m1-18h0m5 0h0m2 11h0m6-2h0m11 11h0"/>
<path transform="scale(.1)" stroke="#6ec6d6" stroke-width="10" stroke-linecap="square" d="M2727 3657h0m8-19h0m4 14h0m3-2h0m3-13h0m10 25h0m30-5h0m5-13h0m8-14h0m2 165h0m1-148h0m4 133h0"/>
<path transform="scale(.1)" stroke="#e0513c" stroke-width="9" stroke-linecap="square" d="M2855 3657h0m1-5h0m1-14h0m1 4h0m1-1h0m0 1h0m1-4h0m0 22h0m8-4h0m0 1h0m0 2h0m1-12h0m2-12h0m0 12h0m0 1h0m2 5h0m14-17h0m2-2h0m1 10h0m0 5h0m1-20h0m0 2h0m0 13h0m0 7h0m1-7h0m4 7h0m1-3h0m1 5h0m1-18h0m0 9h0m0 6h0m0 3h0m1-20h0m1 21h0m1-29h0m2 8h0m0 8h0m1-25h0m2-2h0m14 15h0m0 13h0m0 2h0m1-13h0m1-11h0m0 5h0m0 22h0m1-28h0m0 25h0m1-20h0m3 15h0m8-22h0m0 10h0m2-1h0m1-15h0m0 2h0m0 16h0m0 24h0m1-32h0m0 2h0m0 4h0m1-3h0m1-11h0m1 13h0m11 11h0m1 1h0m0 2h0m0 4h0m1-14h0m0 22h0m1-4h0m1-43h0m0 19h0m1-15h0m1 0h0m0 1h0m1-5h0m0 14h0m10 28h0m1-21h0m1-20h0m0 9h0m0 11h0m0 13h0m0 3h0m1-29h0m0 5h0m1-7h0m2 2h0m0 19h0m1-25h0m4 34h0m0 3h0m1 4h0m2-16h0m0 3h0m0 10h0m0 2h0m2-29h0m0 3h0m0 8h0m0 4h0m2-28h0m1 7h0m8 23h0m2-2h0m0 4h0m1-4h0m0 8h0m2 3h0m1-15h0m7-3h0m1 1h0m1 16h0m0 2h0m1-3h0m1-25h0m1 13h0m1-14h0m0 14h0m2-10h0m2-3h0m8 22h0m2-11h0m0 1h0m0 14h0m1-38h0m2-2h0m0 25h0m0 10h0m1-36h0m0 4h0m0 19h0m2-10h0m1-6h0"/>
<path transform="scale(.1)" stroke="#e0513c" stroke-width="10" stroke-linecap="square" d="M2958 4263h0m26 154h0m4-66h0m5-23h0m1 108h0m5-109h0m4 11h0m0 5h0m0 1h0m0 26h0m1-157h0m0 112h0m0 26h0m1-12h0m1-30h0m0 74h0m0 78h0m1-154h0m0 73h0m0 5h0m1-69h0m0 24h0m0 21h0m0 9h0m0 15h0m0 12h0m1-141h0m0 46h0m0 23h0m0 17h0m0 15h0m0 8h0m0 30h0m1-54h0m0 9h0m0 3h0m0 93h0m1-157h0m0 31h0m0 1h0m0 4h0m0 9h0m0 38h0m0 3h0m0 16h0m1-99h0m0 12h0m1-16h0m0 25h0m0 2h0m0 3h0m0 7h0m0 19h0m0 25h0m0 27h0m0 6h0m1-116h0m0 15h0m0 22h0m0 2h0m0 5h0m0 3h0m0 31h0m0 12h0m1-105h0m0 19h0m0 14h0m0 40h0m0 28h0m1-97h0m0 11h0m0 22h0m0 8h0m0 8h0m0 27h0m0 8h0m0 40h0m1-132h0m0 2h0m0 3h0m0 14h0m0 3h0m0 7h0m0 29h0m0 12h0m1-56h0m0 26h0m0 23h0m0 19h0m0 21h0m0 10h0m0 30h0m1-54h0m0 4h0m0 2h0m1-82h0m0 29h0m0 18h0m0 26h0m0 3h0m0 7h0m0 21h0m0 14h0m0 17h0m1-152h0m0 13h0m0 52h0m0 27h0m0 5h0m0 3h0m0 9h0m0 42h0m0 39h0m1-291h0m0 99h0m0 46h0m0 26h0m0 6h0m0 4h0m1-180h0m0 102h0m0 22h0m0 15h0m0 3h0m0 6h0m0 13h0m0 4h0m0 22h0m0 18h0m0 4h0m0 44h0m1-105h0m0 17h0m0 9h0m0 21h0m0 84h0m1-167h0m0 59h0m0 20h0m0 11h0m0 3h0m1-83h0m0 26h0m0 25h0m0 21h0m0 3h0m1-99h0m0 14h0m0 11h0m0 34h0m0 57h0m0 10h0m0 35h0m1-133h0m0 19h0m0 34h0m0 5h0m0 4h0m0 13h0m0 5h0m0 20h0m0 24h0m0 8h0m1-80h0m0 12h0m0 8h0m0 5h0m0 21h0m0 9h0m0 72h0m1-205h0m0 87h0m0 16h0m0 7h0m0 8h0m0 7h0m0 39h0m1-168h0m0 1h0m0 7h0m0 26h0m0 10h0m0 14h0m0 12h0m0 1h0m0 4h0m0 13h0m0 51h0m0 10h0m0 2h0m1-159h0m0 8h0m0 29h0m0 8h0m0 7h0m0 63h0m0 25h0m0 11h0m1-131h0m0 13h0m0 9h0m0 2h0m0 9h0m0 4h0m0 11h0m0 2h0m0 1h0m0 3h0m0 58h0m0 20h0m0 24h0m1-157h0m0 49h0m0 18h0m0 41h0m0 24h0m0 6h0m0 4h0m1-135h0m0 1h0m0 5h0m0 39h0m0 4h0m0 8h0m0 4h0m0 6h0m0 76h0m1-169h0m0 11h0m0 9h0m0 59h0m0 5h0m0 63h0m0 27h0m0 3h0m1-196h0m0 22h0m0 3h0m0 4h0m0 8h0m0 19h0m0 18h0m0 1h0m0 17h0m0 17h0m0 46h0m0 7h0m0 20h0m1-168h0m0 4h0m0 66h0m0 10h0m0 11h0m0 7h0m0 4h0m0 22h0m0 96h0m1-206h0m0 19h0m0 8h0m0 37h0m0 30h0m0 14h0m0 33h0m0 7h0m0 15h0m1-172h0m0 24h0m0 17h0m0 23h0m0 35h0m0 11h0m0 9h0m0 3h0m0 11h0m0 24h0m1-149h0m0 10h0m0 11h0m0 23h0m0 7h0m0 29h0m0 6h0m0 14h0m0 3h0m0 9h0m0 2h0m0 14h0m0 18h0m0 4h0m0 5h0m0 10h0m1-157h0m0 1h0m0 6h0m0 1h0m0 27h0m0 25h0m0 19h0m0 12h0m0 17h0m0 20h0m0 23h0m1-137h0m0 1h0m0 4h0m0 9h0m0 32h0m0 10h0m0 16h0m0 2h0m0 34h0m0 9h0m0 33h0m1-180h0m0 13h0m0 100h0m0 11h0m0 25h0m0 22h0m1-253h0m0 83h0m0 11h0m0 8h0m0 20h0m0 10h0m0 26h0m0 10h0m0 7h0m0 1h0m0 5h0m0 7h0m0 5h0m0 12h0m0 18h0m0 14h0m0 6h0m1-137h0m0 9h0m0 9h0m0 3h0m0 1h0m0 21h0m0 23h0m0 25h0m0 2h0m0 23h0m0 37h0m1-179h0m0 38h0m0 9h0m0 26h0m0 7h0m0 2h0m0 1h0m0 10h0m0 56h0m0 21h0m1-157h0m0 39h0m0 3h0m0 31h0m0 27h0m0 14h0m0 22h0m0 15h0m0 1h0m0 19h0m1-185h0m0 47h0m0 16h0m0 8h0m0 2h0m0 5h0m0 16h0m0 16h0m0 20h0m0 19h0m0 11h0m0 12h0m0 1h0m0 3h0m0 11h0m1-170h0m0 2h0m0 32h0m0 7h0m0 6h0m0 31h0m0 1h0m0 3h0m0 10h0m0 41h0m0 38h0m1-181h0m0 8h0m0 10h0m0 10h0m0 7h0m0 7h0m0 1h0m0 12h0m0 6h0m0 18h0m0 22h0m0 3h0m0 4h0m0 22h0m0 20h0m0 4h0m1-125h0m0 6h0m0 14h0m0 27h0m0 12h0m0 6h0m0 7h0m0 15h0m0 9h0m0 1h0m0 21h0m0 11h0m1-162h0m0 19h0m0 3h0m0 18h0m0 17h0m0 12h0m0 5h0m0 5h0m0 10h0m0 16h0m0 12h0m0 8h0m0 1h0m0 9h0m0 33h0m0 6h0m1-184h0m0 21h0m0 2h0m0 52h0m0 11h0m0 9h0m0 13h0m0 79h0m1-172h0m0 9h0m0 44h0m0 40h0m0 5h0m0 4h0m0 14h0m0 10h0m0 3h0m1-135h0m0 3h0m0 45h0m0 26h0m0 5h0m0 16h0m0 4h0m0 13h0m0 22h0m0 2h0m0 24h0m1-263h0m0 127h0m0 6h0m0 10h0m0 44h0m0 5h0m0 6h0m0 26h0m0 16h0m0 42h0m0 5h0m1-214h0m0 28h0m0 51h0m0 6h0m0 7h0m0 18h0m0 1h0m0 9h0m0 10h0m0 5h0m0 11h0m0 17h0m0 19h0m0 1h0m0 2h0m0 33h0m1-145h0m0 29h0m0 6h0m0 11h0m0 51h0m0 28h0m1-172h0m0 28h0m0 2h0m0 12h0m0 3h0m0 24h0m0 6h0m0 2h0m0 9h0m0 22h0m0 4h0m0 56h0m1-237h0m0 62h0m0 18h0m0 4h0m0 5h0m0 11h0m0 14h0m0 3h0m0 3h0m0 43h0m0 24h0m0 14h0m0 3h0m1-134h0m0 2h0m0 1h0m0 7h0m0 2h0m0 22h0m0 13h0m0 6h0m0 11h0m0 1h0m0 5h0m0 2h0m0 4h0m0 14h0m0 28h0m0 14h0m0 12h0m0 42h0m1-185h0m0 93h0m0 14h0m0 10h0m0 27h0m0 40h0m1-137h0m0 11h0m0 7h0m0 4h0m0 9h0m0 18h0m0 21h0m0 20h0m1-126h0m0 4h0m0 7h0m0 2h0m0 6h0m0 1h0m0 21h0m0 59h0m0 67h0m0 4h0m0 7h0m1-199h0m0 19h0m0 21h0m0 8h0m0 16h0m0 22h0m0 18h0m0 51h0m0 7h0m0 35h0m1-155h0m0 2h0m0 22h0m0 6h0m0 9h0m0 6h0m0 12h0m0 4h0m0 3h0m0 1h0m0 5h0m0 60h0m0 16h0m0 6h0m1-130h0m0 10h0m0 29h0m0 15h0m0 8h0m0 33h0m0 14h0m0 11h0m0 8h0m1-188h0m0 24h0m0 26h0m0 16h0m0 11h0m0 19h0m0 4h0m0 11h0m0 16h0m0 24h0m0 3h0m1-154h0m0 13h0m0 22h0m0 25h0m0 36h0m0 1h0m0 2h0m0 6h0m0 27h0m0 2h0m0 3h0m0 35h0m1-193h0m0 7h0m0 17h0m0 28h0m0 38h0m0 3h0m0 5h0m0 9h0m0 18h0m0 8h0m0 17h0m0 41h0m0 10h0m0 8h0m1-189h0m0 3h0m0 46h0m0 10h0m0 7h0m0 21h0m0 5h0m0 3h0m0 4h0m0 6h0m0 45h0m1-137h0m0 11h0m0 24h0m0 24h0m0 13h0m0 6h0m0 28h0m0 43h0m1-146h0m0 1h0m0 3h0m0 2h0m0 23h0m0 3h0m0 5h0m0 3h0m0 3h0m0 5h0m0 10h0m0 13h0m0 3h0m0 16h0m0 22h0m0 9h0m0 7h0m0 4h0m0 2h0m0 10h0m1-121h0m0 12h0m0 54h0m0 28h0m0 21h0m0 25h0m1-177h0m0 3h0m0 2h0m0 9h0m0 13h0m0 4h0m0 9h0m0 10h0m0 18h0m0 21h0m0 29h0m0 8h0m0 15h0m0 31h0m0 3h0m1-191h0m0 43h0m0 1h0m0 5h0m0 27h0m0 4h0m0 8h0m0 39h0m0 9h0m0 5h0m0 42h0m1-146h0m0 18h0m0 21h0m0 9h0m0 7h0m0 31h0m0 21h0m0 10h0m0 3h0m0 2h0m0 2h0m0 1h0m0 26h0m1-161h0m0 22h0m0 14h0m0 20h0m0 11h0m0 4h0m0 12h0m0 1h0m0 25h0m0 48h0m0 8h0m0 1h0m0 8h0m1-187h0m0 30h0m0 10h0m0 14h0m0 8h0m0 22h0m0 23h0m0 10h0m0 82h0m1-186h0m0 2h0m0 5h0m0 8h0m0 4h0m0 5h0m0 6h0m0 14h0m0 8h0m0 37h0m0 28h0m0 23h0m0 9h0m0 22h0m1-192h0m0 18h0m0 4h0m0 14h0m0 11h0m0 1h0m0 4h0m0 4h0m0 27h0m0 17h0m0 24h0m0 3h0m0 21h0m0 27h0m0 15h0m1-161h0m0 8h0m0 43h0m0 15h0m0 43h0m0 50h0m0 1h0m0 1h0m1-179h0m0 62h0m0 9h0m0 3h0m0 3h0m0 15h0m0 1h0m0 30h0m0 45h0m1-138h0m0 15h0m0 24h0m0 32h0m0 15h0m0 1h0m0 24h0m0 8h0m1-138h0m0 21h0m0 8h0m0 44h0m0 3h0m0 26h0m0 34h0m0 6h0m0 3h0m0 4h0m0 7h0m1-202h0m0 67h0m0 28h0m0 3h0m0 1h0m0 31h0m0 4h0m0 24h0m0 10h0m0 6h0m0 7h0m1-135h0m0 21h0m0 14h0m0 14h0m0 14h0m0 17h0m0 1h0m0 48h0m0 35h0m0 5h0m1-150h0m0 8h0m0 38h0m0 6h0m0 88h0m1-144h0m0 2h0m0 6h0m0 2h0m0 19h0m0 12h0m0 6h0m0 13h0m0 1h0m0 12h0m0 9h0m0 14h0m0 17h0m0 10h0m0 15h0m1-161h0m0 10h0m0 3h0m0 4h0m0 10h0m0 23h0m0 14h0m0 5h0m0 51h0m0 8h0m0 8h0m0 2h0m0 19h0m0 13h0m1-139h0m0 62h0m0 64h0m1-148h0m0 38h0m0 6h0m0 4h0m0 15h0m0 9h0m0 1h0m0 33h0m0 15h0m0 6h0m1-140h0m0 13h0m0 59h0m0 39h0m0 27h0m1-131h0m0 42h0m0 26h0m0 7h0m0 2h0m0 3h0m0 12h0m0 19h0m0 19h0m0 1h0m0 3h0m0 2h0m0 11h0m1-124h0m0 3h0m0 2h0m0 5h0m0 8h0m0 15h0m0 87h0m0 8h0m0 2h0m1-148h0m0 6h0m0 49h0m0 4h0m0 9h0m0 6h0m0 27h0m0 1h0m0 26h0m0 9h0m0 19h0m1-151h0m0 46h0m0 3h0m0 2h0m0 3h0m0 4h0m0 2h0m0 1h0m0 41h0m0 36h0m0 3h0m1-145h0m0 6h0m0 9h0m0 7h0m0 17h0m0 28h0m0 11h0m0 6h0m0 55h0m0 14h0m1-102h0m0 17h0m0 18h0m0 3h0m0 34h0m0 11h0m0 21h0m1-192h0m0 77h0m0 15h0m0 20h0m0 6h0m0 37h0m1-107h0m0 7h0m0 41h0m0 4h0m0 9h0m0 9h0m0 24h0m0 10h0m1-105h0m0 29h0m0 2h0m0 16h0m0 36h0m0 10h0m0 25h0m0 25h0m1-141h0m0 12h0m0 53h0m0 7h0m0 3h0m0 9h0m1-126h0m0 32h0m0 10h0m0 117h0m1-118h0m0 10h0m0 9h0m0 13h0m0 36h0m0 41h0m0 14h0m0 10h0m0 10h0m1-95h0m0 4h0m0 48h0m0 7h0m0 9h0m0 1h0m0 7h0m1-150h0m0 40h0m0 4h0m0 96h0m1-101h0m0 11h0m0 20h0m0 42h0m0 18h0m0 5h0m0 2h0m0 11h0m1-93h0m0 1h0m0 8h0m0 11h0m0 14h0m0 3h0m0 12h0m0 5h0m0 11h0m0 32h0m1-121h0m0 9h0m0 43h0m0 8h0m0 22h0m0 5h0m0 6h0m0 4h0m1-66h0m0 21h0m0 5h0m0 1h0m0 8h0m0 16h0m0 22h0m1-95h0m0 10h0m0 28h0m0 37h0m0 4h0m1-34h0m0 1h0m1-40h0m0 20h0m0 17h0m0 12h0m0 17h0m0 10h0m0 18h0m0 9h0m1-96h0m0 8h0m0 2h0m0 21h0m0 19h0m1-37h0m0 3h0m0 20h0m0 17h0m1-126h0m0 103h0m0 3h0m1-17h0m0 15h0m1-245h0m0 237h0m0 36h0m1-30h0m0 34h0m1-34h0m0 16h0m1-7h0m0 5h0m0 9h0m0 1h0m6-11h0m2 10h0m3-58h0m0 5h0m1 25h0m18-79h0m19 43h0"/>
<path transform="scale(.1)" stroke="#6ec6d6" stroke-width="10" stroke-linecap="square" d="M3057 4435h0m25 7h0m3-21h0m8-6h0m0 93h0m7-74h0m2-26h0m1-5h0m1-2h0m3-14h0m0 17h0m1-30h0m0 29h0m3-8h0m1-2h0m2-1h0m22 70h0m9-47h0"/>
<path transform="scale(.1)" stroke="#e0513c" stroke-width="10" stroke-linecap="square" d="M3158 3801h0m29 24h0m3-12h0m8 29h0m3-18h0m3 16h0m1-5h0m1-19h0m0 13h0m1 9h0m2-3h0m1-8h0m0 1h0m0 7h0m1-19h0m0 5h0m0 19h0m0 6h0m1-19h0m0 12h0m1-23h0m0 27h0m1-30h0m1-2h0m0 34h0m1-18h0m0 9h0m0 8h0m1-43h0m0 13h0m0 21h0m1-25h0m0 18h0m0 4h0m0 2h0m0 9h0m1-40h0m0 29h0m0 6h0m0 13h0m1-47h0m1 6h0m0 13h0m0 10h0m0 16h0m0 1h0m1-21h0m0 6h0m0 8h0m1-34h0m1-1h0m0 14h0m0 13h0m0 1h0m0 6h0m0 11h0m1-58h0m0 18h0m0 11h0m0 6h0m0 18h0m1-54h0m0 47h0m0 3h0m1-45h0m0 8h0m0 4h0m0 10h0m1-9h0m0 2h0m1-9h0m0 7h0m0 5h0m0 7h0m0 20h0m1-20h0m0 20h0m0 13h0m1-39h0m0 13h0m0 7h0m1-23h0m0 11h0m0 2h0m0 5h0m0 2h0m1-32h0m0 4h0m0 28h0m1-27h0m0 14h0m0 9h0m1-30h0m0 19h0m0 3h0m0 12h0m0 4h0m0 3h0m1-40h0m0 25h0m0 4h0m2-20h0m0 3h0m0 1h0m0 17h0m0 6h0m0 17h0m1-53h0m0 8h0m0 2h0m1 23h0m1-17h0m0 2h0m0 2h0m0 9h0m0 13h0m0 1h0m0 4h0m0 4h0m1 1h0m1-35h0m0 9h0m0 14h0m0 14h0m1-31h0m0 17h0m0 15h0m0 8h0m1-68h0m0 15h0m0 24h0m0 7h0m1-32h0m0 10h0m0 10h0m0 23h0m1-53h0m0 1h0m0 88h0m1-81h0m0 18h0m0 19h0m0 7h0m1-38h0m0 10h0m0 1h0m0 17h0m0 6h0m1-24h0m0 15h0m0 20h0m1-57h0m0 4h0m0 10h0m1 11h0m0 15h0m0 13h0m1-42h0m0 18h0m0 13h0m0 13h0m0 1h0m1-18h0m0 9h0m0 4h0m1-35h0m0 3h0m0 3h0m0 4h0m0 30h0m1-51h0m0 21h0m0 4h0m1-26h0m0 50h0m1-55h0m0 12h0m0 25h0m1-7h0m0 14h0m1-11h0m0 13h0m1-14h0m0 32h0m1-62h0m0 22h0m0 10h0m0 9h0m1-40h0m0 10h0m0 10h0m0 1h0m1-31h0m0 48h0m0 16h0m1-45h0m0 17h0m0 7h0m0 6h0m1-40h0m0 32h0m0 8h0m0 22h0m1-37h0m1-24h0m0 10h0m0 1h0m0 23h0m1-10h0m0 24h0m2-35h0m0 20h0m1-20h0m0 3h0m1-16h0m0 16h0m0 3h0m0 7h0m0 5h0m0 3h0m0 13h0m1-44h0m0 4h0m0 39h0m1-15h0m0 5h0m1-34h0m0 43h0m1-43h0m0 10h0m2-1h0m0 23h0m0 13h0m1-36h0m0 10h0m1-11h0m1-6h0m0 1h0m1 9h0m0 12h0m0 4h0m1 6h0m1-26h0m0 22h0m1-13h0m0 1h0m1 14h0m1-8h0m3 39h0m1-41h0m3-20h0"/>
<path transform="scale(.1)" stroke="#6ec6d6" stroke-width="10" stroke-linecap="square" d="M3233 3857h0m9-27h0m5 12h0m6-37h0m1 8h0m1 23h0m0 4h0m2-16h0m1-10h0m7 38h0m1-13h0m0 6h0m1 9h0m2-43h0m1 2h0m2-3h0m2 8h0m3 10h0m0 1h0m1-18h0m2 26h0m0 3h0m0 12h0m2-42h0m1 0h0m1 23h0m1-16h0m1-2h0m0 7h0m0 8h0m1-21h0m0 22h0m1-12h0m0 2h0m0 15h0m1-33h0m0 37h0m1-32h0m0 19h0m0 9h0m4-5h0m3-28h0m15 34h0m0 33h0m1-25h0"/>
<path transform="scale(.1)" stroke="#e0513c" stroke-width="10" stroke-linecap="square" d="M3306 3585h0m40-114h0m9 41h0m1-58h0m11 17h0m1-2h0m1-7h0m1-9h0m1 11h0m1-26h0m0 14h0m0 13h0m0 12h0m0 12h0m1-50h0m0 1h0m0 21h0m1-15h0m0 4h0m0 16h0m0 4h0m0 24h0m1-16h0m1-19h0m0 35h0m1-96h0m0 16h0m0 29h0m0 5h0m0 1h0m0 1h0m0 16h0m1-19h0m0 6h0m0 2h0m0 35h0m0 7h0m0 4h0m1-39h0m0 12h0m0 7h0m0 10h0m1-33h0m0 3h0m0 16h0m0 11h0m0 1h0m0 23h0m1-74h0m0 54h0m1-24h0m0 1h0m0 11h0m1-25h0m0 1h0m0 21h0m1-36h0m0 38h0m0 33h0m1-68h0m1 46h0m0 17h0m1-6h0m0 4h0m0 7h0m1-78h0m0 7h0m1 25h0m0 8h0m0 7h0m0 17h0m0 14h0m1-47h0m0 5h0m0 22h0m0 5h0m0 5h0m0 7h0m0 9h0m1-79h0m0 29h0m0 5h0m0 19h0m0 33h0m1-103h0m0 6h0m0 12h0m0 49h0m0 17h0m1-80h0m0 61h0m0 14h0m0 7h0m0 12h0m1-89h0m0 57h0m0 35h0m0 2h0m1-61h0m0 17h0m0 17h0m1-83h0m0 4h0m0 1h0m0 27h0m0 45h0m0 23h0m1-67h0m0 35h0m0 58h0m1-81h0m0 3h0m0 44h0m0 10h0m1-21h0m0 7h0m0 30h0m1-64h0m0 40h0m0 16h0m1-51h0m1 0h0m0 1h0m0 50h0m1-47h0m0 4h0m0 31h0m0 2h0m0 5h0m0 12h0m0 2h0m1-49h0m0 1h0m0 20h0m0 5h0m0 7h0m1-41h0m0 23h0m0 31h0m0 26h0m1-77h0m0 8h0m0 45h0m0 6h0m1-120h0m0 79h0m0 12h0m0 6h0m1-80h0m1 67h0m0 8h0m0 34h0m1-40h0m0 19h0m1-27h0m0 24h0m1-31h0m0 31h0m0 12h0m2-102h0m0 51h0m1 34h0m0 13h0m0 15h0m1-92h0m0 23h0m1 33h0m0 6h0m1 4h0m0 1h0m1-28h0m0 9h0m1 39h0m1 8h0m0 10h0m1-96h0m0 88h0m1-37h0m0 11h0m1-47h0m0 60h0m0 3h0m1-124h0m0 96h0m0 7h0m0 1h0m1-127h0m0 85h0m1 75h0m1-8h0m0 1h0m1-42h0m0 8h0m0 17h0m1-44h0m0 71h0m1-76h0m0 58h0m1 6h0m1-52h0m0 9h0m0 10h0m0 29h0m2-32h0m0 20h0m0 12h0m1-47h0m0 13h0m1 34h0m1-27h0m0 29h0m0 16h0m0 6h0m1-116h0m0 92h0m0 7h0m1-90h0m0 80h0m1-69h0m0 13h0m0 81h0m1-79h0m0 57h0m1 7h0m0 10h0m2-12h0m0 4h0m0 9h0m1-79h0m0 16h0m0 10h0m0 28h0m0 4h0m0 12h0m1-87h0m0 42h0m0 5h0m0 2h0m0 22h0m0 16h0m0 10h0m1-52h0m1 38h0m1-76h0m0 37h0m0 19h0m0 1h0m0 8h0m1-21h0m1-25h0m0 46h0m1 17h0m1-53h0m0 68h0m1-66h0m1 68h0m2-11h0m0 8h0m2-69h0m0 28h0m0 8h0m0 1h0m1-55h0m0 80h0m0 14h0m2-177h0m0 136h0m0 3h0m4 24h0m0 14h0m8-29h0m1 5h0m3-46h0m0 55h0m6-5h0m2-1h0m9-9h0m3-27h0"/>
<path transform="scale(.1)" stroke="#6ec6d6" stroke-width="10" stroke-linecap="square" d="M3354 3385h0m16 52h0m3-18h0m4-34h0m1 72h0m2-38h0m1 8h0m0 23h0m0 6h0m0 17h0m1-32h0m1-20h0m1 45h0m2-46h0m0 11h0m1-12h0m1 0h0m0 17h0m2-3h0m0 21h0m3-45h0m1 22h0m1-24h0m0 4h0m2-3h0m0 10h0m0 48h0m1 11h0m1-64h0m0 42h0m1-41h0m1-10h0m1 32h0m0 9h0m1-39h0m0 12h0m0 17h0m0 101h0m2-128h0m0 30h0m0 43h0m1-69h0m1 23h0m1-41h0m0 49h0m0 20h0m0 4h0m1-2h0m1-62h0m1-6h0m0 10h0m0 10h0m0 15h0m1 10h0m1-32h0m0 40h0m1-39h0m0 40h0m1-24h0m2 7h0m0 14h0m0 30h0m0 23h0m1-100h0m0 38h0m0 35h0m0 1h0m0 2h0m1-47h0m0 21h0m0 97h0m1-145h0m0 21h0m0 24h0m0 35h0m1-76h0m0 54h0m0 8h0m1-28h0m0 7h0m0 84h0m1-127h0m0 4h0m0 39h0m0 72h0m1-107h0m0 9h0m0 12h0m0 35h0m0 2h0m1-42h0m0 40h0m1-78h0m0 57h0m0 13h0m0 35h0m0 49h0m1-182h0m0 26h0m0 19h0m0 2h0m0 17h0m0 64h0m0 29h0m1-126h0m0 6h0m0 49h0m0 13h0m0 1h0m1-72h0m0 42h0m0 60h0m0 2h0m1-53h0m0 10h0m0 12h0m1-16h0m0 11h0m0 7h0m0 4h0m0 9h0m0 7h0m0 28h0m0 2h0m0 29h0m1-143h0m0 3h0m0 13h0m0 9h0m0 8h0m0 17h0m0 24h0m0 22h0m0 21h0m1-100h0m0 15h0m0 4h0m0 4h0m0 18h0m0 4h0m0 13h0m1-86h0m0 2h0m0 15h0m0 7h0m0 5h0m0 3h0m0 21h0m0 25h0m0 26h0m0 8h0m1-79h0m0 13h0m0 12h0m0 2h0m0 35h0m0 9h0m1-59h0m0 12h0m0 90h0m1-54h0m1-74h0m0 21h0m0 31h0m0 3h0m0 30h0m0 12h0m0 4h0m1-96h0m0 81h0m0 25h0m1-94h0m0 30h0m0 4h0m0 12h0m0 3h0m0 17h0m1-92h0m0 17h0m0 19h0m0 24h0m0 28h0m1-62h0m0 9h0m0 2h0m0 45h0m0 2h0m0 20h0m0 8h0m1-121h0m0 32h0m0 5h0m0 34h0m0 8h0m0 1h0m0 18h0m0 3h0m1-104h0m0 38h0m0 26h0m0 10h0m0 34h0m0 2h0m1-111h0m0 37h0m0 6h0m0 7h0m0 15h0m0 4h0m0 24h0m0 18h0m1-116h0m0 3h0m0 93h0m0 6h0m0 10h0m0 1h0m0 14h0m1-116h0m0 3h0m0 3h0m0 28h0m0 37h0m0 3h0m0 1h0m0 42h0m0 10h0m1-132h0m0 64h0m0 19h0m0 13h0m0 2h0m0 13h0m0 14h0m0 11h0m0 2h0m1-62h0m0 11h0m0 13h0m0 5h0m0 1h0m0 1h0m0 1h0m0 12h0m1-91h0m0 2h0m0 54h0m0 7h0m0 1h0m0 2h0m0 24h0m1-124h0m0 12h0m0 39h0m0 26h0m0 5h0m0 4h0m0 24h0m0 27h0m0 15h0m1-158h0m0 22h0m0 66h0m1-105h0m0 73h0m0 1h0m0 19h0m0 52h0m0 3h0m0 36h0m0 11h0m0 6h0m1-160h0m0 21h0m0 3h0m0 3h0m0 5h0m0 20h0m0 23h0m0 42h0m1-108h0m0 35h0m0 9h0m0 1h0m0 6h0m0 12h0m0 35h0m0 24h0m1-149h0m0 20h0m0 29h0m0 4h0m0 26h0m0 3h0m0 34h0m0 5h0m0 4h0m1-63h0m0 2h0m0 14h0m0 31h0m0 3h0m0 8h0m0 39h0m1-153h0m0 49h0m0 8h0m0 44h0m1-102h0m0 4h0m0 18h0m0 2h0m0 17h0m0 20h0m0 95h0m0 9h0m1-118h0m0 2h0m0 1h0m0 4h0m0 50h0m0 19h0m0 43h0m0 2h0m1-188h0m0 19h0m0 17h0m0 20h0m0 13h0m0 12h0m0 21h0m0 38h0m0 21h0m1-110h0m0 10h0m0 15h0m0 2h0m0 24h0m0 31h0m0 14h0m0 21h0m0 4h0m0 20h0m1-89h0m0 15h0m0 33h0m0 2h0m0 3h0m0 23h0m1-162h0m0 8h0m0 11h0m0 23h0m0 38h0m0 1h0m0 10h0m0 9h0m0 10h0m0 29h0m1-119h0m0 59h0m0 4h0m0 6h0m0 18h0m1-107h0m0 19h0m0 13h0m0 27h0m0 8h0m0 13h0m0 28h0m0 28h0m0 19h0m1-144h0m0 16h0m0 4h0m0 2h0m0 5h0m0 21h0m0 13h0m0 1h0m0 2h0m0 6h0m0 11h0m1-90h0m0 31h0m0 8h0m0 74h0m0 64h0m1-167h0m0 65h0m0 8h0m0 33h0m0 8h0m1-100h0m0 18h0m0 12h0m0 41h0m0 51h0m1-146h0m0 14h0m0 12h0m0 4h0m0 7h0m0 31h0m0 9h0m0 13h0m0 12h0m0 12h0m0 43h0m0 10h0m1-146h0m0 45h0m0 19h0m0 5h0m0 46h0m0 33h0m1-158h0m0 16h0m0 34h0m0 2h0m0 3h0m0 33h0m0 51h0m1-132h0m0 38h0m0 12h0m0 8h0m0 18h0m0 43h0m1-75h0m0 7h0m0 29h0m0 8h0m0 2h0m0 2h0m0 26h0m0 14h0m1-113h0m0 32h0m0 20h0m0 6h0m0 22h0m0 13h0m0 18h0m1-112h0m0 15h0m0 14h0m0 6h0m0 17h0m0 25h0m0 58h0m1-127h0m0 32h0m0 16h0m0 11h0m0 16h0m0 4h0m1-106h0m0 9h0m0 2h0m0 9h0m0 23h0m0 18h0m0 14h0m0 16h0m0 5h0m0 16h0m0 7h0m0 1h0m1-120h0m0 18h0m0 2h0m0 42h0m0 3h0m0 33h0m1-59h0m0 24h0m0 14h0m0 19h0m0 23h0m0 1h0m1-83h0m0 7h0m0 15h0m0 16h0m0 26h0m0 50h0m1-108h0m0 5h0m0 1h0m0 26h0m0 5h0m0 2h0m0 9h0m0 52h0m0 7h0m1-155h0m0 3h0m0 7h0m0 15h0m0 33h0m0 7h0m0 6h0m0 3h0m0 19h0m1-96h0m0 6h0m0 23h0m0 5h0m0 20h0m0 2h0m0 4h0m0 12h0m0 49h0m0 7h0m1-126h0m0 21h0m0 21h0m0 9h0m0 29h0m0 4h0m0 7h0m1-86h0m0 54h0m0 1h0m0 21h0m0 5h0m0 36h0m1-116h0m0 1h0m0 15h0m0 14h0m0 66h0m0 2h0m0 8h0m0 6h0m0 3h0m0 2h0m0 1h0m1-122h0m0 37h0m0 33h0m0 13h0m0 34h0m0 1h0m0 12h0m1-90h0m0 15h0m0 86h0m1-129h0m0 45h0m0 4h0m0 21h0m0 25h0m0 1h0m0 32h0m1-120h0m0 12h0m0 14h0m0 3h0m0 2h0m0 11h0m0 11h0m1-64h0m0 14h0m0 3h0m0 6h0m0 17h0m0 26h0m0 3h0m0 26h0m0 24h0m0 33h0m1-99h0m0 2h0m0 8h0m0 24h0m0 11h0m0 22h0m0 16h0m1-93h0m0 7h0m0 6h0m0 33h0m0 6h0m0 5h0m0 32h0m1-109h0m0 10h0m0 57h0m0 5h0m0 16h0m0 8h0m0 9h0m1-123h0m0 12h0m0 3h0m0 7h0m1-30h0m0 25h0m0 24h0m0 1h0m0 3h0m0 13h0m0 4h0m0 4h0m0 22h0m1-72h0m0 63h0m0 11h0m0 19h0m0 3h0m0 4h0m1-82h0m0 9h0m0 19h0m0 9h0m0 33h0m1-110h0m0 5h0m0 8h0m0 9h0m0 14h0m0 22h0m0 38h0m0 17h0m1-152h0m0 107h0m0 18h0m0 6h0m0 11h0m0 15h0m0 2h0m1-29h0m0 19h0m1-175h0m0 84h0m0 14h0m0 2h0m0 13h0m0 36h0m1-49h0m0 28h0m0 9h0m1-137h0m0 148h0m0 11h0m0 9h0m0 2h0m1-97h0m0 34h0m0 1h0m0 46h0m1-51h0m1 48h0m0 23h0m1-82h0m0 18h0m0 8h0m0 2h0m0 13h0m0 3h0m1-46h0m1 18h0m0 31h0m1 4h0m0 43h0m1-47h0m2-60h0m0 35h0m0 10h0m1-41h0m7 65h0m2-83h0m1 87h0m22-32h0"/>
<path transform="scale(.1)" stroke="#e0513c" stroke-width="10" stroke-linecap="square" d="M3072 3606h0m2-33h0m0 7h0m0 23h0m0 7h0m0 1h0m1 8h0m2-47h0m0 16h0m0 22h0m1-17h0m1-24h0m0 44h0m0 8h0m0 1h0m1-43h0m0 22h0m5-31h0m1 18h0m0 28h0m1-48h0m0 47h0m0 4h0m1-49h0m0 1h0m0 15h0m0 22h0m0 8h0m2-36h0m0 21h0m0 5h0m1-25h0m1 20h0m1-24h0m6 16h0m0 6h0m0 3h0m0 2h0m0 8h0m1 1h0m1-14h0m0 1h0m1 15h0m2-13h0m1 0h0m0 12h0m2-32h0m7 14h0m0 5h0m0 6h0m1-15h0m1 2h0m0 20h0m1 4h0m1-23h0m0 20h0m2-22h0m1 18h0m0 9h0m2-43h0m0 18h0m1 18h0m0 3h0m1-31h0m0 12h0m1-24h0m0 1h0m0 17h0m0 8h0m0 12h0m0 3h0m1-41h0m1 3h0m1 10h0"/>
<path transform="scale(.1)" stroke="#6ec6d6" stroke-width="10" stroke-linecap="square" d="M3083 3548h0m1-13h0m1 7h0m1-1h0m0 15h0m1-21h0m2 6h0m1 11h0m2-21h0m0 15h0m0 15h0m1-11h0m0 8h0m1-22h0m1-1h0m0 23h0m1-3h0m1-4h0m1-8h0m0 10h0m2-25h0m0 22h0m0 3h0m1-6h0m0 17h0m1-27h0m1 24h0m0 2h0m1-38h0m0 9h0m0 12h0m0 8h0m3-24h0m0 8h0m0 9h0m0 1h0m1-8h0m0 22h0m1-34h0m1-2h0m1 9h0m0 13h0m0 1h0m1-18h0m0 15h0m2-9h0m0 18h0m1-16h0m0 10h0m1-5h0m1-10h0m1 12h0m0 5h0m0 8h0m1-19h0m1 7h0m0 5h0m4-7h0"/>
<path transform="scale(.1)" stroke="#e0513c" stroke-width="10" stroke-linecap="square" d="M3179 3634h0m9 5h0m4-13h0m0 10h0m2-13h0m0 1h0m2-2h0m1 20h0m1-17h0m0 12h0m2-23h0m1 27h0m1-15h0m0 11h0m1-21h0m0 4h0m0 3h0m1 12h0m0 2h0m0 3h0m1-32h0m0 19h0m3-19h0m0 11h0m1-1h0m0 21h0m1 9h0m1-35h0m3 38h0m1-45h0m0 27h0m0 11h0m1-37h0m0 28h0m1-21h0m0 5h0m0 10h0m1-23h0m2 12h0m2 9h0m1-21h0m3-11h0m0 5h0m1 8h0m0 12h0m0 17h0m1-31h0m1-10h0m0 7h0m0 3h0m0 17h0m5-16h0m1 9h0m1-10h0m2-10h0m0 24h0m0 10h0m3-31h0m0 20h0m2-16h0m1 2h0m0 20h0m1-3h0m1-20h0m1 0h0m3 1h0m1-1h0m1-16h0m2 8h0m1-9h0m1 21h0m1-2h0m3 4h0m4-5h0"/>
<path transform="scale(.1)" stroke="#6ec6d6" stroke-width="10" stroke-linecap="square" d="M3191 3634h0m5-7h0m5-18h0m0 3h0m0 6h0m10 25h0m1-45h0m2 20h0m4-8h0m1 19h0m2-33h0m1 36h0m5-36h0m0 41h0m2-48h0m2 22h0m1-22h0m0 37h0m1-34h0m2 7h0m1-2h0m1-6h0m2 8h0m2-5h0m1 8h0m2 19h0m1-12h0m1-23h0m1 7h0m3-7h0m2 29h0m3-31h0m0 21h0m0 3h0m1 1h0m1-18h0m0 23h0m1-28h0m1 24h0m2-3h0m1-19h0m4 1h0m1 8h0m4-15h0m0 1h0"/>
<path transform="scale(.1)" stroke="#e0513c" stroke-width="10" stroke-linecap="square" d="M3288 4162h0m19 161h0m5-93h0m2-56h0m0 80h0m3 57h0m7-82h0m4 42h0m3-14h0m1-10h0m7 24h0m1-47h0m0 4h0m1-6h0m2-12h0m1-4h0m0 6h0m0 18h0m0 15h0m0 1h0m1-48h0m0 5h0m0 3h0m0 43h0m1-5h0m1-30h0m0 7h0m0 3h0m0 9h0m0 21h0m1-82h0m0 40h0m0 32h0m0 17h0m1-58h0m0 17h0m0 5h0m0 34h0m1-58h0m0 16h0m0 10h0m0 27h0m1-57h0m0 3h0m0 1h0m0 19h0m0 15h0m1-56h0m0 22h0m0 10h0m0 21h0m0 106h0m1-141h0m0 8h0m0 2h0m0 1h0m0 11h0m0 44h0m1-19h0m0 6h0m0 23h0m1-79h0m0 21h0m0 142h0m1-147h0m0 30h0m0 2h0m0 21h0m0 1h0m0 9h0m1-56h0m0 3h0m0 33h0m0 19h0m0 5h0m1-71h0m0 8h0m0 2h0m0 43h0m1-69h0m0 12h0m0 12h0m0 3h0m0 48h0m1-25h0m0 15h0m0 14h0m0 6h0m0 10h0m1-61h0m0 15h0m0 25h0m0 23h0m1-74h0m0 7h0m0 12h0m0 3h0m0 10h0m0 11h0m0 2h0m0 37h0m1-103h0m0 23h0m0 3h0m0 4h0m0 1h0m0 7h0m0 26h0m0 7h0m0 13h0m0 9h0m0 14h0m0 4h0m1-92h0m0 67h0m0 12h0m1-129h0m0 33h0m0 6h0m0 6h0m0 50h0m0 6h0m1-78h0m0 39h0m0 30h0m0 9h0m0 9h0m0 5h0m0 27h0m1-113h0m0 2h0m0 28h0m0 2h0m0 4h0m0 5h0m0 18h0m0 1h0m0 6h0m0 9h0m0 13h0m0 5h0m0 2h0m0 8h0m0 16h0m0 6h0m1-119h0m0 15h0m0 10h0m0 2h0m0 12h0m0 10h0m0 1h0m0 33h0m0 11h0m0 5h0m0 16h0m1-122h0m0 43h0m0 62h0m1-79h0m0 4h0m0 6h0m0 89h0m1-109h0m0 31h0m0 17h0m0 1h0m0 15h0m0 7h0m0 9h0m1-92h0m0 22h0m0 2h0m0 40h0m0 6h0m0 26h0m1-89h0m0 10h0m0 3h0m0 22h0m0 9h0m0 6h0m0 9h0m0 13h0m0 13h0m0 20h0m1-104h0m0 1h0m0 37h0m0 6h0m0 60h0m1-100h0m0 16h0m0 9h0m0 13h0m0 3h0m0 7h0m0 15h0m0 1h0m0 1h0m0 18h0m0 5h0m0 27h0m1-151h0m0 13h0m0 2h0m0 13h0m0 13h0m0 15h0m0 29h0m0 2h0m0 49h0m0 1h0m0 7h0m0 9h0m0 59h0m1-175h0m0 15h0m0 13h0m0 4h0m0 26h0m0 27h0m0 38h0m1-137h0m0 32h0m0 7h0m0 6h0m0 43h0m0 1h0m0 2h0m0 20h0m1-107h0m0 4h0m0 14h0m0 12h0m0 3h0m0 92h0m0 16h0m1-136h0m0 48h0m0 40h0m0 35h0m1-152h0m0 34h0m0 16h0m0 16h0m0 14h0m0 29h0m0 54h0m0 22h0m1-142h0m0 40h0m0 23h0m0 2h0m0 5h0m0 2h0m0 4h0m0 10h0m0 1h0m0 7h0m1-123h0m0 9h0m0 17h0m0 5h0m0 9h0m0 98h0m1-139h0m0 26h0m0 29h0m0 1h0m0 3h0m0 2h0m0 2h0m0 2h0m0 42h0m0 47h0m1-145h0m0 16h0m0 9h0m0 8h0m0 25h0m0 27h0m0 9h0m0 44h0m1-142h0m0 3h0m0 14h0m0 34h0m0 50h0m0 49h0m1-166h0m0 21h0m0 1h0m0 10h0m0 5h0m0 6h0m0 2h0m0 33h0m0 49h0m0 5h0m0 4h0m0 2h0m0 11h0m1-66h0m0 16h0m0 9h0m1-103h0m0 18h0m0 15h0m0 20h0m0 6h0m0 1h0m0 2h0m0 26h0m0 6h0m1-92h0m0 13h0m0 32h0m0 17h0m0 6h0m0 5h0m0 3h0m0 15h0m0 3h0m0 4h0m0 9h0m0 34h0m0 6h0m0 15h0m0 2h0m1-173h0m0 12h0m0 13h0m0 37h0m0 36h0m0 12h0m0 22h0m0 9h0m0 2h0m1-152h0m0 32h0m0 2h0m0 7h0m0 21h0m0 3h0m0 6h0m0 6h0m0 47h0m0 7h0m0 24h0m1-143h0m0 5h0m0 1h0m0 1h0m0 9h0m0 6h0m0 16h0m0 1h0m0 18h0m0 17h0m0 5h0m0 6h0m0 2h0m0 3h0m0 46h0m0 5h0m1-128h0m0 30h0m0 13h0m0 3h0m0 8h0m0 17h0m0 44h0m0 4h0m0 33h0m0 11h0m1-173h0m0 8h0m0 12h0m0 8h0m0 2h0m0 7h0m0 15h0m0 1h0m0 2h0m0 4h0m0 9h0m0 24h0m0 5h0m0 4h0m0 26h0m0 13h0m0 25h0m1-125h0m0 35h0m0 2h0m0 27h0m0 10h0m0 1h0m0 30h0m0 12h0m0 3h0m1-154h0m0 7h0m0 9h0m0 27h0m0 3h0m0 4h0m0 1h0m0 18h0m0 16h0m0 13h0m0 35h0m1-141h0m0 14h0m0 8h0m0 10h0m0 9h0m0 18h0m0 18h0m0 8h0m0 8h0m0 5h0m0 2h0m0 34h0m0 29h0m1-111h0m0 2h0m0 4h0m0 6h0m0 10h0m0 6h0m0 23h0m0 17h0m0 4h0m0 7h0m0 3h0m0 7h0m0 5h0m0 16h0m1-149h0m0 4h0m0 32h0m0 1h0m0 14h0m0 19h0m0 6h0m0 4h0m0 10h0m0 11h0m0 17h0m0 31h0m0 2h0m1-193h0m0 21h0m0 21h0m0 6h0m0 16h0m0 4h0m0 7h0m0 7h0m0 3h0m0 6h0m0 3h0m0 2h0m0 7h0m0 32h0m0 38h0m0 4h0m0 3h0m1-119h0m0 3h0m0 1h0m0 19h0m0 31h0m0 13h0m0 27h0m0 34h0m0 1h0m0 2h0m1-142h0m0 16h0m0 1h0m0 17h0m0 30h0m0 29h0m0 7h0m0 3h0m0 14h0m1-133h0m0 31h0m0 18h0m0 5h0m0 5h0m0 8h0m0 2h0m0 1h0m0 24h0m0 24h0m0 29h0m0 4h0m0 4h0m0 2h0m1-168h0m0 2h0m0 40h0m0 10h0m0 4h0m0 14h0m0 5h0m0 14h0m0 3h0m0 57h0m0 17h0m1-162h0m0 2h0m0 15h0m0 10h0m0 10h0m0 5h0m0 11h0m0 43h0m0 20h0m0 17h0m0 3h0m0 30h0m0 1h0m1-168h0m0 43h0m0 2h0m0 37h0m0 19h0m0 44h0m0 8h0m0 10h0m1-167h0m0 8h0m0 3h0m0 28h0m0 14h0m0 54h0m0 34h0m0 10h0m0 19h0m1-171h0m0 23h0m0 1h0m0 24h0m0 10h0m0 2h0m0 28h0m0 57h0m0 15h0m0 8h0m1-155h0m0 6h0m0 11h0m0 2h0m0 11h0m0 6h0m0 1h0m0 4h0m0 21h0m0 10h0m0 8h0m0 15h0m1-117h0m0 17h0m0 1h0m0 47h0m0 8h0m0 15h0m0 26h0m0 9h0m0 22h0m0 6h0m0 16h0m0 2h0m1-143h0m0 9h0m0 25h0m0 5h0m0 8h0m0 15h0m0 1h0m0 18h0m0 65h0m0 8h0m1-167h0m0 45h0m0 8h0m0 18h0m0 7h0m0 42h0m0 23h0m0 6h0m0 5h0m0 9h0m1-138h0m0 13h0m0 16h0m0 3h0m0 3h0m0 3h0m0 10h0m0 7h0m0 2h0m0 57h0m0 14h0m0 3h0m0 10h0m1-165h0m0 5h0m0 3h0m0 46h0m0 64h0m0 16h0m0 19h0m0 8h0m1-152h0m0 4h0m0 29h0m0 6h0m0 1h0m0 11h0m0 7h0m0 2h0m0 11h0m0 35h0m0 34h0m0 10h0m1-130h0m0 31h0m0 21h0m0 7h0m0 48h0m0 4h0m0 7h0m0 18h0m1-167h0m0 9h0m0 14h0m0 11h0m0 42h0m0 8h0m0 4h0m0 1h0m0 35h0m0 25h0m0 9h0m0 9h0m1-160h0m0 1h0m0 15h0m0 11h0m0 17h0m0 24h0m0 12h0m0 1h0m0 14h0m0 2h0m0 9h0m0 8h0m0 30h0m0 13h0m1-123h0m0 19h0m0 7h0m0 59h0m0 3h0m0 23h0m1-120h0m0 2h0m0 3h0m0 3h0m0 17h0m0 5h0m0 1h0m0 6h0m0 25h0m0 17h0m0 1h0m0 2h0m0 21h0m0 32h0m1-150h0m0 3h0m0 10h0m0 19h0m0 8h0m0 2h0m0 15h0m0 30h0m0 5h0m0 26h0m0 13h0m1-118h0m0 4h0m0 36h0m0 6h0m0 11h0m0 39h0m0 25h0m0 9h0m0 1h0m1-142h0m0 25h0m0 6h0m0 13h0m0 7h0m0 21h0m0 6h0m0 26h0m0 8h0m0 6h0m0 11h0m1-122h0m0 20h0m0 7h0m0 2h0m0 1h0m0 4h0m0 8h0m0 3h0m0 21h0m0 1h0m0 23h0m0 2h0m0 22h0m0 5h0m1-129h0m0 68h0m0 18h0m0 16h0m0 29h0m1-112h0m0 2h0m0 48h0m0 18h0m0 24h0m0 2h0m0 4h0m1-138h0m0 4h0m0 18h0m0 28h0m0 4h0m0 12h0m0 10h0m0 16h0m0 61h0m0 1h0m1-92h0m0 2h0m0 22h0m0 7h0m0 10h0m0 18h0m0 12h0m0 7h0m0 11h0m1-129h0m0 66h0m0 17h0m0 11h0m0 13h0m0 30h0m0 4h0m0 3h0m0 61h0m1-204h0m0 8h0m0 30h0m0 15h0m0 8h0m0 3h0m0 7h0m0 12h0m0 6h0m0 29h0m0 5h0m0 6h0m1-137h0m0 66h0m0 17h0m0 12h0m0 21h0m0 16h0m0 3h0m0 2h0m1-123h0m0 4h0m0 6h0m0 7h0m0 101h0m1-130h0m0 12h0m0 27h0m0 8h0m0 1h0m0 24h0m0 15h0m0 45h0m0 2h0m0 12h0m1-157h0m0 1h0m0 74h0m0 5h0m0 21h0m0 15h0m0 9h0m0 68h0m1-152h0m0 31h0m0 21h0m0 46h0m0 5h0m1-116h0m0 10h0m0 6h0m0 1h0m0 19h0m0 1h0m0 17h0m0 34h0m0 32h0m1-120h0m0 10h0m0 14h0m0 47h0m0 11h0m0 8h0m0 1h0m1-97h0m0 16h0m0 12h0m0 2h0m0 12h0m0 10h0m0 6h0m0 5h0m0 28h0m0 6h0m1-140h0m0 24h0m0 5h0m0 16h0m0 49h0m0 38h0m1-94h0m0 5h0m0 53h0m0 35h0m0 22h0m0 3h0m0 5h0m0 8h0m0 4h0m1-145h0m0 2h0m0 7h0m0 21h0m0 20h0m0 11h0m0 4h0m0 20h0m0 1h0m0 10h0m0 3h0m0 16h0m0 5h0m0 24h0m0 1h0m0 2h0m1-140h0m0 42h0m0 3h0m0 23h0m0 3h0m0 5h0m0 28h0m0 15h0m0 16h0m1-77h0m0 11h0m0 17h0m0 5h0m0 16h0m0 2h0m1-123h0m0 19h0m0 2h0m0 5h0m0 32h0m0 15h0m0 8h0m0 7h0m0 1h0m0 4h0m0 23h0m0 16h0m0 2h0m1-120h0m0 51h0m0 32h0m0 20h0m0 18h0m0 16h0m1-125h0m0 39h0m0 3h0m0 2h0m0 22h0m0 17h0m0 16h0m0 9h0m1-107h0m0 25h0m0 13h0m0 7h0m0 53h0m0 10h0m1-121h0m0 20h0m0 3h0m0 2h0m0 4h0m0 1h0m0 3h0m0 12h0m0 18h0m0 27h0m0 6h0m0 13h0m1-120h0m0 12h0m0 42h0m0 45h0m0 7h0m0 3h0m0 10h0m0 25h0m1-130h0m0 28h0m0 19h0m0 4h0m0 9h0m0 14h0m0 6h0m0 41h0m0 10h0m1-68h0m0 26h0m0 5h0m0 16h0m0 7h0m0 2h0m1-120h0m0 29h0m0 11h0m0 1h0m0 15h0m0 30h0m0 21h0m0 13h0m0 31h0m1-143h0m0 22h0m0 5h0m0 35h0m0 25h0m0 27h0m1-112h0m0 13h0m0 11h0m0 13h0m0 10h0m0 67h0m1-108h0m0 35h0m0 23h0m1-79h0m0 77h0m0 39h0m0 13h0m1-103h0m0 17h0m0 14h0m0 12h0m0 4h0m0 17h0m0 12h0m1-108h0m0 24h0m0 8h0m0 12h0m0 5h0m0 67h0m1-51h0m0 7h0m0 49h0m0 12h0m1-70h0m0 40h0m0 29h0m1-110h0m0 52h0m0 20h0m0 5h0m1-35h0m0 24h0m1-46h0m0 79h0m1-92h0m0 12h0m0 13h0m0 43h0m1-33h0m0 3h0m0 14h0m0 20h0m0 10h0m0 1h0m0 12h0m1-92h0m0 3h0m0 71h0m0 4h0m0 8h0m1-73h0m0 18h0m0 10h0m0 5h0m0 22h0m0 22h0m1-79h0m0 46h0m0 3h0m0 3h0m0 5h0m0 22h0m1-62h0m0 2h0m0 10h0m0 33h0m0 4h0m1-112h0m0 66h0m0 25h0m0 14h0m0 6h0m1-74h0m0 5h0m0 10h0m0 4h0m0 54h0m1-79h0m1-6h0m0 8h0m0 33h0m1-54h0m0 14h0m0 38h0m0 7h0m0 40h0m1-66h0m0 34h0m0 57h0m1-78h0m0 23h0m0 31h0m0 3h0m0 21h0m1-64h0m0 15h0m0 16h0m0 20h0m1-46h0m0 1h0m0 11h0m1-21h0m0 7h0m0 6h0m0 11h0m1-81h0m0 87h0m0 3h0m0 6h0m2-61h0m0 34h0m0 4h0m0 3h0m1-22h0m0 9h0m0 20h0m1-10h0m0 10h0m0 51h0m1-95h0m0 51h0m0 27h0m1-101h0m0 71h0m0 3h0m3-80h0m0 21h0m0 15h0m0 10h0m1 12h0m1-18h0m1 8h0m0 72h0m1-65h0m0 48h0m1-84h0m1 37h0m1-10h0m1 12h0m1 107h0m1-166h0m0 217h0m2-178h0m0 127h0m4-93h0m17 64h0"/>
<path transform="scale(.1)" stroke="#6ec6d6" stroke-width="10" stroke-linecap="square" d="M3395 4095h0m10 76h0m2 13h0m1-11h0m2 41h0m6-29h0m3 30h0m1-22h0m2-23h0m0 77h0m3-70h0m1 21h0m7-9h0m1-16h0m0 27h0m1-20h0m0 65h0m1-110h0m1 48h0m1 3h0m0 10h0m0 45h0m2-32h0m1-83h0m0 46h0m1 7h0m1 16h0m5-13h0m2 4h0m1-8h0m0 7h0m0 12h0m1-16h0m0 7h0m0 30h0m1-45h0m1 7h0m0 17h0m1-21h0m0 7h0m0 1h0m0 17h0m1-1h0m1-56h0m1 32h0m1 18h0m1-15h0m0 13h0m0 2h0m0 4h0m1-8h0m0 10h0m1-154h0m1 107h0m0 24h0m1-32h0m0 10h0m0 26h0m0 13h0m0 33h0m1-53h0m1-52h0m0 50h0m0 11h0m0 45h0m0 13h0m1-105h0m0 52h0m1-45h0m0 33h0m0 1h0m0 17h0m0 5h0m0 5h0m1 32h0m0 20h0m1-102h0m0 14h0m1-18h0m0 26h0m0 9h0m1 6h0m0 15h0m1-23h0m0 5h0m0 1h0m1-52h0m0 2h0m0 28h0m0 9h0m0 23h0m0 26h0m1-42h0m0 8h0m1-63h0m0 63h0m0 14h0m0 14h0m1-53h0m0 2h0m0 29h0m0 22h0m1-90h0m0 29h0m0 68h0m0 13h0m1-53h0m0 1h0m0 14h0m1-5h0m0 25h0m1-73h0m0 61h0m0 39h0m1-67h0m0 60h0m1-123h0m0 43h0m0 52h0m0 12h0m0 36h0m1-124h0m1 8h0m0 16h0m0 15h0m0 19h0m0 25h0m0 20h0m1-108h0m0 87h0m1-94h0m0 18h0m0 39h0m0 4h0m0 14h0m0 22h0m0 24h0m1-83h0m1-8h0m0 14h0m0 5h0m0 3h0m1-44h0m0 35h0m0 5h0m0 2h0m0 32h0m0 32h0m0 1h0m1-91h0m0 19h0m0 14h0m0 15h0m0 9h0m0 17h0m1-45h0m0 1h0m0 37h0m0 1h0m0 16h0m1-41h0m0 3h0m0 18h0m0 21h0m1-149h0m0 80h0m0 31h0m0 30h0m0 12h0m0 19h0m0 2h0m1-87h0m0 27h0m0 5h0m0 5h0m0 5h0m0 6h0m0 7h0m1-43h0m0 2h0m0 4h0m0 1h0m0 44h0m1-72h0m0 35h0m0 2h0m0 4h0m1-21h0m0 4h0m0 5h0m0 11h0m0 20h0m1-48h0m0 4h0m0 11h0m0 14h0m1-10h0m0 17h0m0 10h0m1-22h0m0 15h0m0 22h0m1-65h0m0 14h0m0 7h0m0 2h0m0 17h0m1-25h0m0 45h0m2-36h0m0 1h0m1-45h0m1 25h0m5-95h0m1 120h0m2 30h0m11-40h0m5-15h0m21 49h0"/>
<path d="M263.40 370.50 C270.00 368.60 277.00 368.80 283.10 369.70 C292.00 367.20 300.00 365.80 308.00 366.20 L314.90 370.50 L336.50 351.30 M314.90 370.50 C317.50 374.20 318.20 378.20 318.10 382.30 L318.90 395.40 L307.20 423.00 M318.90 395.40 L335.00 417.40 M283.10 369.70 L277.90 377.80" fill="none" stroke="#000" stroke-width="0.9"/>
<circle cx="283.10" cy="369.70" r="1.8" fill="#000"/>
<circle cx="308.00" cy="366.20" r="1.8" fill="#000"/>
<circle cx="314.90" cy="370.50" r="1.8" fill="#000"/>
<circle cx="318.90" cy="395.40" r="1.8" fill="#000"/>
<path d="M316.20 382.40 L319.60 380.20 L319.60 384.40 Z" fill="#000"/>
<circle cx="371.3" cy="383.3" r="2.3" fill="#6ec6d6"/>
<circle cx="371.3" cy="390.1" r="2.3" fill="#e0513c"/>
<text x="374.60" y="385.00" font-size="7.1"><tspan font-style="italic">Supt6</tspan><tspan> KO</tspan></text>
<text x="374.60" y="392.00" font-size="7.1">Control</text>
<line x1="230.80" y1="456.30" x2="230.80" y2="415.80" stroke="#777" stroke-width="0.8"/>
<path d="M230.80 411.70L228.40 416.30L233.20 416.30Z" fill="#000"/>
<line x1="230.40" y1="456.30" x2="271.30" y2="456.30" stroke="#777" stroke-width="0.8"/>
<path d="M275.40 456.30L270.80 453.90L270.80 458.70Z" fill="#000"/>
<text x="226.30" y="436.60" font-size="7.0" text-anchor="middle" transform="rotate(-90 226.30 436.60)">Component 2</text>
<text x="250.90" y="464.00" font-size="7.0" text-anchor="middle">Component 1</text>
<text x="559.40" y="329.00" font-size="11.6" text-anchor="middle">5-Bas-2</text>
<rect x="441.3" y="335.2" width="238.0" height="136.9" fill="none" stroke="#3a3a3a" stroke-width="1.3"/>
<text x="497.70" y="346.60" font-size="11.6" text-anchor="middle">Control</text>
<text x="626.70" y="346.60" font-size="11.6" text-anchor="middle"><tspan font-style="italic">Supt6</tspan><tspan> KO</tspan></text>
<path transform="scale(.1)" stroke="#c48a80" stroke-width="14" stroke-linecap="square" d="M4664 3713h0m12 27h0m2-63h0m0 81h0m1-67h0m0 12h0m2 5h0m1-31h0m3 19h0m0 1h0m1-17h0m2 22h0m0 17h0m0 26h0m7-7h0m3 2h0m2-82h0m0 36h0m1 32h0m2-14h0m1-3h0m1-9h0m1 10h0m1-30h0m0 11h0m0 38h0m0 7h0m1-84h0m0 86h0m2-63h0m0 20h0m1 0h0m2 24h0m2-44h0m1-3h0m0 18h0m0 30h0m1-25h0m1-27h0m0 11h0m1-38h0m0 52h0m1 9h0m3 3h0m1-52h0m2 35h0m1-48h0m2 57h0m2 6h0m1-6h0m0 4h0m1-59h0m0 54h0m2-14h0m5 16h0m1-6h0m1-12h0m0 15h0m1 11h0m1-61h0m0 35h0m0 20h0m2-27h0m1 17h0m1-51h0m2-12h0m3 73h0m1-6h0m2-33h0m1-43h0m0 77h0m4-8h0m4 6h0m4-34h0m1-34h0m0 17h0m1 33h0m1 20h0m3 1h0m3-40h0m1-17h0m2 8h0m1-29h0m2 17h0m0 47h0m2-35h0m2 0h0m6-34h0m1 50h0m10-40h0m1 37h0m0 249h0m1-294h0m1 58h0m6-37h0m8 20h0m6-40h0m0 231h0m3-198h0m0 20h0m1-38h0m1 35h0m3-65h0m4 31h0m1 190h0m1-172h0m1-33h0m0 195h0m2-7h0m2-181h0m1-21h0m0 250h0m1-205h0m0 163h0m2-158h0m0 171h0m1 10h0m0 8h0m2-5h0m0 11h0m4-218h0m1 211h0m1-1h0m1-35h0m3 45h0m1-83h0m0 22h0m4-3h0m8-121h0m13-9h0m6-5h0m5 8h0m20-24h0m21-16h0m6 9h0m4-13h0m6-6h0m1 6h0m2-5h0m21-28h0m15-15h0m10-40h0m15 25h0m15 35h0m20-50h0m10 60h0m15-30h0m1 776h0m0 57h0m14-868h0m8 757h0m7-727h0m10-40h0m11 650h0m30-235h0m2-30h0m2 55h0m5-170h0m7-169h0m23 74h0m24 170h0m128-442h0"/>
<path d="M474.0 368.6 C479.0 366.6 481.8 369.8 489.8 370.3 C497 365 505.7 365.6 509.7 365.6 L515.2 370.7 L534.0 346.0 M515.2 370.7 L517.7 385.3 L518.2 403.0 L509.7 437.0 M518.2 403.0 L532.5 430.5 M489.8 370.3 L485.0 381.0" fill="none" stroke="#000" stroke-width="0.8"/>
<circle cx="489.8" cy="370.3" r="2.85" fill="#000"/>
<circle cx="509.7" cy="365.6" r="2.85" fill="#000"/>
<circle cx="515.2" cy="370.7" r="2.85" fill="#000"/>
<circle cx="517.7" cy="385.3" r="2.85" fill="#000"/>
<circle cx="518.2" cy="403.0" r="2.85" fill="#000"/>
<path transform="scale(.1)" stroke="#5bbfb0" stroke-width="14" stroke-linecap="square" d="M5921 3767h0m3 1h0m2-8h0m0 9h0m1-9h0m1-28h0m0 10h0m0 2h0m1-5h0m0 8h0m1 20h0m1-29h0m1-8h0m4 16h0m2-13h0m3-14h0m1 28h0m2-24h0m0 2h0m2 14h0m1 6h0m1 5h0m1-46h0m1 46h0m1-40h0m0 35h0m2-37h0m1 30h0m1-10h0m0 4h0m0 6h0m1-21h0m2-14h0m6 31h0m0 5h0m4-22h0m4 1h0m1 2h0m0 5h0m1-30h0m0 26h0m1 15h0m1-31h0m0 14h0m0 12h0m1-40h0m1-16h0m1 50h0m3 3h0m1-37h0m3-8h0m1 18h0m2-4h0m4-38h0m2 54h0m0 7h0m1-50h0m0 33h0m3 8h0m1-24h0m0 14h0m1 18h0m1-32h0m2 12h0m6-44h0m0 21h0m1-9h0m2 25h0m0 11h0m1-18h0m7 7h0m5 18h0m1-47h0m1 8h0m0 8h0m1 27h0m1-41h0m0 23h0m2 14h0m0 3h0m0 214h0m2-237h0m0 2h0m1-16h0m2 1h0m0 1h0m0 40h0m1-13h0m1 260h0m5-282h0m3 297h0m1-290h0m2 251h0m1-234h0m0 233h0m2-34h0m1-244h0m0 23h0m1 226h0m0 11h0m2-231h0m0 2h0m2-14h0m0 19h0m1-23h0m0 18h0m3 21h0m0 179h0m2-221h0m0 240h0m1-222h0m1-5h0m0 25h0m1-19h0m0 14h0m0 195h0m1-226h0m0 3h0m0 5h0m1 219h0m2-218h0m0 21h0m0 4h0m2-14h0m1 223h0m1-34h0m1-27h0m0 36h0m2-204h0m0 10h0m1-5h0m0 15h0m0 2h0m1-5h0m0 4h0m0 7h0m1-8h0m2 204h0m2-204h0m1-32h0m0 12h0m0 161h0m0 65h0m2-58h0m1-166h0m0 20h0m1-45h0m0 52h0m1-19h0m0 181h0m1-204h0m1 41h0m1-48h0m0 16h0m0 1h0m0 19h0m1 133h0m2 17h0m0 29h0m0 7h0m1-29h0m1-174h0m0 141h0m1-163h0m0 228h0m1-205h0m0 12h0m0 128h0m1-130h0m0 2h0m2-12h0m2-10h0m2 2h0m2-18h0m0 58h0m1-53h0m0 17h0m0 136h0m2-112h0m0 1h0m0 3h0m1-22h0m0 131h0m2-118h0m1 109h0m3-133h0m0 16h0m0 9h0m2-12h0m0 1h0m1 30h0m1-4h0m6-19h0m1-7h0m1 8h0m1-1h0m1 11h0m0 3h0m2-17h0m1 11h0m26-27h0m4-2h0m4-1h0m2-6h0m2-1h0m3 0h0m2 9h0m1-5h0m0 20h0m3-30h0m0 8h0m1 13h0m6 6h0m3-36h0m1 0h0m0 6h0m0 6h0m0 8h0m2 16h0m1-37h0m1 11h0m4-6h0m1-9h0m0 15h0m2-20h0m3 38h0m4-32h0m0 8h0m2-6h0m2 32h0m2-17h0m1-21h0m0 4h0m2-4h0m0 32h0m2-40h0m0 9h0m0 31h0m0 2h0m1-28h0m0 29h0m1-44h0m1 33h0m1 12h0m1-13h0m2 9h0m2-37h0m3-6h0m3 13h0m1 10h0m0 11h0m1-20h0m0 15h0m1 9h0m2-27h0m1-14h0m0 20h0m0 12h0m1-21h0m0 2h0m1 9h0m0 12h0m4-16h0m0 22h0m4-27h0m2-19h0m0 14h0m0 5h0m0 25h0m2-3h0m2-29h0m0 2h0m3 7h0m0 4h0m3-3h0m3-10h0m2-4h0m1-6h0m0 8h0m2 5h0m0 6h0m2-18h0m6 6h0m1 15h0m1-15h0m1-6h0m1 32h0m1-26h0m2 12h0m0 13h0m1-1h0m1-22h0m1-7h0m0 23h0m2-27h0m0 16h0m2 11h0m1-17h0m1 14h0m1-20h0m1 7h0m3 6h0m2 710h0m1-723h0m1 0h0m2 23h0m2-21h0m1 18h0m3-16h0m0 809h0m1-813h0m19 713h0m20-719h0m0 10h0m1-23h0m1 24h0m5-27h0m1 643h0m1-615h0m1 837h0m2-836h0m3-14h0m0 604h0m0 30h0m1-13h0m3 3h0m1-36h0m2-608h0m0 4h0m0 2h0m0 20h0m2 4h0m1-7h0m0 630h0m1-638h0m0 8h0m0 531h0m1-564h0m0 4h0m0 639h0m1-635h0m1-10h0m0 7h0m0 12h0m0 5h0m0 576h0m0 66h0m3-652h0m1 656h0m1-672h0m0 4h0m0 628h0m1-612h0m0 8h0m0 1h0m2-7h0m0 644h0m7-93h0m1-8h0m1 55h0m3-37h0m0 20h0m2 67h0m1-85h0m1 31h0m3-33h0m0 2h0m0 23h0m2-503h0m1 498h0m1-9h0m2-40h0m1-470h0m0 23h0m0 442h0m3-443h0m0 468h0m4-47h0m3-411h0m0 408h0m1-31h0m1-280h0m1 28h0m2-41h0m0 271h0m1-394h0m2 135h0m1-117h0m0 394h0m1-279h0m2 21h0m0 322h0m3-456h0m0 431h0m3-445h0m0 406h0m1-1h0m0 28h0m1-30h0m3 33h0m1-4h0m1-419h0m2-41h0m0 19h0m2 437h0m2 15h0m1-454h0m1-3h0m2 4h0m0 14h0m2 517h0m4-534h0m1-12h0m1 18h0m9 12h0m3 215h0m2 3h0m1-234h0m1 6h0m4 229h0m1-259h0m1-5h0m2 260h0m1 2h0m0 4h0m3-229h0m3-35h0m3 254h0m0 255h0m4-495h0m3-6h0m1-21h0m0 267h0m1-220h0m1 212h0m1 1h0m1-10h0m8-2h0m0 304h0m1-548h0m3 18h0m1-27h0m1 24h0m6-24h0m6-10h0m10-9h0m5 21h0m4-26h0m0 7h0m5-18h0m0 6h0m2 6h0m4 3h0m3 4h0m15 687h0m0 12h0m1-22h0m1 9h0m1 2h0m2-767h0m1 782h0m1 6h0m1-795h0m1 8h0m2 755h0m2-11h0m1-731h0m0 748h0m1-26h0m0 16h0m0 31h0m1-19h0m0 39h0m1-795h0m1 1h0m0 766h0m1-761h0m0 725h0m3-777h0m1 810h0m1-738h0m0 752h0m1-813h0m0 823h0m2-832h0m1 801h0m1-811h0m0 44h0m0 17h0m1-49h0m1-14h0m0 68h0m1-6h0m0 753h0m1-3h0m1-771h0m0 43h0m0 727h0m1-800h0m0 61h0m1-19h0m2-20h0m0 41h0m1-76h0m0 79h0m1-17h0m1 774h0m2-814h0m0 38h0m0 11h0m2-19h0m1-51h0m1 60h0m0 18h0m0 5h0m2-51h0m0 12h0m1-36h0m3 74h0m1-67h0m0 35h0m0 3h0m1 2h0m2-16h0m3-27h0m0 36h0m0 13h0m0 2h0m1 21h0m4-56h0m2 8h0m0 59h0m3-60h0m2 12h0"/>
<path d="M593.0 374.4 C598.0 372.4 605.8 374.0 613.8 374.5 C623 369 631.7 370.4 635.7 370.4 L641.4 374.9 L662.2 354.6 M641.4 374.9 L643.8 386.9 L645.0 401.5 L635.7 429.6 M645.0 401.5 L660.3 425.8 M613.8 374.5 L606.2 386.9" fill="none" stroke="#000" stroke-width="0.8"/>
<circle cx="613.8" cy="374.5" r="2.85" fill="#000"/>
<circle cx="635.7" cy="370.4" r="2.85" fill="#000"/>
<circle cx="641.4" cy="374.9" r="2.85" fill="#000"/>
<circle cx="643.8" cy="386.9" r="2.85" fill="#000"/>
<circle cx="645.0" cy="401.5" r="2.85" fill="#000"/>
<line x1="458.70" y1="456.30" x2="458.70" y2="415.30" stroke="#999" stroke-width="0.75"/>
<path d="M458.70 411.10L455.80 415.80L461.60 415.80Z" fill="#000"/>
<line x1="458.35" y1="456.30" x2="500.60" y2="456.30" stroke="#999" stroke-width="0.75"/>
<path d="M504.80 456.30L500.10 453.40L500.10 459.20Z" fill="#000"/>
<text x="453.40" y="435.20" font-size="7.1" text-anchor="middle" transform="rotate(-90 453.40 435.20)">Component 2</text>
<text x="477.90" y="463.50" font-size="7.0" text-anchor="middle">Component 1</text>
<line x1="587.70" y1="456.30" x2="587.70" y2="415.30" stroke="#999" stroke-width="0.75"/>
<path d="M587.70 411.10L584.80 415.80L590.60 415.80Z" fill="#000"/>
<line x1="587.35" y1="456.30" x2="628.80" y2="456.30" stroke="#999" stroke-width="0.75"/>
<path d="M633.00 456.30L628.30 453.40L628.30 459.20Z" fill="#000"/>
<text x="582.40" y="435.20" font-size="7.1" text-anchor="middle" transform="rotate(-90 582.40 435.20)">Component 2</text>
<text x="606.90" y="463.50" font-size="7.0" text-anchor="middle">Component 1</text>
<text x="98.20" y="486.10" font-size="17.0" fill="#000">G</text>
<text x="166.80" y="499.80" font-size="11.7" text-anchor="middle">Control</text>
<rect x="131.70" y="502.30" width="67.30" height="1.41" fill="url(#h1)"/>
<rect x="131.70" y="503.11" width="67.30" height="1.46" fill="url(#h2)"/>
<rect x="131.70" y="503.97" width="67.30" height="2.12" fill="url(#h3)"/>
<rect x="131.70" y="505.49" width="67.30" height="1.58" fill="url(#h4)"/>
<rect x="131.70" y="506.47" width="67.30" height="0.83" fill="url(#h5)"/>
<rect x="131.70" y="507.30" width="67.30" height="2.49" fill="url(#h6)"/>
<rect x="131.70" y="509.19" width="67.30" height="0.11" fill="url(#h7)"/>
<rect x="131.70" y="509.30" width="67.30" height="1.69" fill="url(#h8)"/>
<rect x="131.70" y="510.39" width="67.30" height="1.91" fill="url(#h9)"/>
<rect x="131.70" y="511.70" width="67.30" height="1.50" fill="url(#h10)"/>
<rect x="131.70" y="513.20" width="67.30" height="2.04" fill="url(#h11)"/>
<rect x="131.70" y="514.64" width="67.30" height="2.19" fill="url(#h12)"/>
<rect x="131.70" y="516.24" width="67.30" height="0.06" fill="url(#h13)"/>
<rect x="131.70" y="516.30" width="67.30" height="1.74" fill="url(#h14)"/>
<rect x="131.70" y="517.44" width="67.30" height="1.58" fill="url(#h15)"/>
<rect x="131.70" y="518.42" width="67.30" height="2.37" fill="url(#h16)"/>
<rect x="131.70" y="520.20" width="67.30" height="1.47" fill="url(#h17)"/>
<rect x="131.70" y="521.06" width="67.30" height="1.45" fill="url(#h18)"/>
<rect x="131.70" y="521.91" width="67.30" height="1.61" fill="url(#h19)"/>
<rect x="131.70" y="522.93" width="67.30" height="1.96" fill="url(#h20)"/>
<rect x="131.70" y="524.28" width="67.30" height="2.05" fill="url(#h21)"/>
<rect x="131.70" y="525.73" width="67.30" height="2.20" fill="url(#h22)"/>
<rect x="131.70" y="527.33" width="67.30" height="2.37" fill="url(#h23)"/>
<rect x="131.70" y="529.10" width="67.30" height="1.56" fill="url(#h24)"/>
<rect x="131.70" y="530.06" width="67.30" height="2.33" fill="url(#h25)"/>
<rect x="131.70" y="531.79" width="67.30" height="1.79" fill="url(#h26)"/>
<rect x="131.70" y="532.99" width="67.30" height="1.71" fill="url(#h27)"/>
<rect x="131.70" y="534.10" width="67.30" height="1.46" fill="url(#h28)"/>
<rect x="131.70" y="534.96" width="67.30" height="1.04" fill="url(#h29)"/>
<rect x="131.70" y="536.00" width="67.30" height="1.1" fill="#ffffff"/>
<rect x="131.70" y="537.10" width="67.30" height="1.97" fill="url(#h30)"/>
<rect x="131.70" y="538.47" width="67.30" height="2.19" fill="url(#h31)"/>
<rect x="131.70" y="540.05" width="67.30" height="1.47" fill="url(#h32)"/>
<rect x="131.70" y="540.92" width="67.30" height="1.88" fill="url(#h33)"/>
<rect x="131.70" y="542.20" width="67.30" height="1.70" fill="url(#h34)"/>
<rect x="131.70" y="543.29" width="67.30" height="1.66" fill="url(#h35)"/>
<rect x="131.70" y="544.35" width="67.30" height="1.43" fill="url(#h36)"/>
<rect x="131.70" y="545.17" width="67.30" height="1.03" fill="url(#h37)"/>
<rect x="131.70" y="546.20" width="67.30" height="0.6" fill="#f4f7fb"/>
<rect x="131.70" y="546.80" width="67.30" height="2.22" fill="url(#h38)"/>
<rect x="131.70" y="548.42" width="67.30" height="2.30" fill="url(#h39)"/>
<rect x="131.70" y="550.12" width="67.30" height="1.60" fill="url(#h40)"/>
<rect x="131.70" y="551.12" width="67.30" height="2.27" fill="url(#h41)"/>
<rect x="131.70" y="552.78" width="67.30" height="2.28" fill="url(#h42)"/>
<rect x="131.70" y="554.47" width="67.30" height="1.53" fill="url(#h43)"/>
<rect x="131.70" y="555.39" width="67.30" height="1.76" fill="url(#h44)"/>
<rect x="131.70" y="556.56" width="67.30" height="2.24" fill="url(#h45)"/>
<rect x="131.70" y="558.19" width="67.30" height="1.84" fill="url(#h46)"/>
<rect x="131.70" y="559.43" width="67.30" height="1.82" fill="url(#h47)"/>
<rect x="131.70" y="560.65" width="67.30" height="1.73" fill="url(#h48)"/>
<rect x="131.70" y="561.78" width="67.30" height="2.23" fill="url(#h49)"/>
<rect x="131.70" y="563.41" width="67.30" height="2.05" fill="url(#h50)"/>
<rect x="131.70" y="564.86" width="67.30" height="1.61" fill="url(#h51)"/>
<rect x="131.70" y="565.87" width="67.30" height="1.74" fill="url(#h52)"/>
<rect x="131.70" y="567.01" width="67.30" height="2.43" fill="url(#h53)"/>
<rect x="131.70" y="568.84" width="67.30" height="1.47" fill="url(#h54)"/>
<rect x="131.70" y="569.71" width="67.30" height="1.68" fill="url(#h55)"/>
<rect x="131.70" y="570.79" width="67.30" height="2.45" fill="url(#h56)"/>
<rect x="131.70" y="572.65" width="67.30" height="2.57" fill="url(#h57)"/>
<rect x="131.70" y="574.61" width="67.30" height="0.39" fill="url(#h58)"/>
<rect x="131.70" y="575.00" width="67.30" height="1.46" fill="url(#h59)"/>
<rect x="131.70" y="575.86" width="67.30" height="1.58" fill="url(#h60)"/>
<rect x="131.70" y="576.84" width="67.30" height="2.21" fill="url(#h61)"/>
<rect x="131.70" y="578.45" width="67.30" height="1.81" fill="url(#h62)"/>
<rect x="131.70" y="579.66" width="67.30" height="1.86" fill="url(#h63)"/>
<rect x="131.70" y="580.92" width="67.30" height="1.97" fill="url(#h64)"/>
<rect x="131.70" y="582.29" width="67.30" height="2.25" fill="url(#h65)"/>
<rect x="131.70" y="583.93" width="67.30" height="1.56" fill="url(#h66)"/>
<rect x="131.70" y="584.89" width="67.30" height="1.61" fill="url(#h67)"/>
<rect x="131.70" y="585.90" width="67.30" height="2.41" fill="url(#h68)"/>
<rect x="131.70" y="587.72" width="67.30" height="2.33" fill="url(#h69)"/>
<rect x="131.70" y="589.44" width="67.30" height="2.19" fill="url(#h70)"/>
<rect x="131.70" y="591.03" width="67.30" height="1.78" fill="url(#h71)"/>
<rect x="131.70" y="592.22" width="67.30" height="1.47" fill="url(#h72)"/>
<rect x="131.70" y="593.09" width="67.30" height="2.52" fill="url(#h73)"/>
<rect x="131.70" y="595.00" width="67.30" height="2.16" fill="url(#h74)"/>
<rect x="131.70" y="596.56" width="67.30" height="2.34" fill="url(#h75)"/>
<rect x="131.70" y="598.30" width="67.30" height="1.68" fill="url(#h76)"/>
<rect x="131.70" y="599.38" width="67.30" height="1.49" fill="url(#h77)"/>
<rect x="131.70" y="600.28" width="67.30" height="1.54" fill="url(#h78)"/>
<rect x="131.70" y="601.21" width="67.30" height="2.46" fill="url(#h79)"/>
<rect x="131.70" y="603.07" width="67.30" height="0.93" fill="url(#h80)"/>
<rect x="131.70" y="604.00" width="67.30" height="0.9" fill="#ffffff"/>
<rect x="131.70" y="604.90" width="67.30" height="2.47" fill="url(#h81)"/>
<rect x="131.70" y="606.77" width="67.30" height="2.43" fill="url(#h82)"/>
<rect x="131.70" y="608.60" width="67.30" height="0.40" fill="url(#h83)"/>
<rect x="131.70" y="609.00" width="67.30" height="2.23" fill="url(#h84)"/>
<rect x="131.70" y="610.63" width="67.30" height="2.15" fill="url(#h85)"/>
<rect x="131.70" y="612.18" width="67.30" height="0.82" fill="url(#h86)"/>
<rect x="131.70" y="613.00" width="67.30" height="2.57" fill="url(#h87)"/>
<rect x="131.70" y="614.97" width="67.30" height="1.63" fill="url(#h88)"/>
<rect x="131.70" y="616.00" width="67.30" height="1.50" fill="url(#h89)"/>
<rect x="131.70" y="617.50" width="67.30" height="1.94" fill="url(#h90)"/>
<rect x="131.70" y="618.84" width="67.30" height="2.29" fill="url(#h91)"/>
<rect x="131.70" y="620.53" width="67.30" height="1.54" fill="url(#h92)"/>
<rect x="131.70" y="622.10" width="67.30" height="0.8" fill="#ffffff"/>
<rect x="131.70" y="622.90" width="67.30" height="2.08" fill="url(#h93)"/>
<rect x="131.70" y="624.38" width="67.30" height="0.42" fill="url(#h94)"/>
<rect x="131.70" y="624.80" width="67.30" height="2.51" fill="url(#h95)"/>
<rect x="131.70" y="626.71" width="67.30" height="2.07" fill="url(#h96)"/>
<rect x="131.70" y="628.18" width="67.30" height="1.60" fill="url(#h97)"/>
<rect x="131.70" y="629.18" width="67.30" height="1.90" fill="url(#h98)"/>
<rect x="131.70" y="630.48" width="67.30" height="2.44" fill="url(#h99)"/>
<rect x="131.70" y="632.32" width="67.30" height="2.03" fill="url(#h100)"/>
<rect x="131.70" y="633.75" width="67.30" height="1.25" fill="url(#h101)"/>
<rect x="131.70" y="635.00" width="67.30" height="2.32" fill="url(#h102)"/>
<rect x="131.70" y="636.72" width="67.30" height="1.63" fill="url(#h103)"/>
<rect x="131.70" y="637.75" width="67.30" height="1.75" fill="url(#h104)"/>
<rect x="131.70" y="638.90" width="67.30" height="1.72" fill="url(#h105)"/>
<rect x="131.70" y="640.02" width="67.30" height="1.47" fill="url(#h106)"/>
<rect x="131.70" y="640.89" width="67.30" height="1.46" fill="url(#h107)"/>
<rect x="131.70" y="641.75" width="67.30" height="2.10" fill="url(#h108)"/>
<rect x="131.70" y="643.25" width="67.30" height="1.50" fill="url(#h109)"/>
<rect x="131.70" y="644.15" width="67.30" height="2.43" fill="url(#h110)"/>
<rect x="131.70" y="645.98" width="67.30" height="2.33" fill="url(#h111)"/>
<rect x="131.70" y="647.72" width="67.30" height="1.57" fill="url(#h112)"/>
<rect x="131.70" y="648.69" width="67.30" height="2.02" fill="url(#h113)"/>
<rect x="131.70" y="650.11" width="67.30" height="2.27" fill="url(#h114)"/>
<rect x="131.70" y="651.78" width="67.30" height="2.25" fill="url(#h115)"/>
<rect x="131.70" y="653.44" width="67.30" height="1.60" fill="url(#h116)"/>
<rect x="131.70" y="654.44" width="67.30" height="2.07" fill="url(#h117)"/>
<rect x="131.70" y="655.91" width="67.30" height="1.77" fill="url(#h118)"/>
<rect x="131.70" y="657.08" width="67.30" height="1.57" fill="url(#h119)"/>
<rect x="131.70" y="658.05" width="67.30" height="2.46" fill="url(#h120)"/>
<rect x="131.70" y="659.91" width="67.30" height="0.09" fill="url(#h121)"/>
<rect x="131.70" y="660.00" width="67.30" height="2.56" fill="url(#h122)"/>
<rect x="131.70" y="661.96" width="67.30" height="2.32" fill="url(#h123)"/>
<rect x="131.70" y="663.69" width="67.30" height="1.55" fill="url(#h124)"/>
<rect x="131.70" y="664.64" width="67.30" height="2.39" fill="url(#h125)"/>
<rect x="131.70" y="666.43" width="67.30" height="1.96" fill="url(#h126)"/>
<rect x="131.70" y="667.79" width="67.30" height="2.15" fill="url(#h127)"/>
<rect x="131.70" y="669.34" width="67.30" height="2.34" fill="url(#h128)"/>
<rect x="131.70" y="671.08" width="67.30" height="2.42" fill="url(#h129)"/>
<rect x="131.70" y="672.90" width="67.30" height="2.10" fill="url(#h130)"/>
<rect x="131.70" y="674.40" width="67.30" height="2.52" fill="url(#h131)"/>
<rect x="131.70" y="676.32" width="67.30" height="1.87" fill="url(#h132)"/>
<rect x="131.70" y="677.58" width="67.30" height="2.00" fill="url(#h133)"/>
<rect x="131.70" y="678.98" width="67.30" height="1.49" fill="url(#h134)"/>
<rect x="131.70" y="679.86" width="67.30" height="2.47" fill="url(#h135)"/>
<rect x="131.70" y="681.73" width="67.30" height="1.65" fill="url(#h136)"/>
<rect x="131.70" y="682.77" width="67.30" height="1.97" fill="url(#h137)"/>
<rect x="131.70" y="684.15" width="67.30" height="0.85" fill="url(#h138)"/>
<rect x="131.70" y="685.00" width="67.30" height="2.34" fill="url(#h139)"/>
<rect x="131.70" y="686.74" width="67.30" height="1.44" fill="url(#h140)"/>
<rect x="131.70" y="687.58" width="67.30" height="1.63" fill="url(#h141)"/>
<rect x="131.70" y="688.60" width="67.30" height="2.42" fill="url(#h142)"/>
<rect x="131.70" y="690.42" width="67.30" height="1.78" fill="url(#h143)"/>
<rect x="131.70" y="691.60" width="67.30" height="2.34" fill="url(#h144)"/>
<rect x="131.70" y="693.34" width="67.30" height="1.71" fill="url(#h145)"/>
<rect x="131.70" y="694.45" width="67.30" height="2.22" fill="url(#h146)"/>
<rect x="131.70" y="696.07" width="67.30" height="1.84" fill="url(#h147)"/>
<rect x="131.70" y="697.31" width="67.30" height="2.37" fill="url(#h148)"/>
<rect x="131.70" y="699.08" width="67.30" height="1.82" fill="url(#h149)"/>
<rect x="131.70" y="700.30" width="67.30" height="2.44" fill="url(#h150)"/>
<rect x="131.70" y="702.14" width="67.30" height="2.44" fill="url(#h151)"/>
<rect x="131.70" y="703.99" width="67.30" height="1.01" fill="url(#h152)"/>
<text x="204.80" y="518.30" font-size="6.7" text-anchor="middle" transform="rotate(-90 204.80 518.30)">Cluster_1</text>
<text x="204.80" y="571.00" font-size="6.7" text-anchor="middle" transform="rotate(-90 204.80 571.00)">Cluster_2</text>
<text x="204.80" y="614.00" font-size="6.7" text-anchor="middle" transform="rotate(-90 204.80 614.00)">Cluster_3</text>
<text x="204.80" y="666.80" font-size="6.7" text-anchor="middle" transform="rotate(-90 204.80 666.80)">Cluster_4</text>
<text x="125.80" y="611.30" font-size="9.4" text-anchor="middle" transform="rotate(-90 125.80 611.30)">Pseudotime-dependent genes</text>
<rect x="116.90" y="680.40" width="6.2" height="26.50" rx="0.8" fill="url(#cl153)"/>
<text x="125.70" y="683.20" font-size="4.9" text-anchor="middle" fill="#333" transform="rotate(90 125.70 683.20)" stroke="#333" stroke-width="0.12">2</text>
<text x="125.70" y="688.17" font-size="4.9" text-anchor="middle" fill="#333" transform="rotate(90 125.70 688.17)" stroke="#333" stroke-width="0.12">1</text>
<text x="125.70" y="693.15" font-size="4.9" text-anchor="middle" fill="#333" transform="rotate(90 125.70 693.15)" stroke="#333" stroke-width="0.12">0</text>
<text x="125.70" y="698.12" font-size="4.9" text-anchor="middle" fill="#333" transform="rotate(90 125.70 698.12)" stroke="#333" stroke-width="0.12">-1</text>
<text x="125.70" y="703.10" font-size="4.9" text-anchor="middle" fill="#333" transform="rotate(90 125.70 703.10)" stroke="#333" stroke-width="0.12">-2</text>
<text x="121.60" y="717.00" font-size="7.3" text-anchor="middle">Basal</text>
<text x="164.50" y="712.00" font-size="7.3" text-anchor="middle">Pseudotime</text>
<text x="201.50" y="717.00" font-size="7.3">Diff</text>
<line x1="132.40" y1="714.00" x2="193.10" y2="714.00" stroke="#000" stroke-width="1.2"/>
<path d="M200.00 714.00L188.50 709.60L191.72 714.00L188.50 718.40Z" fill="#000"/>
<text x="227.70" y="512.60" font-size="6.4" text-anchor="end" fill="#484848" stroke="#484848" stroke-width="0.18">1.0</text>
<text x="227.70" y="522.40" font-size="6.4" text-anchor="end" fill="#484848" stroke="#484848" stroke-width="0.18">0.8</text>
<text x="227.70" y="532.20" font-size="6.4" text-anchor="end" fill="#484848" stroke="#484848" stroke-width="0.18">0.6</text>
<text x="227.70" y="542.10" font-size="6.4" text-anchor="end" fill="#484848" stroke="#484848" stroke-width="0.18">0.4</text>
<rect x="228.00" y="510.40" width="62.40" height="35.60" fill="none" stroke="#a4a4a4" stroke-width="0.85"/>
<text x="232.00" y="552.00" font-size="6.4" text-anchor="middle" fill="#484848" stroke="#484848" stroke-width="0.15">0.00</text>
<line x1="232.00" y1="546.00" x2="232.00" y2="547.20" stroke="#999" stroke-width="0.5"/>
<text x="246.07" y="552.00" font-size="6.4" text-anchor="middle" fill="#484848" stroke="#484848" stroke-width="0.15">0.25</text>
<line x1="246.07" y1="546.00" x2="246.07" y2="547.20" stroke="#999" stroke-width="0.5"/>
<text x="260.15" y="552.00" font-size="6.4" text-anchor="middle" fill="#484848" stroke="#484848" stroke-width="0.15">0.50</text>
<line x1="260.15" y1="546.00" x2="260.15" y2="547.20" stroke="#999" stroke-width="0.5"/>
<text x="274.23" y="552.00" font-size="6.4" text-anchor="middle" fill="#484848" stroke="#484848" stroke-width="0.15">0.75</text>
<line x1="274.23" y1="546.00" x2="274.23" y2="547.20" stroke="#999" stroke-width="0.5"/>
<text x="288.30" y="552.00" font-size="6.4" text-anchor="middle" fill="#484848" stroke="#484848" stroke-width="0.15">1.00</text>
<line x1="288.30" y1="546.00" x2="288.30" y2="547.20" stroke="#999" stroke-width="0.5"/>
<path d="M232.00 514.00 L232.27 514.25 L232.61 514.56 L233.01 514.92 L233.46 515.33 L233.95 515.78 L234.46 516.25 L235.00 516.75 L235.54 517.25 L236.09 517.76 L236.63 518.26 L237.14 518.75 L237.63 519.22 L238.11 519.69 L238.60 520.19 L239.10 520.70 L239.61 521.23 L240.12 521.75 L240.62 522.28 L241.11 522.79 L241.59 523.29 L242.05 523.76 L242.48 524.19 L242.89 524.59 L243.26 524.94 L243.59 525.26 L243.89 525.54 L244.15 525.81 L244.39 526.04 L244.60 526.25 L244.81 526.44 L245.00 526.60 L245.20 526.74 L245.40 526.86 L245.61 526.95 L245.83 527.02 L246.07 527.07 L246.34 527.08 L246.61 527.04 L246.88 526.96 L247.16 526.86 L247.44 526.72 L247.73 526.58 L248.02 526.42 L248.31 526.27 L248.60 526.13 L248.88 526.00 L249.17 525.86 L249.45 525.74 L249.74 525.67 L250.03 525.63 L250.32 525.62 L250.62 525.62 L250.92 525.63 L251.21 525.64 L251.50 525.64 L251.79 525.63 L252.07 525.59 L252.33 525.52 L252.59 525.41 L252.83 525.25 L253.06 525.04 L253.28 524.78 L253.49 524.48 L253.69 524.14 L253.88 523.78 L254.06 523.41 L254.24 523.03 L254.42 522.65 L254.59 522.28 L254.75 521.93 L254.92 521.60 L255.08 521.32 L255.24 521.04 L255.40 520.76 L255.54 520.47 L255.69 520.19 L255.83 519.91 L255.96 519.66 L256.10 519.42 L256.23 519.22 L256.36 519.06 L256.50 518.94 L256.63 518.87 L256.77 518.86 L256.91 518.89 L257.04 518.95 L257.17 519.04 L257.29 519.17 L257.42 519.33 L257.55 519.53 L257.68 519.78 L257.81 520.08 L257.96 520.42 L258.11 520.83 L258.28 521.29 L258.46 521.81 L258.65 522.43 L258.86 523.17 L259.07 524.00 L259.30 524.91 L259.53 525.86 L259.76 526.85 L260.01 527.84 L260.25 528.82 L260.51 529.76 L260.76 530.65 L261.02 531.44 L261.28 532.14 L261.54 532.74 L261.80 533.28 L262.07 533.77 L262.34 534.22 L262.62 534.62 L262.89 535.00 L263.18 535.35 L263.47 535.69 L263.76 536.03 L264.05 536.36 L264.35 536.70 L264.65 537.06 L264.96 537.43 L265.28 537.79 L265.60 538.15 L265.93 538.48 L266.26 538.75 L266.59 539.02 L266.92 539.27 L267.26 539.52 L267.60 539.75 L267.93 539.97 L268.26 540.18 L268.60 540.37 L268.92 540.55 L269.25 540.73 L269.58 540.89 L269.91 541.05 L270.24 541.19 L270.57 541.32 L270.89 541.43 L271.22 541.53 L271.55 541.61 L271.88 541.66 L272.21 541.70 L272.54 541.71 L272.86 541.70 L273.18 541.67 L273.49 541.63 L273.81 541.56 L274.12 541.48 L274.44 541.38 L274.76 541.26 L275.08 541.12 L275.41 540.96 L275.76 540.77 L276.11 540.57 L276.48 540.34 L276.85 540.09 L277.24 539.82 L277.62 539.52 L278.02 539.20 L278.42 538.86 L278.83 538.50 L279.26 538.12 L279.69 537.73 L280.13 537.32 L280.59 536.90 L281.06 536.46 L281.54 536.02 L282.07 535.54 L282.65 535.00 L283.27 534.41 L283.92 533.80 L284.58 533.17 L285.24 532.54 L285.88 531.93 L286.49 531.34 L287.05 530.80 L287.55 530.32 L287.97 529.92 L288.30 529.60 L288.30 540.40 L287.97 540.57 L287.55 540.79 L287.05 541.05 L286.49 541.34 L285.88 541.65 L285.24 541.98 L284.58 542.32 L283.92 542.65 L283.27 542.98 L282.65 543.29 L282.07 543.57 L281.54 543.82 L281.06 544.05 L280.59 544.27 L280.13 544.49 L279.69 544.70 L279.26 544.90 L278.83 545.09 L278.42 545.27 L278.02 545.43 L277.62 545.58 L277.24 545.71 L276.85 545.81 L276.48 545.89 L276.11 545.96 L275.76 546.00 L275.41 546.03 L275.08 546.05 L274.76 546.04 L274.44 546.02 L274.12 545.99 L273.81 545.93 L273.49 545.85 L273.18 545.76 L272.86 545.64 L272.54 545.51 L272.21 545.35 L271.88 545.17 L271.55 544.97 L271.22 544.74 L270.89 544.50 L270.57 544.24 L270.24 543.97 L269.91 543.68 L269.58 543.38 L269.25 543.07 L268.92 542.75 L268.60 542.42 L268.26 542.08 L267.93 541.73 L267.60 541.36 L267.26 540.98 L266.92 540.58 L266.59 540.18 L266.26 539.76 L265.93 539.34 L265.60 538.95 L265.28 538.59 L264.96 538.23 L264.65 537.86 L264.35 537.50 L264.05 537.16 L263.76 536.83 L263.47 536.49 L263.18 536.15 L262.89 535.80 L262.62 535.42 L262.34 535.02 L262.07 534.57 L261.80 534.08 L261.54 533.54 L261.28 532.94 L261.02 532.24 L260.76 531.45 L260.51 530.56 L260.25 529.62 L260.01 528.64 L259.76 527.65 L259.53 526.66 L259.30 525.71 L259.07 524.80 L258.86 523.97 L258.65 523.23 L258.46 522.61 L258.28 522.09 L258.11 521.63 L257.96 521.22 L257.81 520.88 L257.68 520.58 L257.55 520.33 L257.42 520.13 L257.29 519.97 L257.17 519.84 L257.04 519.75 L256.91 519.69 L256.77 519.66 L256.63 519.67 L256.50 519.74 L256.36 519.86 L256.23 520.02 L256.10 520.22 L255.96 520.46 L255.83 520.71 L255.69 520.99 L255.54 521.27 L255.40 521.56 L255.24 521.84 L255.08 522.12 L254.92 522.40 L254.75 522.73 L254.59 523.08 L254.42 523.45 L254.24 523.83 L254.06 524.21 L253.88 524.58 L253.69 524.94 L253.49 525.28 L253.28 525.58 L253.06 525.84 L252.83 526.05 L252.59 526.21 L252.33 526.32 L252.07 526.39 L251.79 526.43 L251.50 526.44 L251.21 526.44 L250.92 526.43 L250.62 526.42 L250.32 526.42 L250.03 526.43 L249.74 526.47 L249.45 526.54 L249.17 526.66 L248.88 526.80 L248.60 527.01 L248.31 527.24 L248.02 527.47 L247.73 527.71 L247.44 527.94 L247.16 528.15 L246.88 528.33 L246.61 528.49 L246.34 528.60 L246.07 528.67 L245.83 528.69 L245.61 528.68 L245.40 528.65 L245.20 528.59 L245.00 528.51 L244.81 528.40 L244.60 528.27 L244.39 528.12 L244.15 527.95 L243.89 527.77 L243.59 527.56 L243.26 527.34 L242.89 527.10 L242.48 526.81 L242.05 526.50 L241.59 526.16 L241.11 525.80 L240.62 525.43 L240.12 525.05 L239.61 524.66 L239.10 524.28 L238.60 523.91 L238.11 523.56 L237.63 523.22 L237.14 522.89 L236.63 522.55 L236.09 522.20 L235.54 521.84 L235.00 521.49 L234.46 521.15 L233.95 520.83 L233.46 520.52 L233.01 520.24 L232.61 519.99 L232.27 519.77 L232.00 519.60Z" fill="#c9c9c9"/>
<path d="M232.00 516.80 L232.27 517.01 L232.61 517.27 L233.01 517.58 L233.46 517.93 L233.95 518.30 L234.46 518.70 L235.00 519.12 L235.54 519.55 L236.09 519.98 L236.63 520.41 L237.14 520.82 L237.63 521.22 L238.11 521.63 L238.60 522.05 L239.10 522.49 L239.61 522.95 L240.12 523.40 L240.62 523.85 L241.11 524.30 L241.59 524.72 L242.05 525.13 L242.48 525.50 L242.89 525.84 L243.26 526.14 L243.59 526.41 L243.89 526.66 L244.15 526.88 L244.39 527.08 L244.60 527.26 L244.81 527.42 L245.00 527.55 L245.20 527.67 L245.40 527.75 L245.61 527.82 L245.83 527.85 L246.07 527.87 L246.34 527.84 L246.61 527.76 L246.88 527.65 L247.16 527.50 L247.44 527.33 L247.73 527.14 L248.02 526.95 L248.31 526.75 L248.60 526.57 L248.88 526.40 L249.17 526.26 L249.45 526.14 L249.74 526.07 L250.03 526.03 L250.32 526.02 L250.62 526.02 L250.92 526.03 L251.21 526.04 L251.50 526.04 L251.79 526.03 L252.07 525.99 L252.33 525.92 L252.59 525.81 L252.83 525.65 L253.06 525.44 L253.28 525.18 L253.49 524.88 L253.69 524.54 L253.88 524.18 L254.06 523.81 L254.24 523.43 L254.42 523.05 L254.59 522.68 L254.75 522.33 L254.92 522.00 L255.08 521.72 L255.24 521.44 L255.40 521.16 L255.54 520.87 L255.69 520.59 L255.83 520.31 L255.96 520.06 L256.10 519.82 L256.23 519.62 L256.36 519.46 L256.50 519.34 L256.63 519.27 L256.77 519.26 L256.91 519.29 L257.04 519.35 L257.17 519.44 L257.29 519.57 L257.42 519.73 L257.55 519.93 L257.68 520.18 L257.81 520.48 L257.96 520.82 L258.11 521.23 L258.28 521.69 L258.46 522.21 L258.65 522.83 L258.86 523.57 L259.07 524.40 L259.30 525.31 L259.53 526.26 L259.76 527.25 L260.01 528.24 L260.25 529.22 L260.51 530.16 L260.76 531.05 L261.02 531.84 L261.28 532.54 L261.54 533.14 L261.80 533.68 L262.07 534.17 L262.34 534.62 L262.62 535.02 L262.89 535.40 L263.18 535.75 L263.47 536.09 L263.76 536.43 L264.05 536.76 L264.35 537.10 L264.65 537.46 L264.96 537.83 L265.28 538.19 L265.60 538.55 L265.93 538.91 L266.26 539.26 L266.59 539.60 L266.92 539.93 L267.26 540.25 L267.60 540.56 L267.93 540.85 L268.26 541.13 L268.60 541.40 L268.92 541.65 L269.25 541.90 L269.58 542.13 L269.91 542.36 L270.24 542.58 L270.57 542.78 L270.89 542.97 L271.22 543.14 L271.55 543.29 L271.88 543.42 L272.21 543.53 L272.54 543.61 L272.86 543.67 L273.18 543.72 L273.49 543.74 L273.81 543.75 L274.12 543.73 L274.44 543.70 L274.76 543.65 L275.08 543.58 L275.41 543.49 L275.76 543.39 L276.11 543.26 L276.48 543.12 L276.85 542.95 L277.24 542.76 L277.62 542.55 L278.02 542.32 L278.42 542.06 L278.83 541.80 L279.26 541.51 L279.69 541.21 L280.13 540.90 L280.59 540.58 L281.06 540.26 L281.54 539.92 L282.07 539.55 L282.65 539.14 L283.27 538.70 L283.92 538.23 L284.58 537.74 L285.24 537.26 L285.88 536.79 L286.49 536.34 L287.05 535.92 L287.55 535.56 L287.97 535.24 L288.30 535.00" fill="none" stroke="#4a6db3" stroke-width="0.95"/>
<text x="231.70" y="543.40" font-size="7.9" fill="#262626" stroke="#262626" stroke-width="0.12">n=51</text>
<text x="227.40" y="562.90" font-size="6.4" text-anchor="end" fill="#484848" stroke="#484848" stroke-width="0.18">1.0</text>
<text x="227.40" y="571.30" font-size="6.4" text-anchor="end" fill="#484848" stroke="#484848" stroke-width="0.18">0.8</text>
<text x="227.40" y="579.70" font-size="6.4" text-anchor="end" fill="#484848" stroke="#484848" stroke-width="0.18">0.6</text>
<text x="227.40" y="588.10" font-size="6.4" text-anchor="end" fill="#484848" stroke="#484848" stroke-width="0.18">0.4</text>
<text x="227.40" y="596.50" font-size="6.4" text-anchor="end" fill="#484848" stroke="#484848" stroke-width="0.18">0.2</text>
<rect x="227.70" y="560.70" width="62.70" height="35.90" fill="none" stroke="#a4a4a4" stroke-width="0.85"/>
<text x="232.00" y="603.60" font-size="6.4" text-anchor="middle" fill="#484848" stroke="#484848" stroke-width="0.15">0.00</text>
<line x1="232.00" y1="596.60" x2="232.00" y2="597.80" stroke="#999" stroke-width="0.5"/>
<text x="246.07" y="603.60" font-size="6.4" text-anchor="middle" fill="#484848" stroke="#484848" stroke-width="0.15">0.25</text>
<line x1="246.07" y1="596.60" x2="246.07" y2="597.80" stroke="#999" stroke-width="0.5"/>
<text x="260.15" y="603.60" font-size="6.4" text-anchor="middle" fill="#484848" stroke="#484848" stroke-width="0.15">0.50</text>
<line x1="260.15" y1="596.60" x2="260.15" y2="597.80" stroke="#999" stroke-width="0.5"/>
<text x="274.23" y="603.60" font-size="6.4" text-anchor="middle" fill="#484848" stroke="#484848" stroke-width="0.15">0.75</text>
<line x1="274.23" y1="596.60" x2="274.23" y2="597.80" stroke="#999" stroke-width="0.5"/>
<text x="288.30" y="603.60" font-size="6.4" text-anchor="middle" fill="#484848" stroke="#484848" stroke-width="0.15">1.00</text>
<line x1="288.30" y1="596.60" x2="288.30" y2="597.80" stroke="#999" stroke-width="0.5"/>
<path d="M232.00 562.16 L232.27 562.36 L232.61 562.61 L233.01 562.90 L233.46 563.22 L233.95 563.58 L234.46 563.95 L235.00 564.35 L235.54 564.76 L236.09 565.18 L236.63 565.60 L237.14 566.03 L237.63 566.44 L238.10 566.86 L238.59 567.30 L239.08 567.76 L239.57 568.23 L240.06 568.71 L240.55 569.19 L241.03 569.68 L241.51 570.16 L241.97 570.64 L242.42 571.10 L242.85 571.55 L243.26 571.98 L243.65 572.40 L244.02 572.83 L244.38 573.25 L244.72 573.67 L245.05 574.09 L245.37 574.49 L245.68 574.88 L245.99 575.26 L246.29 575.61 L246.60 575.94 L246.90 576.25 L247.20 576.53 L247.50 576.77 L247.79 576.96 L248.07 577.12 L248.35 577.25 L248.62 577.36 L248.89 577.45 L249.16 577.53 L249.43 577.61 L249.71 577.70 L249.99 577.82 L250.28 577.96 L250.58 578.15 L250.89 578.39 L251.22 578.67 L251.56 578.98 L251.91 579.32 L252.27 579.68 L252.62 580.04 L252.97 580.39 L253.31 580.73 L253.64 581.04 L253.95 581.32 L254.25 581.55 L254.52 581.72 L254.77 581.83 L254.99 581.88 L255.20 581.88 L255.40 581.84 L255.58 581.78 L255.75 581.71 L255.92 581.63 L256.08 581.55 L256.25 581.49 L256.42 581.46 L256.59 581.46 L256.77 581.51 L256.95 581.59 L257.13 581.69 L257.30 581.79 L257.46 581.91 L257.62 582.04 L257.79 582.19 L257.97 582.36 L258.15 582.56 L258.34 582.78 L258.55 583.03 L258.78 583.30 L259.02 583.61 L259.29 583.97 L259.58 584.38 L259.89 584.85 L260.21 585.34 L260.55 585.87 L260.89 586.41 L261.24 586.95 L261.59 587.48 L261.94 587.99 L262.29 588.46 L262.63 588.90 L262.97 589.28 L263.29 589.61 L263.62 589.91 L263.94 590.18 L264.26 590.43 L264.58 590.66 L264.90 590.87 L265.22 591.07 L265.55 591.26 L265.88 591.42 L266.22 591.56 L266.56 591.69 L266.91 591.84 L267.26 591.99 L267.62 592.14 L267.99 592.30 L268.37 592.46 L268.74 592.62 L269.12 592.76 L269.50 592.90 L269.89 593.01 L270.27 593.11 L270.65 593.18 L271.03 593.22 L271.41 593.24 L271.78 593.22 L272.15 593.19 L272.51 593.13 L272.87 593.06 L273.23 592.97 L273.59 592.86 L273.96 592.72 L274.33 592.56 L274.71 592.38 L275.10 592.18 L275.50 591.95 L275.91 591.70 L276.34 591.42 L276.77 591.11 L277.22 590.78 L277.67 590.43 L278.12 590.05 L278.59 589.65 L279.06 589.23 L279.54 588.79 L280.03 588.33 L280.53 587.85 L281.03 587.35 L281.54 586.83 L282.09 586.26 L282.68 585.61 L283.31 584.91 L283.96 584.17 L284.62 583.40 L285.27 582.64 L285.91 581.89 L286.51 581.18 L287.06 580.52 L287.55 579.94 L287.97 579.44 L288.30 579.06 L288.30 586.86 L287.97 587.14 L287.55 587.51 L287.06 587.94 L286.51 588.42 L285.91 588.95 L285.27 589.50 L284.62 590.06 L283.96 590.62 L283.31 591.16 L282.68 591.67 L282.09 592.13 L281.54 592.53 L281.03 592.89 L280.53 593.23 L280.03 593.56 L279.54 593.87 L279.06 594.16 L278.59 594.43 L278.12 594.69 L277.67 594.92 L277.22 595.14 L276.77 595.33 L276.34 595.50 L275.91 595.65 L275.50 595.77 L275.10 595.87 L274.71 595.96 L274.33 596.02 L273.96 596.06 L273.59 596.08 L273.23 596.09 L272.87 596.07 L272.51 596.03 L272.15 595.97 L271.78 595.89 L271.41 595.78 L271.03 595.66 L270.65 595.49 L270.27 595.30 L269.89 595.09 L269.50 594.85 L269.12 594.60 L268.74 594.34 L268.37 594.07 L267.99 593.79 L267.62 593.52 L267.26 593.25 L266.91 592.99 L266.56 592.73 L266.22 592.49 L265.88 592.26 L265.55 592.06 L265.22 591.87 L264.90 591.67 L264.58 591.46 L264.26 591.23 L263.94 590.98 L263.62 590.71 L263.29 590.41 L262.97 590.08 L262.63 589.70 L262.29 589.26 L261.94 588.79 L261.59 588.28 L261.24 587.75 L260.89 587.21 L260.55 586.67 L260.21 586.14 L259.89 585.65 L259.58 585.18 L259.29 584.77 L259.02 584.41 L258.78 584.10 L258.55 583.83 L258.34 583.58 L258.15 583.36 L257.97 583.16 L257.79 582.99 L257.62 582.84 L257.46 582.71 L257.30 582.59 L257.13 582.49 L256.95 582.39 L256.77 582.31 L256.59 582.26 L256.42 582.26 L256.25 582.29 L256.08 582.35 L255.92 582.43 L255.75 582.51 L255.58 582.58 L255.40 582.64 L255.20 582.68 L254.99 582.68 L254.77 582.63 L254.52 582.52 L254.25 582.35 L253.95 582.12 L253.64 581.84 L253.31 581.53 L252.97 581.19 L252.62 580.84 L252.27 580.48 L251.91 580.12 L251.56 579.78 L251.22 579.47 L250.89 579.19 L250.58 578.95 L250.28 578.76 L249.99 578.62 L249.71 578.50 L249.43 578.41 L249.16 578.33 L248.89 578.25 L248.62 578.20 L248.35 578.14 L248.07 578.06 L247.79 577.96 L247.50 577.81 L247.20 577.63 L246.90 577.41 L246.60 577.15 L246.29 576.87 L245.99 576.57 L245.68 576.25 L245.37 575.92 L245.05 575.57 L244.72 575.21 L244.38 574.85 L244.02 574.49 L243.65 574.13 L243.26 573.78 L242.85 573.42 L242.42 573.05 L241.97 572.66 L241.51 572.27 L241.03 571.87 L240.55 571.47 L240.06 571.08 L239.57 570.69 L239.08 570.30 L238.59 569.93 L238.10 569.58 L237.63 569.24 L237.14 568.91 L236.63 568.58 L236.09 568.25 L235.54 567.93 L235.00 567.62 L234.46 567.32 L233.95 567.03 L233.46 566.76 L233.01 566.52 L232.61 566.30 L232.27 566.11 L232.00 565.96Z" fill="#c9c9c9"/>
<path d="M232.00 564.06 L232.27 564.24 L232.61 564.46 L233.01 564.71 L233.46 564.99 L233.95 565.30 L234.46 565.64 L235.00 565.98 L235.54 566.35 L236.09 566.72 L236.63 567.09 L237.14 567.47 L237.63 567.84 L238.10 568.22 L238.59 568.62 L239.08 569.03 L239.57 569.46 L240.06 569.89 L240.55 570.33 L241.03 570.78 L241.51 571.22 L241.97 571.65 L242.42 572.07 L242.85 572.49 L243.26 572.88 L243.65 573.27 L244.02 573.66 L244.38 574.05 L244.72 574.44 L245.05 574.83 L245.37 575.20 L245.68 575.57 L245.99 575.91 L246.29 576.24 L246.60 576.55 L246.90 576.83 L247.20 577.08 L247.50 577.29 L247.79 577.46 L248.07 577.59 L248.35 577.69 L248.62 577.78 L248.89 577.85 L249.16 577.93 L249.43 578.01 L249.71 578.10 L249.99 578.22 L250.28 578.36 L250.58 578.55 L250.89 578.79 L251.22 579.07 L251.56 579.38 L251.91 579.72 L252.27 580.08 L252.62 580.44 L252.97 580.79 L253.31 581.13 L253.64 581.44 L253.95 581.72 L254.25 581.95 L254.52 582.12 L254.77 582.23 L254.99 582.28 L255.20 582.28 L255.40 582.24 L255.58 582.18 L255.75 582.11 L255.92 582.03 L256.08 581.95 L256.25 581.89 L256.42 581.86 L256.59 581.86 L256.77 581.91 L256.95 581.99 L257.13 582.09 L257.30 582.19 L257.46 582.31 L257.62 582.44 L257.79 582.59 L257.97 582.76 L258.15 582.96 L258.34 583.18 L258.55 583.43 L258.78 583.70 L259.02 584.01 L259.29 584.37 L259.58 584.78 L259.89 585.25 L260.21 585.74 L260.55 586.27 L260.89 586.81 L261.24 587.35 L261.59 587.88 L261.94 588.39 L262.29 588.86 L262.63 589.30 L262.97 589.68 L263.29 590.01 L263.62 590.31 L263.94 590.58 L264.26 590.83 L264.58 591.06 L264.90 591.27 L265.22 591.47 L265.55 591.66 L265.88 591.84 L266.22 592.03 L266.56 592.21 L266.91 592.41 L267.26 592.62 L267.62 592.83 L267.99 593.05 L268.37 593.27 L268.74 593.48 L269.12 593.68 L269.50 593.88 L269.89 594.05 L270.27 594.21 L270.65 594.34 L271.03 594.44 L271.41 594.51 L271.78 594.55 L272.15 594.58 L272.51 594.58 L272.87 594.56 L273.23 594.53 L273.59 594.47 L273.96 594.39 L274.33 594.29 L274.71 594.17 L275.10 594.03 L275.50 593.86 L275.91 593.67 L276.34 593.46 L276.77 593.22 L277.22 592.96 L277.67 592.67 L278.12 592.37 L278.59 592.04 L279.06 591.70 L279.54 591.33 L280.03 590.94 L280.53 590.54 L281.03 590.12 L281.54 589.68 L282.09 589.19 L282.68 588.64 L283.31 588.03 L283.96 587.39 L284.62 586.73 L285.27 586.07 L285.91 585.42 L286.51 584.80 L287.06 584.23 L287.55 583.72 L287.97 583.29 L288.30 582.96" fill="none" stroke="#4a6db3" stroke-width="0.95"/>
<text x="230.80" y="594.60" font-size="7.9" fill="#262626" stroke="#262626" stroke-width="0.12">n=100</text>
<text x="228.00" y="613.40" font-size="6.4" text-anchor="end" fill="#484848" stroke="#484848" stroke-width="0.18">0.8</text>
<text x="228.00" y="622.30" font-size="6.4" text-anchor="end" fill="#484848" stroke="#484848" stroke-width="0.18">0.6</text>
<text x="228.00" y="631.20" font-size="6.4" text-anchor="end" fill="#484848" stroke="#484848" stroke-width="0.18">0.4</text>
<text x="228.00" y="640.10" font-size="6.4" text-anchor="end" fill="#484848" stroke="#484848" stroke-width="0.18">0.2</text>
<text x="228.00" y="649.00" font-size="6.4" text-anchor="end" fill="#484848" stroke="#484848" stroke-width="0.18">0.0</text>
<rect x="228.30" y="611.20" width="62.30" height="36.20" fill="none" stroke="#a4a4a4" stroke-width="0.85"/>
<text x="232.40" y="654.00" font-size="6.4" text-anchor="middle" fill="#484848" stroke="#484848" stroke-width="0.15">0.00</text>
<line x1="232.40" y1="647.40" x2="232.40" y2="648.60" stroke="#999" stroke-width="0.5"/>
<text x="246.45" y="654.00" font-size="6.4" text-anchor="middle" fill="#484848" stroke="#484848" stroke-width="0.15">0.25</text>
<line x1="246.45" y1="647.40" x2="246.45" y2="648.60" stroke="#999" stroke-width="0.5"/>
<text x="260.50" y="654.00" font-size="6.4" text-anchor="middle" fill="#484848" stroke="#484848" stroke-width="0.15">0.50</text>
<line x1="260.50" y1="647.40" x2="260.50" y2="648.60" stroke="#999" stroke-width="0.5"/>
<text x="274.55" y="654.00" font-size="6.4" text-anchor="middle" fill="#484848" stroke="#484848" stroke-width="0.15">0.75</text>
<line x1="274.55" y1="647.40" x2="274.55" y2="648.60" stroke="#999" stroke-width="0.5"/>
<text x="288.60" y="654.00" font-size="6.4" text-anchor="middle" fill="#484848" stroke="#484848" stroke-width="0.15">1.00</text>
<line x1="288.60" y1="647.40" x2="288.60" y2="648.60" stroke="#999" stroke-width="0.5"/>
<path d="M232.40 629.22 L232.72 629.26 L233.13 629.31 L233.60 629.37 L234.13 629.45 L234.70 629.52 L235.32 629.61 L235.95 629.69 L236.60 629.76 L237.26 629.84 L237.91 629.90 L238.54 629.95 L239.14 629.99 L239.74 630.03 L240.36 630.07 L241.00 630.12 L241.64 630.17 L242.29 630.21 L242.94 630.24 L243.58 630.25 L244.20 630.25 L244.81 630.22 L245.39 630.17 L245.94 630.08 L246.45 629.96 L246.93 629.81 L247.37 629.64 L247.80 629.44 L248.20 629.22 L248.58 628.97 L248.94 628.71 L249.29 628.41 L249.63 628.05 L249.97 627.66 L250.29 627.26 L250.62 626.83 L250.95 626.38 L251.27 625.89 L251.58 625.36 L251.89 624.79 L252.18 624.20 L252.47 623.58 L252.75 622.95 L253.03 622.32 L253.30 621.68 L253.56 621.05 L253.82 620.43 L254.07 619.83 L254.32 619.25 L254.56 618.67 L254.79 618.05 L255.01 617.40 L255.22 616.73 L255.43 616.08 L255.64 615.44 L255.84 614.85 L256.04 614.31 L256.23 613.84 L256.44 613.46 L256.64 613.18 L256.85 613.02 L257.06 612.99 L257.27 613.05 L257.47 613.20 L257.68 613.44 L257.89 613.74 L258.09 614.11 L258.30 614.53 L258.51 614.99 L258.72 615.48 L258.94 615.99 L259.16 616.51 L259.38 617.03 L259.60 617.60 L259.83 618.25 L260.06 618.97 L260.29 619.73 L260.53 620.53 L260.76 621.34 L261.00 622.15 L261.24 622.93 L261.48 623.67 L261.71 624.36 L261.95 624.97 L262.19 625.49 L262.41 625.91 L262.62 626.28 L262.82 626.58 L263.02 626.84 L263.21 627.05 L263.42 627.24 L263.63 627.40 L263.85 627.55 L264.10 627.69 L264.37 627.83 L264.66 627.98 L265.00 628.15 L265.36 628.33 L265.76 628.49 L266.18 628.62 L266.62 628.64 L267.08 628.66 L267.56 628.66 L268.05 628.67 L268.56 628.68 L269.07 628.70 L269.58 628.72 L270.10 628.77 L270.62 628.83 L271.14 628.92 L271.69 629.01 L272.25 629.11 L272.82 629.22 L273.40 629.33 L273.99 629.46 L274.57 629.58 L275.15 629.72 L275.73 629.86 L276.29 630.00 L276.83 630.15 L277.36 630.30 L277.87 630.46 L278.36 630.63 L278.84 630.81 L279.32 630.99 L279.78 631.18 L280.24 631.38 L280.70 631.57 L281.15 631.76 L281.60 631.95 L282.06 632.14 L282.52 632.32 L282.98 632.49 L283.47 632.65 L283.98 632.82 L284.52 632.99 L285.06 633.16 L285.61 633.33 L286.14 633.49 L286.66 633.65 L287.14 633.79 L287.59 633.92 L287.99 634.04 L288.33 634.14 L288.60 634.23 L288.60 646.02 L288.33 645.81 L287.99 645.54 L287.59 645.23 L287.14 644.88 L286.66 644.50 L286.14 644.09 L285.61 643.66 L285.06 643.23 L284.52 642.79 L283.98 642.36 L283.47 641.94 L282.98 641.53 L282.52 641.14 L282.06 640.74 L281.60 640.33 L281.15 639.92 L280.70 639.50 L280.24 639.08 L279.78 638.67 L279.32 638.25 L278.84 637.83 L278.36 637.42 L277.87 637.01 L277.36 636.60 L276.83 636.19 L276.29 635.78 L275.73 635.36 L275.15 634.94 L274.57 634.52 L273.99 634.11 L273.40 633.70 L272.82 633.30 L272.25 632.91 L271.69 632.53 L271.14 632.18 L270.62 631.83 L270.10 631.52 L269.58 631.22 L269.07 630.94 L268.56 630.67 L268.05 630.42 L267.56 630.17 L267.08 629.93 L266.62 629.69 L266.18 629.45 L265.76 629.29 L265.36 629.13 L265.00 628.95 L264.66 628.78 L264.37 628.63 L264.10 628.49 L263.85 628.35 L263.63 628.20 L263.42 628.04 L263.21 627.85 L263.02 627.64 L262.82 627.38 L262.62 627.08 L262.41 626.71 L262.19 626.28 L261.95 625.77 L261.71 625.16 L261.48 624.47 L261.24 623.73 L261.00 622.95 L260.76 622.14 L260.53 621.33 L260.29 620.53 L260.06 619.77 L259.83 619.05 L259.60 618.40 L259.38 617.83 L259.16 617.31 L258.94 616.79 L258.72 616.28 L258.51 615.79 L258.30 615.33 L258.09 614.91 L257.89 614.54 L257.68 614.24 L257.47 614.00 L257.27 613.85 L257.06 613.79 L256.85 613.82 L256.64 613.98 L256.44 614.26 L256.23 614.64 L256.04 615.11 L255.84 615.65 L255.64 616.24 L255.43 616.88 L255.22 617.53 L255.01 618.20 L254.79 618.85 L254.56 619.47 L254.32 620.05 L254.07 620.63 L253.82 621.23 L253.56 621.85 L253.30 622.48 L253.03 623.12 L252.75 623.75 L252.47 624.38 L252.18 625.00 L251.89 625.59 L251.58 626.16 L251.27 626.69 L250.95 627.17 L250.62 627.63 L250.29 628.06 L249.97 628.46 L249.63 628.85 L249.29 629.21 L248.94 629.60 L248.58 629.97 L248.20 630.33 L247.80 630.67 L247.37 631.00 L246.93 631.30 L246.45 631.60 L245.94 631.87 L245.39 632.12 L244.81 632.34 L244.20 632.55 L243.58 632.74 L242.94 632.91 L242.29 633.07 L241.64 633.22 L241.00 633.37 L240.36 633.51 L239.74 633.65 L239.14 633.79 L238.54 633.93 L237.91 634.07 L237.26 634.20 L236.60 634.32 L235.95 634.43 L235.32 634.54 L234.70 634.64 L234.13 634.73 L233.60 634.82 L233.13 634.89 L232.72 634.96 L232.40 635.01Z" fill="#c9c9c9"/>
<path d="M232.40 632.12 L232.72 632.11 L233.13 632.10 L233.60 632.10 L234.13 632.09 L234.70 632.08 L235.32 632.07 L235.95 632.06 L236.60 632.04 L237.26 632.02 L237.91 631.98 L238.54 631.94 L239.14 631.89 L239.74 631.84 L240.36 631.79 L241.00 631.74 L241.64 631.69 L242.29 631.64 L242.94 631.57 L243.58 631.49 L244.20 631.40 L244.81 631.28 L245.39 631.14 L245.94 630.98 L246.45 630.78 L246.93 630.56 L247.37 630.32 L247.80 630.06 L248.20 629.77 L248.58 629.47 L248.94 629.15 L249.29 628.81 L249.63 628.45 L249.97 628.06 L250.29 627.66 L250.62 627.23 L250.95 626.77 L251.27 626.29 L251.58 625.76 L251.89 625.19 L252.18 624.60 L252.47 623.98 L252.75 623.35 L253.03 622.72 L253.30 622.08 L253.56 621.45 L253.82 620.83 L254.07 620.23 L254.32 619.65 L254.56 619.07 L254.79 618.45 L255.01 617.80 L255.22 617.13 L255.43 616.48 L255.64 615.84 L255.84 615.25 L256.04 614.71 L256.23 614.24 L256.44 613.86 L256.64 613.58 L256.85 613.42 L257.06 613.39 L257.27 613.45 L257.47 613.60 L257.68 613.84 L257.89 614.14 L258.09 614.51 L258.30 614.93 L258.51 615.39 L258.72 615.88 L258.94 616.39 L259.16 616.91 L259.38 617.43 L259.60 618.00 L259.83 618.65 L260.06 619.37 L260.29 620.13 L260.53 620.93 L260.76 621.74 L261.00 622.55 L261.24 623.33 L261.48 624.07 L261.71 624.76 L261.95 625.37 L262.19 625.88 L262.41 626.31 L262.62 626.68 L262.82 626.98 L263.02 627.24 L263.21 627.45 L263.42 627.64 L263.63 627.80 L263.85 627.95 L264.10 628.09 L264.37 628.23 L264.66 628.38 L265.00 628.55 L265.36 628.73 L265.76 628.89 L266.18 629.03 L266.62 629.16 L267.08 629.29 L267.56 629.42 L268.05 629.54 L268.56 629.68 L269.07 629.82 L269.58 629.97 L270.10 630.14 L270.62 630.33 L271.14 630.55 L271.69 630.77 L272.25 631.01 L272.82 631.26 L273.40 631.52 L273.99 631.78 L274.57 632.05 L275.15 632.33 L275.73 632.61 L276.29 632.89 L276.83 633.17 L277.36 633.45 L277.87 633.73 L278.36 634.02 L278.84 634.32 L279.32 634.62 L279.78 634.92 L280.24 635.23 L280.70 635.54 L281.15 635.84 L281.60 636.14 L282.06 636.44 L282.52 636.73 L282.98 637.01 L283.47 637.30 L283.98 637.59 L284.52 637.89 L285.06 638.20 L285.61 638.50 L286.14 638.79 L286.66 639.07 L287.14 639.33 L287.59 639.58 L287.99 639.79 L288.33 639.98 L288.60 640.12" fill="none" stroke="#4a6db3" stroke-width="0.95"/>
<text x="232.80" y="643.80" font-size="7.9" fill="#262626" stroke="#262626" stroke-width="0.12">n=25</text>
<text x="228.00" y="670.50" font-size="6.4" text-anchor="end" fill="#484848" stroke="#484848" stroke-width="0.18">0.9</text>
<text x="228.00" y="679.60" font-size="6.4" text-anchor="end" fill="#484848" stroke="#484848" stroke-width="0.18">0.6</text>
<text x="228.00" y="688.70" font-size="6.4" text-anchor="end" fill="#484848" stroke="#484848" stroke-width="0.18">0.3</text>
<text x="228.00" y="697.80" font-size="6.4" text-anchor="end" fill="#484848" stroke="#484848" stroke-width="0.18">0.0</text>
<rect x="228.30" y="662.80" width="62.30" height="35.40" fill="none" stroke="#a4a4a4" stroke-width="0.85"/>
<text x="232.40" y="705.60" font-size="6.4" text-anchor="middle" fill="#484848" stroke="#484848" stroke-width="0.15">0.00</text>
<line x1="232.40" y1="698.20" x2="232.40" y2="699.40" stroke="#999" stroke-width="0.5"/>
<text x="246.45" y="705.60" font-size="6.4" text-anchor="middle" fill="#484848" stroke="#484848" stroke-width="0.15">0.25</text>
<line x1="246.45" y1="698.20" x2="246.45" y2="699.40" stroke="#999" stroke-width="0.5"/>
<text x="260.50" y="705.60" font-size="6.4" text-anchor="middle" fill="#484848" stroke="#484848" stroke-width="0.15">0.50</text>
<line x1="260.50" y1="698.20" x2="260.50" y2="699.40" stroke="#999" stroke-width="0.5"/>
<text x="274.55" y="705.60" font-size="6.4" text-anchor="middle" fill="#484848" stroke="#484848" stroke-width="0.15">0.75</text>
<line x1="274.55" y1="698.20" x2="274.55" y2="699.40" stroke="#999" stroke-width="0.5"/>
<text x="288.60" y="705.60" font-size="6.4" text-anchor="middle" fill="#484848" stroke="#484848" stroke-width="0.15">1.00</text>
<line x1="288.60" y1="698.20" x2="288.60" y2="699.40" stroke="#999" stroke-width="0.5"/>
<path d="M232.40 687.42 L232.72 687.37 L233.13 687.30 L233.60 687.22 L234.13 687.13 L234.70 687.03 L235.32 686.93 L235.95 686.82 L236.60 686.71 L237.26 686.60 L237.91 686.49 L238.54 686.39 L239.14 686.29 L239.74 686.20 L240.35 686.12 L240.97 686.05 L241.60 685.97 L242.23 685.90 L242.87 685.83 L243.50 685.75 L244.12 685.66 L244.73 685.56 L245.32 685.44 L245.90 685.32 L246.45 685.17 L246.98 685.00 L247.48 684.82 L247.97 684.62 L248.45 684.42 L248.91 684.20 L249.37 683.97 L249.81 683.73 L250.26 683.48 L250.70 683.23 L251.15 682.98 L251.61 682.73 L252.07 682.47 L252.55 682.22 L253.04 681.95 L253.54 681.68 L254.05 681.41 L254.55 681.13 L255.06 680.85 L255.55 680.56 L256.02 680.27 L256.48 679.99 L256.92 679.70 L257.32 679.42 L257.69 679.14 L258.02 678.87 L258.30 678.59 L258.55 678.32 L258.77 678.05 L258.97 677.78 L259.17 677.51 L259.35 677.24 L259.54 676.96 L259.74 676.68 L259.97 676.40 L260.22 676.11 L260.50 675.81 L260.82 675.50 L261.16 675.20 L261.52 674.89 L261.89 674.57 L262.28 674.26 L262.68 673.93 L263.08 673.61 L263.48 673.27 L263.87 672.93 L264.26 672.59 L264.64 672.23 L265.00 671.87 L265.35 671.49 L265.70 671.08 L266.05 670.66 L266.39 670.22 L266.73 669.77 L267.07 669.32 L267.40 668.88 L267.72 668.45 L268.04 668.04 L268.35 667.65 L268.64 667.30 L268.93 666.98 L269.20 666.70 L269.46 666.43 L269.70 666.17 L269.93 665.94 L270.15 665.72 L270.37 665.53 L270.59 665.35 L270.80 665.20 L271.02 665.07 L271.25 664.96 L271.49 664.88 L271.74 664.83 L272.00 664.79 L272.25 664.76 L272.50 664.74 L272.76 664.74 L273.02 664.77 L273.29 664.82 L273.56 664.91 L273.84 665.03 L274.14 665.20 L274.45 665.41 L274.77 665.67 L275.11 665.99 L275.48 666.37 L275.86 666.81 L276.27 667.30 L276.69 667.83 L277.13 668.41 L277.57 669.03 L278.02 669.67 L278.46 670.35 L278.91 671.04 L279.34 671.75 L279.76 672.47 L280.17 673.20 L280.57 673.94 L280.96 674.72 L281.35 675.54 L281.73 676.37 L282.11 677.23 L282.49 678.11 L282.86 679.00 L283.23 679.89 L283.59 680.78 L283.96 681.68 L284.31 682.56 L284.67 683.44 L285.03 684.34 L285.40 685.30 L285.78 686.30 L286.16 687.32 L286.54 688.35 L286.91 689.35 L287.27 690.33 L287.60 691.24 L287.91 692.09 L288.18 692.84 L288.41 693.48 L288.60 693.99 L288.60 695.39 L288.41 694.88 L288.18 694.23 L287.91 693.47 L287.60 692.62 L287.27 691.69 L286.91 690.71 L286.54 689.69 L286.16 688.66 L285.78 687.63 L285.40 686.62 L285.03 685.65 L284.67 684.73 L284.31 683.85 L283.96 682.95 L283.59 682.05 L283.23 681.15 L282.86 680.24 L282.49 679.35 L282.11 678.46 L281.73 677.59 L281.35 676.74 L280.96 675.92 L280.57 675.13 L280.17 674.37 L279.76 673.63 L279.34 672.90 L278.91 672.18 L278.46 671.48 L278.02 670.79 L277.57 670.13 L277.13 669.51 L276.69 668.92 L276.27 668.37 L275.86 667.87 L275.48 667.42 L275.11 667.03 L274.77 666.70 L274.45 666.43 L274.14 666.21 L273.84 666.04 L273.56 665.91 L273.29 665.81 L273.02 665.75 L272.76 665.72 L272.50 665.71 L272.25 665.72 L272.00 665.74 L271.74 665.78 L271.49 665.82 L271.25 665.90 L271.02 666.00 L270.80 666.12 L270.59 666.27 L270.37 666.44 L270.15 666.63 L269.93 666.84 L269.70 667.07 L269.46 667.32 L269.20 667.58 L268.93 667.86 L268.64 668.17 L268.35 668.51 L268.04 668.89 L267.72 669.29 L267.40 669.71 L267.07 670.14 L266.73 670.58 L266.39 671.02 L266.05 671.46 L265.70 671.88 L265.35 672.29 L265.00 672.67 L264.64 673.03 L264.26 673.39 L263.87 673.73 L263.48 674.07 L263.08 674.41 L262.68 674.73 L262.28 675.06 L261.89 675.37 L261.52 675.69 L261.16 676.00 L260.82 676.30 L260.50 676.61 L260.22 676.91 L259.97 677.20 L259.74 677.48 L259.54 677.76 L259.35 678.04 L259.17 678.31 L258.97 678.58 L258.77 678.85 L258.55 679.12 L258.30 679.39 L258.02 679.67 L257.69 679.94 L257.32 680.22 L256.92 680.50 L256.48 680.79 L256.02 681.07 L255.55 681.36 L255.06 681.65 L254.55 681.93 L254.05 682.21 L253.54 682.48 L253.04 682.75 L252.55 683.02 L252.07 683.27 L251.61 683.53 L251.15 683.78 L250.70 684.03 L250.26 684.28 L249.81 684.53 L249.37 684.77 L248.91 685.01 L248.45 685.24 L247.97 685.46 L247.48 685.66 L246.98 685.86 L246.45 686.03 L245.90 686.19 L245.32 686.34 L244.73 686.46 L244.12 686.58 L243.50 686.68 L242.87 686.78 L242.23 686.87 L241.60 686.96 L240.97 687.04 L240.35 687.13 L239.74 687.23 L239.14 687.33 L238.54 687.45 L237.91 687.56 L237.26 687.69 L236.60 687.81 L235.95 687.94 L235.32 688.06 L234.70 688.18 L234.13 688.29 L233.60 688.39 L233.13 688.48 L232.72 688.56 L232.40 688.62Z" fill="#c9c9c9"/>
<path d="M232.40 688.02 L232.72 687.97 L233.13 687.89 L233.60 687.81 L234.13 687.71 L234.70 687.61 L235.32 687.49 L235.95 687.38 L236.60 687.26 L237.26 687.14 L237.91 687.03 L238.54 686.92 L239.14 686.81 L239.74 686.72 L240.35 686.63 L240.97 686.55 L241.60 686.47 L242.23 686.38 L242.87 686.30 L243.50 686.21 L244.12 686.12 L244.73 686.01 L245.32 685.89 L245.90 685.76 L246.45 685.60 L246.98 685.43 L247.48 685.24 L247.97 685.04 L248.45 684.83 L248.91 684.60 L249.37 684.37 L249.81 684.13 L250.26 683.88 L250.70 683.63 L251.15 683.38 L251.61 683.13 L252.07 682.87 L252.55 682.62 L253.04 682.35 L253.54 682.08 L254.05 681.81 L254.55 681.53 L255.06 681.25 L255.55 680.96 L256.02 680.67 L256.48 680.39 L256.92 680.10 L257.32 679.82 L257.69 679.54 L258.02 679.27 L258.30 678.99 L258.55 678.72 L258.77 678.45 L258.97 678.18 L259.17 677.91 L259.35 677.64 L259.54 677.36 L259.74 677.08 L259.97 676.80 L260.22 676.51 L260.50 676.21 L260.82 675.90 L261.16 675.60 L261.52 675.29 L261.89 674.97 L262.28 674.66 L262.68 674.33 L263.08 674.01 L263.48 673.67 L263.87 673.33 L264.26 672.99 L264.64 672.63 L265.00 672.27 L265.35 671.89 L265.70 671.48 L266.05 671.06 L266.39 670.62 L266.73 670.18 L267.07 669.73 L267.40 669.29 L267.72 668.87 L268.04 668.46 L268.35 668.08 L268.64 667.73 L268.93 667.42 L269.20 667.14 L269.46 666.87 L269.70 666.62 L269.93 666.39 L270.15 666.18 L270.37 665.98 L270.59 665.81 L270.80 665.66 L271.02 665.53 L271.25 665.43 L271.49 665.35 L271.74 665.30 L272.00 665.27 L272.25 665.24 L272.50 665.23 L272.76 665.23 L273.02 665.26 L273.29 665.32 L273.56 665.41 L273.84 665.54 L274.14 665.70 L274.45 665.92 L274.77 666.19 L275.11 666.51 L275.48 666.90 L275.86 667.34 L276.27 667.83 L276.69 668.37 L277.13 668.96 L277.57 669.58 L278.02 670.23 L278.46 670.91 L278.91 671.61 L279.34 672.33 L279.76 673.05 L280.17 673.78 L280.57 674.54 L280.96 675.32 L281.35 676.14 L281.73 676.98 L282.11 677.85 L282.49 678.73 L282.86 679.62 L283.23 680.52 L283.59 681.42 L283.96 682.32 L284.31 683.21 L284.67 684.09 L285.03 684.99 L285.40 685.96 L285.78 686.96 L286.16 687.99 L286.54 689.02 L286.91 690.03 L287.27 691.01 L287.60 691.93 L287.91 692.78 L288.18 693.53 L288.41 694.18 L288.60 694.69" fill="none" stroke="#4a6db3" stroke-width="0.95"/>
<text x="231.00" y="697.00" font-size="7.9" fill="#262626" stroke="#262626" stroke-width="0.12">n=124</text>
<text x="260.20" y="711.80" font-size="7.4" text-anchor="middle">latent time</text>
<text x="346.00" y="498.40" font-size="11.85">GO terms of clustered genes</text>
<text x="302.50" y="520.90" font-size="9.5">Keratinization, Establishment of skin barrier,</text>
<text x="302.50" y="532.25" font-size="9.5">ABC transporters, Foxo signaling pathway,</text>
<text x="302.50" y="543.60" font-size="9.5">Sphingolipid signaling pathway, AMPK signaling pathway</text>
<text x="301.80" y="572.80" font-size="9.5"><tspan fill="#e3252b">Regulation of cell population proliferation</tspan><tspan>, Lipid metabolic process,</tspan></text>
<text x="301.80" y="584.15" font-size="9.5"><tspan>mTOR signaling pathway, </tspan><tspan fill="#e3252b">Hippo signaling pathway</tspan><tspan>,</tspan></text>
<text x="301.80" y="595.50" font-size="9.5">AMPK signaling pathway</text>
<text x="301.80" y="623.30" font-size="9.5">Lipid metabolic process, Regulation of cell population proliferation,</text>
<text x="301.80" y="634.65" font-size="9.5">Cell adhesion molecules, Sphingolipid signaling pathway,</text>
<text x="301.80" y="646.00" font-size="9.5"><tspan fill="#e3252b">JAK-STAT signaling pathway</tspan></text>
<text x="301.80" y="674.30" font-size="9.5">Positive regulation of cell death, Regulation of inflammatory</text>
<text x="301.80" y="685.65" font-size="9.5"><tspan>response, Ras signaling pathway, </tspan><tspan fill="#e3252b">TNF signaling pathway</tspan><tspan>,</tspan></text>
<text x="301.80" y="697.00" font-size="9.5">Wnt signaling pathway, AMPK signaling pathway,</text>
<text x="98.60" y="748.90" font-size="17.0" fill="#000">H</text>
<text x="162.60" y="757.00" font-size="11.7" text-anchor="middle"><tspan font-style="italic">Supt6</tspan><tspan> KO</tspan></text>
<rect x="127.50" y="761.00" width="67.40" height="1.95" fill="url(#h154)"/>
<rect x="127.50" y="762.35" width="67.40" height="2.05" fill="url(#h155)"/>
<rect x="127.50" y="763.81" width="67.40" height="1.78" fill="url(#h156)"/>
<rect x="127.50" y="764.99" width="67.40" height="1.98" fill="url(#h157)"/>
<rect x="127.50" y="766.37" width="67.40" height="2.35" fill="url(#h158)"/>
<rect x="127.50" y="768.12" width="67.40" height="1.74" fill="url(#h159)"/>
<rect x="127.50" y="769.26" width="67.40" height="1.52" fill="url(#h160)"/>
<rect x="127.50" y="770.18" width="67.40" height="2.12" fill="url(#h161)"/>
<rect x="127.50" y="771.70" width="67.40" height="1.55" fill="url(#h162)"/>
<rect x="127.50" y="772.65" width="67.40" height="2.40" fill="url(#h163)"/>
<rect x="127.50" y="774.45" width="67.40" height="1.45" fill="url(#h164)"/>
<rect x="127.50" y="775.90" width="67.40" height="0.8" fill="#ffffff"/>
<rect x="127.50" y="776.70" width="67.40" height="2.02" fill="url(#h165)"/>
<rect x="127.50" y="778.12" width="67.40" height="2.08" fill="url(#h166)"/>
<rect x="127.50" y="779.60" width="67.40" height="2.00" fill="url(#h167)"/>
<rect x="127.50" y="781.00" width="67.40" height="2.30" fill="url(#h168)"/>
<rect x="127.50" y="782.70" width="67.40" height="0.20" fill="url(#h169)"/>
<rect x="127.50" y="782.90" width="67.40" height="1.0" fill="#ffffff"/>
<rect x="127.50" y="783.90" width="67.40" height="2.24" fill="url(#h170)"/>
<rect x="127.50" y="785.54" width="67.40" height="1.82" fill="url(#h171)"/>
<rect x="127.50" y="786.75" width="67.40" height="2.32" fill="url(#h172)"/>
<rect x="127.50" y="788.47" width="67.40" height="2.60" fill="url(#h173)"/>
<rect x="127.50" y="790.47" width="67.40" height="2.47" fill="url(#h174)"/>
<rect x="127.50" y="792.33" width="67.40" height="2.21" fill="url(#h175)"/>
<rect x="127.50" y="793.94" width="67.40" height="1.94" fill="url(#h176)"/>
<rect x="127.50" y="795.29" width="67.40" height="2.26" fill="url(#h177)"/>
<rect x="127.50" y="796.94" width="67.40" height="1.59" fill="url(#h178)"/>
<rect x="127.50" y="797.93" width="67.40" height="1.49" fill="url(#h179)"/>
<rect x="127.50" y="798.81" width="67.40" height="1.19" fill="url(#h180)"/>
<rect x="127.50" y="800.00" width="67.40" height="2.29" fill="url(#h181)"/>
<rect x="127.50" y="801.69" width="67.40" height="1.94" fill="url(#h182)"/>
<rect x="127.50" y="803.03" width="67.40" height="2.55" fill="url(#h183)"/>
<rect x="127.50" y="804.98" width="67.40" height="2.19" fill="url(#h184)"/>
<rect x="127.50" y="806.57" width="67.40" height="2.07" fill="url(#h185)"/>
<rect x="127.50" y="808.04" width="67.40" height="2.09" fill="url(#h186)"/>
<rect x="127.50" y="809.52" width="67.40" height="2.02" fill="url(#h187)"/>
<rect x="127.50" y="810.95" width="67.40" height="2.51" fill="url(#h188)"/>
<rect x="127.50" y="812.86" width="67.40" height="1.43" fill="url(#h189)"/>
<rect x="127.50" y="813.69" width="67.40" height="2.48" fill="url(#h190)"/>
<rect x="127.50" y="815.57" width="67.40" height="1.76" fill="url(#h191)"/>
<rect x="127.50" y="816.73" width="67.40" height="2.20" fill="url(#h192)"/>
<rect x="127.50" y="818.33" width="67.40" height="1.83" fill="url(#h193)"/>
<rect x="127.50" y="819.55" width="67.40" height="2.57" fill="url(#h194)"/>
<rect x="127.50" y="821.53" width="67.40" height="1.63" fill="url(#h195)"/>
<rect x="127.50" y="822.56" width="67.40" height="2.21" fill="url(#h196)"/>
<rect x="127.50" y="824.17" width="67.40" height="2.28" fill="url(#h197)"/>
<rect x="127.50" y="825.85" width="67.40" height="2.02" fill="url(#h198)"/>
<rect x="127.50" y="827.27" width="67.40" height="2.27" fill="url(#h199)"/>
<rect x="127.50" y="828.94" width="67.40" height="2.31" fill="url(#h200)"/>
<rect x="127.50" y="830.66" width="67.40" height="1.68" fill="url(#h201)"/>
<rect x="127.50" y="831.73" width="67.40" height="0.27" fill="url(#h202)"/>
<rect x="127.50" y="832.00" width="67.40" height="0.6" fill="#ffffff"/>
<rect x="127.50" y="832.60" width="67.40" height="2.08" fill="url(#h203)"/>
<rect x="127.50" y="834.08" width="67.40" height="1.66" fill="url(#h204)"/>
<rect x="127.50" y="835.14" width="67.40" height="1.44" fill="url(#h205)"/>
<rect x="127.50" y="835.99" width="67.40" height="1.45" fill="url(#h206)"/>
<rect x="127.50" y="836.84" width="67.40" height="2.39" fill="url(#h207)"/>
<rect x="127.50" y="838.63" width="67.40" height="1.81" fill="url(#h208)"/>
<rect x="127.50" y="839.84" width="67.40" height="1.44" fill="url(#h209)"/>
<rect x="127.50" y="840.68" width="67.40" height="2.15" fill="url(#h210)"/>
<rect x="127.50" y="842.23" width="67.40" height="2.01" fill="url(#h211)"/>
<rect x="127.50" y="843.64" width="67.40" height="1.75" fill="url(#h212)"/>
<rect x="127.50" y="845.40" width="67.40" height="1.4" fill="#ffffff"/>
<rect x="127.50" y="846.80" width="67.40" height="2.34" fill="url(#h213)"/>
<rect x="127.50" y="848.54" width="67.40" height="1.99" fill="url(#h214)"/>
<rect x="127.50" y="849.92" width="67.40" height="1.81" fill="url(#h215)"/>
<rect x="127.50" y="851.13" width="67.40" height="1.61" fill="url(#h216)"/>
<rect x="127.50" y="852.14" width="67.40" height="2.04" fill="url(#h217)"/>
<rect x="127.50" y="853.59" width="67.40" height="2.32" fill="url(#h218)"/>
<rect x="127.50" y="855.30" width="67.40" height="2.16" fill="url(#h219)"/>
<rect x="127.50" y="856.86" width="67.40" height="2.58" fill="url(#h220)"/>
<rect x="127.50" y="858.84" width="67.40" height="1.40" fill="url(#h221)"/>
<rect x="127.50" y="859.65" width="67.40" height="2.11" fill="url(#h222)"/>
<rect x="127.50" y="861.16" width="67.40" height="1.62" fill="url(#h223)"/>
<rect x="127.50" y="862.17" width="67.40" height="2.36" fill="url(#h224)"/>
<rect x="127.50" y="863.93" width="67.40" height="2.17" fill="url(#h225)"/>
<rect x="127.50" y="865.50" width="67.40" height="1.59" fill="url(#h226)"/>
<rect x="127.50" y="866.49" width="67.40" height="1.72" fill="url(#h227)"/>
<rect x="127.50" y="867.61" width="67.40" height="1.42" fill="url(#h228)"/>
<rect x="127.50" y="868.43" width="67.40" height="1.44" fill="url(#h229)"/>
<rect x="127.50" y="869.28" width="67.40" height="1.87" fill="url(#h230)"/>
<rect x="127.50" y="870.55" width="67.40" height="2.55" fill="url(#h231)"/>
<rect x="127.50" y="872.50" width="67.40" height="2.23" fill="url(#h232)"/>
<rect x="127.50" y="874.13" width="67.40" height="1.97" fill="url(#h233)"/>
<rect x="127.50" y="875.50" width="67.40" height="1.72" fill="url(#h234)"/>
<rect x="127.50" y="876.62" width="67.40" height="1.94" fill="url(#h235)"/>
<rect x="127.50" y="877.97" width="67.40" height="1.50" fill="url(#h236)"/>
<rect x="127.50" y="878.87" width="67.40" height="1.55" fill="url(#h237)"/>
<rect x="127.50" y="879.81" width="67.40" height="1.42" fill="url(#h238)"/>
<rect x="127.50" y="880.63" width="67.40" height="2.02" fill="url(#h239)"/>
<rect x="127.50" y="882.05" width="67.40" height="2.15" fill="url(#h240)"/>
<rect x="127.50" y="883.60" width="67.40" height="1.61" fill="url(#h241)"/>
<rect x="127.50" y="884.61" width="67.40" height="1.82" fill="url(#h242)"/>
<rect x="127.50" y="885.82" width="67.40" height="2.06" fill="url(#h243)"/>
<rect x="127.50" y="887.28" width="67.40" height="2.30" fill="url(#h244)"/>
<rect x="127.50" y="888.98" width="67.40" height="1.51" fill="url(#h245)"/>
<rect x="127.50" y="889.89" width="67.40" height="1.49" fill="url(#h246)"/>
<rect x="127.50" y="890.78" width="67.40" height="1.48" fill="url(#h247)"/>
<rect x="127.50" y="891.67" width="67.40" height="1.50" fill="url(#h248)"/>
<rect x="127.50" y="892.57" width="67.40" height="2.47" fill="url(#h249)"/>
<rect x="127.50" y="894.44" width="67.40" height="2.59" fill="url(#h250)"/>
<rect x="127.50" y="896.43" width="67.40" height="2.11" fill="url(#h251)"/>
<rect x="127.50" y="897.94" width="67.40" height="1.90" fill="url(#h252)"/>
<rect x="127.50" y="899.24" width="67.40" height="2.27" fill="url(#h253)"/>
<rect x="127.50" y="900.91" width="67.40" height="1.95" fill="url(#h254)"/>
<rect x="127.50" y="902.26" width="67.40" height="1.55" fill="url(#h255)"/>
<rect x="127.50" y="903.22" width="67.40" height="2.14" fill="url(#h256)"/>
<rect x="127.50" y="904.76" width="67.40" height="1.92" fill="url(#h257)"/>
<rect x="127.50" y="906.08" width="67.40" height="1.02" fill="url(#h258)"/>
<rect x="127.50" y="907.10" width="67.40" height="0.9" fill="#ffffff"/>
<rect x="127.50" y="908.00" width="67.40" height="2.06" fill="url(#h259)"/>
<rect x="127.50" y="909.46" width="67.40" height="0.94" fill="url(#h260)"/>
<rect x="127.50" y="910.40" width="67.40" height="1.90" fill="url(#h261)"/>
<rect x="127.50" y="911.70" width="67.40" height="1.75" fill="url(#h262)"/>
<rect x="127.50" y="912.85" width="67.40" height="2.05" fill="url(#h263)"/>
<rect x="127.50" y="914.30" width="67.40" height="1.72" fill="url(#h264)"/>
<rect x="127.50" y="915.42" width="67.40" height="1.41" fill="url(#h265)"/>
<rect x="127.50" y="916.24" width="67.40" height="1.86" fill="url(#h266)"/>
<rect x="127.50" y="917.50" width="67.40" height="1.50" fill="url(#h267)"/>
<rect x="127.50" y="918.40" width="67.40" height="1.52" fill="url(#h268)"/>
<rect x="127.50" y="919.32" width="67.40" height="2.26" fill="url(#h269)"/>
<rect x="127.50" y="920.98" width="67.40" height="2.28" fill="url(#h270)"/>
<rect x="127.50" y="922.66" width="67.40" height="1.81" fill="url(#h271)"/>
<rect x="127.50" y="923.87" width="67.40" height="1.82" fill="url(#h272)"/>
<rect x="127.50" y="925.09" width="67.40" height="2.33" fill="url(#h273)"/>
<rect x="127.50" y="926.81" width="67.40" height="1.96" fill="url(#h274)"/>
<rect x="127.50" y="928.18" width="67.40" height="2.14" fill="url(#h275)"/>
<rect x="127.50" y="929.72" width="67.40" height="2.42" fill="url(#h276)"/>
<rect x="127.50" y="931.54" width="67.40" height="2.09" fill="url(#h277)"/>
<rect x="127.50" y="933.03" width="67.40" height="1.46" fill="url(#h278)"/>
<rect x="127.50" y="933.89" width="67.40" height="2.04" fill="url(#h279)"/>
<rect x="127.50" y="935.33" width="67.40" height="1.71" fill="url(#h280)"/>
<rect x="127.50" y="936.44" width="67.40" height="1.68" fill="url(#h281)"/>
<rect x="127.50" y="937.52" width="67.40" height="1.79" fill="url(#h282)"/>
<rect x="127.50" y="938.71" width="67.40" height="1.84" fill="url(#h283)"/>
<rect x="127.50" y="939.95" width="67.40" height="1.83" fill="url(#h284)"/>
<rect x="127.50" y="941.19" width="67.40" height="1.75" fill="url(#h285)"/>
<rect x="127.50" y="942.34" width="67.40" height="1.80" fill="url(#h286)"/>
<rect x="127.50" y="943.54" width="67.40" height="2.51" fill="url(#h287)"/>
<rect x="127.50" y="945.45" width="67.40" height="1.65" fill="url(#h288)"/>
<rect x="127.50" y="946.50" width="67.40" height="0.50" fill="url(#h289)"/>
<rect x="127.50" y="947.00" width="67.40" height="1.58" fill="url(#h290)"/>
<rect x="127.50" y="947.98" width="67.40" height="1.47" fill="url(#h291)"/>
<rect x="127.50" y="948.84" width="67.40" height="1.99" fill="url(#h292)"/>
<rect x="127.50" y="950.23" width="67.40" height="2.44" fill="url(#h293)"/>
<rect x="127.50" y="952.07" width="67.40" height="2.36" fill="url(#h294)"/>
<rect x="127.50" y="953.83" width="67.40" height="2.25" fill="url(#h295)"/>
<rect x="127.50" y="955.48" width="67.40" height="2.25" fill="url(#h296)"/>
<rect x="127.50" y="957.13" width="67.40" height="2.48" fill="url(#h297)"/>
<rect x="127.50" y="959.02" width="67.40" height="1.72" fill="url(#h298)"/>
<rect x="127.50" y="960.14" width="67.40" height="1.43" fill="url(#h299)"/>
<rect x="127.50" y="960.97" width="67.40" height="2.13" fill="url(#h300)"/>
<rect x="127.50" y="962.50" width="67.40" height="1.10" fill="url(#h301)"/>
<text x="202.30" y="775.00" font-size="6.7" text-anchor="middle" transform="rotate(-90 202.30 775.00)">Cluster_1</text>
<text x="202.30" y="818.00" font-size="6.7" text-anchor="middle" transform="rotate(-90 202.30 818.00)">Cluster_2</text>
<text x="202.30" y="877.70" font-size="6.7" text-anchor="middle" transform="rotate(-90 202.30 877.70)">Cluster_3</text>
<text x="202.30" y="935.90" font-size="6.7" text-anchor="middle" transform="rotate(-90 202.30 935.90)">Cluster_4</text>
<text x="122.00" y="866.30" font-size="9.4" text-anchor="middle" transform="rotate(-90 122.00 866.30)">Pseudotime-dependent genes</text>
<rect x="113.30" y="938.10" width="6.2" height="26.60" rx="0.8" fill="url(#cl302)"/>
<text x="121.90" y="940.90" font-size="4.9" text-anchor="middle" fill="#333" transform="rotate(90 121.90 940.90)" stroke="#333" stroke-width="0.12">2</text>
<text x="121.90" y="945.90" font-size="4.9" text-anchor="middle" fill="#333" transform="rotate(90 121.90 945.90)" stroke="#333" stroke-width="0.12">1</text>
<text x="121.90" y="950.90" font-size="4.9" text-anchor="middle" fill="#333" transform="rotate(90 121.90 950.90)" stroke="#333" stroke-width="0.12">0</text>
<text x="121.90" y="955.90" font-size="4.9" text-anchor="middle" fill="#333" transform="rotate(90 121.90 955.90)" stroke="#333" stroke-width="0.12">-1</text>
<text x="121.90" y="960.90" font-size="4.9" text-anchor="middle" fill="#333" transform="rotate(90 121.90 960.90)" stroke="#333" stroke-width="0.12">-2</text>
<text x="117.00" y="975.60" font-size="7.3" text-anchor="middle">Basal</text>
<text x="159.60" y="970.90" font-size="7.3" text-anchor="middle">Pseudotime</text>
<text x="196.70" y="975.60" font-size="7.3">Diff</text>
<line x1="128.00" y1="973.20" x2="189.10" y2="973.20" stroke="#000" stroke-width="1.2"/>
<path d="M196.00 973.20L184.50 968.80L187.72 973.20L184.50 977.60Z" fill="#000"/>
<text x="221.30" y="775.50" font-size="6.4" text-anchor="end" fill="#484848" stroke="#484848" stroke-width="0.18">0.7</text>
<text x="221.30" y="784.10" font-size="6.4" text-anchor="end" fill="#484848" stroke="#484848" stroke-width="0.18">0.6</text>
<text x="221.30" y="792.70" font-size="6.4" text-anchor="end" fill="#484848" stroke="#484848" stroke-width="0.18">0.5</text>
<text x="221.30" y="801.30" font-size="6.4" text-anchor="end" fill="#484848" stroke="#484848" stroke-width="0.18">0.4</text>
<text x="221.30" y="809.90" font-size="6.4" text-anchor="end" fill="#484848" stroke="#484848" stroke-width="0.18">0.3</text>
<rect x="222.60" y="773.30" width="60.80" height="35.90" fill="none" stroke="#a4a4a4" stroke-width="0.85"/>
<text x="225.40" y="815.60" font-size="6.4" text-anchor="middle" fill="#484848" stroke="#484848" stroke-width="0.15">0.00</text>
<line x1="225.40" y1="809.20" x2="225.40" y2="810.40" stroke="#999" stroke-width="0.5"/>
<text x="239.15" y="815.60" font-size="6.4" text-anchor="middle" fill="#484848" stroke="#484848" stroke-width="0.15">0.25</text>
<line x1="239.15" y1="809.20" x2="239.15" y2="810.40" stroke="#999" stroke-width="0.5"/>
<text x="252.90" y="815.60" font-size="6.4" text-anchor="middle" fill="#484848" stroke="#484848" stroke-width="0.15">0.50</text>
<line x1="252.90" y1="809.20" x2="252.90" y2="810.40" stroke="#999" stroke-width="0.5"/>
<text x="266.65" y="815.60" font-size="6.4" text-anchor="middle" fill="#484848" stroke="#484848" stroke-width="0.15">0.75</text>
<line x1="266.65" y1="809.20" x2="266.65" y2="810.40" stroke="#999" stroke-width="0.5"/>
<text x="280.40" y="815.60" font-size="6.4" text-anchor="middle" fill="#484848" stroke="#484848" stroke-width="0.15">1.00</text>
<line x1="280.40" y1="809.20" x2="280.40" y2="810.40" stroke="#999" stroke-width="0.5"/>
<path d="M225.40 778.18 L225.61 778.15 L225.89 778.10 L226.20 778.03 L226.56 777.96 L226.95 777.88 L227.36 777.81 L227.78 777.74 L228.21 777.69 L228.64 777.66 L229.05 777.65 L229.44 777.68 L229.80 777.75 L230.13 777.84 L230.45 777.96 L230.76 778.11 L231.06 778.27 L231.36 778.45 L231.66 778.65 L231.96 778.87 L232.26 779.12 L232.58 779.38 L232.92 779.66 L233.27 779.95 L233.65 780.27 L234.05 780.62 L234.48 781.02 L234.93 781.46 L235.40 781.92 L235.88 782.40 L236.37 782.90 L236.85 783.39 L237.34 783.88 L237.81 784.34 L238.28 784.78 L238.72 785.18 L239.15 785.53 L239.55 785.83 L239.94 786.08 L240.31 786.28 L240.68 786.46 L241.03 786.62 L241.38 786.77 L241.73 786.92 L242.08 787.07 L242.44 787.23 L242.80 787.42 L243.17 787.66 L243.55 787.95 L243.94 788.30 L244.35 788.71 L244.76 789.16 L245.18 789.64 L245.60 790.14 L246.03 790.66 L246.45 791.19 L246.87 791.71 L247.29 792.21 L247.70 792.69 L248.11 793.14 L248.50 793.54 L248.89 793.92 L249.28 794.31 L249.68 794.69 L250.07 795.07 L250.46 795.43 L250.84 795.77 L251.21 796.08 L251.58 796.36 L251.93 796.59 L252.27 796.78 L252.59 796.91 L252.90 796.98 L253.18 797.00 L253.44 797.00 L253.68 796.96 L253.90 796.88 L254.11 796.77 L254.31 796.60 L254.51 796.39 L254.71 796.12 L254.92 795.79 L255.15 795.40 L255.39 794.94 L255.65 794.40 L255.93 793.76 L256.22 792.99 L256.52 792.12 L256.83 791.17 L257.15 790.16 L257.47 789.11 L257.80 788.04 L258.14 786.98 L258.47 785.93 L258.81 784.87 L259.16 783.89 L259.50 783.00 L259.85 782.15 L260.21 781.32 L260.59 780.49 L260.97 779.69 L261.35 778.90 L261.73 778.16 L262.12 777.45 L262.49 776.79 L262.86 776.19 L263.22 775.65 L263.57 775.18 L263.90 774.78 L264.21 774.47 L264.49 774.21 L264.76 774.02 L265.02 773.89 L265.27 773.81 L265.52 773.78 L265.76 773.81 L266.02 773.87 L266.28 773.98 L266.57 774.13 L266.87 774.32 L267.20 774.54 L267.56 774.81 L267.94 775.14 L268.33 775.53 L268.75 775.98 L269.17 776.46 L269.61 776.98 L270.04 777.52 L270.48 778.09 L270.91 778.67 L271.34 779.25 L271.75 779.83 L272.15 780.41 L272.54 780.98 L272.92 781.58 L273.30 782.20 L273.68 782.83 L274.05 783.48 L274.42 784.14 L274.78 784.80 L275.14 785.46 L275.50 786.13 L275.85 786.80 L276.20 787.46 L276.55 788.11 L276.90 788.78 L277.27 789.49 L277.64 790.24 L278.02 790.99 L278.39 791.75 L278.75 792.49 L279.10 793.21 L279.42 793.89 L279.72 794.51 L279.99 795.07 L280.22 795.54 L280.40 795.92 L280.40 805.72 L280.22 805.27 L279.99 804.70 L279.72 804.04 L279.42 803.29 L279.10 802.48 L278.75 801.62 L278.39 800.73 L278.02 799.82 L277.64 798.91 L277.27 798.01 L276.90 797.15 L276.55 796.33 L276.20 795.54 L275.85 794.74 L275.50 793.93 L275.14 793.11 L274.78 792.30 L274.42 791.49 L274.05 790.68 L273.68 789.88 L273.30 789.10 L272.92 788.32 L272.54 787.57 L272.15 786.83 L271.75 786.10 L271.34 785.35 L270.91 784.59 L270.48 783.83 L270.04 783.09 L269.61 782.36 L269.17 781.67 L268.75 781.01 L268.33 780.40 L267.94 779.84 L267.56 779.35 L267.20 778.94 L266.87 778.59 L266.57 778.28 L266.28 778.01 L266.02 777.79 L265.76 777.62 L265.52 777.49 L265.27 777.42 L265.02 777.40 L264.76 777.42 L264.49 777.51 L264.21 777.64 L263.90 777.83 L263.57 778.09 L263.22 778.42 L262.86 778.82 L262.49 779.27 L262.12 779.77 L261.73 780.32 L261.35 780.91 L260.97 781.53 L260.59 782.19 L260.21 782.86 L259.85 783.55 L259.50 784.25 L259.16 785.00 L258.81 785.84 L258.47 786.76 L258.14 787.78 L257.80 788.84 L257.47 789.91 L257.15 790.96 L256.83 791.97 L256.52 792.92 L256.22 793.79 L255.93 794.56 L255.65 795.20 L255.39 795.74 L255.15 796.20 L254.92 796.59 L254.71 796.92 L254.51 797.19 L254.31 797.40 L254.11 797.57 L253.90 797.68 L253.68 797.76 L253.44 797.80 L253.18 797.80 L252.90 797.78 L252.59 797.71 L252.27 797.58 L251.93 797.39 L251.58 797.16 L251.21 796.88 L250.84 796.57 L250.46 796.23 L250.07 795.87 L249.68 795.49 L249.28 795.11 L248.89 794.72 L248.50 794.34 L248.11 793.94 L247.70 793.49 L247.29 793.01 L246.87 792.51 L246.45 791.99 L246.03 791.46 L245.60 790.94 L245.18 790.44 L244.76 789.96 L244.35 789.51 L243.94 789.10 L243.55 788.75 L243.17 788.46 L242.80 788.22 L242.44 788.03 L242.08 787.87 L241.73 787.76 L241.38 787.67 L241.03 787.59 L240.68 787.50 L240.31 787.39 L239.94 787.26 L239.55 787.09 L239.15 786.87 L238.72 786.60 L238.28 786.28 L237.81 785.93 L237.34 785.56 L236.85 785.17 L236.37 784.77 L235.88 784.37 L235.40 783.98 L234.93 783.61 L234.48 783.26 L234.05 782.94 L233.65 782.67 L233.27 782.43 L232.92 782.20 L232.58 781.98 L232.26 781.79 L231.96 781.60 L231.66 781.44 L231.36 781.29 L231.06 781.17 L230.76 781.07 L230.45 780.98 L230.13 780.93 L229.80 780.89 L229.44 780.90 L229.05 780.95 L228.64 781.03 L228.21 781.14 L227.78 781.28 L227.36 781.43 L226.95 781.58 L226.56 781.73 L226.20 781.88 L225.89 782.00 L225.61 782.11 L225.40 782.18Z" fill="#c9c9c9"/>
<path d="M225.40 780.18 L225.61 780.13 L225.89 780.05 L226.20 779.95 L226.56 779.85 L226.95 779.73 L227.36 779.62 L227.78 779.51 L228.21 779.42 L228.64 779.34 L229.05 779.30 L229.44 779.29 L229.80 779.32 L230.13 779.39 L230.45 779.47 L230.76 779.59 L231.06 779.72 L231.36 779.87 L231.66 780.05 L231.96 780.24 L232.26 780.45 L232.58 780.68 L232.92 780.93 L233.27 781.19 L233.65 781.47 L234.05 781.78 L234.48 782.14 L234.93 782.53 L235.40 782.95 L235.88 783.39 L236.37 783.84 L236.85 784.28 L237.34 784.72 L237.81 785.14 L238.28 785.53 L238.72 785.89 L239.15 786.20 L239.55 786.46 L239.94 786.67 L240.31 786.84 L240.68 786.98 L241.03 787.10 L241.38 787.22 L241.73 787.34 L242.08 787.47 L242.44 787.63 L242.80 787.82 L243.17 788.06 L243.55 788.35 L243.94 788.70 L244.35 789.11 L244.76 789.56 L245.18 790.04 L245.60 790.54 L246.03 791.06 L246.45 791.59 L246.87 792.11 L247.29 792.61 L247.70 793.09 L248.11 793.54 L248.50 793.94 L248.89 794.32 L249.28 794.71 L249.68 795.09 L250.07 795.47 L250.46 795.83 L250.84 796.17 L251.21 796.48 L251.58 796.76 L251.93 796.99 L252.27 797.18 L252.59 797.31 L252.90 797.38 L253.18 797.40 L253.44 797.40 L253.68 797.36 L253.90 797.28 L254.11 797.17 L254.31 797.00 L254.51 796.79 L254.71 796.52 L254.92 796.19 L255.15 795.80 L255.39 795.34 L255.65 794.80 L255.93 794.16 L256.22 793.39 L256.52 792.52 L256.83 791.57 L257.15 790.56 L257.47 789.51 L257.80 788.44 L258.14 787.38 L258.47 786.34 L258.81 785.36 L259.16 784.44 L259.50 783.62 L259.85 782.85 L260.21 782.09 L260.59 781.34 L260.97 780.61 L261.35 779.91 L261.73 779.24 L262.12 778.61 L262.49 778.03 L262.86 777.50 L263.22 777.04 L263.57 776.64 L263.90 776.31 L264.21 776.05 L264.49 775.86 L264.76 775.72 L265.02 775.64 L265.27 775.61 L265.52 775.64 L265.76 775.71 L266.02 775.83 L266.28 776.00 L266.57 776.21 L266.87 776.45 L267.20 776.74 L267.56 777.08 L267.94 777.49 L268.33 777.97 L268.75 778.49 L269.17 779.06 L269.61 779.67 L270.04 780.30 L270.48 780.96 L270.91 781.63 L271.34 782.30 L271.75 782.97 L272.15 783.62 L272.54 784.28 L272.92 784.95 L273.30 785.65 L273.68 786.36 L274.05 787.08 L274.42 787.81 L274.78 788.55 L275.14 789.29 L275.50 790.03 L275.85 790.77 L276.20 791.50 L276.55 792.22 L276.90 792.96 L277.27 793.75 L277.64 794.57 L278.02 795.41 L278.39 796.24 L278.75 797.06 L279.10 797.85 L279.42 798.59 L279.72 799.27 L279.99 799.88 L280.22 800.40 L280.40 800.82" fill="none" stroke="#4a6db3" stroke-width="0.95"/>
<text x="225.20" y="806.80" font-size="7.9" fill="#262626" stroke="#262626" stroke-width="0.12">n=33</text>
<text x="221.30" y="828.70" font-size="6.4" text-anchor="end" fill="#484848" stroke="#484848" stroke-width="0.18">0.6</text>
<text x="221.30" y="836.70" font-size="6.4" text-anchor="end" fill="#484848" stroke="#484848" stroke-width="0.18">0.5</text>
<text x="221.30" y="844.80" font-size="6.4" text-anchor="end" fill="#484848" stroke="#484848" stroke-width="0.18">0.4</text>
<text x="221.30" y="852.80" font-size="6.4" text-anchor="end" fill="#484848" stroke="#484848" stroke-width="0.18">0.3</text>
<text x="221.30" y="860.90" font-size="6.4" text-anchor="end" fill="#484848" stroke="#484848" stroke-width="0.18">0.2</text>
<rect x="222.60" y="823.60" width="60.80" height="37.10" fill="none" stroke="#a4a4a4" stroke-width="0.85"/>
<text x="225.40" y="866.00" font-size="6.4" text-anchor="middle" fill="#484848" stroke="#484848" stroke-width="0.15">0.00</text>
<line x1="225.40" y1="860.70" x2="225.40" y2="861.90" stroke="#999" stroke-width="0.5"/>
<text x="239.15" y="866.00" font-size="6.4" text-anchor="middle" fill="#484848" stroke="#484848" stroke-width="0.15">0.25</text>
<line x1="239.15" y1="860.70" x2="239.15" y2="861.90" stroke="#999" stroke-width="0.5"/>
<text x="252.90" y="866.00" font-size="6.4" text-anchor="middle" fill="#484848" stroke="#484848" stroke-width="0.15">0.50</text>
<line x1="252.90" y1="860.70" x2="252.90" y2="861.90" stroke="#999" stroke-width="0.5"/>
<text x="266.65" y="866.00" font-size="6.4" text-anchor="middle" fill="#484848" stroke="#484848" stroke-width="0.15">0.75</text>
<line x1="266.65" y1="860.70" x2="266.65" y2="861.90" stroke="#999" stroke-width="0.5"/>
<text x="280.40" y="866.00" font-size="6.4" text-anchor="middle" fill="#484848" stroke="#484848" stroke-width="0.15">1.00</text>
<line x1="280.40" y1="860.70" x2="280.40" y2="861.90" stroke="#999" stroke-width="0.5"/>
<path d="M225.40 855.09 L225.79 855.03 L226.28 854.95 L226.84 854.87 L227.48 854.77 L228.17 854.66 L228.91 854.55 L229.68 854.43 L230.47 854.32 L231.28 854.20 L232.08 854.09 L232.88 853.98 L233.65 853.88 L234.43 853.77 L235.26 853.66 L236.13 853.54 L237.01 853.41 L237.91 853.29 L238.81 853.17 L239.69 853.06 L240.56 852.96 L241.38 852.87 L242.17 852.79 L242.89 852.71 L243.55 852.67 L244.14 852.66 L244.67 852.70 L245.15 852.77 L245.59 852.87 L245.99 852.99 L246.37 853.12 L246.73 853.24 L247.07 853.35 L247.42 853.44 L247.76 853.49 L248.12 853.51 L248.50 853.47 L248.89 853.39 L249.28 853.28 L249.66 853.15 L250.05 852.99 L250.43 852.81 L250.80 852.61 L251.17 852.40 L251.54 852.16 L251.89 851.90 L252.24 851.63 L252.57 851.35 L252.90 851.06 L253.21 850.75 L253.51 850.44 L253.80 850.11 L254.08 849.77 L254.35 849.42 L254.62 849.04 L254.88 848.65 L255.14 848.22 L255.40 847.77 L255.66 847.29 L255.93 846.78 L256.20 846.23 L256.47 845.62 L256.74 844.96 L257.00 844.26 L257.26 843.51 L257.52 842.74 L257.78 841.95 L258.05 841.15 L258.32 840.35 L258.60 839.55 L258.89 838.76 L259.19 837.99 L259.50 837.27 L259.82 836.57 L260.16 835.88 L260.50 835.19 L260.84 834.51 L261.20 833.84 L261.56 833.18 L261.93 832.54 L262.31 831.92 L262.70 831.31 L263.09 830.72 L263.49 830.16 L263.90 829.63 L264.32 829.10 L264.75 828.59 L265.20 828.09 L265.65 827.60 L266.11 827.13 L266.58 826.69 L267.05 826.27 L267.53 825.88 L268.00 825.53 L268.47 825.21 L268.94 824.93 L269.40 824.70 L269.86 824.51 L270.32 824.38 L270.77 824.29 L271.23 824.23 L271.69 824.21 L272.15 824.22 L272.61 824.25 L273.07 824.30 L273.52 824.37 L273.98 824.44 L274.44 824.52 L274.90 824.60 L275.38 824.70 L275.88 824.82 L276.40 824.98 L276.94 825.16 L277.47 825.35 L277.99 825.55 L278.50 825.75 L278.97 825.94 L279.41 826.12 L279.80 826.28 L280.13 826.42 L280.40 826.52 L280.40 831.32 L280.13 831.17 L279.80 830.97 L279.41 830.74 L278.97 830.48 L278.50 830.21 L277.99 829.91 L277.47 829.62 L276.94 829.33 L276.40 829.06 L275.88 828.80 L275.38 828.58 L274.90 828.40 L274.44 828.24 L273.98 828.08 L273.52 827.92 L273.07 827.77 L272.61 827.64 L272.15 827.52 L271.69 827.43 L271.23 827.37 L270.77 827.34 L270.32 827.35 L269.86 827.40 L269.40 827.50 L268.94 827.65 L268.47 827.84 L268.00 828.07 L267.53 828.34 L267.05 828.64 L266.58 828.98 L266.11 829.34 L265.65 829.72 L265.20 830.12 L264.75 830.55 L264.32 830.98 L263.90 831.43 L263.49 831.89 L263.09 832.38 L262.70 832.89 L262.31 833.43 L261.93 833.98 L261.56 834.56 L261.20 835.15 L260.84 835.75 L260.50 836.37 L260.16 837.00 L259.82 837.63 L259.50 838.27 L259.19 838.94 L258.89 839.64 L258.60 840.38 L258.32 841.15 L258.05 841.95 L257.78 842.75 L257.52 843.54 L257.26 844.31 L257.00 845.06 L256.74 845.76 L256.47 846.42 L256.20 847.02 L255.93 847.58 L255.66 848.09 L255.40 848.57 L255.14 849.02 L254.88 849.45 L254.62 849.84 L254.35 850.22 L254.08 850.57 L253.80 850.91 L253.51 851.24 L253.21 851.55 L252.90 851.86 L252.57 852.15 L252.24 852.43 L251.89 852.70 L251.54 852.96 L251.17 853.20 L250.80 853.41 L250.43 853.61 L250.05 853.79 L249.66 853.95 L249.28 854.08 L248.89 854.19 L248.50 854.27 L248.12 854.31 L247.76 854.29 L247.42 854.24 L247.07 854.15 L246.73 854.04 L246.37 853.92 L245.99 853.79 L245.59 853.67 L245.15 853.57 L244.67 853.50 L244.14 853.46 L243.55 853.47 L242.89 853.51 L242.17 853.59 L241.38 853.72 L240.56 853.89 L239.69 854.07 L238.81 854.27 L237.91 854.48 L237.01 854.69 L236.13 854.90 L235.26 855.10 L234.43 855.30 L233.65 855.48 L232.88 855.65 L232.08 855.84 L231.28 856.03 L230.47 856.23 L229.68 856.42 L228.91 856.61 L228.17 856.79 L227.48 856.97 L226.84 857.13 L226.28 857.27 L225.79 857.39 L225.40 857.49Z" fill="#c9c9c9"/>
<path d="M225.40 856.29 L225.79 856.21 L226.28 856.11 L226.84 856.00 L227.48 855.87 L228.17 855.73 L228.91 855.58 L229.68 855.43 L230.47 855.27 L231.28 855.12 L232.08 854.96 L232.88 854.81 L233.65 854.68 L234.43 854.53 L235.26 854.38 L236.13 854.22 L237.01 854.05 L237.91 853.88 L238.81 853.72 L239.69 853.56 L240.56 853.42 L241.38 853.30 L242.17 853.19 L242.89 853.11 L243.55 853.07 L244.14 853.06 L244.67 853.10 L245.15 853.17 L245.59 853.27 L245.99 853.39 L246.37 853.52 L246.73 853.64 L247.07 853.75 L247.42 853.84 L247.76 853.89 L248.12 853.91 L248.50 853.87 L248.89 853.79 L249.28 853.68 L249.66 853.55 L250.05 853.39 L250.43 853.21 L250.80 853.01 L251.17 852.80 L251.54 852.56 L251.89 852.30 L252.24 852.03 L252.57 851.75 L252.90 851.46 L253.21 851.15 L253.51 850.84 L253.80 850.51 L254.08 850.17 L254.35 849.82 L254.62 849.44 L254.88 849.05 L255.14 848.62 L255.40 848.17 L255.66 847.69 L255.93 847.18 L256.20 846.62 L256.47 846.02 L256.74 845.36 L257.00 844.66 L257.26 843.91 L257.52 843.14 L257.78 842.35 L258.05 841.55 L258.32 840.75 L258.60 839.96 L258.89 839.20 L259.19 838.46 L259.50 837.77 L259.82 837.10 L260.16 836.44 L260.50 835.78 L260.84 835.13 L261.20 834.49 L261.56 833.87 L261.93 833.26 L262.31 832.67 L262.70 832.10 L263.09 831.55 L263.49 831.02 L263.90 830.53 L264.32 830.04 L264.75 829.57 L265.20 829.11 L265.65 828.66 L266.11 828.24 L266.58 827.83 L267.05 827.46 L267.53 827.11 L268.00 826.80 L268.47 826.52 L268.94 826.29 L269.40 826.10 L269.86 825.96 L270.32 825.86 L270.77 825.81 L271.23 825.80 L271.69 825.82 L272.15 825.87 L272.61 825.95 L273.07 826.04 L273.52 826.14 L273.98 826.26 L274.44 826.38 L274.90 826.50 L275.38 826.64 L275.88 826.81 L276.40 827.02 L276.94 827.25 L277.47 827.49 L277.99 827.73 L278.50 827.98 L278.97 828.21 L279.41 828.43 L279.80 828.63 L280.13 828.79 L280.40 828.92" fill="none" stroke="#4a6db3" stroke-width="0.95"/>
<text x="225.20" y="852.10" font-size="7.9" fill="#262626" stroke="#262626" stroke-width="0.12">n=92</text>
<text x="221.30" y="876.40" font-size="6.4" text-anchor="end" fill="#484848" stroke="#484848" stroke-width="0.18">1.00</text>
<text x="221.30" y="885.10" font-size="6.4" text-anchor="end" fill="#484848" stroke="#484848" stroke-width="0.18">0.75</text>
<text x="221.30" y="893.80" font-size="6.4" text-anchor="end" fill="#484848" stroke="#484848" stroke-width="0.18">0.50</text>
<text x="221.30" y="902.50" font-size="6.4" text-anchor="end" fill="#484848" stroke="#484848" stroke-width="0.18">0.25</text>
<text x="221.30" y="911.20" font-size="6.4" text-anchor="end" fill="#484848" stroke="#484848" stroke-width="0.18">0.00</text>
<rect x="222.60" y="874.20" width="60.80" height="36.00" fill="none" stroke="#a4a4a4" stroke-width="0.85"/>
<text x="225.40" y="916.20" font-size="6.4" text-anchor="middle" fill="#484848" stroke="#484848" stroke-width="0.15">0.00</text>
<line x1="225.40" y1="910.20" x2="225.40" y2="911.40" stroke="#999" stroke-width="0.5"/>
<text x="239.15" y="916.20" font-size="6.4" text-anchor="middle" fill="#484848" stroke="#484848" stroke-width="0.15">0.25</text>
<line x1="239.15" y1="910.20" x2="239.15" y2="911.40" stroke="#999" stroke-width="0.5"/>
<text x="252.90" y="916.20" font-size="6.4" text-anchor="middle" fill="#484848" stroke="#484848" stroke-width="0.15">0.50</text>
<line x1="252.90" y1="910.20" x2="252.90" y2="911.40" stroke="#999" stroke-width="0.5"/>
<text x="266.65" y="916.20" font-size="6.4" text-anchor="middle" fill="#484848" stroke="#484848" stroke-width="0.15">0.75</text>
<line x1="266.65" y1="910.20" x2="266.65" y2="911.40" stroke="#999" stroke-width="0.5"/>
<text x="280.40" y="916.20" font-size="6.4" text-anchor="middle" fill="#484848" stroke="#484848" stroke-width="0.15">1.00</text>
<line x1="280.40" y1="910.20" x2="280.40" y2="911.40" stroke="#999" stroke-width="0.5"/>
<path d="M225.40 875.78 L225.67 875.82 L226.00 875.86 L226.39 875.89 L226.83 875.93 L227.30 875.98 L227.81 876.03 L228.33 876.10 L228.86 876.18 L229.40 876.29 L229.92 876.41 L230.42 876.57 L230.90 876.75 L231.36 876.96 L231.82 877.22 L232.28 877.50 L232.73 877.82 L233.19 878.15 L233.65 878.49 L234.11 878.84 L234.57 879.19 L235.03 879.54 L235.48 879.88 L235.94 880.20 L236.40 880.49 L236.86 880.77 L237.33 881.05 L237.80 881.31 L238.27 881.58 L238.75 881.83 L239.22 882.09 L239.69 882.34 L240.15 882.58 L240.60 882.83 L241.05 883.07 L241.48 883.31 L241.90 883.54 L242.31 883.75 L242.70 883.95 L243.09 884.13 L243.47 884.30 L243.84 884.48 L244.20 884.65 L244.56 884.83 L244.91 885.03 L245.26 885.23 L245.61 885.46 L245.96 885.71 L246.30 885.98 L246.64 886.29 L246.99 886.64 L247.33 887.01 L247.66 887.40 L248.00 887.81 L248.33 888.23 L248.65 888.65 L248.97 889.06 L249.28 889.46 L249.58 889.84 L249.87 890.19 L250.15 890.50 L250.42 890.80 L250.67 891.09 L250.91 891.37 L251.15 891.64 L251.37 891.89 L251.59 892.14 L251.81 892.36 L252.02 892.56 L252.24 892.74 L252.45 892.89 L252.67 893.02 L252.90 893.11 L253.13 893.18 L253.35 893.22 L253.56 893.23 L253.78 893.22 L253.99 893.19 L254.21 893.14 L254.43 893.06 L254.65 892.97 L254.89 892.85 L255.13 892.72 L255.38 892.58 L255.65 892.42 L255.93 892.23 L256.23 891.99 L256.55 891.71 L256.87 891.41 L257.20 891.09 L257.54 890.76 L257.88 890.44 L258.22 890.12 L258.55 889.81 L258.88 889.51 L259.19 889.25 L259.50 889.04 L259.79 888.86 L260.07 888.70 L260.34 888.56 L260.60 888.43 L260.86 888.33 L261.12 888.24 L261.37 888.17 L261.64 888.12 L261.91 888.09 L262.19 888.08 L262.49 888.09 L262.80 888.12 L263.12 888.16 L263.46 888.23 L263.80 888.31 L264.14 888.41 L264.50 888.53 L264.86 888.67 L265.23 888.83 L265.61 889.01 L266.00 889.20 L266.39 889.42 L266.79 889.65 L267.20 889.90 L267.61 890.17 L268.03 890.44 L268.45 890.73 L268.87 891.03 L269.30 891.35 L269.74 891.69 L270.20 892.06 L270.66 892.45 L271.14 892.88 L271.64 893.35 L272.16 893.85 L272.70 894.40 L273.29 895.03 L273.95 895.77 L274.65 896.59 L275.39 897.47 L276.14 898.37 L276.89 899.29 L277.63 900.19 L278.32 901.05 L278.96 901.85 L279.54 902.56 L280.02 903.16 L280.40 903.62 L280.40 907.42 L280.02 906.91 L279.54 906.24 L278.96 905.46 L278.32 904.57 L277.63 903.61 L276.89 902.61 L276.14 901.59 L275.39 900.58 L274.65 899.61 L273.95 898.69 L273.29 897.86 L272.70 897.15 L272.16 896.53 L271.64 895.95 L271.14 895.42 L270.66 894.92 L270.20 894.46 L269.74 894.03 L269.30 893.63 L268.87 893.26 L268.45 892.90 L268.03 892.55 L267.61 892.23 L267.20 891.90 L266.79 891.60 L266.39 891.31 L266.00 891.04 L265.61 890.79 L265.23 890.56 L264.86 890.35 L264.50 890.16 L264.14 889.99 L263.80 889.84 L263.46 889.72 L263.12 889.61 L262.80 889.52 L262.49 889.45 L262.19 889.40 L261.91 889.37 L261.64 889.37 L261.37 889.38 L261.12 889.41 L260.86 889.46 L260.60 889.53 L260.34 889.62 L260.07 889.73 L259.79 889.85 L259.50 889.99 L259.19 890.16 L258.88 890.37 L258.55 890.63 L258.22 890.92 L257.88 891.24 L257.54 891.56 L257.20 891.89 L256.87 892.21 L256.55 892.51 L256.23 892.79 L255.93 893.03 L255.65 893.22 L255.38 893.38 L255.13 893.52 L254.89 893.65 L254.65 893.77 L254.43 893.86 L254.21 893.94 L253.99 893.99 L253.78 894.02 L253.56 894.03 L253.35 894.02 L253.13 893.98 L252.90 893.91 L252.67 893.82 L252.45 893.69 L252.24 893.54 L252.02 893.36 L251.81 893.16 L251.59 892.94 L251.37 892.69 L251.15 892.44 L250.91 892.17 L250.67 891.89 L250.42 891.60 L250.15 891.30 L249.87 890.99 L249.58 890.64 L249.28 890.26 L248.97 889.86 L248.65 889.45 L248.33 889.03 L248.00 888.61 L247.66 888.20 L247.33 887.81 L246.99 887.44 L246.64 887.09 L246.30 886.78 L245.96 886.51 L245.61 886.26 L245.26 886.03 L244.91 885.83 L244.56 885.63 L244.20 885.45 L243.84 885.28 L243.47 885.10 L243.09 884.93 L242.70 884.75 L242.31 884.55 L241.90 884.34 L241.48 884.15 L241.05 883.95 L240.60 883.75 L240.15 883.55 L239.69 883.35 L239.22 883.15 L238.75 882.94 L238.27 882.73 L237.80 882.51 L237.33 882.29 L236.86 882.06 L236.40 881.83 L235.94 881.57 L235.48 881.30 L235.03 881.01 L234.57 880.70 L234.11 880.40 L233.65 880.09 L233.19 879.79 L232.73 879.50 L232.28 879.24 L231.82 879.00 L231.36 878.79 L230.90 878.61 L230.42 878.48 L229.92 878.38 L229.40 878.30 L228.86 878.25 L228.33 878.22 L227.81 878.20 L227.30 878.19 L226.83 878.19 L226.39 878.20 L226.00 878.20 L225.67 878.20 L225.40 878.18Z" fill="#c9c9c9"/>
<path d="M225.40 876.98 L225.67 877.01 L226.00 877.03 L226.39 877.04 L226.83 877.06 L227.30 877.08 L227.81 877.11 L228.33 877.16 L228.86 877.22 L229.40 877.29 L229.92 877.39 L230.42 877.52 L230.90 877.68 L231.36 877.87 L231.82 878.11 L232.28 878.37 L232.73 878.66 L233.19 878.97 L233.65 879.29 L234.11 879.62 L234.57 879.95 L235.03 880.27 L235.48 880.59 L235.94 880.89 L236.40 881.16 L236.86 881.42 L237.33 881.67 L237.80 881.91 L238.27 882.15 L238.75 882.39 L239.22 882.62 L239.69 882.84 L240.15 883.07 L240.60 883.29 L241.05 883.51 L241.48 883.73 L241.90 883.94 L242.31 884.15 L242.70 884.35 L243.09 884.53 L243.47 884.70 L243.84 884.88 L244.20 885.05 L244.56 885.23 L244.91 885.43 L245.26 885.63 L245.61 885.86 L245.96 886.11 L246.30 886.38 L246.64 886.69 L246.99 887.04 L247.33 887.41 L247.66 887.80 L248.00 888.21 L248.33 888.63 L248.65 889.05 L248.97 889.46 L249.28 889.86 L249.58 890.24 L249.87 890.59 L250.15 890.90 L250.42 891.20 L250.67 891.49 L250.91 891.77 L251.15 892.04 L251.37 892.29 L251.59 892.54 L251.81 892.76 L252.02 892.96 L252.24 893.14 L252.45 893.29 L252.67 893.42 L252.90 893.51 L253.13 893.58 L253.35 893.62 L253.56 893.63 L253.78 893.62 L253.99 893.59 L254.21 893.54 L254.43 893.46 L254.65 893.37 L254.89 893.25 L255.13 893.12 L255.38 892.98 L255.65 892.82 L255.93 892.63 L256.23 892.39 L256.55 892.11 L256.87 891.81 L257.20 891.49 L257.54 891.16 L257.88 890.84 L258.22 890.52 L258.55 890.22 L258.88 889.94 L259.19 889.70 L259.50 889.51 L259.79 889.35 L260.07 889.21 L260.34 889.09 L260.60 888.98 L260.86 888.90 L261.12 888.83 L261.37 888.78 L261.64 888.75 L261.91 888.73 L262.19 888.74 L262.49 888.77 L262.80 888.82 L263.12 888.88 L263.46 888.97 L263.80 889.08 L264.14 889.20 L264.50 889.35 L264.86 889.51 L265.23 889.70 L265.61 889.90 L266.00 890.12 L266.39 890.36 L266.79 890.62 L267.20 890.90 L267.61 891.20 L268.03 891.50 L268.45 891.81 L268.87 892.14 L269.30 892.49 L269.74 892.86 L270.20 893.26 L270.66 893.69 L271.14 894.15 L271.64 894.65 L272.16 895.19 L272.70 895.78 L273.29 896.45 L273.95 897.23 L274.65 898.10 L275.39 899.02 L276.14 899.98 L276.89 900.95 L277.63 901.90 L278.32 902.81 L278.96 903.65 L279.54 904.40 L280.02 905.03 L280.40 905.52" fill="none" stroke="#4a6db3" stroke-width="0.95"/>
<text x="225.20" y="907.30" font-size="7.9" fill="#262626" stroke="#262626" stroke-width="0.12">n=90</text>
<text x="221.30" y="933.50" font-size="6.4" text-anchor="end" fill="#484848" stroke="#484848" stroke-width="0.18">0.8</text>
<text x="221.30" y="942.60" font-size="6.4" text-anchor="end" fill="#484848" stroke="#484848" stroke-width="0.18">0.6</text>
<text x="221.30" y="951.60" font-size="6.4" text-anchor="end" fill="#484848" stroke="#484848" stroke-width="0.18">0.4</text>
<text x="221.30" y="960.70" font-size="6.4" text-anchor="end" fill="#484848" stroke="#484848" stroke-width="0.18">0.2</text>
<rect x="222.60" y="925.30" width="60.80" height="35.90" fill="none" stroke="#a4a4a4" stroke-width="0.85"/>
<text x="225.40" y="967.20" font-size="6.4" text-anchor="middle" fill="#484848" stroke="#484848" stroke-width="0.15">0.00</text>
<line x1="225.40" y1="961.20" x2="225.40" y2="962.40" stroke="#999" stroke-width="0.5"/>
<text x="239.15" y="967.20" font-size="6.4" text-anchor="middle" fill="#484848" stroke="#484848" stroke-width="0.15">0.25</text>
<line x1="239.15" y1="961.20" x2="239.15" y2="962.40" stroke="#999" stroke-width="0.5"/>
<text x="252.90" y="967.20" font-size="6.4" text-anchor="middle" fill="#484848" stroke="#484848" stroke-width="0.15">0.50</text>
<line x1="252.90" y1="961.20" x2="252.90" y2="962.40" stroke="#999" stroke-width="0.5"/>
<text x="266.65" y="967.20" font-size="6.4" text-anchor="middle" fill="#484848" stroke="#484848" stroke-width="0.15">0.75</text>
<line x1="266.65" y1="961.20" x2="266.65" y2="962.40" stroke="#999" stroke-width="0.5"/>
<text x="280.40" y="967.20" font-size="6.4" text-anchor="middle" fill="#484848" stroke="#484848" stroke-width="0.15">1.00</text>
<line x1="280.40" y1="961.20" x2="280.40" y2="962.40" stroke="#999" stroke-width="0.5"/>
<path d="M225.40 957.80 L225.72 957.75 L226.11 957.69 L226.57 957.62 L227.09 957.55 L227.65 957.46 L228.25 957.37 L228.88 957.27 L229.51 957.15 L230.16 957.03 L230.79 956.89 L231.41 956.73 L232.00 956.56 L232.58 956.36 L233.18 956.13 L233.79 955.88 L234.40 955.60 L235.02 955.31 L235.64 955.01 L236.26 954.72 L236.87 954.43 L237.47 954.17 L238.05 953.92 L238.61 953.70 L239.15 953.52 L239.67 953.38 L240.18 953.29 L240.68 953.23 L241.17 953.19 L241.64 953.16 L242.11 953.15 L242.56 953.12 L243.00 953.08 L243.43 953.03 L243.85 952.95 L244.25 952.83 L244.65 952.66 L245.03 952.47 L245.38 952.25 L245.72 952.01 L246.04 951.75 L246.34 951.47 L246.64 951.18 L246.94 950.86 L247.24 950.53 L247.54 950.18 L247.85 949.82 L248.17 949.44 L248.50 949.04 L248.85 948.59 L249.21 948.08 L249.59 947.52 L249.97 946.92 L250.35 946.30 L250.73 945.68 L251.12 945.08 L251.49 944.52 L251.86 944.00 L252.22 943.55 L252.57 943.19 L252.90 942.92 L253.21 942.77 L253.49 942.70 L253.76 942.71 L254.02 942.79 L254.27 942.92 L254.52 943.08 L254.76 943.27 L255.02 943.46 L255.28 943.65 L255.57 943.82 L255.87 943.96 L256.20 944.06 L256.55 944.13 L256.92 944.21 L257.31 944.30 L257.71 944.39 L258.12 944.48 L258.54 944.55 L258.96 944.60 L259.40 944.63 L259.84 944.64 L260.27 944.62 L260.71 944.56 L261.15 944.46 L261.58 944.32 L262.02 944.16 L262.45 943.96 L262.88 943.74 L263.32 943.49 L263.76 943.22 L264.21 942.93 L264.67 942.62 L265.15 942.29 L265.63 941.94 L266.13 941.57 L266.65 941.19 L267.19 940.79 L267.75 940.36 L268.33 939.91 L268.93 939.44 L269.54 938.94 L270.16 938.44 L270.78 937.91 L271.40 937.38 L272.01 936.83 L272.62 936.28 L273.22 935.73 L273.80 935.17 L274.39 934.58 L275.01 933.93 L275.64 933.25 L276.29 932.54 L276.92 931.82 L277.55 931.11 L278.15 930.42 L278.71 929.76 L279.23 929.16 L279.69 928.62 L280.08 928.16 L280.40 927.80 L280.40 929.40 L280.08 929.75 L279.69 930.19 L279.23 930.71 L278.71 931.30 L278.15 931.94 L277.55 932.61 L276.92 933.30 L276.29 933.99 L275.64 934.68 L275.01 935.34 L274.39 935.96 L273.80 936.53 L273.22 937.07 L272.62 937.60 L272.01 938.13 L271.40 938.65 L270.78 939.16 L270.16 939.66 L269.54 940.15 L268.93 940.62 L268.33 941.07 L267.75 941.50 L267.19 941.91 L266.65 942.29 L266.13 942.65 L265.63 943.00 L265.15 943.33 L264.67 943.65 L264.21 943.94 L263.76 944.22 L263.32 944.47 L262.88 944.70 L262.45 944.91 L262.02 945.09 L261.58 945.24 L261.15 945.36 L260.71 945.44 L260.27 945.49 L259.84 945.49 L259.40 945.47 L258.96 945.42 L258.54 945.35 L258.12 945.28 L257.71 945.19 L257.31 945.10 L256.92 945.01 L256.55 944.93 L256.20 944.86 L255.87 944.76 L255.57 944.62 L255.28 944.45 L255.02 944.26 L254.76 944.07 L254.52 943.88 L254.27 943.72 L254.02 943.59 L253.76 943.51 L253.49 943.50 L253.21 943.57 L252.90 943.72 L252.57 943.99 L252.22 944.35 L251.86 944.80 L251.49 945.32 L251.12 945.88 L250.73 946.48 L250.35 947.10 L249.97 947.72 L249.59 948.32 L249.21 948.88 L248.85 949.39 L248.50 949.84 L248.17 950.24 L247.85 950.62 L247.54 950.98 L247.24 951.33 L246.94 951.66 L246.64 951.98 L246.34 952.27 L246.04 952.55 L245.72 952.81 L245.38 953.05 L245.03 953.27 L244.65 953.46 L244.25 953.63 L243.85 953.75 L243.43 953.83 L243.00 953.88 L242.56 953.92 L242.11 953.95 L241.64 953.97 L241.17 954.01 L240.68 954.07 L240.18 954.15 L239.67 954.26 L239.15 954.42 L238.61 954.62 L238.05 954.86 L237.47 955.13 L236.87 955.42 L236.26 955.72 L235.64 956.04 L235.02 956.36 L234.40 956.67 L233.79 956.97 L233.18 957.25 L232.58 957.50 L232.00 957.72 L231.41 957.91 L230.79 958.09 L230.16 958.25 L229.51 958.40 L228.88 958.54 L228.25 958.67 L227.65 958.78 L227.09 958.88 L226.57 958.98 L226.11 959.06 L225.72 959.13 L225.40 959.20Z" fill="#c9c9c9"/>
<path d="M225.40 958.50 L225.72 958.44 L226.11 958.37 L226.57 958.30 L227.09 958.21 L227.65 958.12 L228.25 958.02 L228.88 957.90 L229.51 957.78 L230.16 957.64 L230.79 957.49 L231.41 957.32 L232.00 957.14 L232.58 956.93 L233.18 956.69 L233.79 956.42 L234.40 956.13 L235.02 955.83 L235.64 955.53 L236.26 955.22 L236.87 954.93 L237.47 954.65 L238.05 954.39 L238.61 954.16 L239.15 953.97 L239.67 953.82 L240.18 953.72 L240.68 953.65 L241.17 953.60 L241.64 953.57 L242.11 953.55 L242.56 953.52 L243.00 953.48 L243.43 953.43 L243.85 953.35 L244.25 953.23 L244.65 953.06 L245.03 952.87 L245.38 952.65 L245.72 952.41 L246.04 952.15 L246.34 951.87 L246.64 951.58 L246.94 951.26 L247.24 950.93 L247.54 950.58 L247.85 950.22 L248.17 949.84 L248.50 949.44 L248.85 948.99 L249.21 948.48 L249.59 947.92 L249.97 947.32 L250.35 946.70 L250.73 946.08 L251.12 945.48 L251.49 944.92 L251.86 944.40 L252.22 943.95 L252.57 943.59 L252.90 943.32 L253.21 943.17 L253.49 943.10 L253.76 943.11 L254.02 943.19 L254.27 943.32 L254.52 943.48 L254.76 943.67 L255.02 943.86 L255.28 944.05 L255.57 944.22 L255.87 944.36 L256.20 944.46 L256.55 944.53 L256.92 944.61 L257.31 944.70 L257.71 944.79 L258.12 944.88 L258.54 944.95 L258.96 945.01 L259.40 945.05 L259.84 945.07 L260.27 945.05 L260.71 945.00 L261.15 944.91 L261.58 944.78 L262.02 944.62 L262.45 944.44 L262.88 944.22 L263.32 943.98 L263.76 943.72 L264.21 943.44 L264.67 943.13 L265.15 942.81 L265.63 942.47 L266.13 942.11 L266.65 941.74 L267.19 941.35 L267.75 940.93 L268.33 940.49 L268.93 940.03 L269.54 939.55 L270.16 939.05 L270.78 938.54 L271.40 938.01 L272.01 937.48 L272.62 936.94 L273.22 936.40 L273.80 935.85 L274.39 935.27 L275.01 934.64 L275.64 933.96 L276.29 933.27 L276.92 932.56 L277.55 931.86 L278.15 931.18 L278.71 930.53 L279.23 929.94 L279.69 929.41 L280.08 928.96 L280.40 928.60" fill="none" stroke="#4a6db3" stroke-width="0.95"/>
<text x="225.20" y="952.00" font-size="7.9" fill="#262626" stroke="#262626" stroke-width="0.12">n=84</text>
<text x="252.20" y="973.40" font-size="7.4" text-anchor="middle">latent time</text>
<text x="340.90" y="757.10" font-size="11.85">GO terms of clustered genes</text>
<text x="294.50" y="784.00" font-size="9.5"><tspan fill="#e3252b">Keratinocyte proliferation</tspan><tspan>, Positive regulation of epidermal</tspan></text>
<text x="294.50" y="795.35" font-size="9.5">growth factor receptor signaling pathway,</text>
<text x="294.50" y="806.70" font-size="9.5"><tspan>Phosphatidylinositol signaling system, </tspan><tspan fill="#e3252b">Hippo signaling pathway</tspan></text>
<text x="293.20" y="834.60" font-size="9.5"><tspan>Cell differentiation, Cell adhesion, </tspan><tspan fill="#e3252b">Epithelial cell differentiation</tspan><tspan>,</tspan></text>
<text x="293.20" y="845.95" font-size="9.5"><tspan fill="#e3252b">JAK-STAT signaling pathway</tspan><tspan>, </tspan><tspan fill="#e3252b">TNF signaling pathway</tspan><tspan>, Cytokine-</tspan></text>
<text x="293.20" y="857.30" font-size="9.5">cytokine receptor interaction</text>
<text x="293.20" y="884.80" font-size="9.5">Epidermal cell differentiation, Regulation of water loss via skin,</text>
<text x="293.20" y="896.15" font-size="9.5">fatty acid elongation, MAPK signaling pathway, Phospholipase D</text>
<text x="293.20" y="907.50" font-size="9.5">signaling pathway, Ras signaling pathway, ABC transporters</text>
<text x="293.20" y="936.50" font-size="9.5"><tspan fill="#e3252b">Cell differentiation</tspan><tspan>, Cell adhesion, </tspan><tspan fill="#e3252b">Cell population proliferation</tspan><tspan>,</tspan></text>
<text x="293.20" y="947.85" font-size="9.5">Cell adhesion molecules, ABC transporters, cAMP signaling</text>
<text x="293.20" y="959.20" font-size="9.5"><tspan>pathway, </tspan><tspan fill="#e3252b">Cytokine-cytokine receptor interaction</tspan></text>
</svg>
</body></html>
